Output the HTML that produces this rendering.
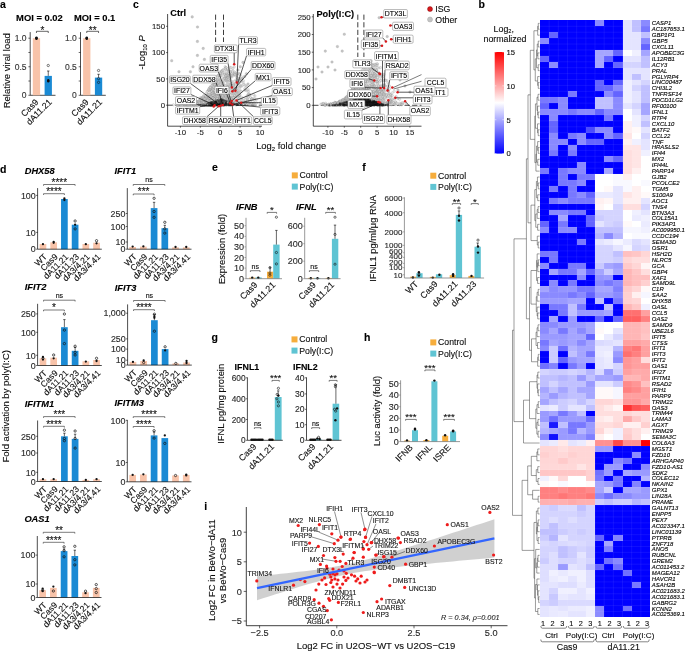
<!DOCTYPE html>
<html><head><meta charset="utf-8"><style>
html,body{margin:0;padding:0;background:#fff;width:685px;height:651px;overflow:hidden}
svg{display:block;font-family:"Liberation Sans", sans-serif;will-change:transform}
text{stroke:currentColor;stroke-width:0.12px}
</style></head><body>
<svg width="685" height="651" viewBox="0 0 685 651">
<rect width="685" height="651" fill="#fff"/>
<g shape-rendering="crispEdges">
<rect x="540.00" y="20.40" width="9.22" height="5.96" fill="#0000ff"/>
<rect x="549.17" y="20.40" width="9.22" height="5.96" fill="#0000ff"/>
<rect x="558.33" y="20.40" width="9.22" height="5.96" fill="#0000ff"/>
<rect x="567.50" y="20.40" width="9.22" height="5.96" fill="#0000ff"/>
<rect x="576.67" y="20.40" width="9.22" height="5.96" fill="#0000ff"/>
<rect x="585.83" y="20.40" width="9.22" height="5.96" fill="#0000ff"/>
<rect x="595.00" y="20.40" width="9.22" height="5.96" fill="#8a8aff"/>
<rect x="604.17" y="20.40" width="9.22" height="5.96" fill="#0000ff"/>
<rect x="613.33" y="20.40" width="9.22" height="5.96" fill="#0000ff"/>
<rect x="622.50" y="20.40" width="9.22" height="5.96" fill="#e4e4ff"/>
<rect x="631.67" y="20.40" width="9.22" height="5.96" fill="#c0c0ff"/>
<rect x="640.83" y="20.40" width="9.22" height="5.96" fill="#8a8aff"/>
<rect x="540.00" y="26.31" width="9.22" height="5.96" fill="#0000ff"/>
<rect x="549.17" y="26.31" width="9.22" height="5.96" fill="#0000ff"/>
<rect x="558.33" y="26.31" width="9.22" height="5.96" fill="#0000ff"/>
<rect x="567.50" y="26.31" width="9.22" height="5.96" fill="#0000ff"/>
<rect x="576.67" y="26.31" width="9.22" height="5.96" fill="#0000ff"/>
<rect x="585.83" y="26.31" width="9.22" height="5.96" fill="#0000ff"/>
<rect x="595.00" y="26.31" width="9.22" height="5.96" fill="#0000ff"/>
<rect x="604.17" y="26.31" width="9.22" height="5.96" fill="#0000ff"/>
<rect x="613.33" y="26.31" width="9.22" height="5.96" fill="#0000ff"/>
<rect x="622.50" y="26.31" width="9.22" height="5.96" fill="#e4e4ff"/>
<rect x="631.67" y="26.31" width="9.22" height="5.96" fill="#c0c0ff"/>
<rect x="640.83" y="26.31" width="9.22" height="5.96" fill="#7878ff"/>
<rect x="540.00" y="32.22" width="9.22" height="5.96" fill="#0000ff"/>
<rect x="549.17" y="32.22" width="9.22" height="5.96" fill="#6464ff"/>
<rect x="558.33" y="32.22" width="9.22" height="5.96" fill="#0000ff"/>
<rect x="567.50" y="32.22" width="9.22" height="5.96" fill="#0000ff"/>
<rect x="576.67" y="32.22" width="9.22" height="5.96" fill="#0000ff"/>
<rect x="585.83" y="32.22" width="9.22" height="5.96" fill="#0000ff"/>
<rect x="595.00" y="32.22" width="9.22" height="5.96" fill="#0000ff"/>
<rect x="604.17" y="32.22" width="9.22" height="5.96" fill="#0000ff"/>
<rect x="613.33" y="32.22" width="9.22" height="5.96" fill="#0000ff"/>
<rect x="622.50" y="32.22" width="9.22" height="5.96" fill="#e4e4ff"/>
<rect x="631.67" y="32.22" width="9.22" height="5.96" fill="#e4e4ff"/>
<rect x="640.83" y="32.22" width="9.22" height="5.96" fill="#c0c0ff"/>
<rect x="540.00" y="38.13" width="9.22" height="5.96" fill="#8a8aff"/>
<rect x="549.17" y="38.13" width="9.22" height="5.96" fill="#0000ff"/>
<rect x="558.33" y="38.13" width="9.22" height="5.96" fill="#0000ff"/>
<rect x="567.50" y="38.13" width="9.22" height="5.96" fill="#0000ff"/>
<rect x="576.67" y="38.13" width="9.22" height="5.96" fill="#0000ff"/>
<rect x="585.83" y="38.13" width="9.22" height="5.96" fill="#0000ff"/>
<rect x="595.00" y="38.13" width="9.22" height="5.96" fill="#0000ff"/>
<rect x="604.17" y="38.13" width="9.22" height="5.96" fill="#0000ff"/>
<rect x="613.33" y="38.13" width="9.22" height="5.96" fill="#0000ff"/>
<rect x="622.50" y="38.13" width="9.22" height="5.96" fill="#e4e4ff"/>
<rect x="631.67" y="38.13" width="9.22" height="5.96" fill="#e4e4ff"/>
<rect x="640.83" y="38.13" width="9.22" height="5.96" fill="#8a8aff"/>
<rect x="540.00" y="44.04" width="9.22" height="5.96" fill="#0000ff"/>
<rect x="549.17" y="44.04" width="9.22" height="5.96" fill="#0000ff"/>
<rect x="558.33" y="44.04" width="9.22" height="5.96" fill="#0000ff"/>
<rect x="567.50" y="44.04" width="9.22" height="5.96" fill="#0000ff"/>
<rect x="576.67" y="44.04" width="9.22" height="5.96" fill="#0000ff"/>
<rect x="585.83" y="44.04" width="9.22" height="5.96" fill="#0000ff"/>
<rect x="595.00" y="44.04" width="9.22" height="5.96" fill="#0000ff"/>
<rect x="604.17" y="44.04" width="9.22" height="5.96" fill="#0000ff"/>
<rect x="613.33" y="44.04" width="9.22" height="5.96" fill="#0000ff"/>
<rect x="622.50" y="44.04" width="9.22" height="5.96" fill="#e4e4ff"/>
<rect x="631.67" y="44.04" width="9.22" height="5.96" fill="#e4e4ff"/>
<rect x="640.83" y="44.04" width="9.22" height="5.96" fill="#6464ff"/>
<rect x="540.00" y="49.95" width="9.22" height="5.96" fill="#0000ff"/>
<rect x="549.17" y="49.95" width="9.22" height="5.96" fill="#0000ff"/>
<rect x="558.33" y="49.95" width="9.22" height="5.96" fill="#0000ff"/>
<rect x="567.50" y="49.95" width="9.22" height="5.96" fill="#0000ff"/>
<rect x="576.67" y="49.95" width="9.22" height="5.96" fill="#0000ff"/>
<rect x="585.83" y="49.95" width="9.22" height="5.96" fill="#0000ff"/>
<rect x="595.00" y="49.95" width="9.22" height="5.96" fill="#a5a5ff"/>
<rect x="604.17" y="49.95" width="9.22" height="5.96" fill="#a5a5ff"/>
<rect x="613.33" y="49.95" width="9.22" height="5.96" fill="#6464ff"/>
<rect x="622.50" y="49.95" width="9.22" height="5.96" fill="#ffffff"/>
<rect x="631.67" y="49.95" width="9.22" height="5.96" fill="#f0f0ff"/>
<rect x="640.83" y="49.95" width="9.22" height="5.96" fill="#a5a5ff"/>
<rect x="540.00" y="55.87" width="9.22" height="5.96" fill="#6464ff"/>
<rect x="549.17" y="55.87" width="9.22" height="5.96" fill="#0000ff"/>
<rect x="558.33" y="55.87" width="9.22" height="5.96" fill="#0000ff"/>
<rect x="567.50" y="55.87" width="9.22" height="5.96" fill="#0000ff"/>
<rect x="576.67" y="55.87" width="9.22" height="5.96" fill="#0000ff"/>
<rect x="585.83" y="55.87" width="9.22" height="5.96" fill="#0000ff"/>
<rect x="595.00" y="55.87" width="9.22" height="5.96" fill="#a5a5ff"/>
<rect x="604.17" y="55.87" width="9.22" height="5.96" fill="#6464ff"/>
<rect x="613.33" y="55.87" width="9.22" height="5.96" fill="#0000ff"/>
<rect x="622.50" y="55.87" width="9.22" height="5.96" fill="#e4e4ff"/>
<rect x="631.67" y="55.87" width="9.22" height="5.96" fill="#e4e4ff"/>
<rect x="640.83" y="55.87" width="9.22" height="5.96" fill="#c0c0ff"/>
<rect x="540.00" y="61.78" width="9.22" height="5.96" fill="#0000ff"/>
<rect x="549.17" y="61.78" width="9.22" height="5.96" fill="#8a8aff"/>
<rect x="558.33" y="61.78" width="9.22" height="5.96" fill="#0000ff"/>
<rect x="567.50" y="61.78" width="9.22" height="5.96" fill="#0000ff"/>
<rect x="576.67" y="61.78" width="9.22" height="5.96" fill="#0000ff"/>
<rect x="585.83" y="61.78" width="9.22" height="5.96" fill="#0000ff"/>
<rect x="595.00" y="61.78" width="9.22" height="5.96" fill="#a5a5ff"/>
<rect x="604.17" y="61.78" width="9.22" height="5.96" fill="#0000ff"/>
<rect x="613.33" y="61.78" width="9.22" height="5.96" fill="#6464ff"/>
<rect x="622.50" y="61.78" width="9.22" height="5.96" fill="#d4d4ff"/>
<rect x="631.67" y="61.78" width="9.22" height="5.96" fill="#d4d4ff"/>
<rect x="640.83" y="61.78" width="9.22" height="5.96" fill="#c0c0ff"/>
<rect x="540.00" y="67.69" width="9.22" height="5.96" fill="#0000ff"/>
<rect x="549.17" y="67.69" width="9.22" height="5.96" fill="#0000ff"/>
<rect x="558.33" y="67.69" width="9.22" height="5.96" fill="#0000ff"/>
<rect x="567.50" y="67.69" width="9.22" height="5.96" fill="#0000ff"/>
<rect x="576.67" y="67.69" width="9.22" height="5.96" fill="#0000ff"/>
<rect x="585.83" y="67.69" width="9.22" height="5.96" fill="#0000ff"/>
<rect x="595.00" y="67.69" width="9.22" height="5.96" fill="#0000ff"/>
<rect x="604.17" y="67.69" width="9.22" height="5.96" fill="#0000ff"/>
<rect x="613.33" y="67.69" width="9.22" height="5.96" fill="#0000ff"/>
<rect x="622.50" y="67.69" width="9.22" height="5.96" fill="#e4e4ff"/>
<rect x="631.67" y="67.69" width="9.22" height="5.96" fill="#e4e4ff"/>
<rect x="640.83" y="67.69" width="9.22" height="5.96" fill="#e4e4ff"/>
<rect x="540.00" y="73.60" width="9.22" height="5.96" fill="#0000ff"/>
<rect x="549.17" y="73.60" width="9.22" height="5.96" fill="#0000ff"/>
<rect x="558.33" y="73.60" width="9.22" height="5.96" fill="#0000ff"/>
<rect x="567.50" y="73.60" width="9.22" height="5.96" fill="#0000ff"/>
<rect x="576.67" y="73.60" width="9.22" height="5.96" fill="#0000ff"/>
<rect x="585.83" y="73.60" width="9.22" height="5.96" fill="#0000ff"/>
<rect x="595.00" y="73.60" width="9.22" height="5.96" fill="#0000ff"/>
<rect x="604.17" y="73.60" width="9.22" height="5.96" fill="#0000ff"/>
<rect x="613.33" y="73.60" width="9.22" height="5.96" fill="#0000ff"/>
<rect x="622.50" y="73.60" width="9.22" height="5.96" fill="#e4e4ff"/>
<rect x="631.67" y="73.60" width="9.22" height="5.96" fill="#c0c0ff"/>
<rect x="640.83" y="73.60" width="9.22" height="5.96" fill="#e4e4ff"/>
<rect x="540.00" y="79.51" width="9.22" height="5.96" fill="#0000ff"/>
<rect x="549.17" y="79.51" width="9.22" height="5.96" fill="#0000ff"/>
<rect x="558.33" y="79.51" width="9.22" height="5.96" fill="#0000ff"/>
<rect x="567.50" y="79.51" width="9.22" height="5.96" fill="#0000ff"/>
<rect x="576.67" y="79.51" width="9.22" height="5.96" fill="#0000ff"/>
<rect x="585.83" y="79.51" width="9.22" height="5.96" fill="#0000ff"/>
<rect x="595.00" y="79.51" width="9.22" height="5.96" fill="#6464ff"/>
<rect x="604.17" y="79.51" width="9.22" height="5.96" fill="#0000ff"/>
<rect x="613.33" y="79.51" width="9.22" height="5.96" fill="#6464ff"/>
<rect x="622.50" y="79.51" width="9.22" height="5.96" fill="#f0f0ff"/>
<rect x="631.67" y="79.51" width="9.22" height="5.96" fill="#e4e4ff"/>
<rect x="640.83" y="79.51" width="9.22" height="5.96" fill="#d4d4ff"/>
<rect x="540.00" y="85.42" width="9.22" height="5.96" fill="#0000ff"/>
<rect x="549.17" y="85.42" width="9.22" height="5.96" fill="#0000ff"/>
<rect x="558.33" y="85.42" width="9.22" height="5.96" fill="#0000ff"/>
<rect x="567.50" y="85.42" width="9.22" height="5.96" fill="#0000ff"/>
<rect x="576.67" y="85.42" width="9.22" height="5.96" fill="#0000ff"/>
<rect x="585.83" y="85.42" width="9.22" height="5.96" fill="#0000ff"/>
<rect x="595.00" y="85.42" width="9.22" height="5.96" fill="#6464ff"/>
<rect x="604.17" y="85.42" width="9.22" height="5.96" fill="#6464ff"/>
<rect x="613.33" y="85.42" width="9.22" height="5.96" fill="#8a8aff"/>
<rect x="622.50" y="85.42" width="9.22" height="5.96" fill="#f0f0ff"/>
<rect x="631.67" y="85.42" width="9.22" height="5.96" fill="#d4d4ff"/>
<rect x="640.83" y="85.42" width="9.22" height="5.96" fill="#c0c0ff"/>
<rect x="540.00" y="91.33" width="9.22" height="5.96" fill="#0000ff"/>
<rect x="549.17" y="91.33" width="9.22" height="5.96" fill="#0000ff"/>
<rect x="558.33" y="91.33" width="9.22" height="5.96" fill="#0000ff"/>
<rect x="567.50" y="91.33" width="9.22" height="5.96" fill="#7878ff"/>
<rect x="576.67" y="91.33" width="9.22" height="5.96" fill="#0000ff"/>
<rect x="585.83" y="91.33" width="9.22" height="5.96" fill="#0000ff"/>
<rect x="595.00" y="91.33" width="9.22" height="5.96" fill="#0000ff"/>
<rect x="604.17" y="91.33" width="9.22" height="5.96" fill="#8a8aff"/>
<rect x="613.33" y="91.33" width="9.22" height="5.96" fill="#6464ff"/>
<rect x="622.50" y="91.33" width="9.22" height="5.96" fill="#f0f0ff"/>
<rect x="631.67" y="91.33" width="9.22" height="5.96" fill="#e4e4ff"/>
<rect x="640.83" y="91.33" width="9.22" height="5.96" fill="#c0c0ff"/>
<rect x="540.00" y="97.24" width="9.22" height="5.96" fill="#7878ff"/>
<rect x="549.17" y="97.24" width="9.22" height="5.96" fill="#7878ff"/>
<rect x="558.33" y="97.24" width="9.22" height="5.96" fill="#8a8aff"/>
<rect x="567.50" y="97.24" width="9.22" height="5.96" fill="#0000ff"/>
<rect x="576.67" y="97.24" width="9.22" height="5.96" fill="#0000ff"/>
<rect x="585.83" y="97.24" width="9.22" height="5.96" fill="#0000ff"/>
<rect x="595.00" y="97.24" width="9.22" height="5.96" fill="#c0c0ff"/>
<rect x="604.17" y="97.24" width="9.22" height="5.96" fill="#c0c0ff"/>
<rect x="613.33" y="97.24" width="9.22" height="5.96" fill="#8a8aff"/>
<rect x="622.50" y="97.24" width="9.22" height="5.96" fill="#f0f0ff"/>
<rect x="631.67" y="97.24" width="9.22" height="5.96" fill="#e4e4ff"/>
<rect x="640.83" y="97.24" width="9.22" height="5.96" fill="#c0c0ff"/>
<rect x="540.00" y="103.15" width="9.22" height="5.96" fill="#6464ff"/>
<rect x="549.17" y="103.15" width="9.22" height="5.96" fill="#0000ff"/>
<rect x="558.33" y="103.15" width="9.22" height="5.96" fill="#8a8aff"/>
<rect x="567.50" y="103.15" width="9.22" height="5.96" fill="#0000ff"/>
<rect x="576.67" y="103.15" width="9.22" height="5.96" fill="#0000ff"/>
<rect x="585.83" y="103.15" width="9.22" height="5.96" fill="#0000ff"/>
<rect x="595.00" y="103.15" width="9.22" height="5.96" fill="#c0c0ff"/>
<rect x="604.17" y="103.15" width="9.22" height="5.96" fill="#c0c0ff"/>
<rect x="613.33" y="103.15" width="9.22" height="5.96" fill="#8a8aff"/>
<rect x="622.50" y="103.15" width="9.22" height="5.96" fill="#e4e4ff"/>
<rect x="631.67" y="103.15" width="9.22" height="5.96" fill="#d4d4ff"/>
<rect x="640.83" y="103.15" width="9.22" height="5.96" fill="#a5a5ff"/>
<rect x="540.00" y="109.06" width="9.22" height="5.96" fill="#8a8aff"/>
<rect x="549.17" y="109.06" width="9.22" height="5.96" fill="#8a8aff"/>
<rect x="558.33" y="109.06" width="9.22" height="5.96" fill="#8a8aff"/>
<rect x="567.50" y="109.06" width="9.22" height="5.96" fill="#7878ff"/>
<rect x="576.67" y="109.06" width="9.22" height="5.96" fill="#8a8aff"/>
<rect x="585.83" y="109.06" width="9.22" height="5.96" fill="#8a8aff"/>
<rect x="595.00" y="109.06" width="9.22" height="5.96" fill="#6464ff"/>
<rect x="604.17" y="109.06" width="9.22" height="5.96" fill="#8a8aff"/>
<rect x="613.33" y="109.06" width="9.22" height="5.96" fill="#8a8aff"/>
<rect x="622.50" y="109.06" width="9.22" height="5.96" fill="#ffffff"/>
<rect x="631.67" y="109.06" width="9.22" height="5.96" fill="#e4e4ff"/>
<rect x="640.83" y="109.06" width="9.22" height="5.96" fill="#a5a5ff"/>
<rect x="540.00" y="114.97" width="9.22" height="5.96" fill="#0000ff"/>
<rect x="549.17" y="114.97" width="9.22" height="5.96" fill="#8a8aff"/>
<rect x="558.33" y="114.97" width="9.22" height="5.96" fill="#0000ff"/>
<rect x="567.50" y="114.97" width="9.22" height="5.96" fill="#0000ff"/>
<rect x="576.67" y="114.97" width="9.22" height="5.96" fill="#0000ff"/>
<rect x="585.83" y="114.97" width="9.22" height="5.96" fill="#0000ff"/>
<rect x="595.00" y="114.97" width="9.22" height="5.96" fill="#0000ff"/>
<rect x="604.17" y="114.97" width="9.22" height="5.96" fill="#7878ff"/>
<rect x="613.33" y="114.97" width="9.22" height="5.96" fill="#0000ff"/>
<rect x="622.50" y="114.97" width="9.22" height="5.96" fill="#ffffff"/>
<rect x="631.67" y="114.97" width="9.22" height="5.96" fill="#f0f0ff"/>
<rect x="640.83" y="114.97" width="9.22" height="5.96" fill="#d4d4ff"/>
<rect x="540.00" y="120.89" width="9.22" height="5.96" fill="#0000ff"/>
<rect x="549.17" y="120.89" width="9.22" height="5.96" fill="#6464ff"/>
<rect x="558.33" y="120.89" width="9.22" height="5.96" fill="#0000ff"/>
<rect x="567.50" y="120.89" width="9.22" height="5.96" fill="#0000ff"/>
<rect x="576.67" y="120.89" width="9.22" height="5.96" fill="#0000ff"/>
<rect x="585.83" y="120.89" width="9.22" height="5.96" fill="#0000ff"/>
<rect x="595.00" y="120.89" width="9.22" height="5.96" fill="#0000ff"/>
<rect x="604.17" y="120.89" width="9.22" height="5.96" fill="#0000ff"/>
<rect x="613.33" y="120.89" width="9.22" height="5.96" fill="#0000ff"/>
<rect x="622.50" y="120.89" width="9.22" height="5.96" fill="#fff0f0"/>
<rect x="631.67" y="120.89" width="9.22" height="5.96" fill="#f0f0ff"/>
<rect x="640.83" y="120.89" width="9.22" height="5.96" fill="#c0c0ff"/>
<rect x="540.00" y="126.80" width="9.22" height="5.96" fill="#0000ff"/>
<rect x="549.17" y="126.80" width="9.22" height="5.96" fill="#6464ff"/>
<rect x="558.33" y="126.80" width="9.22" height="5.96" fill="#0000ff"/>
<rect x="567.50" y="126.80" width="9.22" height="5.96" fill="#0000ff"/>
<rect x="576.67" y="126.80" width="9.22" height="5.96" fill="#0000ff"/>
<rect x="585.83" y="126.80" width="9.22" height="5.96" fill="#4b4bff"/>
<rect x="595.00" y="126.80" width="9.22" height="5.96" fill="#8a8aff"/>
<rect x="604.17" y="126.80" width="9.22" height="5.96" fill="#8a8aff"/>
<rect x="613.33" y="126.80" width="9.22" height="5.96" fill="#0000ff"/>
<rect x="622.50" y="126.80" width="9.22" height="5.96" fill="#fff0f0"/>
<rect x="631.67" y="126.80" width="9.22" height="5.96" fill="#fff9f9"/>
<rect x="640.83" y="126.80" width="9.22" height="5.96" fill="#e4e4ff"/>
<rect x="540.00" y="132.71" width="9.22" height="5.96" fill="#0000ff"/>
<rect x="549.17" y="132.71" width="9.22" height="5.96" fill="#8a8aff"/>
<rect x="558.33" y="132.71" width="9.22" height="5.96" fill="#0000ff"/>
<rect x="567.50" y="132.71" width="9.22" height="5.96" fill="#7878ff"/>
<rect x="576.67" y="132.71" width="9.22" height="5.96" fill="#8a8aff"/>
<rect x="585.83" y="132.71" width="9.22" height="5.96" fill="#0000ff"/>
<rect x="595.00" y="132.71" width="9.22" height="5.96" fill="#0000ff"/>
<rect x="604.17" y="132.71" width="9.22" height="5.96" fill="#8a8aff"/>
<rect x="613.33" y="132.71" width="9.22" height="5.96" fill="#6464ff"/>
<rect x="622.50" y="132.71" width="9.22" height="5.96" fill="#ffe5e5"/>
<rect x="631.67" y="132.71" width="9.22" height="5.96" fill="#ffffff"/>
<rect x="640.83" y="132.71" width="9.22" height="5.96" fill="#d4d4ff"/>
<rect x="540.00" y="138.62" width="9.22" height="5.96" fill="#0000ff"/>
<rect x="549.17" y="138.62" width="9.22" height="5.96" fill="#8a8aff"/>
<rect x="558.33" y="138.62" width="9.22" height="5.96" fill="#8a8aff"/>
<rect x="567.50" y="138.62" width="9.22" height="5.96" fill="#0000ff"/>
<rect x="576.67" y="138.62" width="9.22" height="5.96" fill="#8a8aff"/>
<rect x="585.83" y="138.62" width="9.22" height="5.96" fill="#6464ff"/>
<rect x="595.00" y="138.62" width="9.22" height="5.96" fill="#6464ff"/>
<rect x="604.17" y="138.62" width="9.22" height="5.96" fill="#0000ff"/>
<rect x="613.33" y="138.62" width="9.22" height="5.96" fill="#0000ff"/>
<rect x="622.50" y="138.62" width="9.22" height="5.96" fill="#fff0f0"/>
<rect x="631.67" y="138.62" width="9.22" height="5.96" fill="#f0f0ff"/>
<rect x="640.83" y="138.62" width="9.22" height="5.96" fill="#e4e4ff"/>
<rect x="540.00" y="144.53" width="9.22" height="5.96" fill="#0000ff"/>
<rect x="549.17" y="144.53" width="9.22" height="5.96" fill="#8a8aff"/>
<rect x="558.33" y="144.53" width="9.22" height="5.96" fill="#0000ff"/>
<rect x="567.50" y="144.53" width="9.22" height="5.96" fill="#8a8aff"/>
<rect x="576.67" y="144.53" width="9.22" height="5.96" fill="#0000ff"/>
<rect x="585.83" y="144.53" width="9.22" height="5.96" fill="#0000ff"/>
<rect x="595.00" y="144.53" width="9.22" height="5.96" fill="#0000ff"/>
<rect x="604.17" y="144.53" width="9.22" height="5.96" fill="#0000ff"/>
<rect x="613.33" y="144.53" width="9.22" height="5.96" fill="#0000ff"/>
<rect x="622.50" y="144.53" width="9.22" height="5.96" fill="#ffe5e5"/>
<rect x="631.67" y="144.53" width="9.22" height="5.96" fill="#ffe5e5"/>
<rect x="640.83" y="144.53" width="9.22" height="5.96" fill="#e4e4ff"/>
<rect x="540.00" y="150.44" width="9.22" height="5.96" fill="#0000ff"/>
<rect x="549.17" y="150.44" width="9.22" height="5.96" fill="#7878ff"/>
<rect x="558.33" y="150.44" width="9.22" height="5.96" fill="#0000ff"/>
<rect x="567.50" y="150.44" width="9.22" height="5.96" fill="#7878ff"/>
<rect x="576.67" y="150.44" width="9.22" height="5.96" fill="#0000ff"/>
<rect x="585.83" y="150.44" width="9.22" height="5.96" fill="#0000ff"/>
<rect x="595.00" y="150.44" width="9.22" height="5.96" fill="#0000ff"/>
<rect x="604.17" y="150.44" width="9.22" height="5.96" fill="#0000ff"/>
<rect x="613.33" y="150.44" width="9.22" height="5.96" fill="#0000ff"/>
<rect x="622.50" y="150.44" width="9.22" height="5.96" fill="#ffdede"/>
<rect x="631.67" y="150.44" width="9.22" height="5.96" fill="#ffe5e5"/>
<rect x="640.83" y="150.44" width="9.22" height="5.96" fill="#f0f0ff"/>
<rect x="540.00" y="156.35" width="9.22" height="5.96" fill="#0000ff"/>
<rect x="549.17" y="156.35" width="9.22" height="5.96" fill="#0000ff"/>
<rect x="558.33" y="156.35" width="9.22" height="5.96" fill="#0000ff"/>
<rect x="567.50" y="156.35" width="9.22" height="5.96" fill="#0000ff"/>
<rect x="576.67" y="156.35" width="9.22" height="5.96" fill="#0000ff"/>
<rect x="585.83" y="156.35" width="9.22" height="5.96" fill="#0000ff"/>
<rect x="595.00" y="156.35" width="9.22" height="5.96" fill="#0000ff"/>
<rect x="604.17" y="156.35" width="9.22" height="5.96" fill="#8a8aff"/>
<rect x="613.33" y="156.35" width="9.22" height="5.96" fill="#6464ff"/>
<rect x="622.50" y="156.35" width="9.22" height="5.96" fill="#ffdede"/>
<rect x="631.67" y="156.35" width="9.22" height="5.96" fill="#ffe5e5"/>
<rect x="640.83" y="156.35" width="9.22" height="5.96" fill="#ffffff"/>
<rect x="540.00" y="162.26" width="9.22" height="5.96" fill="#0000ff"/>
<rect x="549.17" y="162.26" width="9.22" height="5.96" fill="#0000ff"/>
<rect x="558.33" y="162.26" width="9.22" height="5.96" fill="#0000ff"/>
<rect x="567.50" y="162.26" width="9.22" height="5.96" fill="#0000ff"/>
<rect x="576.67" y="162.26" width="9.22" height="5.96" fill="#8a8aff"/>
<rect x="585.83" y="162.26" width="9.22" height="5.96" fill="#0000ff"/>
<rect x="595.00" y="162.26" width="9.22" height="5.96" fill="#0000ff"/>
<rect x="604.17" y="162.26" width="9.22" height="5.96" fill="#0000ff"/>
<rect x="613.33" y="162.26" width="9.22" height="5.96" fill="#0000ff"/>
<rect x="622.50" y="162.26" width="9.22" height="5.96" fill="#ffdede"/>
<rect x="631.67" y="162.26" width="9.22" height="5.96" fill="#ffe5e5"/>
<rect x="640.83" y="162.26" width="9.22" height="5.96" fill="#ffffff"/>
<rect x="540.00" y="168.17" width="9.22" height="5.96" fill="#7878ff"/>
<rect x="549.17" y="168.17" width="9.22" height="5.96" fill="#0000ff"/>
<rect x="558.33" y="168.17" width="9.22" height="5.96" fill="#7878ff"/>
<rect x="567.50" y="168.17" width="9.22" height="5.96" fill="#8a8aff"/>
<rect x="576.67" y="168.17" width="9.22" height="5.96" fill="#8a8aff"/>
<rect x="585.83" y="168.17" width="9.22" height="5.96" fill="#0000ff"/>
<rect x="595.00" y="168.17" width="9.22" height="5.96" fill="#0000ff"/>
<rect x="604.17" y="168.17" width="9.22" height="5.96" fill="#a5a5ff"/>
<rect x="613.33" y="168.17" width="9.22" height="5.96" fill="#0000ff"/>
<rect x="622.50" y="168.17" width="9.22" height="5.96" fill="#ffdede"/>
<rect x="631.67" y="168.17" width="9.22" height="5.96" fill="#fff0f0"/>
<rect x="640.83" y="168.17" width="9.22" height="5.96" fill="#ffffff"/>
<rect x="540.00" y="174.08" width="9.22" height="5.96" fill="#0000ff"/>
<rect x="549.17" y="174.08" width="9.22" height="5.96" fill="#0000ff"/>
<rect x="558.33" y="174.08" width="9.22" height="5.96" fill="#7878ff"/>
<rect x="567.50" y="174.08" width="9.22" height="5.96" fill="#0000ff"/>
<rect x="576.67" y="174.08" width="9.22" height="5.96" fill="#7878ff"/>
<rect x="585.83" y="174.08" width="9.22" height="5.96" fill="#7878ff"/>
<rect x="595.00" y="174.08" width="9.22" height="5.96" fill="#ffffff"/>
<rect x="604.17" y="174.08" width="9.22" height="5.96" fill="#ffffff"/>
<rect x="613.33" y="174.08" width="9.22" height="5.96" fill="#f9f9ff"/>
<rect x="622.50" y="174.08" width="9.22" height="5.96" fill="#fff0f0"/>
<rect x="631.67" y="174.08" width="9.22" height="5.96" fill="#ffffff"/>
<rect x="640.83" y="174.08" width="9.22" height="5.96" fill="#ffffff"/>
<rect x="540.00" y="179.99" width="9.22" height="5.96" fill="#0000ff"/>
<rect x="549.17" y="179.99" width="9.22" height="5.96" fill="#0000ff"/>
<rect x="558.33" y="179.99" width="9.22" height="5.96" fill="#7878ff"/>
<rect x="567.50" y="179.99" width="9.22" height="5.96" fill="#7878ff"/>
<rect x="576.67" y="179.99" width="9.22" height="5.96" fill="#8a8aff"/>
<rect x="585.83" y="179.99" width="9.22" height="5.96" fill="#0000ff"/>
<rect x="595.00" y="179.99" width="9.22" height="5.96" fill="#ffffff"/>
<rect x="604.17" y="179.99" width="9.22" height="5.96" fill="#ffffff"/>
<rect x="613.33" y="179.99" width="9.22" height="5.96" fill="#f9f9ff"/>
<rect x="622.50" y="179.99" width="9.22" height="5.96" fill="#f9f9ff"/>
<rect x="631.67" y="179.99" width="9.22" height="5.96" fill="#ffffff"/>
<rect x="640.83" y="179.99" width="9.22" height="5.96" fill="#f9f9ff"/>
<rect x="540.00" y="185.90" width="9.22" height="5.96" fill="#0000ff"/>
<rect x="549.17" y="185.90" width="9.22" height="5.96" fill="#7878ff"/>
<rect x="558.33" y="185.90" width="9.22" height="5.96" fill="#0000ff"/>
<rect x="567.50" y="185.90" width="9.22" height="5.96" fill="#7878ff"/>
<rect x="576.67" y="185.90" width="9.22" height="5.96" fill="#0000ff"/>
<rect x="585.83" y="185.90" width="9.22" height="5.96" fill="#0000ff"/>
<rect x="595.00" y="185.90" width="9.22" height="5.96" fill="#ffffff"/>
<rect x="604.17" y="185.90" width="9.22" height="5.96" fill="#fff9f9"/>
<rect x="613.33" y="185.90" width="9.22" height="5.96" fill="#e4e4ff"/>
<rect x="622.50" y="185.90" width="9.22" height="5.96" fill="#f9f9ff"/>
<rect x="631.67" y="185.90" width="9.22" height="5.96" fill="#fff0f0"/>
<rect x="640.83" y="185.90" width="9.22" height="5.96" fill="#ffffff"/>
<rect x="540.00" y="191.82" width="9.22" height="5.96" fill="#0000ff"/>
<rect x="549.17" y="191.82" width="9.22" height="5.96" fill="#0000ff"/>
<rect x="558.33" y="191.82" width="9.22" height="5.96" fill="#0000ff"/>
<rect x="567.50" y="191.82" width="9.22" height="5.96" fill="#7878ff"/>
<rect x="576.67" y="191.82" width="9.22" height="5.96" fill="#8a8aff"/>
<rect x="585.83" y="191.82" width="9.22" height="5.96" fill="#6464ff"/>
<rect x="595.00" y="191.82" width="9.22" height="5.96" fill="#ebebff"/>
<rect x="604.17" y="191.82" width="9.22" height="5.96" fill="#ebebff"/>
<rect x="613.33" y="191.82" width="9.22" height="5.96" fill="#e4e4ff"/>
<rect x="622.50" y="191.82" width="9.22" height="5.96" fill="#ffe5e5"/>
<rect x="631.67" y="191.82" width="9.22" height="5.96" fill="#fff0f0"/>
<rect x="640.83" y="191.82" width="9.22" height="5.96" fill="#fff9f9"/>
<rect x="540.00" y="197.73" width="9.22" height="5.96" fill="#0000ff"/>
<rect x="549.17" y="197.73" width="9.22" height="5.96" fill="#7878ff"/>
<rect x="558.33" y="197.73" width="9.22" height="5.96" fill="#8a8aff"/>
<rect x="567.50" y="197.73" width="9.22" height="5.96" fill="#7878ff"/>
<rect x="576.67" y="197.73" width="9.22" height="5.96" fill="#7878ff"/>
<rect x="585.83" y="197.73" width="9.22" height="5.96" fill="#7878ff"/>
<rect x="595.00" y="197.73" width="9.22" height="5.96" fill="#fff0f0"/>
<rect x="604.17" y="197.73" width="9.22" height="5.96" fill="#fff6f6"/>
<rect x="613.33" y="197.73" width="9.22" height="5.96" fill="#e4e4ff"/>
<rect x="622.50" y="197.73" width="9.22" height="5.96" fill="#fff0f0"/>
<rect x="631.67" y="197.73" width="9.22" height="5.96" fill="#fff0f0"/>
<rect x="640.83" y="197.73" width="9.22" height="5.96" fill="#e4e4ff"/>
<rect x="540.00" y="203.64" width="9.22" height="5.96" fill="#0000ff"/>
<rect x="549.17" y="203.64" width="9.22" height="5.96" fill="#0000ff"/>
<rect x="558.33" y="203.64" width="9.22" height="5.96" fill="#0000ff"/>
<rect x="567.50" y="203.64" width="9.22" height="5.96" fill="#0000ff"/>
<rect x="576.67" y="203.64" width="9.22" height="5.96" fill="#0000ff"/>
<rect x="585.83" y="203.64" width="9.22" height="5.96" fill="#0000ff"/>
<rect x="595.00" y="203.64" width="9.22" height="5.96" fill="#fff6f6"/>
<rect x="604.17" y="203.64" width="9.22" height="5.96" fill="#ffffff"/>
<rect x="613.33" y="203.64" width="9.22" height="5.96" fill="#d4d4ff"/>
<rect x="622.50" y="203.64" width="9.22" height="5.96" fill="#ffdede"/>
<rect x="631.67" y="203.64" width="9.22" height="5.96" fill="#ffdede"/>
<rect x="640.83" y="203.64" width="9.22" height="5.96" fill="#d4d4ff"/>
<rect x="540.00" y="209.55" width="9.22" height="5.96" fill="#0000ff"/>
<rect x="549.17" y="209.55" width="9.22" height="5.96" fill="#8a8aff"/>
<rect x="558.33" y="209.55" width="9.22" height="5.96" fill="#8a8aff"/>
<rect x="567.50" y="209.55" width="9.22" height="5.96" fill="#7878ff"/>
<rect x="576.67" y="209.55" width="9.22" height="5.96" fill="#7878ff"/>
<rect x="585.83" y="209.55" width="9.22" height="5.96" fill="#0000ff"/>
<rect x="595.00" y="209.55" width="9.22" height="5.96" fill="#d4d4ff"/>
<rect x="604.17" y="209.55" width="9.22" height="5.96" fill="#d4d4ff"/>
<rect x="613.33" y="209.55" width="9.22" height="5.96" fill="#d4d4ff"/>
<rect x="622.50" y="209.55" width="9.22" height="5.96" fill="#ffffff"/>
<rect x="631.67" y="209.55" width="9.22" height="5.96" fill="#f0f0ff"/>
<rect x="640.83" y="209.55" width="9.22" height="5.96" fill="#e4e4ff"/>
<rect x="540.00" y="215.46" width="9.22" height="5.96" fill="#0000ff"/>
<rect x="549.17" y="215.46" width="9.22" height="5.96" fill="#0000ff"/>
<rect x="558.33" y="215.46" width="9.22" height="5.96" fill="#a5a5ff"/>
<rect x="567.50" y="215.46" width="9.22" height="5.96" fill="#0000ff"/>
<rect x="576.67" y="215.46" width="9.22" height="5.96" fill="#0000ff"/>
<rect x="585.83" y="215.46" width="9.22" height="5.96" fill="#6464ff"/>
<rect x="595.00" y="215.46" width="9.22" height="5.96" fill="#ccccff"/>
<rect x="604.17" y="215.46" width="9.22" height="5.96" fill="#d4d4ff"/>
<rect x="613.33" y="215.46" width="9.22" height="5.96" fill="#d4d4ff"/>
<rect x="622.50" y="215.46" width="9.22" height="5.96" fill="#ffffff"/>
<rect x="631.67" y="215.46" width="9.22" height="5.96" fill="#ebebff"/>
<rect x="640.83" y="215.46" width="9.22" height="5.96" fill="#f0f0ff"/>
<rect x="540.00" y="221.37" width="9.22" height="5.96" fill="#6464ff"/>
<rect x="549.17" y="221.37" width="9.22" height="5.96" fill="#0000ff"/>
<rect x="558.33" y="221.37" width="9.22" height="5.96" fill="#7878ff"/>
<rect x="567.50" y="221.37" width="9.22" height="5.96" fill="#0000ff"/>
<rect x="576.67" y="221.37" width="9.22" height="5.96" fill="#0000ff"/>
<rect x="585.83" y="221.37" width="9.22" height="5.96" fill="#6464ff"/>
<rect x="595.00" y="221.37" width="9.22" height="5.96" fill="#e4e4ff"/>
<rect x="604.17" y="221.37" width="9.22" height="5.96" fill="#d4d4ff"/>
<rect x="613.33" y="221.37" width="9.22" height="5.96" fill="#ccccff"/>
<rect x="622.50" y="221.37" width="9.22" height="5.96" fill="#fff9f9"/>
<rect x="631.67" y="221.37" width="9.22" height="5.96" fill="#ffffff"/>
<rect x="640.83" y="221.37" width="9.22" height="5.96" fill="#ebebff"/>
<rect x="540.00" y="227.28" width="9.22" height="5.96" fill="#8a8aff"/>
<rect x="549.17" y="227.28" width="9.22" height="5.96" fill="#0000ff"/>
<rect x="558.33" y="227.28" width="9.22" height="5.96" fill="#8a8aff"/>
<rect x="567.50" y="227.28" width="9.22" height="5.96" fill="#8a8aff"/>
<rect x="576.67" y="227.28" width="9.22" height="5.96" fill="#0000ff"/>
<rect x="585.83" y="227.28" width="9.22" height="5.96" fill="#0000ff"/>
<rect x="595.00" y="227.28" width="9.22" height="5.96" fill="#c0c0ff"/>
<rect x="604.17" y="227.28" width="9.22" height="5.96" fill="#c0c0ff"/>
<rect x="613.33" y="227.28" width="9.22" height="5.96" fill="#c0c0ff"/>
<rect x="622.50" y="227.28" width="9.22" height="5.96" fill="#f6f6ff"/>
<rect x="631.67" y="227.28" width="9.22" height="5.96" fill="#f6f6ff"/>
<rect x="640.83" y="227.28" width="9.22" height="5.96" fill="#f0f0ff"/>
<rect x="540.00" y="233.19" width="9.22" height="5.96" fill="#0000ff"/>
<rect x="549.17" y="233.19" width="9.22" height="5.96" fill="#0000ff"/>
<rect x="558.33" y="233.19" width="9.22" height="5.96" fill="#0000ff"/>
<rect x="567.50" y="233.19" width="9.22" height="5.96" fill="#0000ff"/>
<rect x="576.67" y="233.19" width="9.22" height="5.96" fill="#0000ff"/>
<rect x="585.83" y="233.19" width="9.22" height="5.96" fill="#0000ff"/>
<rect x="595.00" y="233.19" width="9.22" height="5.96" fill="#b5b5ff"/>
<rect x="604.17" y="233.19" width="9.22" height="5.96" fill="#8a8aff"/>
<rect x="613.33" y="233.19" width="9.22" height="5.96" fill="#b5b5ff"/>
<rect x="622.50" y="233.19" width="9.22" height="5.96" fill="#ffffff"/>
<rect x="631.67" y="233.19" width="9.22" height="5.96" fill="#f9f9ff"/>
<rect x="640.83" y="233.19" width="9.22" height="5.96" fill="#f9f9ff"/>
<rect x="540.00" y="239.10" width="9.22" height="5.96" fill="#0000ff"/>
<rect x="549.17" y="239.10" width="9.22" height="5.96" fill="#0000ff"/>
<rect x="558.33" y="239.10" width="9.22" height="5.96" fill="#0000ff"/>
<rect x="567.50" y="239.10" width="9.22" height="5.96" fill="#0000ff"/>
<rect x="576.67" y="239.10" width="9.22" height="5.96" fill="#7878ff"/>
<rect x="585.83" y="239.10" width="9.22" height="5.96" fill="#0000ff"/>
<rect x="595.00" y="239.10" width="9.22" height="5.96" fill="#e4e4ff"/>
<rect x="604.17" y="239.10" width="9.22" height="5.96" fill="#ebebff"/>
<rect x="613.33" y="239.10" width="9.22" height="5.96" fill="#f6f6ff"/>
<rect x="622.50" y="239.10" width="9.22" height="5.96" fill="#ebebff"/>
<rect x="631.67" y="239.10" width="9.22" height="5.96" fill="#dadaff"/>
<rect x="640.83" y="239.10" width="9.22" height="5.96" fill="#e4e4ff"/>
<rect x="540.00" y="245.01" width="9.22" height="5.96" fill="#0000ff"/>
<rect x="549.17" y="245.01" width="9.22" height="5.96" fill="#0000ff"/>
<rect x="558.33" y="245.01" width="9.22" height="5.96" fill="#0000ff"/>
<rect x="567.50" y="245.01" width="9.22" height="5.96" fill="#0000ff"/>
<rect x="576.67" y="245.01" width="9.22" height="5.96" fill="#0000ff"/>
<rect x="585.83" y="245.01" width="9.22" height="5.96" fill="#0000ff"/>
<rect x="595.00" y="245.01" width="9.22" height="5.96" fill="#d4d4ff"/>
<rect x="604.17" y="245.01" width="9.22" height="5.96" fill="#d4d4ff"/>
<rect x="613.33" y="245.01" width="9.22" height="5.96" fill="#e4e4ff"/>
<rect x="622.50" y="245.01" width="9.22" height="5.96" fill="#f6f6ff"/>
<rect x="631.67" y="245.01" width="9.22" height="5.96" fill="#d4d4ff"/>
<rect x="640.83" y="245.01" width="9.22" height="5.96" fill="#dadaff"/>
<rect x="540.00" y="250.92" width="9.22" height="5.96" fill="#7878ff"/>
<rect x="549.17" y="250.92" width="9.22" height="5.96" fill="#7878ff"/>
<rect x="558.33" y="250.92" width="9.22" height="5.96" fill="#0000ff"/>
<rect x="567.50" y="250.92" width="9.22" height="5.96" fill="#0000ff"/>
<rect x="576.67" y="250.92" width="9.22" height="5.96" fill="#0000ff"/>
<rect x="585.83" y="250.92" width="9.22" height="5.96" fill="#0000ff"/>
<rect x="595.00" y="250.92" width="9.22" height="5.96" fill="#d4d4ff"/>
<rect x="604.17" y="250.92" width="9.22" height="5.96" fill="#d4d4ff"/>
<rect x="613.33" y="250.92" width="9.22" height="5.96" fill="#c0c0ff"/>
<rect x="622.50" y="250.92" width="9.22" height="5.96" fill="#ffc0c0"/>
<rect x="631.67" y="250.92" width="9.22" height="5.96" fill="#ffc6c6"/>
<rect x="640.83" y="250.92" width="9.22" height="5.96" fill="#ffd6d6"/>
<rect x="540.00" y="256.84" width="9.22" height="5.96" fill="#0000ff"/>
<rect x="549.17" y="256.84" width="9.22" height="5.96" fill="#7878ff"/>
<rect x="558.33" y="256.84" width="9.22" height="5.96" fill="#0000ff"/>
<rect x="567.50" y="256.84" width="9.22" height="5.96" fill="#0000ff"/>
<rect x="576.67" y="256.84" width="9.22" height="5.96" fill="#0000ff"/>
<rect x="585.83" y="256.84" width="9.22" height="5.96" fill="#0000ff"/>
<rect x="595.00" y="256.84" width="9.22" height="5.96" fill="#d4d4ff"/>
<rect x="604.17" y="256.84" width="9.22" height="5.96" fill="#d4d4ff"/>
<rect x="613.33" y="256.84" width="9.22" height="5.96" fill="#ccccff"/>
<rect x="622.50" y="256.84" width="9.22" height="5.96" fill="#ffd6d6"/>
<rect x="631.67" y="256.84" width="9.22" height="5.96" fill="#ffdede"/>
<rect x="640.83" y="256.84" width="9.22" height="5.96" fill="#ffdede"/>
<rect x="540.00" y="262.75" width="9.22" height="5.96" fill="#8a8aff"/>
<rect x="549.17" y="262.75" width="9.22" height="5.96" fill="#0000ff"/>
<rect x="558.33" y="262.75" width="9.22" height="5.96" fill="#0000ff"/>
<rect x="567.50" y="262.75" width="9.22" height="5.96" fill="#7878ff"/>
<rect x="576.67" y="262.75" width="9.22" height="5.96" fill="#7878ff"/>
<rect x="585.83" y="262.75" width="9.22" height="5.96" fill="#0000ff"/>
<rect x="595.00" y="262.75" width="9.22" height="5.96" fill="#c8c8ff"/>
<rect x="604.17" y="262.75" width="9.22" height="5.96" fill="#a5a5ff"/>
<rect x="613.33" y="262.75" width="9.22" height="5.96" fill="#9a9aff"/>
<rect x="622.50" y="262.75" width="9.22" height="5.96" fill="#ffcaca"/>
<rect x="631.67" y="262.75" width="9.22" height="5.96" fill="#ffd6d6"/>
<rect x="640.83" y="262.75" width="9.22" height="5.96" fill="#fff6f6"/>
<rect x="540.00" y="268.66" width="9.22" height="5.96" fill="#0000ff"/>
<rect x="549.17" y="268.66" width="9.22" height="5.96" fill="#a5a5ff"/>
<rect x="558.33" y="268.66" width="9.22" height="5.96" fill="#7878ff"/>
<rect x="567.50" y="268.66" width="9.22" height="5.96" fill="#7878ff"/>
<rect x="576.67" y="268.66" width="9.22" height="5.96" fill="#a5a5ff"/>
<rect x="585.83" y="268.66" width="9.22" height="5.96" fill="#6464ff"/>
<rect x="595.00" y="268.66" width="9.22" height="5.96" fill="#a5a5ff"/>
<rect x="604.17" y="268.66" width="9.22" height="5.96" fill="#ccccff"/>
<rect x="613.33" y="268.66" width="9.22" height="5.96" fill="#a5a5ff"/>
<rect x="622.50" y="268.66" width="9.22" height="5.96" fill="#ffb6b6"/>
<rect x="631.67" y="268.66" width="9.22" height="5.96" fill="#ffc6c6"/>
<rect x="640.83" y="268.66" width="9.22" height="5.96" fill="#ffdede"/>
<rect x="540.00" y="274.57" width="9.22" height="5.96" fill="#0000ff"/>
<rect x="549.17" y="274.57" width="9.22" height="5.96" fill="#0000ff"/>
<rect x="558.33" y="274.57" width="9.22" height="5.96" fill="#0000ff"/>
<rect x="567.50" y="274.57" width="9.22" height="5.96" fill="#0000ff"/>
<rect x="576.67" y="274.57" width="9.22" height="5.96" fill="#8a8aff"/>
<rect x="585.83" y="274.57" width="9.22" height="5.96" fill="#0000ff"/>
<rect x="595.00" y="274.57" width="9.22" height="5.96" fill="#9595ff"/>
<rect x="604.17" y="274.57" width="9.22" height="5.96" fill="#9a9aff"/>
<rect x="613.33" y="274.57" width="9.22" height="5.96" fill="#0000ff"/>
<rect x="622.50" y="274.57" width="9.22" height="5.96" fill="#ffb6b6"/>
<rect x="631.67" y="274.57" width="9.22" height="5.96" fill="#ffc0c0"/>
<rect x="640.83" y="274.57" width="9.22" height="5.96" fill="#ffc0c0"/>
<rect x="540.00" y="280.48" width="9.22" height="5.96" fill="#0000ff"/>
<rect x="549.17" y="280.48" width="9.22" height="5.96" fill="#8a8aff"/>
<rect x="558.33" y="280.48" width="9.22" height="5.96" fill="#0000ff"/>
<rect x="567.50" y="280.48" width="9.22" height="5.96" fill="#7878ff"/>
<rect x="576.67" y="280.48" width="9.22" height="5.96" fill="#0000ff"/>
<rect x="585.83" y="280.48" width="9.22" height="5.96" fill="#0000ff"/>
<rect x="595.00" y="280.48" width="9.22" height="5.96" fill="#8a8aff"/>
<rect x="604.17" y="280.48" width="9.22" height="5.96" fill="#7878ff"/>
<rect x="613.33" y="280.48" width="9.22" height="5.96" fill="#8a8aff"/>
<rect x="622.50" y="280.48" width="9.22" height="5.96" fill="#ffb6b6"/>
<rect x="631.67" y="280.48" width="9.22" height="5.96" fill="#ffc0c0"/>
<rect x="640.83" y="280.48" width="9.22" height="5.96" fill="#ffd0d0"/>
<rect x="540.00" y="286.39" width="9.22" height="5.96" fill="#a5a5ff"/>
<rect x="549.17" y="286.39" width="9.22" height="5.96" fill="#8a8aff"/>
<rect x="558.33" y="286.39" width="9.22" height="5.96" fill="#9595ff"/>
<rect x="567.50" y="286.39" width="9.22" height="5.96" fill="#9595ff"/>
<rect x="576.67" y="286.39" width="9.22" height="5.96" fill="#7878ff"/>
<rect x="585.83" y="286.39" width="9.22" height="5.96" fill="#7878ff"/>
<rect x="595.00" y="286.39" width="9.22" height="5.96" fill="#a5a5ff"/>
<rect x="604.17" y="286.39" width="9.22" height="5.96" fill="#a5a5ff"/>
<rect x="613.33" y="286.39" width="9.22" height="5.96" fill="#7f7fff"/>
<rect x="622.50" y="286.39" width="9.22" height="5.96" fill="#ffcaca"/>
<rect x="631.67" y="286.39" width="9.22" height="5.96" fill="#ffd6d6"/>
<rect x="640.83" y="286.39" width="9.22" height="5.96" fill="#fff9f9"/>
<rect x="540.00" y="292.30" width="9.22" height="5.96" fill="#8a8aff"/>
<rect x="549.17" y="292.30" width="9.22" height="5.96" fill="#8a8aff"/>
<rect x="558.33" y="292.30" width="9.22" height="5.96" fill="#8a8aff"/>
<rect x="567.50" y="292.30" width="9.22" height="5.96" fill="#7878ff"/>
<rect x="576.67" y="292.30" width="9.22" height="5.96" fill="#8a8aff"/>
<rect x="585.83" y="292.30" width="9.22" height="5.96" fill="#6464ff"/>
<rect x="595.00" y="292.30" width="9.22" height="5.96" fill="#9a9aff"/>
<rect x="604.17" y="292.30" width="9.22" height="5.96" fill="#9a9aff"/>
<rect x="613.33" y="292.30" width="9.22" height="5.96" fill="#8a8aff"/>
<rect x="622.50" y="292.30" width="9.22" height="5.96" fill="#ffd0d0"/>
<rect x="631.67" y="292.30" width="9.22" height="5.96" fill="#fff0f0"/>
<rect x="640.83" y="292.30" width="9.22" height="5.96" fill="#f6f6ff"/>
<rect x="540.00" y="298.21" width="9.22" height="5.96" fill="#9a9aff"/>
<rect x="549.17" y="298.21" width="9.22" height="5.96" fill="#9a9aff"/>
<rect x="558.33" y="298.21" width="9.22" height="5.96" fill="#9a9aff"/>
<rect x="567.50" y="298.21" width="9.22" height="5.96" fill="#a5a5ff"/>
<rect x="576.67" y="298.21" width="9.22" height="5.96" fill="#a5a5ff"/>
<rect x="585.83" y="298.21" width="9.22" height="5.96" fill="#0000ff"/>
<rect x="595.00" y="298.21" width="9.22" height="5.96" fill="#c0c0ff"/>
<rect x="604.17" y="298.21" width="9.22" height="5.96" fill="#0000ff"/>
<rect x="613.33" y="298.21" width="9.22" height="5.96" fill="#7878ff"/>
<rect x="622.50" y="298.21" width="9.22" height="5.96" fill="#ffd0d0"/>
<rect x="631.67" y="298.21" width="9.22" height="5.96" fill="#ffd6d6"/>
<rect x="640.83" y="298.21" width="9.22" height="5.96" fill="#ffffff"/>
<rect x="540.00" y="304.12" width="9.22" height="5.96" fill="#0000ff"/>
<rect x="549.17" y="304.12" width="9.22" height="5.96" fill="#7878ff"/>
<rect x="558.33" y="304.12" width="9.22" height="5.96" fill="#7878ff"/>
<rect x="567.50" y="304.12" width="9.22" height="5.96" fill="#c0c0ff"/>
<rect x="576.67" y="304.12" width="9.22" height="5.96" fill="#7878ff"/>
<rect x="585.83" y="304.12" width="9.22" height="5.96" fill="#0000ff"/>
<rect x="595.00" y="304.12" width="9.22" height="5.96" fill="#0000ff"/>
<rect x="604.17" y="304.12" width="9.22" height="5.96" fill="#c0c0ff"/>
<rect x="613.33" y="304.12" width="9.22" height="5.96" fill="#0000ff"/>
<rect x="622.50" y="304.12" width="9.22" height="5.96" fill="#ffb6b6"/>
<rect x="631.67" y="304.12" width="9.22" height="5.96" fill="#ffc6c6"/>
<rect x="640.83" y="304.12" width="9.22" height="5.96" fill="#f0f0ff"/>
<rect x="540.00" y="310.03" width="9.22" height="5.96" fill="#0000ff"/>
<rect x="549.17" y="310.03" width="9.22" height="5.96" fill="#0000ff"/>
<rect x="558.33" y="310.03" width="9.22" height="5.96" fill="#7878ff"/>
<rect x="567.50" y="310.03" width="9.22" height="5.96" fill="#c0c0ff"/>
<rect x="576.67" y="310.03" width="9.22" height="5.96" fill="#9a9aff"/>
<rect x="585.83" y="310.03" width="9.22" height="5.96" fill="#9a9aff"/>
<rect x="595.00" y="310.03" width="9.22" height="5.96" fill="#9a9aff"/>
<rect x="604.17" y="310.03" width="9.22" height="5.96" fill="#a5a5ff"/>
<rect x="613.33" y="310.03" width="9.22" height="5.96" fill="#0000ff"/>
<rect x="622.50" y="310.03" width="9.22" height="5.96" fill="#ff7070"/>
<rect x="631.67" y="310.03" width="9.22" height="5.96" fill="#ff7070"/>
<rect x="640.83" y="310.03" width="9.22" height="5.96" fill="#ffa0a0"/>
<rect x="540.00" y="315.94" width="9.22" height="5.96" fill="#0000ff"/>
<rect x="549.17" y="315.94" width="9.22" height="5.96" fill="#a5a5ff"/>
<rect x="558.33" y="315.94" width="9.22" height="5.96" fill="#0000ff"/>
<rect x="567.50" y="315.94" width="9.22" height="5.96" fill="#9a9aff"/>
<rect x="576.67" y="315.94" width="9.22" height="5.96" fill="#0000ff"/>
<rect x="585.83" y="315.94" width="9.22" height="5.96" fill="#0000ff"/>
<rect x="595.00" y="315.94" width="9.22" height="5.96" fill="#6464ff"/>
<rect x="604.17" y="315.94" width="9.22" height="5.96" fill="#0000ff"/>
<rect x="613.33" y="315.94" width="9.22" height="5.96" fill="#6464ff"/>
<rect x="622.50" y="315.94" width="9.22" height="5.96" fill="#ff6060"/>
<rect x="631.67" y="315.94" width="9.22" height="5.96" fill="#ff6060"/>
<rect x="640.83" y="315.94" width="9.22" height="5.96" fill="#ff8080"/>
<rect x="540.00" y="321.86" width="9.22" height="5.96" fill="#8a8aff"/>
<rect x="549.17" y="321.86" width="9.22" height="5.96" fill="#8a8aff"/>
<rect x="558.33" y="321.86" width="9.22" height="5.96" fill="#9a9aff"/>
<rect x="567.50" y="321.86" width="9.22" height="5.96" fill="#9a9aff"/>
<rect x="576.67" y="321.86" width="9.22" height="5.96" fill="#9a9aff"/>
<rect x="585.83" y="321.86" width="9.22" height="5.96" fill="#a5a5ff"/>
<rect x="595.00" y="321.86" width="9.22" height="5.96" fill="#f9f9ff"/>
<rect x="604.17" y="321.86" width="9.22" height="5.96" fill="#ffffff"/>
<rect x="613.33" y="321.86" width="9.22" height="5.96" fill="#ffffff"/>
<rect x="622.50" y="321.86" width="9.22" height="5.96" fill="#ffb6b6"/>
<rect x="631.67" y="321.86" width="9.22" height="5.96" fill="#ffb6b6"/>
<rect x="640.83" y="321.86" width="9.22" height="5.96" fill="#ffc0c0"/>
<rect x="540.00" y="327.77" width="9.22" height="5.96" fill="#8a8aff"/>
<rect x="549.17" y="327.77" width="9.22" height="5.96" fill="#a5a5ff"/>
<rect x="558.33" y="327.77" width="9.22" height="5.96" fill="#7878ff"/>
<rect x="567.50" y="327.77" width="9.22" height="5.96" fill="#a5a5ff"/>
<rect x="576.67" y="327.77" width="9.22" height="5.96" fill="#8a8aff"/>
<rect x="585.83" y="327.77" width="9.22" height="5.96" fill="#a5a5ff"/>
<rect x="595.00" y="327.77" width="9.22" height="5.96" fill="#fff9f9"/>
<rect x="604.17" y="327.77" width="9.22" height="5.96" fill="#ffffff"/>
<rect x="613.33" y="327.77" width="9.22" height="5.96" fill="#e4e4ff"/>
<rect x="622.50" y="327.77" width="9.22" height="5.96" fill="#ffb6b6"/>
<rect x="631.67" y="327.77" width="9.22" height="5.96" fill="#ffb6b6"/>
<rect x="640.83" y="327.77" width="9.22" height="5.96" fill="#ffc0c0"/>
<rect x="540.00" y="333.68" width="9.22" height="5.96" fill="#9a9aff"/>
<rect x="549.17" y="333.68" width="9.22" height="5.96" fill="#9a9aff"/>
<rect x="558.33" y="333.68" width="9.22" height="5.96" fill="#9a9aff"/>
<rect x="567.50" y="333.68" width="9.22" height="5.96" fill="#a5a5ff"/>
<rect x="576.67" y="333.68" width="9.22" height="5.96" fill="#a5a5ff"/>
<rect x="585.83" y="333.68" width="9.22" height="5.96" fill="#6464ff"/>
<rect x="595.00" y="333.68" width="9.22" height="5.96" fill="#ffffff"/>
<rect x="604.17" y="333.68" width="9.22" height="5.96" fill="#ebebff"/>
<rect x="613.33" y="333.68" width="9.22" height="5.96" fill="#d4d4ff"/>
<rect x="622.50" y="333.68" width="9.22" height="5.96" fill="#ffb6b6"/>
<rect x="631.67" y="333.68" width="9.22" height="5.96" fill="#ffb6b6"/>
<rect x="640.83" y="333.68" width="9.22" height="5.96" fill="#ffc6c6"/>
<rect x="540.00" y="339.59" width="9.22" height="5.96" fill="#7878ff"/>
<rect x="549.17" y="339.59" width="9.22" height="5.96" fill="#a5a5ff"/>
<rect x="558.33" y="339.59" width="9.22" height="5.96" fill="#9a9aff"/>
<rect x="567.50" y="339.59" width="9.22" height="5.96" fill="#a5a5ff"/>
<rect x="576.67" y="339.59" width="9.22" height="5.96" fill="#8a8aff"/>
<rect x="585.83" y="339.59" width="9.22" height="5.96" fill="#a5a5ff"/>
<rect x="595.00" y="339.59" width="9.22" height="5.96" fill="#dadaff"/>
<rect x="604.17" y="339.59" width="9.22" height="5.96" fill="#dedeff"/>
<rect x="613.33" y="339.59" width="9.22" height="5.96" fill="#e4e4ff"/>
<rect x="622.50" y="339.59" width="9.22" height="5.96" fill="#ffa0a0"/>
<rect x="631.67" y="339.59" width="9.22" height="5.96" fill="#ffa0a0"/>
<rect x="640.83" y="339.59" width="9.22" height="5.96" fill="#ffaaaa"/>
<rect x="540.00" y="345.50" width="9.22" height="5.96" fill="#8a8aff"/>
<rect x="549.17" y="345.50" width="9.22" height="5.96" fill="#ccccff"/>
<rect x="558.33" y="345.50" width="9.22" height="5.96" fill="#7070ff"/>
<rect x="567.50" y="345.50" width="9.22" height="5.96" fill="#b5b5ff"/>
<rect x="576.67" y="345.50" width="9.22" height="5.96" fill="#a5a5ff"/>
<rect x="585.83" y="345.50" width="9.22" height="5.96" fill="#a5a5ff"/>
<rect x="595.00" y="345.50" width="9.22" height="5.96" fill="#e9e9ff"/>
<rect x="604.17" y="345.50" width="9.22" height="5.96" fill="#e9e9ff"/>
<rect x="613.33" y="345.50" width="9.22" height="5.96" fill="#b5b5ff"/>
<rect x="622.50" y="345.50" width="9.22" height="5.96" fill="#ff8080"/>
<rect x="631.67" y="345.50" width="9.22" height="5.96" fill="#ff7676"/>
<rect x="640.83" y="345.50" width="9.22" height="5.96" fill="#ffa0a0"/>
<rect x="540.00" y="351.41" width="9.22" height="5.96" fill="#0000ff"/>
<rect x="549.17" y="351.41" width="9.22" height="5.96" fill="#ccccff"/>
<rect x="558.33" y="351.41" width="9.22" height="5.96" fill="#0000ff"/>
<rect x="567.50" y="351.41" width="9.22" height="5.96" fill="#c0c0ff"/>
<rect x="576.67" y="351.41" width="9.22" height="5.96" fill="#a5a5ff"/>
<rect x="585.83" y="351.41" width="9.22" height="5.96" fill="#7878ff"/>
<rect x="595.00" y="351.41" width="9.22" height="5.96" fill="#ebebff"/>
<rect x="604.17" y="351.41" width="9.22" height="5.96" fill="#f0f0ff"/>
<rect x="613.33" y="351.41" width="9.22" height="5.96" fill="#9a9aff"/>
<rect x="622.50" y="351.41" width="9.22" height="5.96" fill="#ff7070"/>
<rect x="631.67" y="351.41" width="9.22" height="5.96" fill="#ff8080"/>
<rect x="640.83" y="351.41" width="9.22" height="5.96" fill="#ffa0a0"/>
<rect x="540.00" y="357.32" width="9.22" height="5.96" fill="#0000ff"/>
<rect x="549.17" y="357.32" width="9.22" height="5.96" fill="#ccccff"/>
<rect x="558.33" y="357.32" width="9.22" height="5.96" fill="#6464ff"/>
<rect x="567.50" y="357.32" width="9.22" height="5.96" fill="#9a9aff"/>
<rect x="576.67" y="357.32" width="9.22" height="5.96" fill="#a5a5ff"/>
<rect x="585.83" y="357.32" width="9.22" height="5.96" fill="#a5a5ff"/>
<rect x="595.00" y="357.32" width="9.22" height="5.96" fill="#e4e4ff"/>
<rect x="604.17" y="357.32" width="9.22" height="5.96" fill="#ebebff"/>
<rect x="613.33" y="357.32" width="9.22" height="5.96" fill="#8a8aff"/>
<rect x="622.50" y="357.32" width="9.22" height="5.96" fill="#ff9696"/>
<rect x="631.67" y="357.32" width="9.22" height="5.96" fill="#ffa0a0"/>
<rect x="640.83" y="357.32" width="9.22" height="5.96" fill="#ffdede"/>
<rect x="540.00" y="363.23" width="9.22" height="5.96" fill="#7070ff"/>
<rect x="549.17" y="363.23" width="9.22" height="5.96" fill="#8383ff"/>
<rect x="558.33" y="363.23" width="9.22" height="5.96" fill="#0000ff"/>
<rect x="567.50" y="363.23" width="9.22" height="5.96" fill="#7878ff"/>
<rect x="576.67" y="363.23" width="9.22" height="5.96" fill="#9a9aff"/>
<rect x="585.83" y="363.23" width="9.22" height="5.96" fill="#0000ff"/>
<rect x="595.00" y="363.23" width="9.22" height="5.96" fill="#e4e4ff"/>
<rect x="604.17" y="363.23" width="9.22" height="5.96" fill="#e9e9ff"/>
<rect x="613.33" y="363.23" width="9.22" height="5.96" fill="#d4d4ff"/>
<rect x="622.50" y="363.23" width="9.22" height="5.96" fill="#ff9696"/>
<rect x="631.67" y="363.23" width="9.22" height="5.96" fill="#ffa0a0"/>
<rect x="640.83" y="363.23" width="9.22" height="5.96" fill="#ffa0a0"/>
<rect x="540.00" y="369.14" width="9.22" height="5.96" fill="#d4d4ff"/>
<rect x="549.17" y="369.14" width="9.22" height="5.96" fill="#ccccff"/>
<rect x="558.33" y="369.14" width="9.22" height="5.96" fill="#ccccff"/>
<rect x="567.50" y="369.14" width="9.22" height="5.96" fill="#d4d4ff"/>
<rect x="576.67" y="369.14" width="9.22" height="5.96" fill="#ccccff"/>
<rect x="585.83" y="369.14" width="9.22" height="5.96" fill="#b5b5ff"/>
<rect x="595.00" y="369.14" width="9.22" height="5.96" fill="#dadaff"/>
<rect x="604.17" y="369.14" width="9.22" height="5.96" fill="#9a9aff"/>
<rect x="613.33" y="369.14" width="9.22" height="5.96" fill="#ccccff"/>
<rect x="622.50" y="369.14" width="9.22" height="5.96" fill="#ffa0a0"/>
<rect x="631.67" y="369.14" width="9.22" height="5.96" fill="#ffaaaa"/>
<rect x="640.83" y="369.14" width="9.22" height="5.96" fill="#ffaaaa"/>
<rect x="540.00" y="375.05" width="9.22" height="5.96" fill="#c0c0ff"/>
<rect x="549.17" y="375.05" width="9.22" height="5.96" fill="#c0c0ff"/>
<rect x="558.33" y="375.05" width="9.22" height="5.96" fill="#b5b5ff"/>
<rect x="567.50" y="375.05" width="9.22" height="5.96" fill="#c0c0ff"/>
<rect x="576.67" y="375.05" width="9.22" height="5.96" fill="#9a9aff"/>
<rect x="585.83" y="375.05" width="9.22" height="5.96" fill="#c0c0ff"/>
<rect x="595.00" y="375.05" width="9.22" height="5.96" fill="#a5a5ff"/>
<rect x="604.17" y="375.05" width="9.22" height="5.96" fill="#a5a5ff"/>
<rect x="613.33" y="375.05" width="9.22" height="5.96" fill="#9a9aff"/>
<rect x="622.50" y="375.05" width="9.22" height="5.96" fill="#ffb6b6"/>
<rect x="631.67" y="375.05" width="9.22" height="5.96" fill="#ffb6b6"/>
<rect x="640.83" y="375.05" width="9.22" height="5.96" fill="#ffaaaa"/>
<rect x="540.00" y="380.96" width="9.22" height="5.96" fill="#c0c0ff"/>
<rect x="549.17" y="380.96" width="9.22" height="5.96" fill="#d4d4ff"/>
<rect x="558.33" y="380.96" width="9.22" height="5.96" fill="#c0c0ff"/>
<rect x="567.50" y="380.96" width="9.22" height="5.96" fill="#c0c0ff"/>
<rect x="576.67" y="380.96" width="9.22" height="5.96" fill="#c0c0ff"/>
<rect x="585.83" y="380.96" width="9.22" height="5.96" fill="#9a9aff"/>
<rect x="595.00" y="380.96" width="9.22" height="5.96" fill="#e4e4ff"/>
<rect x="604.17" y="380.96" width="9.22" height="5.96" fill="#e4e4ff"/>
<rect x="613.33" y="380.96" width="9.22" height="5.96" fill="#ccccff"/>
<rect x="622.50" y="380.96" width="9.22" height="5.96" fill="#ff8a8a"/>
<rect x="631.67" y="380.96" width="9.22" height="5.96" fill="#ff9696"/>
<rect x="640.83" y="380.96" width="9.22" height="5.96" fill="#ffc0c0"/>
<rect x="540.00" y="386.88" width="9.22" height="5.96" fill="#a5a5ff"/>
<rect x="549.17" y="386.88" width="9.22" height="5.96" fill="#c0c0ff"/>
<rect x="558.33" y="386.88" width="9.22" height="5.96" fill="#a5a5ff"/>
<rect x="567.50" y="386.88" width="9.22" height="5.96" fill="#c0c0ff"/>
<rect x="576.67" y="386.88" width="9.22" height="5.96" fill="#a5a5ff"/>
<rect x="585.83" y="386.88" width="9.22" height="5.96" fill="#a5a5ff"/>
<rect x="595.00" y="386.88" width="9.22" height="5.96" fill="#fff9f9"/>
<rect x="604.17" y="386.88" width="9.22" height="5.96" fill="#fff9f9"/>
<rect x="613.33" y="386.88" width="9.22" height="5.96" fill="#f6f6ff"/>
<rect x="622.50" y="386.88" width="9.22" height="5.96" fill="#ff8080"/>
<rect x="631.67" y="386.88" width="9.22" height="5.96" fill="#ff8a8a"/>
<rect x="640.83" y="386.88" width="9.22" height="5.96" fill="#ffa0a0"/>
<rect x="540.00" y="392.79" width="9.22" height="5.96" fill="#b5b5ff"/>
<rect x="549.17" y="392.79" width="9.22" height="5.96" fill="#9a9aff"/>
<rect x="558.33" y="392.79" width="9.22" height="5.96" fill="#b5b5ff"/>
<rect x="567.50" y="392.79" width="9.22" height="5.96" fill="#c0c0ff"/>
<rect x="576.67" y="392.79" width="9.22" height="5.96" fill="#c0c0ff"/>
<rect x="585.83" y="392.79" width="9.22" height="5.96" fill="#a5a5ff"/>
<rect x="595.00" y="392.79" width="9.22" height="5.96" fill="#fff9f9"/>
<rect x="604.17" y="392.79" width="9.22" height="5.96" fill="#fff9f9"/>
<rect x="613.33" y="392.79" width="9.22" height="5.96" fill="#f6f6ff"/>
<rect x="622.50" y="392.79" width="9.22" height="5.96" fill="#ffa0a0"/>
<rect x="631.67" y="392.79" width="9.22" height="5.96" fill="#ffa0a0"/>
<rect x="640.83" y="392.79" width="9.22" height="5.96" fill="#ffa0a0"/>
<rect x="540.00" y="398.70" width="9.22" height="5.96" fill="#a5a5ff"/>
<rect x="549.17" y="398.70" width="9.22" height="5.96" fill="#c0c0ff"/>
<rect x="558.33" y="398.70" width="9.22" height="5.96" fill="#ccccff"/>
<rect x="567.50" y="398.70" width="9.22" height="5.96" fill="#d4d4ff"/>
<rect x="576.67" y="398.70" width="9.22" height="5.96" fill="#c0c0ff"/>
<rect x="585.83" y="398.70" width="9.22" height="5.96" fill="#d4d4ff"/>
<rect x="595.00" y="398.70" width="9.22" height="5.96" fill="#ffd6d6"/>
<rect x="604.17" y="398.70" width="9.22" height="5.96" fill="#ffd6d6"/>
<rect x="613.33" y="398.70" width="9.22" height="5.96" fill="#ffdede"/>
<rect x="622.50" y="398.70" width="9.22" height="5.96" fill="#ff9696"/>
<rect x="631.67" y="398.70" width="9.22" height="5.96" fill="#ff9696"/>
<rect x="640.83" y="398.70" width="9.22" height="5.96" fill="#ffaaaa"/>
<rect x="540.00" y="404.61" width="9.22" height="5.96" fill="#e4e4ff"/>
<rect x="549.17" y="404.61" width="9.22" height="5.96" fill="#ebebff"/>
<rect x="558.33" y="404.61" width="9.22" height="5.96" fill="#ccccff"/>
<rect x="567.50" y="404.61" width="9.22" height="5.96" fill="#e4e4ff"/>
<rect x="576.67" y="404.61" width="9.22" height="5.96" fill="#e4e4ff"/>
<rect x="585.83" y="404.61" width="9.22" height="5.96" fill="#c0c0ff"/>
<rect x="595.00" y="404.61" width="9.22" height="5.96" fill="#ffdede"/>
<rect x="604.17" y="404.61" width="9.22" height="5.96" fill="#ffe9e9"/>
<rect x="613.33" y="404.61" width="9.22" height="5.96" fill="#fff6f6"/>
<rect x="622.50" y="404.61" width="9.22" height="5.96" fill="#ff3333"/>
<rect x="631.67" y="404.61" width="9.22" height="5.96" fill="#ff5252"/>
<rect x="640.83" y="404.61" width="9.22" height="5.96" fill="#ff6060"/>
<rect x="540.00" y="410.52" width="9.22" height="5.96" fill="#9a9aff"/>
<rect x="549.17" y="410.52" width="9.22" height="5.96" fill="#a5a5ff"/>
<rect x="558.33" y="410.52" width="9.22" height="5.96" fill="#7878ff"/>
<rect x="567.50" y="410.52" width="9.22" height="5.96" fill="#9a9aff"/>
<rect x="576.67" y="410.52" width="9.22" height="5.96" fill="#c0c0ff"/>
<rect x="585.83" y="410.52" width="9.22" height="5.96" fill="#0000ff"/>
<rect x="595.00" y="410.52" width="9.22" height="5.96" fill="#ffdede"/>
<rect x="604.17" y="410.52" width="9.22" height="5.96" fill="#ffdede"/>
<rect x="613.33" y="410.52" width="9.22" height="5.96" fill="#ffdede"/>
<rect x="622.50" y="410.52" width="9.22" height="5.96" fill="#ffd6d6"/>
<rect x="631.67" y="410.52" width="9.22" height="5.96" fill="#ffdede"/>
<rect x="640.83" y="410.52" width="9.22" height="5.96" fill="#ffdede"/>
<rect x="540.00" y="416.43" width="9.22" height="5.96" fill="#9a9aff"/>
<rect x="549.17" y="416.43" width="9.22" height="5.96" fill="#7070ff"/>
<rect x="558.33" y="416.43" width="9.22" height="5.96" fill="#9a9aff"/>
<rect x="567.50" y="416.43" width="9.22" height="5.96" fill="#9a9aff"/>
<rect x="576.67" y="416.43" width="9.22" height="5.96" fill="#9a9aff"/>
<rect x="585.83" y="416.43" width="9.22" height="5.96" fill="#7070ff"/>
<rect x="595.00" y="416.43" width="9.22" height="5.96" fill="#ffe9e9"/>
<rect x="604.17" y="416.43" width="9.22" height="5.96" fill="#fff0f0"/>
<rect x="613.33" y="416.43" width="9.22" height="5.96" fill="#ffdede"/>
<rect x="622.50" y="416.43" width="9.22" height="5.96" fill="#ffaaaa"/>
<rect x="631.67" y="416.43" width="9.22" height="5.96" fill="#ffcaca"/>
<rect x="640.83" y="416.43" width="9.22" height="5.96" fill="#ffdede"/>
<rect x="540.00" y="422.34" width="9.22" height="5.96" fill="#c0c0ff"/>
<rect x="549.17" y="422.34" width="9.22" height="5.96" fill="#1919ff"/>
<rect x="558.33" y="422.34" width="9.22" height="5.96" fill="#c0c0ff"/>
<rect x="567.50" y="422.34" width="9.22" height="5.96" fill="#7878ff"/>
<rect x="576.67" y="422.34" width="9.22" height="5.96" fill="#7878ff"/>
<rect x="585.83" y="422.34" width="9.22" height="5.96" fill="#9a9aff"/>
<rect x="595.00" y="422.34" width="9.22" height="5.96" fill="#ffdede"/>
<rect x="604.17" y="422.34" width="9.22" height="5.96" fill="#ffdede"/>
<rect x="613.33" y="422.34" width="9.22" height="5.96" fill="#ffd6d6"/>
<rect x="622.50" y="422.34" width="9.22" height="5.96" fill="#fff0f0"/>
<rect x="631.67" y="422.34" width="9.22" height="5.96" fill="#fff0f0"/>
<rect x="640.83" y="422.34" width="9.22" height="5.96" fill="#ffd0d0"/>
<rect x="540.00" y="428.25" width="9.22" height="5.96" fill="#b5b5ff"/>
<rect x="549.17" y="428.25" width="9.22" height="5.96" fill="#a5a5ff"/>
<rect x="558.33" y="428.25" width="9.22" height="5.96" fill="#9a9aff"/>
<rect x="567.50" y="428.25" width="9.22" height="5.96" fill="#7878ff"/>
<rect x="576.67" y="428.25" width="9.22" height="5.96" fill="#b5b5ff"/>
<rect x="585.83" y="428.25" width="9.22" height="5.96" fill="#9a9aff"/>
<rect x="595.00" y="428.25" width="9.22" height="5.96" fill="#ffd6d6"/>
<rect x="604.17" y="428.25" width="9.22" height="5.96" fill="#fff0f0"/>
<rect x="613.33" y="428.25" width="9.22" height="5.96" fill="#f0f0ff"/>
<rect x="622.50" y="428.25" width="9.22" height="5.96" fill="#ffd0d0"/>
<rect x="631.67" y="428.25" width="9.22" height="5.96" fill="#ffdede"/>
<rect x="640.83" y="428.25" width="9.22" height="5.96" fill="#fff0f0"/>
<rect x="540.00" y="434.16" width="9.22" height="5.96" fill="#8a8aff"/>
<rect x="549.17" y="434.16" width="9.22" height="5.96" fill="#0f0fff"/>
<rect x="558.33" y="434.16" width="9.22" height="5.96" fill="#9a9aff"/>
<rect x="567.50" y="434.16" width="9.22" height="5.96" fill="#9a9aff"/>
<rect x="576.67" y="434.16" width="9.22" height="5.96" fill="#9a9aff"/>
<rect x="585.83" y="434.16" width="9.22" height="5.96" fill="#7f7fff"/>
<rect x="595.00" y="434.16" width="9.22" height="5.96" fill="#fff0f0"/>
<rect x="604.17" y="434.16" width="9.22" height="5.96" fill="#ffffff"/>
<rect x="613.33" y="434.16" width="9.22" height="5.96" fill="#f0f0ff"/>
<rect x="622.50" y="434.16" width="9.22" height="5.96" fill="#ffcaca"/>
<rect x="631.67" y="434.16" width="9.22" height="5.96" fill="#ffdede"/>
<rect x="640.83" y="434.16" width="9.22" height="5.96" fill="#ffffff"/>
<rect x="540.00" y="440.07" width="9.22" height="5.96" fill="#e4e4ff"/>
<rect x="549.17" y="440.07" width="9.22" height="5.96" fill="#ebebff"/>
<rect x="558.33" y="440.07" width="9.22" height="5.96" fill="#ffe9e9"/>
<rect x="567.50" y="440.07" width="9.22" height="5.96" fill="#e4e4ff"/>
<rect x="576.67" y="440.07" width="9.22" height="5.96" fill="#ebebff"/>
<rect x="585.83" y="440.07" width="9.22" height="5.96" fill="#fff0f0"/>
<rect x="595.00" y="440.07" width="9.22" height="5.96" fill="#ff9090"/>
<rect x="604.17" y="440.07" width="9.22" height="5.96" fill="#ff9090"/>
<rect x="613.33" y="440.07" width="9.22" height="5.96" fill="#ff4a4a"/>
<rect x="622.50" y="440.07" width="9.22" height="5.96" fill="#ff9090"/>
<rect x="631.67" y="440.07" width="9.22" height="5.96" fill="#ff9090"/>
<rect x="640.83" y="440.07" width="9.22" height="5.96" fill="#ff0000"/>
<rect x="540.00" y="445.98" width="9.22" height="5.96" fill="#ffd6d6"/>
<rect x="549.17" y="445.98" width="9.22" height="5.96" fill="#ffd6d6"/>
<rect x="558.33" y="445.98" width="9.22" height="5.96" fill="#ffdede"/>
<rect x="567.50" y="445.98" width="9.22" height="5.96" fill="#ffd6d6"/>
<rect x="576.67" y="445.98" width="9.22" height="5.96" fill="#ffd6d6"/>
<rect x="585.83" y="445.98" width="9.22" height="5.96" fill="#ffd6d6"/>
<rect x="595.00" y="445.98" width="9.22" height="5.96" fill="#9a9aff"/>
<rect x="604.17" y="445.98" width="9.22" height="5.96" fill="#9a9aff"/>
<rect x="613.33" y="445.98" width="9.22" height="5.96" fill="#0000ff"/>
<rect x="622.50" y="445.98" width="9.22" height="5.96" fill="#0000ff"/>
<rect x="631.67" y="445.98" width="9.22" height="5.96" fill="#0000ff"/>
<rect x="640.83" y="445.98" width="9.22" height="5.96" fill="#0000ff"/>
<rect x="540.00" y="451.90" width="9.22" height="5.96" fill="#ffd0d0"/>
<rect x="549.17" y="451.90" width="9.22" height="5.96" fill="#ffd6d6"/>
<rect x="558.33" y="451.90" width="9.22" height="5.96" fill="#ffd8d8"/>
<rect x="567.50" y="451.90" width="9.22" height="5.96" fill="#ffd0d0"/>
<rect x="576.67" y="451.90" width="9.22" height="5.96" fill="#ffd6d6"/>
<rect x="585.83" y="451.90" width="9.22" height="5.96" fill="#ffd6d6"/>
<rect x="595.00" y="451.90" width="9.22" height="5.96" fill="#0000ff"/>
<rect x="604.17" y="451.90" width="9.22" height="5.96" fill="#0000ff"/>
<rect x="613.33" y="451.90" width="9.22" height="5.96" fill="#0000ff"/>
<rect x="622.50" y="451.90" width="9.22" height="5.96" fill="#0000ff"/>
<rect x="631.67" y="451.90" width="9.22" height="5.96" fill="#8a8aff"/>
<rect x="640.83" y="451.90" width="9.22" height="5.96" fill="#0000ff"/>
<rect x="540.00" y="457.81" width="9.22" height="5.96" fill="#ffd6d6"/>
<rect x="549.17" y="457.81" width="9.22" height="5.96" fill="#ffd6d6"/>
<rect x="558.33" y="457.81" width="9.22" height="5.96" fill="#ffcaca"/>
<rect x="567.50" y="457.81" width="9.22" height="5.96" fill="#ffd6d6"/>
<rect x="576.67" y="457.81" width="9.22" height="5.96" fill="#ffd6d6"/>
<rect x="585.83" y="457.81" width="9.22" height="5.96" fill="#ffd6d6"/>
<rect x="595.00" y="457.81" width="9.22" height="5.96" fill="#0000ff"/>
<rect x="604.17" y="457.81" width="9.22" height="5.96" fill="#0000ff"/>
<rect x="613.33" y="457.81" width="9.22" height="5.96" fill="#8a8aff"/>
<rect x="622.50" y="457.81" width="9.22" height="5.96" fill="#7070ff"/>
<rect x="631.67" y="457.81" width="9.22" height="5.96" fill="#0000ff"/>
<rect x="640.83" y="457.81" width="9.22" height="5.96" fill="#0000ff"/>
<rect x="540.00" y="463.72" width="9.22" height="5.96" fill="#ffd8d8"/>
<rect x="549.17" y="463.72" width="9.22" height="5.96" fill="#ffd8d8"/>
<rect x="558.33" y="463.72" width="9.22" height="5.96" fill="#ffd8d8"/>
<rect x="567.50" y="463.72" width="9.22" height="5.96" fill="#ffd8d8"/>
<rect x="576.67" y="463.72" width="9.22" height="5.96" fill="#ffe5e5"/>
<rect x="585.83" y="463.72" width="9.22" height="5.96" fill="#ffd8d8"/>
<rect x="595.00" y="463.72" width="9.22" height="5.96" fill="#0000ff"/>
<rect x="604.17" y="463.72" width="9.22" height="5.96" fill="#9a9aff"/>
<rect x="613.33" y="463.72" width="9.22" height="5.96" fill="#9a9aff"/>
<rect x="622.50" y="463.72" width="9.22" height="5.96" fill="#0000ff"/>
<rect x="631.67" y="463.72" width="9.22" height="5.96" fill="#0000ff"/>
<rect x="640.83" y="463.72" width="9.22" height="5.96" fill="#8a8aff"/>
<rect x="540.00" y="469.63" width="9.22" height="5.96" fill="#ffc6c6"/>
<rect x="549.17" y="469.63" width="9.22" height="5.96" fill="#ffc6c6"/>
<rect x="558.33" y="469.63" width="9.22" height="5.96" fill="#ffc6c6"/>
<rect x="567.50" y="469.63" width="9.22" height="5.96" fill="#ffc6c6"/>
<rect x="576.67" y="469.63" width="9.22" height="5.96" fill="#ffc6c6"/>
<rect x="585.83" y="469.63" width="9.22" height="5.96" fill="#ffd0d0"/>
<rect x="595.00" y="469.63" width="9.22" height="5.96" fill="#7070ff"/>
<rect x="604.17" y="469.63" width="9.22" height="5.96" fill="#9a9aff"/>
<rect x="613.33" y="469.63" width="9.22" height="5.96" fill="#0000ff"/>
<rect x="622.50" y="469.63" width="9.22" height="5.96" fill="#a5a5ff"/>
<rect x="631.67" y="469.63" width="9.22" height="5.96" fill="#9a9aff"/>
<rect x="640.83" y="469.63" width="9.22" height="5.96" fill="#9a9aff"/>
<rect x="540.00" y="475.54" width="9.22" height="5.96" fill="#f0f0ff"/>
<rect x="549.17" y="475.54" width="9.22" height="5.96" fill="#fff9f9"/>
<rect x="558.33" y="475.54" width="9.22" height="5.96" fill="#ffd8d8"/>
<rect x="567.50" y="475.54" width="9.22" height="5.96" fill="#ffffff"/>
<rect x="576.67" y="475.54" width="9.22" height="5.96" fill="#ffffff"/>
<rect x="585.83" y="475.54" width="9.22" height="5.96" fill="#ffd0d0"/>
<rect x="595.00" y="475.54" width="9.22" height="5.96" fill="#7878ff"/>
<rect x="604.17" y="475.54" width="9.22" height="5.96" fill="#0000ff"/>
<rect x="613.33" y="475.54" width="9.22" height="5.96" fill="#7878ff"/>
<rect x="622.50" y="475.54" width="9.22" height="5.96" fill="#0000ff"/>
<rect x="631.67" y="475.54" width="9.22" height="5.96" fill="#0000ff"/>
<rect x="640.83" y="475.54" width="9.22" height="5.96" fill="#b5b5ff"/>
<rect x="540.00" y="481.45" width="9.22" height="5.96" fill="#fff9f9"/>
<rect x="549.17" y="481.45" width="9.22" height="5.96" fill="#ffffff"/>
<rect x="558.33" y="481.45" width="9.22" height="5.96" fill="#f9f9ff"/>
<rect x="567.50" y="481.45" width="9.22" height="5.96" fill="#ffffff"/>
<rect x="576.67" y="481.45" width="9.22" height="5.96" fill="#ffffff"/>
<rect x="585.83" y="481.45" width="9.22" height="5.96" fill="#fff9f9"/>
<rect x="595.00" y="481.45" width="9.22" height="5.96" fill="#a5a5ff"/>
<rect x="604.17" y="481.45" width="9.22" height="5.96" fill="#9a9aff"/>
<rect x="613.33" y="481.45" width="9.22" height="5.96" fill="#7878ff"/>
<rect x="622.50" y="481.45" width="9.22" height="5.96" fill="#0000ff"/>
<rect x="631.67" y="481.45" width="9.22" height="5.96" fill="#8383ff"/>
<rect x="640.83" y="481.45" width="9.22" height="5.96" fill="#0000ff"/>
<rect x="540.00" y="487.36" width="9.22" height="5.96" fill="#ff8080"/>
<rect x="549.17" y="487.36" width="9.22" height="5.96" fill="#ff8080"/>
<rect x="558.33" y="487.36" width="9.22" height="5.96" fill="#ff8a8a"/>
<rect x="567.50" y="487.36" width="9.22" height="5.96" fill="#ff8080"/>
<rect x="576.67" y="487.36" width="9.22" height="5.96" fill="#ff8080"/>
<rect x="585.83" y="487.36" width="9.22" height="5.96" fill="#ff8a8a"/>
<rect x="595.00" y="487.36" width="9.22" height="5.96" fill="#a5a5ff"/>
<rect x="604.17" y="487.36" width="9.22" height="5.96" fill="#ccccff"/>
<rect x="613.33" y="487.36" width="9.22" height="5.96" fill="#0000ff"/>
<rect x="622.50" y="487.36" width="9.22" height="5.96" fill="#a5a5ff"/>
<rect x="631.67" y="487.36" width="9.22" height="5.96" fill="#a5a5ff"/>
<rect x="640.83" y="487.36" width="9.22" height="5.96" fill="#9a9aff"/>
<rect x="540.00" y="493.27" width="9.22" height="5.96" fill="#ff8080"/>
<rect x="549.17" y="493.27" width="9.22" height="5.96" fill="#ff8080"/>
<rect x="558.33" y="493.27" width="9.22" height="5.96" fill="#ff7676"/>
<rect x="567.50" y="493.27" width="9.22" height="5.96" fill="#ff8080"/>
<rect x="576.67" y="493.27" width="9.22" height="5.96" fill="#ff8080"/>
<rect x="585.83" y="493.27" width="9.22" height="5.96" fill="#ff7676"/>
<rect x="595.00" y="493.27" width="9.22" height="5.96" fill="#8a8aff"/>
<rect x="604.17" y="493.27" width="9.22" height="5.96" fill="#7070ff"/>
<rect x="613.33" y="493.27" width="9.22" height="5.96" fill="#8a8aff"/>
<rect x="622.50" y="493.27" width="9.22" height="5.96" fill="#8a8aff"/>
<rect x="631.67" y="493.27" width="9.22" height="5.96" fill="#9a9aff"/>
<rect x="640.83" y="493.27" width="9.22" height="5.96" fill="#9a9aff"/>
<rect x="540.00" y="499.18" width="9.22" height="5.96" fill="#ffb0b0"/>
<rect x="549.17" y="499.18" width="9.22" height="5.96" fill="#ffb0b0"/>
<rect x="558.33" y="499.18" width="9.22" height="5.96" fill="#ffb0b0"/>
<rect x="567.50" y="499.18" width="9.22" height="5.96" fill="#ffaaaa"/>
<rect x="576.67" y="499.18" width="9.22" height="5.96" fill="#ffb0b0"/>
<rect x="585.83" y="499.18" width="9.22" height="5.96" fill="#ffb0b0"/>
<rect x="595.00" y="499.18" width="9.22" height="5.96" fill="#ccccff"/>
<rect x="604.17" y="499.18" width="9.22" height="5.96" fill="#c0c0ff"/>
<rect x="613.33" y="499.18" width="9.22" height="5.96" fill="#ccccff"/>
<rect x="622.50" y="499.18" width="9.22" height="5.96" fill="#ccccff"/>
<rect x="631.67" y="499.18" width="9.22" height="5.96" fill="#b5b5ff"/>
<rect x="640.83" y="499.18" width="9.22" height="5.96" fill="#c0c0ff"/>
<rect x="540.00" y="505.09" width="9.22" height="5.96" fill="#d4d4ff"/>
<rect x="549.17" y="505.09" width="9.22" height="5.96" fill="#ccccff"/>
<rect x="558.33" y="505.09" width="9.22" height="5.96" fill="#dadaff"/>
<rect x="567.50" y="505.09" width="9.22" height="5.96" fill="#dadaff"/>
<rect x="576.67" y="505.09" width="9.22" height="5.96" fill="#c0c0ff"/>
<rect x="585.83" y="505.09" width="9.22" height="5.96" fill="#d4d4ff"/>
<rect x="595.00" y="505.09" width="9.22" height="5.96" fill="#0000ff"/>
<rect x="604.17" y="505.09" width="9.22" height="5.96" fill="#0000ff"/>
<rect x="613.33" y="505.09" width="9.22" height="5.96" fill="#0000ff"/>
<rect x="622.50" y="505.09" width="9.22" height="5.96" fill="#0000ff"/>
<rect x="631.67" y="505.09" width="9.22" height="5.96" fill="#0000ff"/>
<rect x="640.83" y="505.09" width="9.22" height="5.96" fill="#0000ff"/>
<rect x="540.00" y="511.00" width="9.22" height="5.96" fill="#d4d4ff"/>
<rect x="549.17" y="511.00" width="9.22" height="5.96" fill="#d4d4ff"/>
<rect x="558.33" y="511.00" width="9.22" height="5.96" fill="#d4d4ff"/>
<rect x="567.50" y="511.00" width="9.22" height="5.96" fill="#d4d4ff"/>
<rect x="576.67" y="511.00" width="9.22" height="5.96" fill="#ccccff"/>
<rect x="585.83" y="511.00" width="9.22" height="5.96" fill="#d4d4ff"/>
<rect x="595.00" y="511.00" width="9.22" height="5.96" fill="#0000ff"/>
<rect x="604.17" y="511.00" width="9.22" height="5.96" fill="#0000ff"/>
<rect x="613.33" y="511.00" width="9.22" height="5.96" fill="#0000ff"/>
<rect x="622.50" y="511.00" width="9.22" height="5.96" fill="#0000ff"/>
<rect x="631.67" y="511.00" width="9.22" height="5.96" fill="#0000ff"/>
<rect x="640.83" y="511.00" width="9.22" height="5.96" fill="#0000ff"/>
<rect x="540.00" y="516.91" width="9.22" height="5.96" fill="#d4d4ff"/>
<rect x="549.17" y="516.91" width="9.22" height="5.96" fill="#dedeff"/>
<rect x="558.33" y="516.91" width="9.22" height="5.96" fill="#d4d4ff"/>
<rect x="567.50" y="516.91" width="9.22" height="5.96" fill="#dedeff"/>
<rect x="576.67" y="516.91" width="9.22" height="5.96" fill="#d4d4ff"/>
<rect x="585.83" y="516.91" width="9.22" height="5.96" fill="#d4d4ff"/>
<rect x="595.00" y="516.91" width="9.22" height="5.96" fill="#0000ff"/>
<rect x="604.17" y="516.91" width="9.22" height="5.96" fill="#0000ff"/>
<rect x="613.33" y="516.91" width="9.22" height="5.96" fill="#0000ff"/>
<rect x="622.50" y="516.91" width="9.22" height="5.96" fill="#0000ff"/>
<rect x="631.67" y="516.91" width="9.22" height="5.96" fill="#0000ff"/>
<rect x="640.83" y="516.91" width="9.22" height="5.96" fill="#0000ff"/>
<rect x="540.00" y="522.83" width="9.22" height="5.96" fill="#d4d4ff"/>
<rect x="549.17" y="522.83" width="9.22" height="5.96" fill="#c0c0ff"/>
<rect x="558.33" y="522.83" width="9.22" height="5.96" fill="#d4d4ff"/>
<rect x="567.50" y="522.83" width="9.22" height="5.96" fill="#d4d4ff"/>
<rect x="576.67" y="522.83" width="9.22" height="5.96" fill="#d4d4ff"/>
<rect x="585.83" y="522.83" width="9.22" height="5.96" fill="#d4d4ff"/>
<rect x="595.00" y="522.83" width="9.22" height="5.96" fill="#0000ff"/>
<rect x="604.17" y="522.83" width="9.22" height="5.96" fill="#0000ff"/>
<rect x="613.33" y="522.83" width="9.22" height="5.96" fill="#0000ff"/>
<rect x="622.50" y="522.83" width="9.22" height="5.96" fill="#0000ff"/>
<rect x="631.67" y="522.83" width="9.22" height="5.96" fill="#0000ff"/>
<rect x="640.83" y="522.83" width="9.22" height="5.96" fill="#0000ff"/>
<rect x="540.00" y="528.74" width="9.22" height="5.96" fill="#c0c0ff"/>
<rect x="549.17" y="528.74" width="9.22" height="5.96" fill="#c0c0ff"/>
<rect x="558.33" y="528.74" width="9.22" height="5.96" fill="#ccccff"/>
<rect x="567.50" y="528.74" width="9.22" height="5.96" fill="#d4d4ff"/>
<rect x="576.67" y="528.74" width="9.22" height="5.96" fill="#ccccff"/>
<rect x="585.83" y="528.74" width="9.22" height="5.96" fill="#d4d4ff"/>
<rect x="595.00" y="528.74" width="9.22" height="5.96" fill="#0000ff"/>
<rect x="604.17" y="528.74" width="9.22" height="5.96" fill="#0000ff"/>
<rect x="613.33" y="528.74" width="9.22" height="5.96" fill="#0000ff"/>
<rect x="622.50" y="528.74" width="9.22" height="5.96" fill="#0000ff"/>
<rect x="631.67" y="528.74" width="9.22" height="5.96" fill="#0000ff"/>
<rect x="640.83" y="528.74" width="9.22" height="5.96" fill="#0000ff"/>
<rect x="540.00" y="534.65" width="9.22" height="5.96" fill="#ccccff"/>
<rect x="549.17" y="534.65" width="9.22" height="5.96" fill="#b5b5ff"/>
<rect x="558.33" y="534.65" width="9.22" height="5.96" fill="#e4e4ff"/>
<rect x="567.50" y="534.65" width="9.22" height="5.96" fill="#d4d4ff"/>
<rect x="576.67" y="534.65" width="9.22" height="5.96" fill="#d4d4ff"/>
<rect x="585.83" y="534.65" width="9.22" height="5.96" fill="#d4d4ff"/>
<rect x="595.00" y="534.65" width="9.22" height="5.96" fill="#6464ff"/>
<rect x="604.17" y="534.65" width="9.22" height="5.96" fill="#0000ff"/>
<rect x="613.33" y="534.65" width="9.22" height="5.96" fill="#8383ff"/>
<rect x="622.50" y="534.65" width="9.22" height="5.96" fill="#0000ff"/>
<rect x="631.67" y="534.65" width="9.22" height="5.96" fill="#0000ff"/>
<rect x="640.83" y="534.65" width="9.22" height="5.96" fill="#0000ff"/>
<rect x="540.00" y="540.56" width="9.22" height="5.96" fill="#dadaff"/>
<rect x="549.17" y="540.56" width="9.22" height="5.96" fill="#d4d4ff"/>
<rect x="558.33" y="540.56" width="9.22" height="5.96" fill="#dadaff"/>
<rect x="567.50" y="540.56" width="9.22" height="5.96" fill="#dedeff"/>
<rect x="576.67" y="540.56" width="9.22" height="5.96" fill="#dadaff"/>
<rect x="585.83" y="540.56" width="9.22" height="5.96" fill="#d4d4ff"/>
<rect x="595.00" y="540.56" width="9.22" height="5.96" fill="#0000ff"/>
<rect x="604.17" y="540.56" width="9.22" height="5.96" fill="#a5a5ff"/>
<rect x="613.33" y="540.56" width="9.22" height="5.96" fill="#0000ff"/>
<rect x="622.50" y="540.56" width="9.22" height="5.96" fill="#0000ff"/>
<rect x="631.67" y="540.56" width="9.22" height="5.96" fill="#0000ff"/>
<rect x="640.83" y="540.56" width="9.22" height="5.96" fill="#0000ff"/>
<rect x="540.00" y="546.47" width="9.22" height="5.96" fill="#d4d4ff"/>
<rect x="549.17" y="546.47" width="9.22" height="5.96" fill="#d4d4ff"/>
<rect x="558.33" y="546.47" width="9.22" height="5.96" fill="#c0c0ff"/>
<rect x="567.50" y="546.47" width="9.22" height="5.96" fill="#ccccff"/>
<rect x="576.67" y="546.47" width="9.22" height="5.96" fill="#d4d4ff"/>
<rect x="585.83" y="546.47" width="9.22" height="5.96" fill="#ccccff"/>
<rect x="595.00" y="546.47" width="9.22" height="5.96" fill="#0000ff"/>
<rect x="604.17" y="546.47" width="9.22" height="5.96" fill="#7f7fff"/>
<rect x="613.33" y="546.47" width="9.22" height="5.96" fill="#0000ff"/>
<rect x="622.50" y="546.47" width="9.22" height="5.96" fill="#0000ff"/>
<rect x="631.67" y="546.47" width="9.22" height="5.96" fill="#0000ff"/>
<rect x="640.83" y="546.47" width="9.22" height="5.96" fill="#0000ff"/>
<rect x="540.00" y="552.38" width="9.22" height="5.96" fill="#d4d4ff"/>
<rect x="549.17" y="552.38" width="9.22" height="5.96" fill="#dedeff"/>
<rect x="558.33" y="552.38" width="9.22" height="5.96" fill="#c0c0ff"/>
<rect x="567.50" y="552.38" width="9.22" height="5.96" fill="#ccccff"/>
<rect x="576.67" y="552.38" width="9.22" height="5.96" fill="#e4e4ff"/>
<rect x="585.83" y="552.38" width="9.22" height="5.96" fill="#ccccff"/>
<rect x="595.00" y="552.38" width="9.22" height="5.96" fill="#0000ff"/>
<rect x="604.17" y="552.38" width="9.22" height="5.96" fill="#0000ff"/>
<rect x="613.33" y="552.38" width="9.22" height="5.96" fill="#0000ff"/>
<rect x="622.50" y="552.38" width="9.22" height="5.96" fill="#0000ff"/>
<rect x="631.67" y="552.38" width="9.22" height="5.96" fill="#0000ff"/>
<rect x="640.83" y="552.38" width="9.22" height="5.96" fill="#0000ff"/>
<rect x="540.00" y="558.29" width="9.22" height="5.96" fill="#ccccff"/>
<rect x="549.17" y="558.29" width="9.22" height="5.96" fill="#dedeff"/>
<rect x="558.33" y="558.29" width="9.22" height="5.96" fill="#d4d4ff"/>
<rect x="567.50" y="558.29" width="9.22" height="5.96" fill="#d4d4ff"/>
<rect x="576.67" y="558.29" width="9.22" height="5.96" fill="#dedeff"/>
<rect x="585.83" y="558.29" width="9.22" height="5.96" fill="#d4d4ff"/>
<rect x="595.00" y="558.29" width="9.22" height="5.96" fill="#0000ff"/>
<rect x="604.17" y="558.29" width="9.22" height="5.96" fill="#7070ff"/>
<rect x="613.33" y="558.29" width="9.22" height="5.96" fill="#8a8aff"/>
<rect x="622.50" y="558.29" width="9.22" height="5.96" fill="#0000ff"/>
<rect x="631.67" y="558.29" width="9.22" height="5.96" fill="#0000ff"/>
<rect x="640.83" y="558.29" width="9.22" height="5.96" fill="#0000ff"/>
<rect x="540.00" y="564.20" width="9.22" height="5.96" fill="#dedeff"/>
<rect x="549.17" y="564.20" width="9.22" height="5.96" fill="#dedeff"/>
<rect x="558.33" y="564.20" width="9.22" height="5.96" fill="#9a9aff"/>
<rect x="567.50" y="564.20" width="9.22" height="5.96" fill="#e4e4ff"/>
<rect x="576.67" y="564.20" width="9.22" height="5.96" fill="#dedeff"/>
<rect x="585.83" y="564.20" width="9.22" height="5.96" fill="#c0c0ff"/>
<rect x="595.00" y="564.20" width="9.22" height="5.96" fill="#6464ff"/>
<rect x="604.17" y="564.20" width="9.22" height="5.96" fill="#0000ff"/>
<rect x="613.33" y="564.20" width="9.22" height="5.96" fill="#7070ff"/>
<rect x="622.50" y="564.20" width="9.22" height="5.96" fill="#0000ff"/>
<rect x="631.67" y="564.20" width="9.22" height="5.96" fill="#0000ff"/>
<rect x="640.83" y="564.20" width="9.22" height="5.96" fill="#0000ff"/>
<rect x="540.00" y="570.11" width="9.22" height="5.96" fill="#dedeff"/>
<rect x="549.17" y="570.11" width="9.22" height="5.96" fill="#f0f0ff"/>
<rect x="558.33" y="570.11" width="9.22" height="5.96" fill="#e9e9ff"/>
<rect x="567.50" y="570.11" width="9.22" height="5.96" fill="#f0f0ff"/>
<rect x="576.67" y="570.11" width="9.22" height="5.96" fill="#f0f0ff"/>
<rect x="585.83" y="570.11" width="9.22" height="5.96" fill="#dedeff"/>
<rect x="595.00" y="570.11" width="9.22" height="5.96" fill="#0000ff"/>
<rect x="604.17" y="570.11" width="9.22" height="5.96" fill="#0000ff"/>
<rect x="613.33" y="570.11" width="9.22" height="5.96" fill="#0000ff"/>
<rect x="622.50" y="570.11" width="9.22" height="5.96" fill="#7070ff"/>
<rect x="631.67" y="570.11" width="9.22" height="5.96" fill="#0000ff"/>
<rect x="640.83" y="570.11" width="9.22" height="5.96" fill="#0000ff"/>
<rect x="540.00" y="576.02" width="9.22" height="5.96" fill="#dedeff"/>
<rect x="549.17" y="576.02" width="9.22" height="5.96" fill="#ebebff"/>
<rect x="558.33" y="576.02" width="9.22" height="5.96" fill="#f0f0ff"/>
<rect x="567.50" y="576.02" width="9.22" height="5.96" fill="#e4e4ff"/>
<rect x="576.67" y="576.02" width="9.22" height="5.96" fill="#f0f0ff"/>
<rect x="585.83" y="576.02" width="9.22" height="5.96" fill="#dedeff"/>
<rect x="595.00" y="576.02" width="9.22" height="5.96" fill="#0000ff"/>
<rect x="604.17" y="576.02" width="9.22" height="5.96" fill="#0000ff"/>
<rect x="613.33" y="576.02" width="9.22" height="5.96" fill="#0000ff"/>
<rect x="622.50" y="576.02" width="9.22" height="5.96" fill="#0000ff"/>
<rect x="631.67" y="576.02" width="9.22" height="5.96" fill="#0000ff"/>
<rect x="640.83" y="576.02" width="9.22" height="5.96" fill="#0000ff"/>
<rect x="540.00" y="581.93" width="9.22" height="5.96" fill="#e4e4ff"/>
<rect x="549.17" y="581.93" width="9.22" height="5.96" fill="#e4e4ff"/>
<rect x="558.33" y="581.93" width="9.22" height="5.96" fill="#dedeff"/>
<rect x="567.50" y="581.93" width="9.22" height="5.96" fill="#dedeff"/>
<rect x="576.67" y="581.93" width="9.22" height="5.96" fill="#ebebff"/>
<rect x="585.83" y="581.93" width="9.22" height="5.96" fill="#dedeff"/>
<rect x="595.00" y="581.93" width="9.22" height="5.96" fill="#0000ff"/>
<rect x="604.17" y="581.93" width="9.22" height="5.96" fill="#0000ff"/>
<rect x="613.33" y="581.93" width="9.22" height="5.96" fill="#0000ff"/>
<rect x="622.50" y="581.93" width="9.22" height="5.96" fill="#0000ff"/>
<rect x="631.67" y="581.93" width="9.22" height="5.96" fill="#7878ff"/>
<rect x="640.83" y="581.93" width="9.22" height="5.96" fill="#0000ff"/>
<rect x="540.00" y="587.85" width="9.22" height="5.96" fill="#e4e4ff"/>
<rect x="549.17" y="587.85" width="9.22" height="5.96" fill="#d4d4ff"/>
<rect x="558.33" y="587.85" width="9.22" height="5.96" fill="#f0f0ff"/>
<rect x="567.50" y="587.85" width="9.22" height="5.96" fill="#f0f0ff"/>
<rect x="576.67" y="587.85" width="9.22" height="5.96" fill="#e4e4ff"/>
<rect x="585.83" y="587.85" width="9.22" height="5.96" fill="#f0f0ff"/>
<rect x="595.00" y="587.85" width="9.22" height="5.96" fill="#0000ff"/>
<rect x="604.17" y="587.85" width="9.22" height="5.96" fill="#0000ff"/>
<rect x="613.33" y="587.85" width="9.22" height="5.96" fill="#0000ff"/>
<rect x="622.50" y="587.85" width="9.22" height="5.96" fill="#0000ff"/>
<rect x="631.67" y="587.85" width="9.22" height="5.96" fill="#0000ff"/>
<rect x="640.83" y="587.85" width="9.22" height="5.96" fill="#0000ff"/>
<rect x="540.00" y="593.76" width="9.22" height="5.96" fill="#e4e4ff"/>
<rect x="549.17" y="593.76" width="9.22" height="5.96" fill="#c8c8ff"/>
<rect x="558.33" y="593.76" width="9.22" height="5.96" fill="#e9e9ff"/>
<rect x="567.50" y="593.76" width="9.22" height="5.96" fill="#e4e4ff"/>
<rect x="576.67" y="593.76" width="9.22" height="5.96" fill="#e4e4ff"/>
<rect x="585.83" y="593.76" width="9.22" height="5.96" fill="#ebebff"/>
<rect x="595.00" y="593.76" width="9.22" height="5.96" fill="#0000ff"/>
<rect x="604.17" y="593.76" width="9.22" height="5.96" fill="#0000ff"/>
<rect x="613.33" y="593.76" width="9.22" height="5.96" fill="#0000ff"/>
<rect x="622.50" y="593.76" width="9.22" height="5.96" fill="#0000ff"/>
<rect x="631.67" y="593.76" width="9.22" height="5.96" fill="#0000ff"/>
<rect x="640.83" y="593.76" width="9.22" height="5.96" fill="#0000ff"/>
<rect x="540.00" y="599.67" width="9.22" height="5.96" fill="#d4d4ff"/>
<rect x="549.17" y="599.67" width="9.22" height="5.96" fill="#ccccff"/>
<rect x="558.33" y="599.67" width="9.22" height="5.96" fill="#dadaff"/>
<rect x="567.50" y="599.67" width="9.22" height="5.96" fill="#dadaff"/>
<rect x="576.67" y="599.67" width="9.22" height="5.96" fill="#dadaff"/>
<rect x="585.83" y="599.67" width="9.22" height="5.96" fill="#dadaff"/>
<rect x="595.00" y="599.67" width="9.22" height="5.96" fill="#0000ff"/>
<rect x="604.17" y="599.67" width="9.22" height="5.96" fill="#0000ff"/>
<rect x="613.33" y="599.67" width="9.22" height="5.96" fill="#0000ff"/>
<rect x="622.50" y="599.67" width="9.22" height="5.96" fill="#0000ff"/>
<rect x="631.67" y="599.67" width="9.22" height="5.96" fill="#0000ff"/>
<rect x="640.83" y="599.67" width="9.22" height="5.96" fill="#0000ff"/>
<rect x="540.00" y="605.58" width="9.22" height="5.96" fill="#e4e4ff"/>
<rect x="549.17" y="605.58" width="9.22" height="5.96" fill="#e9e9ff"/>
<rect x="558.33" y="605.58" width="9.22" height="5.96" fill="#e4e4ff"/>
<rect x="567.50" y="605.58" width="9.22" height="5.96" fill="#ebebff"/>
<rect x="576.67" y="605.58" width="9.22" height="5.96" fill="#ebebff"/>
<rect x="585.83" y="605.58" width="9.22" height="5.96" fill="#f0f0ff"/>
<rect x="595.00" y="605.58" width="9.22" height="5.96" fill="#8a8aff"/>
<rect x="604.17" y="605.58" width="9.22" height="5.96" fill="#0000ff"/>
<rect x="613.33" y="605.58" width="9.22" height="5.96" fill="#0000ff"/>
<rect x="622.50" y="605.58" width="9.22" height="5.96" fill="#7070ff"/>
<rect x="631.67" y="605.58" width="9.22" height="5.96" fill="#0000ff"/>
<rect x="640.83" y="605.58" width="9.22" height="5.96" fill="#0000ff"/>
<rect x="540.00" y="611.49" width="9.22" height="5.96" fill="#e4e4ff"/>
<rect x="549.17" y="611.49" width="9.22" height="5.96" fill="#e9e9ff"/>
<rect x="558.33" y="611.49" width="9.22" height="5.96" fill="#ebebff"/>
<rect x="567.50" y="611.49" width="9.22" height="5.96" fill="#e4e4ff"/>
<rect x="576.67" y="611.49" width="9.22" height="5.96" fill="#e4e4ff"/>
<rect x="585.83" y="611.49" width="9.22" height="5.96" fill="#f0f0ff"/>
<rect x="595.00" y="611.49" width="9.22" height="5.96" fill="#8a8aff"/>
<rect x="604.17" y="611.49" width="9.22" height="5.96" fill="#0000ff"/>
<rect x="613.33" y="611.49" width="9.22" height="5.96" fill="#0000ff"/>
<rect x="622.50" y="611.49" width="9.22" height="5.96" fill="#0000ff"/>
<rect x="631.67" y="611.49" width="9.22" height="5.96" fill="#0000ff"/>
<rect x="640.83" y="611.49" width="9.22" height="5.96" fill="#0000ff"/>
</g>
<path d="M549.17 20.40V617.40M558.33 20.40V617.40M567.50 20.40V617.40M576.67 20.40V617.40M585.83 20.40V617.40M595.00 20.40V617.40M604.17 20.40V617.40M613.33 20.40V617.40M622.50 20.40V617.40M631.67 20.40V617.40M640.83 20.40V617.40M540.00 26.31H650.00M540.00 32.22H650.00M540.00 38.13H650.00M540.00 44.04H650.00M540.00 49.95H650.00M540.00 55.87H650.00M540.00 61.78H650.00M540.00 67.69H650.00M540.00 73.60H650.00M540.00 79.51H650.00M540.00 85.42H650.00M540.00 91.33H650.00M540.00 97.24H650.00M540.00 103.15H650.00M540.00 109.06H650.00M540.00 114.97H650.00M540.00 120.89H650.00M540.00 126.80H650.00M540.00 132.71H650.00M540.00 138.62H650.00M540.00 144.53H650.00M540.00 150.44H650.00M540.00 156.35H650.00M540.00 162.26H650.00M540.00 168.17H650.00M540.00 174.08H650.00M540.00 179.99H650.00M540.00 185.90H650.00M540.00 191.82H650.00M540.00 197.73H650.00M540.00 203.64H650.00M540.00 209.55H650.00M540.00 215.46H650.00M540.00 221.37H650.00M540.00 227.28H650.00M540.00 233.19H650.00M540.00 239.10H650.00M540.00 245.01H650.00M540.00 250.92H650.00M540.00 256.84H650.00M540.00 262.75H650.00M540.00 268.66H650.00M540.00 274.57H650.00M540.00 280.48H650.00M540.00 286.39H650.00M540.00 292.30H650.00M540.00 298.21H650.00M540.00 304.12H650.00M540.00 310.03H650.00M540.00 315.94H650.00M540.00 321.86H650.00M540.00 327.77H650.00M540.00 333.68H650.00M540.00 339.59H650.00M540.00 345.50H650.00M540.00 351.41H650.00M540.00 357.32H650.00M540.00 363.23H650.00M540.00 369.14H650.00M540.00 375.05H650.00M540.00 380.96H650.00M540.00 386.88H650.00M540.00 392.79H650.00M540.00 398.70H650.00M540.00 404.61H650.00M540.00 410.52H650.00M540.00 416.43H650.00M540.00 422.34H650.00M540.00 428.25H650.00M540.00 434.16H650.00M540.00 440.07H650.00M540.00 445.98H650.00M540.00 451.90H650.00M540.00 457.81H650.00M540.00 463.72H650.00M540.00 469.63H650.00M540.00 475.54H650.00M540.00 481.45H650.00M540.00 487.36H650.00M540.00 493.27H650.00M540.00 499.18H650.00M540.00 505.09H650.00M540.00 511.00H650.00M540.00 516.91H650.00M540.00 522.83H650.00M540.00 528.74H650.00M540.00 534.65H650.00M540.00 540.56H650.00M540.00 546.47H650.00M540.00 552.38H650.00M540.00 558.29H650.00M540.00 564.20H650.00M540.00 570.11H650.00M540.00 576.02H650.00M540.00 581.93H650.00M540.00 587.85H650.00M540.00 593.76H650.00M540.00 599.67H650.00M540.00 605.58H650.00M540.00 611.49H650.00" stroke="#ffffff" stroke-width="0.25" fill="none" stroke-opacity="0.25"/>
<text x="651.80" y="25.36" font-size="5.95" font-style="italic">CASP1</text>
<text x="651.80" y="31.27" font-size="5.95" font-style="italic">AC187653.1</text>
<text x="651.80" y="37.18" font-size="5.95" font-style="italic">GBP1P1</text>
<text x="651.80" y="43.09" font-size="5.95" font-style="italic">GBP5</text>
<text x="651.80" y="49.00" font-size="5.95" font-style="italic">CXCL11</text>
<text x="651.80" y="54.91" font-size="5.95" font-style="italic">APOBEC3G</text>
<text x="651.80" y="60.82" font-size="5.95" font-style="italic">IL12RB1</text>
<text x="651.80" y="66.73" font-size="5.95" font-style="italic">ACY3</text>
<text x="651.80" y="72.64" font-size="5.95" font-style="italic">PRAL</text>
<text x="651.80" y="78.55" font-size="5.95" font-style="italic">PGLYRP4</text>
<text x="651.80" y="84.46" font-size="5.95" font-style="italic">LINC00487</text>
<text x="651.80" y="90.38" font-size="5.95" font-style="italic">CHI3L2</text>
<text x="651.80" y="96.29" font-size="5.95" font-style="italic">TNFRSF14</text>
<text x="651.80" y="102.20" font-size="5.95" font-style="italic">PDCD1LG2</text>
<text x="651.80" y="108.11" font-size="5.95" font-style="italic">RF00100</text>
<text x="651.80" y="114.02" font-size="5.95" font-style="italic">IFNL1</text>
<text x="651.80" y="119.93" font-size="5.95" font-style="italic">RTP4</text>
<text x="651.80" y="125.84" font-size="5.95" font-style="italic">CXCL10</text>
<text x="651.80" y="131.75" font-size="5.95" font-style="italic">BATF2</text>
<text x="651.80" y="137.66" font-size="5.95" font-style="italic">CCL22</text>
<text x="651.80" y="143.57" font-size="5.95" font-style="italic">TNF</text>
<text x="651.80" y="149.48" font-size="5.95" font-style="italic">HRASLS2</text>
<text x="651.80" y="155.40" font-size="5.95" font-style="italic">IFI44</text>
<text x="651.80" y="161.31" font-size="5.95" font-style="italic">MX2</text>
<text x="651.80" y="167.22" font-size="5.95" font-style="italic">IFI44L</text>
<text x="651.80" y="173.13" font-size="5.95" font-style="italic">PARP14</text>
<text x="651.80" y="179.04" font-size="5.95" font-style="italic">GJB2</text>
<text x="651.80" y="184.95" font-size="5.95" font-style="italic">PCOLCE2</text>
<text x="651.80" y="190.86" font-size="5.95" font-style="italic">TGM5</text>
<text x="651.80" y="196.77" font-size="5.95" font-style="italic">S100A9</text>
<text x="651.80" y="202.68" font-size="5.95" font-style="italic">AOC1</text>
<text x="651.80" y="208.59" font-size="5.95" font-style="italic">TNS4</text>
<text x="651.80" y="214.50" font-size="5.95" font-style="italic">BTN3A3</text>
<text x="651.80" y="220.41" font-size="5.95" font-style="italic">COL15A1</text>
<text x="651.80" y="226.33" font-size="5.95" font-style="italic">PIK3AP1</text>
<text x="651.80" y="232.24" font-size="5.95" font-style="italic">AC009950.1</text>
<text x="651.80" y="238.15" font-size="5.95" font-style="italic">CCDC194</text>
<text x="651.80" y="244.06" font-size="5.95" font-style="italic">SEMA3D</text>
<text x="651.80" y="249.97" font-size="5.95" font-style="italic">OSR1</text>
<text x="651.80" y="255.88" font-size="5.95" font-style="italic">HSH2D</text>
<text x="651.80" y="261.79" font-size="5.95" font-style="italic">NLRC5</text>
<text x="651.80" y="267.70" font-size="5.95" font-style="italic">GCA</text>
<text x="651.80" y="273.61" font-size="5.95" font-style="italic">GBP4</text>
<text x="651.80" y="279.52" font-size="5.95" font-style="italic">XAF1</text>
<text x="651.80" y="285.43" font-size="5.95" font-style="italic">SAMD9L</text>
<text x="651.80" y="291.35" font-size="5.95" font-style="italic">C1R</text>
<text x="651.80" y="297.26" font-size="5.95" font-style="italic">SAA2</text>
<text x="651.80" y="303.17" font-size="5.95" font-style="italic">DHX58</text>
<text x="651.80" y="309.08" font-size="5.95" font-style="italic">OASL</text>
<text x="651.80" y="314.99" font-size="5.95" font-style="italic">CCL5</text>
<text x="651.80" y="320.90" font-size="5.95" font-style="italic">OAS2</text>
<text x="651.80" y="326.81" font-size="5.95" font-style="italic">SAMD9</text>
<text x="651.80" y="332.72" font-size="5.95" font-style="italic">UBE2L6</text>
<text x="651.80" y="338.63" font-size="5.95" font-style="italic">IFIT5</text>
<text x="651.80" y="344.54" font-size="5.95" font-style="italic">CTSS</text>
<text x="651.80" y="350.45" font-size="5.95" font-style="italic">IFIT1</text>
<text x="651.80" y="356.37" font-size="5.95" font-style="italic">IFIT3</text>
<text x="651.80" y="362.28" font-size="5.95" font-style="italic">IFIT2</text>
<text x="651.80" y="368.19" font-size="5.95" font-style="italic">OAS1</text>
<text x="651.80" y="374.10" font-size="5.95" font-style="italic">IFI27</text>
<text x="651.80" y="380.01" font-size="5.95" font-style="italic">IFITM1</text>
<text x="651.80" y="385.92" font-size="5.95" font-style="italic">RSAD2</text>
<text x="651.80" y="391.83" font-size="5.95" font-style="italic">IFIH1</text>
<text x="651.80" y="397.74" font-size="5.95" font-style="italic">PARP9</text>
<text x="651.80" y="403.65" font-size="5.95" font-style="italic">TRIM22</text>
<text x="651.80" y="409.56" font-size="5.95" font-style="italic">OAS3</text>
<text x="651.80" y="415.47" font-size="5.95" font-style="italic">TRIM44</text>
<text x="651.80" y="421.39" font-size="5.95" font-style="italic">LAMA3</text>
<text x="651.80" y="427.30" font-size="5.95" font-style="italic">AGXT</text>
<text x="651.80" y="433.21" font-size="5.95" font-style="italic">TRIM29</text>
<text x="651.80" y="439.12" font-size="5.95" font-style="italic">SEMA3C</text>
<text x="651.80" y="445.03" font-size="5.95" font-style="italic">COL6A3</text>
<text x="651.80" y="450.94" font-size="5.95" font-style="italic">MGST1</text>
<text x="651.80" y="456.85" font-size="5.95" font-style="italic">FZD10</text>
<text x="651.80" y="462.76" font-size="5.95" font-style="italic">ARHGAP40</text>
<text x="651.80" y="468.67" font-size="5.95" font-style="italic">FZD10-AS1</text>
<text x="651.80" y="474.58" font-size="5.95" font-style="italic">SDK2</text>
<text x="651.80" y="480.49" font-size="5.95" font-style="italic">COLEC12</text>
<text x="651.80" y="486.40" font-size="5.95" font-style="italic">NKAIN2</text>
<text x="651.80" y="492.32" font-size="5.95" font-style="italic">GPX1</text>
<text x="651.80" y="498.23" font-size="5.95" font-style="italic">LIN28A</text>
<text x="651.80" y="504.14" font-size="5.95" font-style="italic">PRAME</text>
<text x="651.80" y="510.05" font-size="5.95" font-style="italic">GALNT13</text>
<text x="651.80" y="515.96" font-size="5.95" font-style="italic">ENPP5</text>
<text x="651.80" y="521.87" font-size="5.95" font-style="italic">PEX7</text>
<text x="651.80" y="527.78" font-size="5.95" font-style="italic">AC023347.1</text>
<text x="651.80" y="533.69" font-size="5.95" font-style="italic">LINC01139</text>
<text x="651.80" y="539.60" font-size="5.95" font-style="italic">PTPRB</text>
<text x="651.80" y="545.51" font-size="5.95" font-style="italic">ZNF718</text>
<text x="651.80" y="551.42" font-size="5.95" font-style="italic">ANO5</text>
<text x="651.80" y="557.34" font-size="5.95" font-style="italic">RUBCNL</text>
<text x="651.80" y="563.25" font-size="5.95" font-style="italic">GREM2</text>
<text x="651.80" y="569.16" font-size="5.95" font-style="italic">AC011453.2</text>
<text x="651.80" y="575.07" font-size="5.95" font-style="italic">MAGEA12</text>
<text x="651.80" y="580.98" font-size="5.95" font-style="italic">HAVCR1</text>
<text x="651.80" y="586.89" font-size="5.95" font-style="italic">ASAH2B</text>
<text x="651.80" y="592.80" font-size="5.95" font-style="italic">AC021683.2</text>
<text x="651.80" y="598.71" font-size="5.95" font-style="italic">AC021683.1</text>
<text x="651.80" y="604.62" font-size="5.95" font-style="italic">GABRG2</text>
<text x="651.80" y="610.53" font-size="5.95" font-style="italic">KCNN2</text>
<text x="651.80" y="616.44" font-size="5.95" font-style="italic">AC025369.1</text>
<text x="543.00" y="626.30" font-size="7.3" text-anchor="middle" fill="#111">1</text>
<text x="552.60" y="626.30" font-size="7.3" text-anchor="middle" fill="#111">2</text>
<text x="562.40" y="626.30" font-size="7.3" text-anchor="middle" fill="#111">3</text>
<text x="571.30" y="626.30" font-size="7.3" text-anchor="middle" fill="#111">1</text>
<text x="580.90" y="626.30" font-size="7.3" text-anchor="middle" fill="#111">2</text>
<text x="590.40" y="626.30" font-size="7.3" text-anchor="middle" fill="#111">3</text>
<text x="599.90" y="626.30" font-size="7.3" text-anchor="middle" fill="#111">1</text>
<text x="609.50" y="626.30" font-size="7.3" text-anchor="middle" fill="#111">2</text>
<text x="619.00" y="626.30" font-size="7.3" text-anchor="middle" fill="#111">3</text>
<text x="628.70" y="626.30" font-size="7.3" text-anchor="middle" fill="#111">1</text>
<text x="637.80" y="626.30" font-size="7.3" text-anchor="middle" fill="#111">2</text>
<text x="647.00" y="626.30" font-size="7.3" text-anchor="middle" fill="#111">3</text>
<path d="M540.80 626.00Q540.80 628.20 542.30 628.20H565.20Q566.70 628.20 566.70 626.00" stroke="#333" stroke-width="0.6" fill="none"/>
<path d="M568.30 626.00Q568.30 628.20 569.80 628.20H592.70Q594.20 628.20 594.20 626.00" stroke="#333" stroke-width="0.6" fill="none"/>
<path d="M595.80 626.00Q595.80 628.20 597.30 628.20H620.20Q621.70 628.20 621.70 626.00" stroke="#333" stroke-width="0.6" fill="none"/>
<path d="M623.30 626.00Q623.30 628.20 624.80 628.20H647.70Q649.20 628.20 649.20 626.00" stroke="#333" stroke-width="0.6" fill="none"/>
<text x="551.50" y="638.30" font-size="8.1" text-anchor="middle" fill="#111">Ctrl</text>
<text x="581.60" y="638.30" font-size="8.1" text-anchor="middle" fill="#111">Poly(I:C)</text>
<text x="608.00" y="638.30" font-size="8.1" text-anchor="middle" fill="#111">Ctrl</text>
<text x="638.60" y="638.30" font-size="8.1" text-anchor="middle" fill="#111">Poly(I:C)</text>
<path d="M540.80 639.50Q540.80 641.80 542.30 641.80H592.70Q594.20 641.80 594.20 639.50" stroke="#333" stroke-width="0.6" fill="none"/>
<path d="M595.80 639.50Q595.80 641.80 597.30 641.80H647.70Q649.20 641.80 649.20 639.50" stroke="#333" stroke-width="0.6" fill="none"/>
<text x="567.10" y="650.30" font-size="8.9" text-anchor="middle" fill="#111">Cas9</text>
<text x="623.70" y="650.30" font-size="8.9" text-anchor="middle" fill="#111">dA11.21</text>
<defs><linearGradient id="cb" x1="0" y1="1" x2="0" y2="0"><stop offset="0" stop-color="#0000ff"/><stop offset="0.5" stop-color="#ffffff"/><stop offset="1" stop-color="#ff0000"/></linearGradient></defs>
<rect x="494.70" y="52.00" width="9.30" height="101.60" fill="url(#cb)"/>
<line x1="502.30" y1="153.60" x2="504.00" y2="153.60" stroke="#fff" stroke-width="0.5"/>
<line x1="494.70" y1="153.60" x2="496.40" y2="153.60" stroke="#fff" stroke-width="0.5"/>
<text x="506.60" y="156.40" font-size="7.7" fill="#111">0</text>
<line x1="502.30" y1="119.73" x2="504.00" y2="119.73" stroke="#fff" stroke-width="0.5"/>
<line x1="494.70" y1="119.73" x2="496.40" y2="119.73" stroke="#fff" stroke-width="0.5"/>
<text x="506.60" y="122.53" font-size="7.7" fill="#111">5</text>
<line x1="502.30" y1="85.87" x2="504.00" y2="85.87" stroke="#fff" stroke-width="0.5"/>
<line x1="494.70" y1="85.87" x2="496.40" y2="85.87" stroke="#fff" stroke-width="0.5"/>
<text x="506.60" y="88.67" font-size="7.7" fill="#111">10</text>
<line x1="502.30" y1="52.00" x2="504.00" y2="52.00" stroke="#fff" stroke-width="0.5"/>
<line x1="494.70" y1="52.00" x2="496.40" y2="52.00" stroke="#fff" stroke-width="0.5"/>
<text x="506.60" y="54.80" font-size="7.7" fill="#111">15</text>
<text x="493.6" y="31.6" font-size="8.8" fill="#111">Log<tspan font-size="5.6" dy="1.2">2</tspan><tspan dy="-1.2">,</tspan></text>
<text x="505.00" y="41.60" font-size="8.8" text-anchor="middle" fill="#111">normalized</text>
<path d="M539.60 23.36H538.27V29.27H539.60M538.27 26.31H537.67V35.18H539.60M539.60 41.09H538.24V47.00H539.60M539.60 52.91H537.87V58.82H539.60M538.24 44.04H537.27V55.87H537.87M539.60 64.73H538.21V70.64H539.60M537.27 49.95H536.49V67.69H538.21M539.60 82.46H538.25V88.38H539.60M539.60 76.55H537.65V85.42H538.25M536.49 58.82H535.28V80.99H537.65M537.67 30.74H533.93V69.90H535.28M539.60 94.29H538.06V100.20H539.60M539.60 112.02H538.19V117.93H539.60M539.60 106.11H537.59V114.97H538.19M538.06 97.24H536.99V110.54H537.59M539.60 129.75H538.20V135.66H539.60M539.60 123.84H537.51V132.71H538.20M536.99 103.89H535.43V128.27H537.51M539.60 147.48H538.24V153.40H539.60M539.60 141.57H537.64V150.44H538.24M539.60 159.31H537.75V165.22H539.60M537.64 146.01H536.52V162.26H537.75M536.52 154.13H535.92V171.13H539.60M535.43 116.08H534.83V162.63H535.92M533.93 50.32H530.30V139.36H534.83M539.60 182.95H538.22V188.86H539.60M539.60 177.04H537.43V185.90H538.22M539.60 194.77H537.69V200.68H539.60M537.43 181.47H536.40V197.73H537.69M539.60 206.59H538.07V212.50H539.60M538.07 209.55H537.19V218.41H539.60M539.60 224.33H537.63V230.24H539.60M537.19 213.98H535.75V227.28H537.63M536.40 189.60H534.82V220.63H535.75M539.60 242.06H538.19V247.97H539.60M539.60 236.15H537.29V245.01H538.19M534.82 205.12H531.00V240.58H537.29M530.30 94.84H528.00V222.85H531.00M539.60 259.79H538.36V265.70H539.60M538.36 262.75H537.76V271.61H539.60M539.60 253.88H537.16V267.18H537.76M539.60 277.52H537.57V283.43H539.60M537.16 260.53H536.56V280.48H537.57M539.60 289.35H538.23V295.26H539.60M538.23 292.30H537.12V301.17H539.60M539.60 312.99H537.74V318.90H539.60M539.60 307.08H537.14V315.94H537.74M537.12 296.73H536.29V311.51H537.14M536.56 270.50H531.00V304.12H536.29M539.60 324.81H538.07V330.72H539.60M538.07 327.77H537.07V336.63H539.60M539.60 342.54H537.54V348.45H539.60M537.07 332.20H536.07V345.50H537.54M539.60 354.37H538.27V360.28H539.60M538.27 357.32H537.67V366.19H539.60M536.07 338.85H531.50V361.75H537.67M531.00 287.31H529.50V350.30H531.50M528.00 158.84H526.40V318.81H529.50M539.60 372.10H537.83V378.01H539.60M539.60 389.83H538.23V395.74H539.60M539.60 383.92H537.63V392.79H538.23M537.83 375.05H537.03V388.35H537.63M539.60 401.65H538.22V407.56H539.60M538.22 404.61H536.97V413.47H539.60M539.60 419.39H537.98V425.30H539.60M539.60 431.21H538.07V437.12H539.60M537.98 422.34H536.86V434.16H538.07M536.97 409.04H535.84V428.25H536.86M537.03 381.70H529.50V418.65H535.84M529.50 400.17H523.50V443.03H539.60M526.40 238.83H514.00V421.60H523.50M539.60 448.94H537.76V454.85H539.60M537.76 451.90H536.89V460.76H539.60M539.60 466.67H537.77V472.58H539.60M539.60 478.49H538.00V484.40H539.60M537.77 469.63H536.27V481.45H538.00M536.89 456.33H531.30V475.54H536.27M539.60 496.23H538.17V502.14H539.60M539.60 490.32H532.60V499.18H538.17M531.30 465.93H527.70V494.75H532.60M539.60 508.05H537.92V513.96H539.60M539.60 519.87H538.16V525.78H539.60M538.16 522.83H537.56V531.69H539.60M539.60 537.60H538.17V543.51H539.60M537.56 527.26H536.96V540.56H538.17M537.92 511.00H536.36V533.91H536.96M539.60 555.34H537.98V561.25H539.60M537.98 558.29H537.38V567.16H539.60M537.38 562.72H536.78V573.07H539.60M539.60 549.42H535.70V567.90H536.78M539.60 596.71H538.72V602.62H539.60M539.60 590.80H538.12V599.67H538.72M539.60 584.89H537.52V595.23H538.12M539.60 578.98H536.92V590.06H537.52M539.60 608.53H537.81V614.44H539.60M536.92 584.52H535.46V611.49H537.81M535.70 558.66H534.60V598.00H535.46M536.36 522.46H534.00V578.33H534.60M527.70 480.34H522.10V550.39H534.00M514.00 330.21H512.5V515.37H522.10" stroke="#3a3a3a" stroke-width="0.5" fill="none"/>
<line x1="30.20" y1="32.10" x2="30.20" y2="95.30" stroke="#000" stroke-width="0.7"/>
<line x1="30.20" y1="95.30" x2="55.50" y2="95.30" stroke="#000" stroke-width="0.7"/>
<line x1="28.40" y1="95.30" x2="30.20" y2="95.30" stroke="#000" stroke-width="0.6"/>
<line x1="28.40" y1="81.02" x2="30.20" y2="81.02" stroke="#000" stroke-width="0.6"/>
<line x1="28.40" y1="66.75" x2="30.20" y2="66.75" stroke="#000" stroke-width="0.6"/>
<line x1="28.40" y1="52.47" x2="30.20" y2="52.47" stroke="#000" stroke-width="0.6"/>
<line x1="28.40" y1="38.20" x2="30.20" y2="38.20" stroke="#000" stroke-width="0.6"/>
<text x="26.50" y="98.30" font-size="8.5" text-anchor="end" fill="#444">0</text>
<text x="26.50" y="69.75" font-size="8.5" text-anchor="end" fill="#444">0.5</text>
<text x="26.50" y="41.20" font-size="8.5" text-anchor="end" fill="#444">1.0</text>
<rect x="32.80" y="38.20" width="7.30" height="57.10" fill="#f8c3a9"/>
<rect x="44.60" y="75.89" width="7.30" height="19.41" fill="#1a8ad4"/>
<line x1="48.25" y1="71.00" x2="48.25" y2="75.89" stroke="#000" stroke-width="0.6"/>
<line x1="47.05" y1="71.00" x2="49.45" y2="71.00" stroke="#000" stroke-width="0.6"/>
<circle cx="36.45" cy="37.60" r="1.2" fill="#111"/>
<circle cx="36.45" cy="38.20" r="1.2" fill="#111"/>
<circle cx="36.45" cy="38.80" r="1.2" fill="#111"/>
<circle cx="48.25" cy="65.50" r="1.15" fill="none" stroke="#111" stroke-width="0.55"/>
<circle cx="48.25" cy="80.30" r="1.2" fill="#111"/>
<circle cx="48.25" cy="81.20" r="1.2" fill="#111"/>
<path d="M36.45 33.00V31.30H48.25V33.00" stroke="#000" stroke-width="0.6" fill="none"/>
<text x="42.35" y="33.90" font-size="10.0" text-anchor="middle" fill="#111">*</text>
<text x="39.40" y="20.70" font-size="9.4" font-weight="bold" text-anchor="middle">MOI = 0.02</text>
<text x="39.05" y="102.70" font-size="8.8" text-anchor="end" fill="#111" transform="rotate(-45 39.05 102.70)">Cas9</text>
<text x="52.45" y="102.70" font-size="8.8" text-anchor="end" fill="#111" transform="rotate(-45 52.45 102.70)">dA11.21</text>
<line x1="80.50" y1="32.10" x2="80.50" y2="95.30" stroke="#000" stroke-width="0.7"/>
<line x1="80.50" y1="95.30" x2="105.80" y2="95.30" stroke="#000" stroke-width="0.7"/>
<line x1="78.70" y1="95.30" x2="80.50" y2="95.30" stroke="#000" stroke-width="0.6"/>
<line x1="78.70" y1="81.02" x2="80.50" y2="81.02" stroke="#000" stroke-width="0.6"/>
<line x1="78.70" y1="66.75" x2="80.50" y2="66.75" stroke="#000" stroke-width="0.6"/>
<line x1="78.70" y1="52.47" x2="80.50" y2="52.47" stroke="#000" stroke-width="0.6"/>
<line x1="78.70" y1="38.20" x2="80.50" y2="38.20" stroke="#000" stroke-width="0.6"/>
<text x="76.80" y="98.30" font-size="8.5" text-anchor="end" fill="#444">0</text>
<text x="76.80" y="69.75" font-size="8.5" text-anchor="end" fill="#444">0.5</text>
<text x="76.80" y="41.20" font-size="8.5" text-anchor="end" fill="#444">1.0</text>
<rect x="83.10" y="38.20" width="7.30" height="57.10" fill="#f8c3a9"/>
<rect x="94.90" y="77.60" width="7.30" height="17.70" fill="#1a8ad4"/>
<line x1="98.55" y1="74.30" x2="98.55" y2="77.60" stroke="#000" stroke-width="0.6"/>
<line x1="97.35" y1="74.30" x2="99.75" y2="74.30" stroke="#000" stroke-width="0.6"/>
<circle cx="86.75" cy="37.60" r="1.2" fill="#111"/>
<circle cx="86.75" cy="38.20" r="1.2" fill="#111"/>
<circle cx="86.75" cy="38.80" r="1.2" fill="#111"/>
<circle cx="98.55" cy="70.50" r="1.15" fill="none" stroke="#111" stroke-width="0.55"/>
<circle cx="98.55" cy="78.60" r="1.15" fill="none" stroke="#111" stroke-width="0.55"/>
<circle cx="98.55" cy="82.40" r="1.15" fill="none" stroke="#111" stroke-width="0.55"/>
<path d="M86.75 33.00V31.30H98.55V33.00" stroke="#000" stroke-width="0.6" fill="none"/>
<text x="92.65" y="33.90" font-size="10.0" text-anchor="middle" fill="#111">**</text>
<text x="94.60" y="20.70" font-size="9.4" font-weight="bold" text-anchor="middle">MOI = 0.1</text>
<text x="89.35" y="102.70" font-size="8.8" text-anchor="end" fill="#111" transform="rotate(-45 89.35 102.70)">Cas9</text>
<text x="102.75" y="102.70" font-size="8.8" text-anchor="end" fill="#111" transform="rotate(-45 102.75 102.70)">dA11.21</text>
<text x="9.80" y="70.80" font-size="9.5" text-anchor="middle" fill="#111" transform="rotate(-90 9.80 70.80)">Relative viral load</text>
<line x1="215.60" y1="14.60" x2="215.60" y2="42.00" stroke="#1a1a1a" stroke-width="0.85" stroke-dasharray="5.2,2.4"/>
<line x1="223.50" y1="14.60" x2="223.50" y2="42.00" stroke="#1a1a1a" stroke-width="0.85" stroke-dasharray="5.2,2.4"/>
<line x1="167.60" y1="105.20" x2="262.00" y2="105.20" stroke="#1a1a1a" stroke-width="0.8" stroke-dasharray="5.2,2.4"/>
<g fill="#dedede" stroke="#7a7a7a" stroke-width="0.35" fill-opacity="0.5" stroke-opacity="0.6"><circle cx="240.3" cy="85.1" r="1.15"/><circle cx="220.4" cy="95.6" r="1.15"/><circle cx="205.7" cy="103.8" r="1.15"/><circle cx="249.1" cy="101.1" r="1.15"/><circle cx="221.1" cy="96.4" r="1.15"/><circle cx="219.1" cy="75.6" r="1.15"/><circle cx="224.0" cy="105.0" r="1.15"/><circle cx="186.7" cy="104.6" r="1.15"/><circle cx="224.3" cy="104.3" r="1.15"/><circle cx="223.8" cy="92.9" r="1.15"/><circle cx="222.2" cy="101.9" r="1.15"/><circle cx="209.0" cy="105.0" r="1.15"/><circle cx="231.0" cy="85.7" r="1.15"/><circle cx="239.4" cy="78.7" r="1.15"/><circle cx="230.8" cy="81.9" r="1.15"/><circle cx="212.5" cy="98.4" r="1.15"/><circle cx="231.8" cy="99.0" r="1.15"/><circle cx="194.5" cy="102.3" r="1.15"/><circle cx="201.0" cy="105.1" r="1.15"/><circle cx="222.2" cy="95.7" r="1.15"/><circle cx="229.8" cy="82.4" r="1.15"/><circle cx="214.4" cy="98.4" r="1.15"/><circle cx="195.0" cy="104.2" r="1.15"/><circle cx="207.4" cy="104.6" r="1.15"/><circle cx="243.5" cy="80.8" r="1.15"/><circle cx="208.5" cy="104.0" r="1.15"/><circle cx="178.5" cy="105.1" r="1.15"/><circle cx="192.2" cy="104.7" r="1.15"/><circle cx="184.1" cy="104.9" r="1.15"/><circle cx="209.5" cy="99.0" r="1.15"/><circle cx="222.5" cy="81.1" r="1.15"/><circle cx="234.4" cy="81.2" r="1.15"/><circle cx="227.6" cy="89.4" r="1.15"/><circle cx="216.4" cy="83.0" r="1.15"/><circle cx="211.9" cy="98.5" r="1.15"/><circle cx="207.0" cy="102.9" r="1.15"/><circle cx="200.6" cy="102.1" r="1.15"/><circle cx="217.5" cy="102.7" r="1.15"/><circle cx="229.8" cy="73.3" r="1.15"/><circle cx="229.0" cy="75.5" r="1.15"/><circle cx="220.0" cy="86.7" r="1.15"/><circle cx="223.4" cy="105.1" r="1.15"/><circle cx="221.4" cy="103.8" r="1.15"/><circle cx="211.2" cy="104.5" r="1.15"/><circle cx="230.9" cy="102.5" r="1.15"/><circle cx="217.6" cy="96.1" r="1.15"/><circle cx="213.6" cy="104.3" r="1.15"/><circle cx="209.1" cy="103.7" r="1.15"/><circle cx="246.0" cy="97.5" r="1.15"/><circle cx="226.2" cy="76.3" r="1.15"/><circle cx="223.8" cy="103.7" r="1.15"/><circle cx="219.3" cy="86.9" r="1.15"/><circle cx="212.8" cy="102.6" r="1.15"/><circle cx="247.5" cy="99.0" r="1.15"/><circle cx="224.6" cy="96.2" r="1.15"/><circle cx="209.3" cy="97.3" r="1.15"/><circle cx="232.8" cy="68.3" r="1.15"/><circle cx="230.1" cy="73.9" r="1.15"/><circle cx="207.9" cy="94.7" r="1.15"/><circle cx="211.1" cy="104.9" r="1.15"/><circle cx="224.0" cy="78.1" r="1.15"/><circle cx="239.9" cy="103.4" r="1.15"/><circle cx="248.3" cy="94.1" r="1.15"/><circle cx="206.4" cy="103.1" r="1.15"/><circle cx="227.2" cy="94.5" r="1.15"/><circle cx="223.4" cy="86.2" r="1.15"/><circle cx="216.0" cy="100.3" r="1.15"/><circle cx="243.3" cy="103.9" r="1.15"/><circle cx="225.1" cy="66.7" r="1.15"/><circle cx="223.8" cy="101.8" r="1.15"/><circle cx="207.9" cy="90.9" r="1.15"/><circle cx="203.7" cy="98.9" r="1.15"/><circle cx="177.6" cy="105.0" r="1.15"/><circle cx="220.0" cy="103.2" r="1.15"/><circle cx="229.8" cy="79.9" r="1.15"/><circle cx="197.7" cy="103.5" r="1.15"/><circle cx="214.3" cy="85.4" r="1.15"/><circle cx="191.4" cy="102.7" r="1.15"/><circle cx="233.5" cy="103.6" r="1.15"/><circle cx="226.7" cy="74.2" r="1.15"/><circle cx="227.7" cy="97.3" r="1.15"/><circle cx="201.4" cy="102.9" r="1.15"/><circle cx="211.4" cy="104.7" r="1.15"/><circle cx="217.7" cy="92.2" r="1.15"/><circle cx="235.8" cy="100.7" r="1.15"/><circle cx="227.5" cy="103.7" r="1.15"/><circle cx="217.8" cy="104.1" r="1.15"/><circle cx="224.2" cy="101.7" r="1.15"/><circle cx="236.6" cy="104.2" r="1.15"/><circle cx="226.5" cy="80.8" r="1.15"/><circle cx="247.3" cy="100.6" r="1.15"/><circle cx="253.3" cy="103.6" r="1.15"/><circle cx="220.6" cy="103.6" r="1.15"/><circle cx="218.5" cy="105.0" r="1.15"/><circle cx="233.5" cy="89.2" r="1.15"/><circle cx="208.6" cy="104.8" r="1.15"/><circle cx="255.0" cy="95.9" r="1.15"/><circle cx="229.0" cy="87.2" r="1.15"/><circle cx="239.6" cy="88.7" r="1.15"/><circle cx="214.9" cy="95.7" r="1.15"/><circle cx="217.0" cy="104.2" r="1.15"/><circle cx="212.7" cy="97.3" r="1.15"/><circle cx="208.6" cy="90.3" r="1.15"/><circle cx="211.1" cy="101.9" r="1.15"/><circle cx="209.2" cy="90.2" r="1.15"/><circle cx="216.6" cy="94.5" r="1.15"/><circle cx="203.2" cy="103.9" r="1.15"/><circle cx="232.1" cy="104.7" r="1.15"/><circle cx="215.5" cy="104.8" r="1.15"/><circle cx="212.8" cy="89.9" r="1.15"/><circle cx="191.1" cy="105.1" r="1.15"/><circle cx="194.3" cy="105.2" r="1.15"/><circle cx="229.8" cy="79.1" r="1.15"/><circle cx="248.7" cy="102.7" r="1.15"/><circle cx="235.1" cy="72.7" r="1.15"/><circle cx="212.4" cy="102.8" r="1.15"/><circle cx="224.2" cy="99.7" r="1.15"/><circle cx="243.2" cy="82.9" r="1.15"/><circle cx="234.4" cy="84.2" r="1.15"/><circle cx="228.0" cy="102.7" r="1.15"/><circle cx="216.1" cy="101.4" r="1.15"/><circle cx="256.5" cy="99.4" r="1.15"/><circle cx="203.2" cy="98.2" r="1.15"/><circle cx="206.6" cy="102.9" r="1.15"/><circle cx="220.8" cy="88.6" r="1.15"/><circle cx="204.1" cy="104.6" r="1.15"/><circle cx="216.0" cy="104.1" r="1.15"/><circle cx="219.4" cy="96.9" r="1.15"/><circle cx="204.2" cy="103.7" r="1.15"/><circle cx="239.4" cy="95.5" r="1.15"/><circle cx="211.4" cy="94.0" r="1.15"/><circle cx="219.7" cy="94.7" r="1.15"/><circle cx="210.4" cy="101.1" r="1.15"/><circle cx="190.6" cy="103.3" r="1.15"/><circle cx="217.6" cy="103.9" r="1.15"/><circle cx="237.2" cy="77.3" r="1.15"/><circle cx="234.8" cy="74.0" r="1.15"/><circle cx="212.3" cy="88.0" r="1.15"/><circle cx="204.9" cy="98.0" r="1.15"/><circle cx="196.5" cy="101.3" r="1.15"/><circle cx="239.9" cy="103.3" r="1.15"/><circle cx="221.0" cy="91.4" r="1.15"/><circle cx="221.2" cy="86.8" r="1.15"/><circle cx="218.2" cy="94.6" r="1.15"/><circle cx="233.4" cy="103.9" r="1.15"/><circle cx="248.1" cy="97.1" r="1.15"/><circle cx="217.4" cy="76.0" r="1.15"/><circle cx="237.6" cy="78.9" r="1.15"/><circle cx="208.5" cy="100.3" r="1.15"/><circle cx="256.5" cy="102.8" r="1.15"/><circle cx="226.2" cy="102.6" r="1.15"/><circle cx="217.4" cy="79.7" r="1.15"/><circle cx="228.3" cy="88.3" r="1.15"/><circle cx="214.7" cy="101.8" r="1.15"/><circle cx="221.3" cy="103.9" r="1.15"/><circle cx="227.0" cy="104.3" r="1.15"/><circle cx="206.8" cy="94.8" r="1.15"/><circle cx="224.3" cy="91.1" r="1.15"/><circle cx="218.1" cy="101.2" r="1.15"/><circle cx="210.2" cy="91.4" r="1.15"/><circle cx="239.6" cy="95.8" r="1.15"/><circle cx="236.8" cy="90.7" r="1.15"/><circle cx="211.9" cy="104.3" r="1.15"/><circle cx="223.7" cy="82.0" r="1.15"/><circle cx="183.7" cy="104.4" r="1.15"/><circle cx="229.0" cy="92.8" r="1.15"/><circle cx="209.4" cy="99.7" r="1.15"/><circle cx="209.6" cy="104.4" r="1.15"/><circle cx="205.7" cy="103.3" r="1.15"/><circle cx="199.8" cy="101.3" r="1.15"/><circle cx="199.4" cy="104.1" r="1.15"/><circle cx="221.4" cy="101.2" r="1.15"/><circle cx="195.7" cy="101.9" r="1.15"/><circle cx="176.9" cy="105.0" r="1.15"/><circle cx="228.8" cy="80.3" r="1.15"/><circle cx="233.8" cy="103.3" r="1.15"/><circle cx="207.5" cy="102.1" r="1.15"/><circle cx="235.9" cy="96.8" r="1.15"/><circle cx="196.3" cy="102.9" r="1.15"/><circle cx="217.8" cy="85.1" r="1.15"/><circle cx="196.2" cy="103.5" r="1.15"/><circle cx="208.4" cy="101.0" r="1.15"/><circle cx="206.4" cy="93.2" r="1.15"/><circle cx="226.9" cy="78.4" r="1.15"/><circle cx="229.2" cy="97.5" r="1.15"/><circle cx="218.8" cy="78.8" r="1.15"/><circle cx="212.7" cy="89.0" r="1.15"/><circle cx="204.2" cy="105.1" r="1.15"/><circle cx="196.3" cy="104.3" r="1.15"/><circle cx="207.5" cy="104.3" r="1.15"/><circle cx="184.8" cy="104.9" r="1.15"/><circle cx="202.3" cy="101.1" r="1.15"/><circle cx="223.6" cy="74.2" r="1.15"/><circle cx="220.3" cy="80.3" r="1.15"/><circle cx="206.8" cy="100.9" r="1.15"/><circle cx="220.2" cy="88.4" r="1.15"/><circle cx="214.7" cy="101.1" r="1.15"/><circle cx="212.6" cy="96.7" r="1.15"/><circle cx="233.4" cy="73.9" r="1.15"/><circle cx="215.9" cy="79.2" r="1.15"/><circle cx="213.2" cy="103.7" r="1.15"/><circle cx="237.9" cy="99.8" r="1.15"/><circle cx="197.9" cy="101.7" r="1.15"/><circle cx="228.8" cy="102.3" r="1.15"/><circle cx="237.0" cy="75.4" r="1.15"/><circle cx="218.2" cy="101.0" r="1.15"/><circle cx="212.9" cy="104.4" r="1.15"/><circle cx="218.0" cy="85.8" r="1.15"/><circle cx="222.4" cy="83.3" r="1.15"/><circle cx="218.6" cy="98.3" r="1.15"/><circle cx="214.1" cy="103.8" r="1.15"/><circle cx="240.0" cy="80.0" r="1.15"/><circle cx="221.8" cy="85.4" r="1.15"/><circle cx="236.3" cy="87.9" r="1.15"/><circle cx="205.3" cy="103.6" r="1.15"/><circle cx="218.6" cy="98.3" r="1.15"/><circle cx="206.4" cy="104.6" r="1.15"/><circle cx="224.2" cy="93.5" r="1.15"/><circle cx="211.9" cy="93.3" r="1.15"/><circle cx="211.3" cy="87.5" r="1.15"/><circle cx="225.6" cy="78.7" r="1.15"/><circle cx="229.2" cy="96.8" r="1.15"/><circle cx="191.6" cy="104.0" r="1.15"/><circle cx="239.4" cy="103.0" r="1.15"/><circle cx="223.2" cy="103.7" r="1.15"/><circle cx="218.4" cy="99.0" r="1.15"/><circle cx="232.5" cy="75.6" r="1.15"/><circle cx="224.3" cy="104.8" r="1.15"/><circle cx="223.4" cy="100.9" r="1.15"/><circle cx="225.8" cy="104.9" r="1.15"/><circle cx="204.9" cy="98.5" r="1.15"/><circle cx="233.5" cy="96.5" r="1.15"/><circle cx="194.1" cy="102.5" r="1.15"/><circle cx="221.2" cy="73.8" r="1.15"/><circle cx="209.3" cy="97.7" r="1.15"/><circle cx="204.1" cy="104.8" r="1.15"/><circle cx="211.7" cy="103.2" r="1.15"/><circle cx="232.5" cy="85.3" r="1.15"/><circle cx="215.4" cy="88.8" r="1.15"/><circle cx="221.2" cy="71.2" r="1.15"/><circle cx="240.6" cy="81.1" r="1.15"/><circle cx="224.0" cy="104.3" r="1.15"/><circle cx="227.5" cy="97.0" r="1.15"/><circle cx="225.3" cy="91.9" r="1.15"/><circle cx="213.6" cy="100.2" r="1.15"/><circle cx="212.8" cy="103.6" r="1.15"/><circle cx="214.5" cy="88.1" r="1.15"/><circle cx="224.4" cy="97.6" r="1.15"/><circle cx="219.6" cy="103.5" r="1.15"/><circle cx="228.5" cy="73.1" r="1.15"/><circle cx="215.8" cy="101.9" r="1.15"/><circle cx="208.4" cy="102.5" r="1.15"/><circle cx="228.9" cy="87.2" r="1.15"/><circle cx="238.3" cy="96.1" r="1.15"/><circle cx="244.8" cy="88.5" r="1.15"/><circle cx="215.4" cy="82.4" r="1.15"/><circle cx="227.1" cy="102.9" r="1.15"/><circle cx="208.5" cy="104.2" r="1.15"/><circle cx="209.9" cy="104.3" r="1.15"/><circle cx="229.6" cy="98.6" r="1.15"/><circle cx="216.8" cy="100.3" r="1.15"/><circle cx="220.8" cy="92.7" r="1.15"/><circle cx="240.8" cy="99.4" r="1.15"/><circle cx="218.3" cy="75.1" r="1.15"/><circle cx="188.1" cy="104.2" r="1.15"/><circle cx="248.1" cy="89.6" r="1.15"/><circle cx="244.8" cy="103.8" r="1.15"/><circle cx="201.6" cy="97.9" r="1.15"/><circle cx="225.9" cy="80.1" r="1.15"/><circle cx="197.9" cy="101.6" r="1.15"/><circle cx="207.3" cy="91.4" r="1.15"/><circle cx="212.1" cy="104.3" r="1.15"/><circle cx="213.6" cy="84.5" r="1.15"/><circle cx="227.2" cy="81.3" r="1.15"/><circle cx="227.5" cy="90.9" r="1.15"/><circle cx="220.3" cy="101.4" r="1.15"/><circle cx="208.6" cy="104.3" r="1.15"/><circle cx="247.2" cy="95.6" r="1.15"/><circle cx="234.8" cy="103.7" r="1.15"/><circle cx="201.3" cy="100.1" r="1.15"/><circle cx="214.3" cy="93.3" r="1.15"/><circle cx="242.0" cy="97.6" r="1.15"/><circle cx="212.5" cy="84.7" r="1.15"/><circle cx="228.2" cy="75.8" r="1.15"/><circle cx="232.5" cy="102.6" r="1.15"/><circle cx="220.5" cy="92.9" r="1.15"/><circle cx="205.8" cy="95.6" r="1.15"/><circle cx="226.7" cy="104.0" r="1.15"/><circle cx="230.9" cy="102.1" r="1.15"/><circle cx="214.0" cy="104.0" r="1.15"/><circle cx="230.3" cy="72.2" r="1.15"/><circle cx="220.2" cy="91.2" r="1.15"/><circle cx="203.9" cy="101.5" r="1.15"/><circle cx="194.2" cy="102.4" r="1.15"/><circle cx="203.3" cy="103.4" r="1.15"/><circle cx="215.3" cy="93.8" r="1.15"/><circle cx="181.9" cy="104.5" r="1.15"/><circle cx="189.4" cy="102.6" r="1.15"/><circle cx="207.8" cy="101.8" r="1.15"/><circle cx="250.4" cy="97.4" r="1.15"/><circle cx="248.5" cy="91.4" r="1.15"/><circle cx="208.5" cy="94.1" r="1.15"/><circle cx="203.6" cy="101.6" r="1.15"/><circle cx="212.4" cy="103.9" r="1.15"/><circle cx="211.5" cy="104.5" r="1.15"/><circle cx="226.5" cy="74.3" r="1.15"/><circle cx="210.6" cy="86.4" r="1.15"/><circle cx="220.1" cy="84.2" r="1.15"/><circle cx="215.2" cy="87.5" r="1.15"/><circle cx="197.3" cy="103.9" r="1.15"/><circle cx="244.4" cy="104.6" r="1.15"/><circle cx="247.9" cy="102.2" r="1.15"/><circle cx="232.3" cy="93.9" r="1.15"/><circle cx="235.5" cy="84.0" r="1.15"/><circle cx="224.3" cy="88.4" r="1.15"/><circle cx="239.9" cy="94.7" r="1.15"/><circle cx="200.3" cy="97.7" r="1.15"/><circle cx="236.2" cy="96.5" r="1.15"/><circle cx="217.4" cy="101.7" r="1.15"/><circle cx="217.9" cy="83.9" r="1.15"/><circle cx="237.5" cy="86.6" r="1.15"/><circle cx="233.7" cy="85.6" r="1.15"/><circle cx="216.1" cy="81.1" r="1.15"/><circle cx="242.9" cy="103.6" r="1.15"/><circle cx="196.4" cy="103.8" r="1.15"/><circle cx="205.6" cy="95.7" r="1.15"/><circle cx="233.4" cy="93.7" r="1.15"/><circle cx="235.9" cy="102.0" r="1.15"/><circle cx="221.8" cy="94.0" r="1.15"/><circle cx="223.4" cy="85.1" r="1.15"/><circle cx="203.3" cy="103.4" r="1.15"/><circle cx="216.9" cy="86.9" r="1.15"/><circle cx="212.0" cy="102.7" r="1.15"/><circle cx="206.1" cy="104.5" r="1.15"/><circle cx="239.1" cy="91.0" r="1.15"/><circle cx="216.4" cy="92.7" r="1.15"/><circle cx="233.5" cy="100.6" r="1.15"/><circle cx="209.9" cy="103.3" r="1.15"/><circle cx="233.5" cy="98.7" r="1.15"/><circle cx="215.2" cy="84.0" r="1.15"/><circle cx="203.6" cy="104.6" r="1.15"/><circle cx="241.4" cy="91.2" r="1.15"/><circle cx="191.8" cy="104.2" r="1.15"/><circle cx="221.5" cy="103.7" r="1.15"/><circle cx="229.9" cy="103.3" r="1.15"/><circle cx="215.4" cy="95.1" r="1.15"/><circle cx="211.1" cy="102.4" r="1.15"/><circle cx="208.2" cy="101.6" r="1.15"/><circle cx="221.1" cy="100.3" r="1.15"/><circle cx="216.8" cy="102.0" r="1.15"/><circle cx="181.6" cy="104.4" r="1.15"/><circle cx="210.2" cy="105.0" r="1.15"/><circle cx="228.2" cy="101.2" r="1.15"/><circle cx="198.5" cy="104.0" r="1.15"/><circle cx="232.3" cy="104.1" r="1.15"/><circle cx="231.8" cy="104.5" r="1.15"/><circle cx="222.6" cy="96.5" r="1.15"/><circle cx="212.3" cy="103.0" r="1.15"/><circle cx="210.2" cy="98.6" r="1.15"/><circle cx="253.9" cy="103.2" r="1.15"/><circle cx="200.7" cy="99.0" r="1.15"/><circle cx="202.2" cy="103.0" r="1.15"/><circle cx="202.2" cy="101.7" r="1.15"/><circle cx="213.7" cy="99.5" r="1.15"/><circle cx="208.3" cy="98.8" r="1.15"/><circle cx="226.9" cy="103.0" r="1.15"/><circle cx="236.6" cy="92.7" r="1.15"/><circle cx="232.9" cy="91.3" r="1.15"/><circle cx="223.6" cy="103.6" r="1.15"/><circle cx="236.6" cy="91.2" r="1.15"/><circle cx="213.0" cy="92.2" r="1.15"/><circle cx="217.6" cy="101.0" r="1.15"/><circle cx="213.0" cy="84.9" r="1.15"/><circle cx="245.0" cy="102.7" r="1.15"/><circle cx="196.6" cy="104.3" r="1.15"/><circle cx="215.3" cy="84.8" r="1.15"/><circle cx="231.9" cy="103.7" r="1.15"/><circle cx="213.9" cy="92.8" r="1.15"/><circle cx="201.6" cy="103.5" r="1.15"/><circle cx="211.1" cy="95.4" r="1.15"/><circle cx="234.2" cy="73.4" r="1.15"/><circle cx="227.6" cy="86.9" r="1.15"/><circle cx="237.4" cy="97.5" r="1.15"/><circle cx="217.9" cy="95.6" r="1.15"/><circle cx="226.5" cy="104.8" r="1.15"/><circle cx="222.9" cy="103.2" r="1.15"/><circle cx="220.3" cy="99.8" r="1.15"/><circle cx="217.6" cy="90.2" r="1.15"/><circle cx="194.7" cy="104.7" r="1.15"/><circle cx="210.6" cy="97.9" r="1.15"/><circle cx="227.9" cy="78.6" r="1.15"/><circle cx="214.5" cy="84.6" r="1.15"/><circle cx="239.1" cy="73.6" r="1.15"/><circle cx="216.0" cy="98.1" r="1.15"/><circle cx="229.8" cy="75.8" r="1.15"/><circle cx="229.4" cy="86.5" r="1.15"/><circle cx="220.4" cy="87.6" r="1.15"/><circle cx="215.2" cy="92.2" r="1.15"/><circle cx="222.1" cy="85.0" r="1.15"/><circle cx="220.5" cy="75.8" r="1.15"/><circle cx="240.0" cy="103.6" r="1.15"/><circle cx="214.3" cy="100.2" r="1.15"/><circle cx="216.9" cy="85.3" r="1.15"/><circle cx="225.1" cy="93.4" r="1.15"/><circle cx="197.2" cy="104.0" r="1.15"/><circle cx="227.8" cy="88.4" r="1.15"/><circle cx="208.3" cy="104.3" r="1.15"/><circle cx="226.1" cy="104.7" r="1.15"/><circle cx="225.3" cy="79.8" r="1.15"/><circle cx="197.7" cy="103.5" r="1.15"/><circle cx="254.3" cy="98.3" r="1.15"/><circle cx="220.0" cy="97.4" r="1.15"/><circle cx="202.8" cy="97.2" r="1.15"/><circle cx="217.5" cy="104.4" r="1.15"/><circle cx="180.8" cy="104.6" r="1.15"/><circle cx="209.3" cy="103.4" r="1.15"/><circle cx="186.3" cy="104.1" r="1.15"/><circle cx="238.8" cy="93.6" r="1.15"/><circle cx="232.7" cy="70.4" r="1.15"/><circle cx="198.0" cy="102.2" r="1.15"/><circle cx="205.7" cy="104.0" r="1.15"/><circle cx="213.6" cy="93.4" r="1.15"/><circle cx="233.5" cy="85.1" r="1.15"/><circle cx="226.5" cy="99.7" r="1.15"/><circle cx="223.9" cy="99.9" r="1.15"/><circle cx="236.3" cy="89.3" r="1.15"/><circle cx="219.0" cy="99.8" r="1.15"/><circle cx="217.5" cy="95.6" r="1.15"/><circle cx="225.5" cy="96.8" r="1.15"/><circle cx="227.4" cy="76.7" r="1.15"/><circle cx="227.6" cy="89.2" r="1.15"/><circle cx="199.4" cy="102.7" r="1.15"/><circle cx="207.5" cy="104.7" r="1.15"/><circle cx="234.9" cy="100.5" r="1.15"/><circle cx="222.7" cy="104.0" r="1.15"/><circle cx="230.9" cy="77.4" r="1.15"/><circle cx="218.7" cy="97.0" r="1.15"/><circle cx="206.8" cy="100.0" r="1.15"/><circle cx="227.2" cy="86.1" r="1.15"/><circle cx="233.3" cy="104.9" r="1.15"/><circle cx="206.3" cy="98.4" r="1.15"/><circle cx="216.7" cy="94.7" r="1.15"/><circle cx="226.0" cy="97.3" r="1.15"/><circle cx="242.5" cy="78.4" r="1.15"/><circle cx="243.4" cy="103.0" r="1.15"/><circle cx="207.6" cy="99.0" r="1.15"/><circle cx="235.9" cy="102.0" r="1.15"/><circle cx="223.8" cy="78.0" r="1.15"/><circle cx="209.6" cy="94.6" r="1.15"/><circle cx="226.2" cy="76.1" r="1.15"/><circle cx="246.1" cy="85.9" r="1.15"/><circle cx="215.9" cy="84.0" r="1.15"/><circle cx="212.6" cy="103.3" r="1.15"/><circle cx="220.6" cy="76.0" r="1.15"/><circle cx="194.2" cy="104.3" r="1.15"/><circle cx="217.3" cy="88.6" r="1.15"/><circle cx="222.3" cy="103.8" r="1.15"/><circle cx="245.3" cy="99.9" r="1.15"/><circle cx="223.3" cy="100.5" r="1.15"/><circle cx="203.9" cy="95.3" r="1.15"/><circle cx="220.5" cy="73.0" r="1.15"/><circle cx="205.4" cy="102.7" r="1.15"/><circle cx="237.3" cy="103.3" r="1.15"/><circle cx="215.0" cy="104.7" r="1.15"/><circle cx="248.2" cy="97.6" r="1.15"/><circle cx="206.0" cy="104.9" r="1.15"/><circle cx="217.0" cy="96.6" r="1.15"/><circle cx="234.5" cy="89.4" r="1.15"/><circle cx="237.7" cy="93.8" r="1.15"/><circle cx="234.4" cy="73.8" r="1.15"/><circle cx="218.0" cy="104.2" r="1.15"/><circle cx="211.7" cy="90.0" r="1.15"/><circle cx="228.6" cy="71.3" r="1.15"/><circle cx="225.3" cy="91.7" r="1.15"/><circle cx="219.3" cy="97.1" r="1.15"/><circle cx="219.8" cy="80.0" r="1.15"/><circle cx="209.1" cy="89.6" r="1.15"/><circle cx="227.4" cy="89.9" r="1.15"/><circle cx="211.8" cy="99.8" r="1.15"/><circle cx="214.1" cy="102.9" r="1.15"/><circle cx="205.4" cy="103.0" r="1.15"/><circle cx="201.2" cy="98.2" r="1.15"/><circle cx="248.9" cy="93.9" r="1.15"/><circle cx="217.6" cy="91.9" r="1.15"/><circle cx="223.9" cy="98.6" r="1.15"/><circle cx="235.0" cy="87.2" r="1.15"/><circle cx="212.4" cy="94.8" r="1.15"/><circle cx="207.6" cy="100.8" r="1.15"/><circle cx="219.8" cy="103.5" r="1.15"/><circle cx="230.3" cy="71.9" r="1.15"/><circle cx="226.8" cy="98.1" r="1.15"/><circle cx="219.5" cy="72.2" r="1.15"/><circle cx="204.5" cy="104.1" r="1.15"/><circle cx="229.2" cy="76.5" r="1.15"/><circle cx="260.4" cy="102.7" r="1.15"/><circle cx="211.7" cy="104.1" r="1.15"/><circle cx="251.9" cy="103.3" r="1.15"/><circle cx="227.1" cy="82.1" r="1.15"/><circle cx="231.3" cy="99.4" r="1.15"/><circle cx="224.0" cy="98.8" r="1.15"/><circle cx="191.8" cy="103.3" r="1.15"/><circle cx="226.9" cy="70.2" r="1.15"/><circle cx="214.8" cy="98.0" r="1.15"/><circle cx="239.8" cy="104.6" r="1.15"/><circle cx="243.9" cy="84.4" r="1.15"/><circle cx="226.0" cy="85.1" r="1.15"/><circle cx="209.7" cy="88.7" r="1.15"/><circle cx="228.0" cy="103.6" r="1.15"/><circle cx="217.0" cy="102.1" r="1.15"/><circle cx="225.8" cy="67.5" r="1.15"/><circle cx="254.3" cy="99.4" r="1.15"/><circle cx="255.2" cy="105.0" r="1.15"/><circle cx="220.6" cy="101.8" r="1.15"/><circle cx="220.3" cy="82.5" r="1.15"/><circle cx="235.0" cy="104.5" r="1.15"/><circle cx="219.2" cy="100.5" r="1.15"/><circle cx="221.9" cy="97.6" r="1.15"/><circle cx="212.9" cy="103.7" r="1.15"/><circle cx="209.5" cy="89.4" r="1.15"/><circle cx="228.6" cy="104.8" r="1.15"/><circle cx="221.9" cy="88.1" r="1.15"/><circle cx="189.2" cy="104.7" r="1.15"/><circle cx="207.7" cy="103.9" r="1.15"/><circle cx="232.2" cy="76.8" r="1.15"/><circle cx="212.6" cy="96.1" r="1.15"/><circle cx="215.5" cy="97.2" r="1.15"/><circle cx="203.2" cy="97.5" r="1.15"/><circle cx="226.2" cy="76.0" r="1.15"/><circle cx="204.7" cy="100.9" r="1.15"/><circle cx="201.7" cy="104.1" r="1.15"/><circle cx="240.0" cy="103.4" r="1.15"/><circle cx="229.3" cy="100.7" r="1.15"/><circle cx="229.0" cy="69.8" r="1.15"/><circle cx="201.2" cy="102.8" r="1.15"/><circle cx="229.2" cy="98.3" r="1.15"/><circle cx="219.1" cy="85.4" r="1.15"/><circle cx="208.2" cy="104.6" r="1.15"/><circle cx="238.0" cy="82.7" r="1.15"/><circle cx="213.5" cy="103.1" r="1.15"/><circle cx="251.8" cy="98.5" r="1.15"/><circle cx="237.6" cy="73.2" r="1.15"/><circle cx="214.2" cy="82.3" r="1.15"/><circle cx="211.9" cy="91.0" r="1.15"/><circle cx="220.5" cy="98.8" r="1.15"/><circle cx="236.1" cy="91.6" r="1.15"/><circle cx="228.2" cy="104.1" r="1.15"/><circle cx="254.5" cy="100.4" r="1.15"/><circle cx="206.8" cy="103.6" r="1.15"/><circle cx="227.3" cy="102.3" r="1.15"/><circle cx="219.4" cy="77.9" r="1.15"/><circle cx="221.2" cy="99.3" r="1.15"/><circle cx="221.3" cy="104.4" r="1.15"/><circle cx="234.8" cy="75.0" r="1.15"/><circle cx="219.9" cy="90.6" r="1.15"/><circle cx="214.7" cy="96.1" r="1.15"/><circle cx="223.2" cy="99.3" r="1.15"/><circle cx="230.0" cy="92.0" r="1.15"/><circle cx="202.9" cy="99.4" r="1.15"/><circle cx="220.2" cy="98.9" r="1.15"/><circle cx="227.9" cy="91.9" r="1.15"/><circle cx="220.4" cy="75.4" r="1.15"/><circle cx="220.2" cy="104.0" r="1.15"/><circle cx="230.2" cy="74.7" r="1.15"/><circle cx="221.8" cy="92.7" r="1.15"/><circle cx="223.5" cy="105.1" r="1.15"/><circle cx="230.7" cy="99.6" r="1.15"/><circle cx="217.4" cy="102.3" r="1.15"/><circle cx="251.4" cy="103.2" r="1.15"/><circle cx="215.4" cy="101.1" r="1.15"/><circle cx="222.5" cy="102.3" r="1.15"/><circle cx="201.4" cy="103.9" r="1.15"/><circle cx="250.2" cy="104.5" r="1.15"/><circle cx="191.4" cy="104.9" r="1.15"/><circle cx="213.6" cy="104.9" r="1.15"/><circle cx="234.4" cy="88.6" r="1.15"/><circle cx="230.4" cy="84.9" r="1.15"/><circle cx="227.9" cy="79.5" r="1.15"/><circle cx="245.7" cy="90.1" r="1.15"/><circle cx="233.1" cy="101.0" r="1.15"/><circle cx="226.3" cy="105.1" r="1.15"/><circle cx="230.9" cy="97.0" r="1.15"/><circle cx="229.7" cy="84.3" r="1.15"/><circle cx="201.1" cy="103.3" r="1.15"/><circle cx="226.0" cy="75.4" r="1.15"/><circle cx="198.0" cy="103.0" r="1.15"/><circle cx="224.8" cy="78.3" r="1.15"/><circle cx="208.8" cy="90.2" r="1.15"/><circle cx="210.4" cy="101.1" r="1.15"/><circle cx="224.8" cy="97.1" r="1.15"/><circle cx="221.5" cy="103.6" r="1.15"/><circle cx="237.9" cy="78.6" r="1.15"/><circle cx="212.7" cy="99.1" r="1.15"/><circle cx="215.2" cy="104.4" r="1.15"/><circle cx="213.9" cy="93.1" r="1.15"/><circle cx="247.0" cy="101.7" r="1.15"/><circle cx="229.2" cy="71.3" r="1.15"/><circle cx="206.5" cy="98.1" r="1.15"/><circle cx="225.1" cy="90.6" r="1.15"/><circle cx="218.7" cy="102.0" r="1.15"/><circle cx="251.2" cy="100.0" r="1.15"/><circle cx="199.4" cy="100.7" r="1.15"/><circle cx="205.1" cy="102.0" r="1.15"/><circle cx="246.1" cy="105.0" r="1.15"/><circle cx="241.5" cy="78.7" r="1.15"/><circle cx="231.9" cy="75.2" r="1.15"/><circle cx="234.5" cy="96.8" r="1.15"/><circle cx="231.9" cy="83.6" r="1.15"/><circle cx="221.3" cy="102.9" r="1.15"/><circle cx="244.1" cy="104.3" r="1.15"/><circle cx="233.8" cy="92.3" r="1.15"/><circle cx="210.1" cy="89.4" r="1.15"/><circle cx="216.8" cy="81.8" r="1.15"/><circle cx="212.7" cy="97.6" r="1.15"/><circle cx="233.6" cy="104.4" r="1.15"/><circle cx="245.5" cy="104.4" r="1.15"/><circle cx="229.7" cy="97.3" r="1.15"/><circle cx="225.3" cy="87.8" r="1.15"/><circle cx="193.9" cy="104.8" r="1.15"/><circle cx="213.2" cy="100.2" r="1.15"/><circle cx="208.0" cy="97.6" r="1.15"/><circle cx="220.7" cy="100.1" r="1.15"/><circle cx="221.5" cy="104.3" r="1.15"/><circle cx="235.3" cy="103.3" r="1.15"/><circle cx="226.5" cy="79.0" r="1.15"/><circle cx="200.2" cy="101.8" r="1.15"/><circle cx="208.6" cy="100.5" r="1.15"/><circle cx="223.9" cy="104.0" r="1.15"/><circle cx="196.1" cy="104.9" r="1.15"/><circle cx="233.1" cy="99.5" r="1.15"/><circle cx="211.1" cy="100.7" r="1.15"/><circle cx="223.9" cy="100.3" r="1.15"/><circle cx="217.5" cy="97.6" r="1.15"/><circle cx="216.4" cy="99.8" r="1.15"/><circle cx="205.0" cy="100.0" r="1.15"/><circle cx="206.8" cy="102.8" r="1.15"/><circle cx="233.1" cy="91.0" r="1.15"/><circle cx="208.5" cy="100.6" r="1.15"/><circle cx="229.9" cy="67.2" r="1.15"/><circle cx="245.3" cy="103.1" r="1.15"/><circle cx="216.8" cy="95.1" r="1.15"/><circle cx="211.1" cy="88.2" r="1.15"/><circle cx="202.5" cy="101.7" r="1.15"/><circle cx="222.6" cy="91.5" r="1.15"/><circle cx="212.0" cy="95.5" r="1.15"/><circle cx="228.7" cy="75.4" r="1.15"/><circle cx="229.7" cy="85.3" r="1.15"/><circle cx="227.1" cy="80.1" r="1.15"/><circle cx="228.0" cy="94.2" r="1.15"/><circle cx="188.7" cy="104.3" r="1.15"/><circle cx="219.3" cy="95.0" r="1.15"/><circle cx="221.6" cy="75.9" r="1.15"/><circle cx="229.0" cy="90.0" r="1.15"/><circle cx="217.3" cy="104.2" r="1.15"/><circle cx="216.4" cy="80.8" r="1.15"/><circle cx="211.5" cy="97.4" r="1.15"/><circle cx="206.1" cy="100.4" r="1.15"/><circle cx="231.0" cy="67.6" r="1.15"/><circle cx="198.9" cy="103.8" r="1.15"/><circle cx="222.0" cy="70.5" r="1.15"/><circle cx="231.8" cy="85.5" r="1.15"/><circle cx="219.0" cy="96.2" r="1.15"/><circle cx="227.4" cy="75.1" r="1.15"/><circle cx="243.6" cy="104.3" r="1.15"/><circle cx="208.6" cy="103.8" r="1.15"/><circle cx="193.1" cy="104.7" r="1.15"/><circle cx="235.1" cy="93.7" r="1.15"/><circle cx="195.5" cy="102.0" r="1.15"/><circle cx="230.4" cy="102.1" r="1.15"/><circle cx="224.1" cy="78.4" r="1.15"/><circle cx="252.6" cy="103.5" r="1.15"/><circle cx="230.5" cy="71.9" r="1.15"/><circle cx="225.0" cy="94.4" r="1.15"/><circle cx="236.2" cy="93.6" r="1.15"/><circle cx="230.6" cy="95.0" r="1.15"/><circle cx="239.8" cy="95.6" r="1.15"/><circle cx="226.0" cy="67.5" r="1.15"/><circle cx="212.8" cy="89.4" r="1.15"/><circle cx="224.5" cy="73.8" r="1.15"/><circle cx="226.6" cy="104.7" r="1.15"/><circle cx="229.4" cy="98.8" r="1.15"/><circle cx="220.5" cy="95.1" r="1.15"/><circle cx="197.8" cy="104.2" r="1.15"/><circle cx="209.7" cy="94.3" r="1.15"/><circle cx="229.0" cy="94.2" r="1.15"/><circle cx="203.0" cy="102.0" r="1.15"/><circle cx="209.7" cy="88.1" r="1.15"/><circle cx="201.1" cy="100.8" r="1.15"/><circle cx="212.5" cy="98.4" r="1.15"/><circle cx="206.1" cy="100.9" r="1.15"/><circle cx="223.2" cy="102.2" r="1.15"/><circle cx="211.7" cy="91.6" r="1.15"/><circle cx="242.0" cy="100.3" r="1.15"/><circle cx="233.9" cy="98.2" r="1.15"/><circle cx="202.8" cy="102.7" r="1.15"/><circle cx="227.7" cy="98.9" r="1.15"/><circle cx="223.4" cy="84.2" r="1.15"/><circle cx="216.5" cy="99.1" r="1.15"/><circle cx="252.0" cy="98.9" r="1.15"/><circle cx="226.4" cy="100.6" r="1.15"/><circle cx="239.9" cy="98.7" r="1.15"/><circle cx="217.9" cy="97.2" r="1.15"/><circle cx="223.4" cy="96.8" r="1.15"/><circle cx="231.6" cy="81.2" r="1.15"/><circle cx="246.0" cy="104.3" r="1.15"/><circle cx="203.7" cy="100.5" r="1.15"/><circle cx="208.7" cy="88.9" r="1.15"/><circle cx="223.3" cy="69.5" r="1.15"/><circle cx="242.0" cy="102.7" r="1.15"/><circle cx="214.2" cy="104.2" r="1.15"/><circle cx="207.6" cy="96.2" r="1.15"/><circle cx="217.7" cy="99.6" r="1.15"/><circle cx="226.0" cy="92.7" r="1.15"/><circle cx="187.2" cy="105.1" r="1.15"/><circle cx="202.1" cy="104.7" r="1.15"/><circle cx="215.8" cy="82.6" r="1.15"/><circle cx="217.8" cy="96.5" r="1.15"/><circle cx="190.2" cy="104.1" r="1.15"/><circle cx="229.9" cy="103.5" r="1.15"/><circle cx="219.6" cy="81.7" r="1.15"/><circle cx="231.0" cy="76.0" r="1.15"/><circle cx="222.0" cy="97.3" r="1.15"/><circle cx="239.9" cy="74.2" r="1.15"/><circle cx="199.4" cy="102.3" r="1.15"/><circle cx="230.0" cy="97.9" r="1.15"/><circle cx="221.1" cy="98.0" r="1.15"/><circle cx="211.3" cy="104.8" r="1.15"/><circle cx="221.2" cy="87.4" r="1.15"/><circle cx="201.0" cy="102.3" r="1.15"/><circle cx="247.0" cy="91.0" r="1.15"/><circle cx="236.9" cy="82.1" r="1.15"/><circle cx="195.4" cy="102.7" r="1.15"/><circle cx="203.6" cy="97.6" r="1.15"/><circle cx="217.0" cy="97.5" r="1.15"/><circle cx="214.1" cy="94.6" r="1.15"/><circle cx="204.2" cy="103.0" r="1.15"/><circle cx="210.7" cy="103.8" r="1.15"/><circle cx="228.9" cy="100.3" r="1.15"/><circle cx="217.6" cy="104.9" r="1.15"/><circle cx="233.1" cy="93.8" r="1.15"/><circle cx="201.0" cy="104.9" r="1.15"/><circle cx="199.2" cy="100.1" r="1.15"/><circle cx="209.3" cy="100.8" r="1.15"/><circle cx="236.5" cy="94.7" r="1.15"/><circle cx="219.4" cy="104.0" r="1.15"/><circle cx="195.8" cy="103.7" r="1.15"/><circle cx="226.8" cy="71.5" r="1.15"/><circle cx="237.7" cy="103.9" r="1.15"/><circle cx="188.1" cy="105.0" r="1.15"/><circle cx="213.7" cy="95.0" r="1.15"/><circle cx="207.1" cy="104.8" r="1.15"/><circle cx="211.0" cy="96.3" r="1.15"/><circle cx="210.0" cy="87.4" r="1.15"/><circle cx="203.6" cy="100.6" r="1.15"/><circle cx="209.4" cy="104.2" r="1.15"/><circle cx="216.5" cy="93.1" r="1.15"/><circle cx="228.4" cy="84.7" r="1.15"/><circle cx="222.4" cy="95.9" r="1.15"/><circle cx="213.0" cy="97.8" r="1.15"/><circle cx="212.2" cy="104.5" r="1.15"/><circle cx="245.1" cy="85.2" r="1.15"/><circle cx="226.4" cy="75.4" r="1.15"/><circle cx="225.6" cy="99.1" r="1.15"/><circle cx="253.6" cy="94.6" r="1.15"/><circle cx="207.9" cy="95.8" r="1.15"/><circle cx="211.0" cy="103.7" r="1.15"/><circle cx="218.2" cy="85.3" r="1.15"/><circle cx="217.2" cy="96.7" r="1.15"/><circle cx="221.9" cy="71.5" r="1.15"/><circle cx="202.9" cy="104.6" r="1.15"/><circle cx="202.2" cy="100.9" r="1.15"/><circle cx="189.2" cy="104.2" r="1.15"/><circle cx="209.2" cy="98.3" r="1.15"/><circle cx="212.3" cy="104.9" r="1.15"/><circle cx="224.0" cy="90.8" r="1.15"/><circle cx="245.7" cy="103.3" r="1.15"/><circle cx="245.3" cy="104.1" r="1.15"/><circle cx="239.3" cy="93.3" r="1.15"/><circle cx="229.0" cy="89.4" r="1.15"/><circle cx="250.5" cy="103.6" r="1.15"/><circle cx="219.7" cy="90.8" r="1.15"/><circle cx="237.7" cy="96.8" r="1.15"/><circle cx="212.1" cy="90.8" r="1.15"/><circle cx="225.5" cy="75.8" r="1.15"/><circle cx="233.5" cy="97.6" r="1.15"/><circle cx="247.1" cy="86.3" r="1.15"/><circle cx="210.5" cy="87.5" r="1.15"/><circle cx="243.6" cy="101.5" r="1.15"/><circle cx="232.3" cy="83.4" r="1.15"/><circle cx="218.7" cy="103.8" r="1.15"/><circle cx="191.6" cy="103.4" r="1.15"/><circle cx="221.1" cy="81.8" r="1.15"/><circle cx="173.4" cy="104.8" r="1.15"/><circle cx="199.1" cy="102.8" r="1.15"/><circle cx="226.6" cy="94.5" r="1.15"/><circle cx="215.0" cy="84.4" r="1.15"/><circle cx="196.2" cy="102.4" r="1.15"/><circle cx="228.1" cy="104.4" r="1.15"/><circle cx="240.6" cy="102.9" r="1.15"/><circle cx="237.7" cy="90.6" r="1.15"/><circle cx="211.1" cy="96.9" r="1.15"/><circle cx="232.9" cy="87.4" r="1.15"/><circle cx="218.2" cy="104.0" r="1.15"/><circle cx="241.0" cy="91.6" r="1.15"/><circle cx="232.4" cy="88.9" r="1.15"/><circle cx="249.1" cy="104.8" r="1.15"/><circle cx="212.5" cy="92.6" r="1.15"/><circle cx="185.8" cy="103.6" r="1.15"/><circle cx="224.4" cy="72.6" r="1.15"/><circle cx="204.6" cy="98.5" r="1.15"/><circle cx="247.4" cy="101.0" r="1.15"/><circle cx="220.4" cy="90.8" r="1.15"/><circle cx="239.6" cy="74.3" r="1.15"/><circle cx="222.5" cy="100.7" r="1.15"/><circle cx="225.8" cy="95.6" r="1.15"/><circle cx="232.3" cy="71.6" r="1.15"/><circle cx="231.4" cy="98.3" r="1.15"/><circle cx="222.5" cy="104.8" r="1.15"/><circle cx="233.1" cy="90.7" r="1.15"/><circle cx="200.9" cy="99.5" r="1.15"/><circle cx="239.5" cy="80.4" r="1.15"/><circle cx="241.4" cy="76.7" r="1.15"/><circle cx="203.6" cy="102.4" r="1.15"/><circle cx="219.7" cy="100.4" r="1.15"/><circle cx="222.4" cy="93.8" r="1.15"/><circle cx="202.2" cy="104.9" r="1.15"/><circle cx="229.9" cy="101.0" r="1.15"/><circle cx="229.6" cy="89.2" r="1.15"/><circle cx="205.9" cy="99.2" r="1.15"/><circle cx="251.0" cy="103.7" r="1.15"/><circle cx="223.5" cy="80.0" r="1.15"/><circle cx="208.7" cy="103.4" r="1.15"/><circle cx="207.4" cy="95.5" r="1.15"/><circle cx="223.1" cy="104.7" r="1.15"/><circle cx="239.1" cy="87.2" r="1.15"/><circle cx="220.3" cy="73.2" r="1.15"/><circle cx="225.9" cy="102.8" r="1.15"/><circle cx="231.4" cy="87.8" r="1.15"/><circle cx="214.6" cy="101.0" r="1.15"/><circle cx="224.5" cy="104.8" r="1.15"/><circle cx="180.5" cy="104.4" r="1.15"/><circle cx="228.6" cy="99.9" r="1.15"/><circle cx="251.3" cy="103.8" r="1.15"/><circle cx="251.7" cy="99.2" r="1.15"/><circle cx="200.5" cy="105.0" r="1.15"/><circle cx="220.5" cy="101.0" r="1.15"/><circle cx="225.4" cy="69.2" r="1.15"/><circle cx="221.5" cy="104.0" r="1.15"/><circle cx="246.2" cy="104.4" r="1.15"/><circle cx="218.6" cy="105.1" r="1.15"/><circle cx="232.4" cy="90.7" r="1.15"/><circle cx="207.9" cy="100.1" r="1.15"/><circle cx="230.3" cy="92.4" r="1.15"/><circle cx="241.0" cy="102.9" r="1.15"/><circle cx="221.8" cy="100.0" r="1.15"/><circle cx="235.8" cy="76.1" r="1.15"/><circle cx="201.1" cy="100.0" r="1.15"/><circle cx="217.2" cy="89.1" r="1.15"/><circle cx="232.3" cy="97.3" r="1.15"/><circle cx="225.5" cy="102.3" r="1.15"/><circle cx="184.7" cy="103.8" r="1.15"/><circle cx="223.8" cy="102.0" r="1.15"/><circle cx="218.6" cy="103.0" r="1.15"/><circle cx="230.0" cy="104.0" r="1.15"/><circle cx="194.6" cy="104.7" r="1.15"/><circle cx="193.8" cy="104.4" r="1.15"/><circle cx="212.1" cy="103.7" r="1.15"/><circle cx="203.4" cy="96.9" r="1.15"/><circle cx="205.3" cy="99.5" r="1.15"/><circle cx="217.1" cy="99.7" r="1.15"/><circle cx="223.8" cy="97.9" r="1.15"/><circle cx="202.9" cy="97.0" r="1.15"/><circle cx="233.5" cy="97.6" r="1.15"/><circle cx="220.2" cy="98.5" r="1.15"/><circle cx="216.1" cy="89.5" r="1.15"/><circle cx="205.1" cy="104.1" r="1.15"/><circle cx="230.7" cy="104.7" r="1.15"/><circle cx="188.9" cy="104.6" r="1.15"/><circle cx="185.1" cy="103.4" r="1.15"/><circle cx="218.7" cy="88.9" r="1.15"/><circle cx="240.7" cy="86.3" r="1.15"/><circle cx="214.4" cy="103.5" r="1.15"/><circle cx="199.0" cy="101.4" r="1.15"/><circle cx="222.0" cy="71.8" r="1.15"/><circle cx="233.3" cy="104.2" r="1.15"/><circle cx="231.6" cy="85.4" r="1.15"/><circle cx="245.2" cy="103.3" r="1.15"/><circle cx="236.4" cy="80.8" r="1.15"/><circle cx="229.0" cy="93.3" r="1.15"/><circle cx="196.7" cy="102.1" r="1.15"/><circle cx="207.7" cy="104.9" r="1.15"/><circle cx="221.5" cy="99.3" r="1.15"/><circle cx="216.1" cy="89.3" r="1.15"/><circle cx="224.3" cy="101.2" r="1.15"/><circle cx="218.2" cy="82.1" r="1.15"/><circle cx="217.9" cy="93.5" r="1.15"/><circle cx="250.4" cy="103.6" r="1.15"/><circle cx="226.7" cy="104.1" r="1.15"/><circle cx="216.0" cy="103.7" r="1.15"/><circle cx="211.9" cy="85.7" r="1.15"/><circle cx="185.6" cy="104.5" r="1.15"/><circle cx="203.6" cy="99.1" r="1.15"/><circle cx="230.6" cy="99.9" r="1.15"/><circle cx="250.2" cy="104.4" r="1.15"/><circle cx="199.3" cy="103.6" r="1.15"/><circle cx="233.0" cy="92.0" r="1.15"/><circle cx="220.1" cy="102.2" r="1.15"/><circle cx="219.5" cy="100.6" r="1.15"/><circle cx="240.3" cy="80.9" r="1.15"/><circle cx="217.1" cy="98.5" r="1.15"/><circle cx="212.3" cy="93.4" r="1.15"/><circle cx="224.0" cy="86.5" r="1.15"/><circle cx="251.6" cy="103.2" r="1.15"/><circle cx="220.4" cy="100.5" r="1.15"/><circle cx="223.7" cy="103.9" r="1.15"/><circle cx="233.1" cy="102.4" r="1.15"/><circle cx="231.6" cy="86.0" r="1.15"/><circle cx="215.9" cy="103.7" r="1.15"/><circle cx="225.3" cy="102.2" r="1.15"/><circle cx="216.9" cy="80.0" r="1.15"/><circle cx="195.9" cy="103.3" r="1.15"/><circle cx="234.7" cy="95.5" r="1.15"/><circle cx="233.8" cy="83.9" r="1.15"/><circle cx="205.1" cy="103.9" r="1.15"/><circle cx="225.0" cy="68.8" r="1.15"/><circle cx="219.9" cy="90.6" r="1.15"/><circle cx="217.7" cy="76.0" r="1.15"/><circle cx="239.9" cy="82.0" r="1.15"/><circle cx="227.7" cy="68.8" r="1.15"/><circle cx="241.7" cy="81.1" r="1.15"/><circle cx="195.9" cy="104.5" r="1.15"/><circle cx="214.4" cy="98.8" r="1.15"/><circle cx="222.6" cy="104.4" r="1.15"/><circle cx="227.5" cy="102.8" r="1.15"/><circle cx="212.3" cy="95.2" r="1.15"/><circle cx="234.3" cy="72.0" r="1.15"/><circle cx="217.4" cy="92.2" r="1.15"/><circle cx="188.0" cy="104.4" r="1.15"/><circle cx="222.8" cy="104.6" r="1.15"/><circle cx="222.8" cy="83.4" r="1.15"/><circle cx="231.8" cy="99.1" r="1.15"/><circle cx="215.4" cy="102.2" r="1.15"/><circle cx="225.7" cy="97.1" r="1.15"/><circle cx="245.1" cy="102.1" r="1.15"/><circle cx="217.8" cy="88.1" r="1.15"/><circle cx="211.6" cy="91.2" r="1.15"/><circle cx="196.4" cy="102.3" r="1.15"/><circle cx="228.4" cy="79.4" r="1.15"/><circle cx="249.5" cy="94.5" r="1.15"/><circle cx="197.2" cy="104.8" r="1.15"/><circle cx="205.9" cy="98.4" r="1.15"/><circle cx="208.2" cy="94.7" r="1.15"/><circle cx="183.3" cy="104.0" r="1.15"/><circle cx="207.8" cy="99.2" r="1.15"/><circle cx="207.2" cy="100.5" r="1.15"/><circle cx="229.7" cy="76.3" r="1.15"/><circle cx="218.9" cy="81.9" r="1.15"/><circle cx="237.9" cy="84.0" r="1.15"/><circle cx="200.6" cy="104.0" r="1.15"/><circle cx="197.5" cy="103.6" r="1.15"/><circle cx="215.3" cy="103.8" r="1.15"/><circle cx="234.2" cy="66.9" r="1.15"/><circle cx="204.6" cy="98.9" r="1.15"/><circle cx="220.5" cy="89.9" r="1.15"/><circle cx="216.8" cy="99.2" r="1.15"/><circle cx="194.2" cy="103.1" r="1.15"/><circle cx="238.9" cy="101.7" r="1.15"/><circle cx="232.4" cy="104.3" r="1.15"/><circle cx="236.3" cy="79.6" r="1.15"/><circle cx="243.6" cy="98.4" r="1.15"/><circle cx="216.7" cy="104.7" r="1.15"/><circle cx="214.8" cy="105.0" r="1.15"/><circle cx="217.2" cy="98.5" r="1.15"/><circle cx="214.2" cy="85.1" r="1.15"/><circle cx="199.2" cy="102.7" r="1.15"/><circle cx="213.0" cy="95.3" r="1.15"/><circle cx="199.8" cy="104.5" r="1.15"/><circle cx="207.7" cy="100.3" r="1.15"/><circle cx="199.7" cy="103.2" r="1.15"/><circle cx="193.7" cy="103.4" r="1.15"/><circle cx="221.8" cy="91.0" r="1.15"/><circle cx="224.7" cy="74.2" r="1.15"/><circle cx="224.6" cy="98.4" r="1.15"/><circle cx="206.1" cy="96.8" r="1.15"/><circle cx="222.9" cy="70.5" r="1.15"/><circle cx="242.2" cy="85.9" r="1.15"/><circle cx="219.1" cy="75.6" r="1.15"/><circle cx="238.6" cy="103.5" r="1.15"/><circle cx="230.4" cy="99.8" r="1.15"/><circle cx="239.1" cy="102.6" r="1.15"/><circle cx="217.1" cy="102.5" r="1.15"/><circle cx="213.9" cy="87.3" r="1.15"/><circle cx="227.1" cy="84.2" r="1.15"/><circle cx="230.2" cy="103.6" r="1.15"/><circle cx="225.1" cy="92.5" r="1.15"/><circle cx="230.7" cy="75.9" r="1.15"/><circle cx="234.8" cy="74.5" r="1.15"/><circle cx="220.7" cy="104.0" r="1.15"/></g>
<g fill="#1a1a1a" fill-opacity="0.35"><circle cx="224.5" cy="104.7" r="0.9"/><circle cx="217.0" cy="102.4" r="0.9"/><circle cx="223.0" cy="102.1" r="0.9"/><circle cx="224.4" cy="101.0" r="0.9"/><circle cx="215.6" cy="102.2" r="0.9"/><circle cx="224.3" cy="100.3" r="0.9"/><circle cx="225.6" cy="103.0" r="0.9"/><circle cx="202.3" cy="104.8" r="0.9"/><circle cx="223.0" cy="104.7" r="0.9"/><circle cx="231.9" cy="103.6" r="0.9"/><circle cx="215.6" cy="101.7" r="0.9"/><circle cx="202.9" cy="105.3" r="0.9"/><circle cx="216.6" cy="101.6" r="0.9"/><circle cx="210.6" cy="102.3" r="0.9"/><circle cx="227.5" cy="104.8" r="0.9"/><circle cx="208.1" cy="103.4" r="0.9"/><circle cx="214.4" cy="103.9" r="0.9"/><circle cx="220.6" cy="102.4" r="0.9"/><circle cx="222.9" cy="105.1" r="0.9"/><circle cx="222.4" cy="100.4" r="0.9"/><circle cx="211.2" cy="103.7" r="0.9"/><circle cx="214.9" cy="101.7" r="0.9"/><circle cx="212.3" cy="101.8" r="0.9"/><circle cx="209.2" cy="102.8" r="0.9"/><circle cx="228.5" cy="103.1" r="0.9"/><circle cx="217.3" cy="105.5" r="0.9"/><circle cx="211.5" cy="102.8" r="0.9"/><circle cx="216.9" cy="105.2" r="0.9"/><circle cx="215.5" cy="104.6" r="0.9"/><circle cx="214.3" cy="103.4" r="0.9"/><circle cx="204.4" cy="105.3" r="0.9"/><circle cx="218.8" cy="105.1" r="0.9"/><circle cx="214.1" cy="102.9" r="0.9"/><circle cx="225.7" cy="105.1" r="0.9"/><circle cx="229.1" cy="105.5" r="0.9"/><circle cx="227.9" cy="103.7" r="0.9"/><circle cx="219.8" cy="103.7" r="0.9"/><circle cx="211.8" cy="105.3" r="0.9"/><circle cx="212.6" cy="105.0" r="0.9"/><circle cx="209.4" cy="104.3" r="0.9"/><circle cx="216.0" cy="105.5" r="0.9"/><circle cx="213.9" cy="102.5" r="0.9"/><circle cx="233.7" cy="104.2" r="0.9"/><circle cx="219.3" cy="105.1" r="0.9"/><circle cx="214.6" cy="104.3" r="0.9"/><circle cx="225.7" cy="104.2" r="0.9"/><circle cx="210.2" cy="102.6" r="0.9"/><circle cx="226.3" cy="103.7" r="0.9"/><circle cx="211.8" cy="104.1" r="0.9"/><circle cx="218.7" cy="102.2" r="0.9"/><circle cx="228.8" cy="105.0" r="0.9"/><circle cx="230.2" cy="105.4" r="0.9"/><circle cx="221.8" cy="101.7" r="0.9"/><circle cx="219.9" cy="104.6" r="0.9"/><circle cx="214.6" cy="103.1" r="0.9"/><circle cx="223.3" cy="104.5" r="0.9"/><circle cx="214.6" cy="105.1" r="0.9"/><circle cx="220.4" cy="103.8" r="0.9"/><circle cx="218.7" cy="103.3" r="0.9"/><circle cx="218.3" cy="105.1" r="0.9"/><circle cx="223.4" cy="105.4" r="0.9"/><circle cx="225.8" cy="103.4" r="0.9"/><circle cx="231.4" cy="105.1" r="0.9"/><circle cx="220.3" cy="103.7" r="0.9"/><circle cx="221.1" cy="98.9" r="0.9"/><circle cx="237.9" cy="105.2" r="0.9"/><circle cx="215.1" cy="105.2" r="0.9"/><circle cx="211.4" cy="102.5" r="0.9"/><circle cx="224.0" cy="105.0" r="0.9"/><circle cx="223.6" cy="104.5" r="0.9"/><circle cx="215.6" cy="100.5" r="0.9"/><circle cx="215.9" cy="102.2" r="0.9"/><circle cx="226.6" cy="105.0" r="0.9"/><circle cx="222.6" cy="104.8" r="0.9"/><circle cx="220.6" cy="104.2" r="0.9"/><circle cx="214.3" cy="104.4" r="0.9"/><circle cx="212.3" cy="103.4" r="0.9"/><circle cx="219.2" cy="101.6" r="0.9"/><circle cx="236.9" cy="105.2" r="0.9"/><circle cx="234.1" cy="104.2" r="0.9"/><circle cx="212.2" cy="104.9" r="0.9"/><circle cx="225.6" cy="103.1" r="0.9"/><circle cx="220.5" cy="105.4" r="0.9"/><circle cx="220.1" cy="100.1" r="0.9"/><circle cx="215.6" cy="104.5" r="0.9"/><circle cx="216.8" cy="101.6" r="0.9"/><circle cx="231.2" cy="102.4" r="0.9"/><circle cx="213.7" cy="104.0" r="0.9"/><circle cx="212.9" cy="104.3" r="0.9"/><circle cx="218.5" cy="101.7" r="0.9"/><circle cx="223.1" cy="100.0" r="0.9"/><circle cx="222.1" cy="100.1" r="0.9"/><circle cx="217.1" cy="102.8" r="0.9"/><circle cx="219.4" cy="104.0" r="0.9"/><circle cx="233.1" cy="105.2" r="0.9"/><circle cx="215.6" cy="101.7" r="0.9"/><circle cx="228.8" cy="104.5" r="0.9"/><circle cx="225.7" cy="103.6" r="0.9"/><circle cx="223.0" cy="101.3" r="0.9"/><circle cx="210.9" cy="105.5" r="0.9"/><circle cx="219.2" cy="100.6" r="0.9"/><circle cx="216.4" cy="105.3" r="0.9"/><circle cx="232.2" cy="104.0" r="0.9"/><circle cx="219.8" cy="104.9" r="0.9"/><circle cx="223.9" cy="102.7" r="0.9"/><circle cx="208.9" cy="105.3" r="0.9"/><circle cx="211.3" cy="104.2" r="0.9"/><circle cx="218.5" cy="105.0" r="0.9"/><circle cx="226.5" cy="100.6" r="0.9"/><circle cx="245.2" cy="104.8" r="0.9"/><circle cx="226.2" cy="104.3" r="0.9"/><circle cx="216.1" cy="103.2" r="0.9"/><circle cx="220.1" cy="102.7" r="0.9"/><circle cx="238.0" cy="105.0" r="0.9"/><circle cx="214.2" cy="101.6" r="0.9"/><circle cx="226.8" cy="103.4" r="0.9"/><circle cx="214.6" cy="102.8" r="0.9"/><circle cx="237.9" cy="104.2" r="0.9"/><circle cx="226.8" cy="103.9" r="0.9"/><circle cx="228.6" cy="105.2" r="0.9"/><circle cx="219.4" cy="103.4" r="0.9"/><circle cx="218.1" cy="104.6" r="0.9"/><circle cx="231.6" cy="105.4" r="0.9"/><circle cx="216.1" cy="101.4" r="0.9"/><circle cx="218.5" cy="105.4" r="0.9"/><circle cx="218.8" cy="104.5" r="0.9"/><circle cx="214.5" cy="105.5" r="0.9"/><circle cx="223.7" cy="105.3" r="0.9"/><circle cx="226.3" cy="102.2" r="0.9"/><circle cx="222.4" cy="103.2" r="0.9"/><circle cx="220.4" cy="102.7" r="0.9"/><circle cx="211.4" cy="104.4" r="0.9"/><circle cx="225.7" cy="103.5" r="0.9"/><circle cx="206.5" cy="104.4" r="0.9"/><circle cx="206.2" cy="104.0" r="0.9"/><circle cx="218.5" cy="100.7" r="0.9"/><circle cx="217.5" cy="105.2" r="0.9"/><circle cx="208.7" cy="104.4" r="0.9"/><circle cx="220.7" cy="99.1" r="0.9"/><circle cx="222.5" cy="103.8" r="0.9"/><circle cx="222.6" cy="99.5" r="0.9"/><circle cx="213.8" cy="104.6" r="0.9"/><circle cx="241.8" cy="104.6" r="0.9"/><circle cx="224.7" cy="101.3" r="0.9"/><circle cx="210.6" cy="102.5" r="0.9"/><circle cx="211.2" cy="101.8" r="0.9"/><circle cx="230.6" cy="103.6" r="0.9"/><circle cx="216.1" cy="103.4" r="0.9"/><circle cx="220.1" cy="105.1" r="0.9"/><circle cx="224.3" cy="105.2" r="0.9"/><circle cx="233.2" cy="102.9" r="0.9"/><circle cx="215.8" cy="104.2" r="0.9"/><circle cx="221.7" cy="105.3" r="0.9"/><circle cx="215.5" cy="104.4" r="0.9"/><circle cx="221.3" cy="102.1" r="0.9"/><circle cx="217.1" cy="104.5" r="0.9"/><circle cx="208.1" cy="103.8" r="0.9"/><circle cx="222.4" cy="104.2" r="0.9"/><circle cx="228.0" cy="105.4" r="0.9"/><circle cx="217.3" cy="100.0" r="0.9"/><circle cx="212.9" cy="102.5" r="0.9"/><circle cx="236.9" cy="104.5" r="0.9"/><circle cx="207.9" cy="103.3" r="0.9"/><circle cx="212.8" cy="104.9" r="0.9"/><circle cx="221.6" cy="103.1" r="0.9"/><circle cx="218.2" cy="104.8" r="0.9"/><circle cx="228.8" cy="104.2" r="0.9"/><circle cx="216.4" cy="101.7" r="0.9"/><circle cx="221.2" cy="99.3" r="0.9"/><circle cx="206.0" cy="105.1" r="0.9"/><circle cx="228.4" cy="101.1" r="0.9"/><circle cx="236.2" cy="105.4" r="0.9"/><circle cx="215.3" cy="105.2" r="0.9"/><circle cx="226.1" cy="105.2" r="0.9"/><circle cx="222.3" cy="100.1" r="0.9"/><circle cx="214.7" cy="104.8" r="0.9"/><circle cx="219.7" cy="105.1" r="0.9"/><circle cx="229.1" cy="102.9" r="0.9"/><circle cx="224.4" cy="104.5" r="0.9"/><circle cx="214.2" cy="104.1" r="0.9"/><circle cx="217.6" cy="103.6" r="0.9"/><circle cx="226.8" cy="101.5" r="0.9"/><circle cx="220.7" cy="100.7" r="0.9"/><circle cx="220.4" cy="100.8" r="0.9"/><circle cx="221.0" cy="101.3" r="0.9"/><circle cx="222.9" cy="104.8" r="0.9"/><circle cx="240.8" cy="105.0" r="0.9"/><circle cx="220.3" cy="99.7" r="0.9"/><circle cx="217.6" cy="104.3" r="0.9"/><circle cx="217.7" cy="105.0" r="0.9"/><circle cx="230.6" cy="104.0" r="0.9"/><circle cx="223.3" cy="104.2" r="0.9"/><circle cx="229.2" cy="105.2" r="0.9"/><circle cx="213.3" cy="101.6" r="0.9"/><circle cx="230.5" cy="101.7" r="0.9"/><circle cx="210.1" cy="105.1" r="0.9"/><circle cx="216.4" cy="104.3" r="0.9"/><circle cx="210.2" cy="105.4" r="0.9"/><circle cx="222.1" cy="104.1" r="0.9"/><circle cx="223.3" cy="104.3" r="0.9"/><circle cx="217.7" cy="104.5" r="0.9"/><circle cx="223.3" cy="101.8" r="0.9"/><circle cx="225.7" cy="105.1" r="0.9"/><circle cx="232.0" cy="105.0" r="0.9"/><circle cx="225.1" cy="100.4" r="0.9"/><circle cx="230.7" cy="105.0" r="0.9"/><circle cx="217.3" cy="105.4" r="0.9"/><circle cx="211.7" cy="103.0" r="0.9"/><circle cx="222.9" cy="102.8" r="0.9"/><circle cx="211.5" cy="104.4" r="0.9"/><circle cx="220.4" cy="101.3" r="0.9"/><circle cx="226.0" cy="102.3" r="0.9"/><circle cx="220.0" cy="104.1" r="0.9"/><circle cx="209.6" cy="104.2" r="0.9"/><circle cx="219.1" cy="104.8" r="0.9"/><circle cx="200.4" cy="104.9" r="0.9"/><circle cx="222.3" cy="105.3" r="0.9"/><circle cx="215.4" cy="104.5" r="0.9"/><circle cx="222.6" cy="105.3" r="0.9"/><circle cx="230.2" cy="105.5" r="0.9"/><circle cx="215.4" cy="102.7" r="0.9"/><circle cx="216.5" cy="104.6" r="0.9"/><circle cx="226.2" cy="101.3" r="0.9"/><circle cx="216.0" cy="105.3" r="0.9"/><circle cx="225.4" cy="102.6" r="0.9"/><circle cx="225.9" cy="102.8" r="0.9"/><circle cx="218.5" cy="100.1" r="0.9"/><circle cx="226.5" cy="104.7" r="0.9"/><circle cx="222.1" cy="103.4" r="0.9"/><circle cx="222.2" cy="103.4" r="0.9"/><circle cx="215.6" cy="105.5" r="0.9"/><circle cx="222.9" cy="104.9" r="0.9"/><circle cx="210.0" cy="102.6" r="0.9"/><circle cx="232.3" cy="104.7" r="0.9"/><circle cx="235.2" cy="104.1" r="0.9"/><circle cx="219.8" cy="104.6" r="0.9"/><circle cx="220.4" cy="99.3" r="0.9"/><circle cx="211.1" cy="103.5" r="0.9"/><circle cx="212.9" cy="103.1" r="0.9"/><circle cx="204.3" cy="104.5" r="0.9"/><circle cx="230.0" cy="103.2" r="0.9"/><circle cx="217.9" cy="105.4" r="0.9"/><circle cx="224.2" cy="105.1" r="0.9"/><circle cx="223.2" cy="100.2" r="0.9"/><circle cx="211.8" cy="102.0" r="0.9"/><circle cx="212.7" cy="104.3" r="0.9"/><circle cx="230.4" cy="103.8" r="0.9"/><circle cx="217.3" cy="99.8" r="0.9"/><circle cx="216.8" cy="103.8" r="0.9"/><circle cx="230.2" cy="103.6" r="0.9"/><circle cx="200.2" cy="104.7" r="0.9"/><circle cx="212.8" cy="103.1" r="0.9"/><circle cx="224.1" cy="103.3" r="0.9"/><circle cx="226.0" cy="100.9" r="0.9"/><circle cx="212.9" cy="105.2" r="0.9"/><circle cx="224.7" cy="105.5" r="0.9"/><circle cx="213.6" cy="105.0" r="0.9"/><circle cx="215.5" cy="104.3" r="0.9"/><circle cx="230.4" cy="105.1" r="0.9"/><circle cx="221.8" cy="105.1" r="0.9"/></g>
<g fill="#c4c4c4" stroke="#b0b0b0" stroke-width="0.3"><circle cx="192.2" cy="16.9" r="1.3"/><circle cx="197.5" cy="27.0" r="1.3"/><circle cx="197.4" cy="41.4" r="1.3"/><circle cx="203.2" cy="48.4" r="1.3"/><circle cx="197.4" cy="55.4" r="1.3"/><circle cx="204.4" cy="59.4" r="1.3"/><circle cx="171.7" cy="60.7" r="1.3"/><circle cx="193.0" cy="66.8" r="1.3"/><circle cx="179.0" cy="71.7" r="1.3"/><circle cx="190.4" cy="71.7" r="1.3"/><circle cx="210.9" cy="67.7" r="1.3"/><circle cx="243.0" cy="62.4" r="1.3"/><circle cx="240.3" cy="66.8" r="1.3"/><circle cx="246.5" cy="73.8" r="1.3"/><circle cx="244.7" cy="76.4" r="1.3"/><circle cx="242.1" cy="79.0" r="1.3"/><circle cx="238.0" cy="70.0" r="1.3"/><circle cx="236.0" cy="75.0" r="1.3"/><circle cx="248.0" cy="84.0" r="1.3"/><circle cx="245.0" cy="90.0" r="1.3"/><circle cx="250.0" cy="95.0" r="1.3"/><circle cx="238.0" cy="95.0" r="1.3"/><circle cx="241.0" cy="86.0" r="1.3"/></g>
<line x1="238.60" y1="44.40" x2="236.80" y2="82.60" stroke="#000" stroke-width="0.65"/>
<line x1="234.20" y1="52.80" x2="234.20" y2="64.20" stroke="#000" stroke-width="0.65"/>
<line x1="246.50" y1="55.90" x2="235.40" y2="90.80" stroke="#000" stroke-width="0.65"/>
<line x1="228.10" y1="63.30" x2="231.90" y2="87.50" stroke="#000" stroke-width="0.65"/>
<line x1="251.20" y1="69.40" x2="232.40" y2="91.30" stroke="#000" stroke-width="0.65"/>
<line x1="218.40" y1="72.00" x2="230.20" y2="103.20" stroke="#000" stroke-width="0.65"/>
<line x1="255.20" y1="80.80" x2="231.60" y2="101.00" stroke="#000" stroke-width="0.65"/>
<line x1="272.20" y1="85.50" x2="236.50" y2="100.40" stroke="#000" stroke-width="0.65"/>
<line x1="272.20" y1="95.60" x2="232.40" y2="104.50" stroke="#000" stroke-width="0.65"/>
<line x1="190.40" y1="83.40" x2="220.70" y2="105.70" stroke="#000" stroke-width="0.65"/>
<line x1="216.20" y1="82.90" x2="222.80" y2="105.00" stroke="#000" stroke-width="0.65"/>
<line x1="228.90" y1="94.00" x2="231.00" y2="101.50" stroke="#000" stroke-width="0.65"/>
<line x1="190.90" y1="94.50" x2="214.60" y2="105.30" stroke="#000" stroke-width="0.65"/>
<line x1="261.40" y1="102.70" x2="241.20" y2="102.70" stroke="#000" stroke-width="0.65"/>
<line x1="196.50" y1="104.50" x2="213.70" y2="106.40" stroke="#000" stroke-width="0.65"/>
<line x1="199.70" y1="106.70" x2="214.60" y2="105.30" stroke="#000" stroke-width="0.65"/>
<line x1="260.50" y1="107.10" x2="232.40" y2="104.50" stroke="#000" stroke-width="0.65"/>
<line x1="207.00" y1="116.70" x2="218.80" y2="106.20" stroke="#000" stroke-width="0.65"/>
<line x1="220.70" y1="116.70" x2="220.70" y2="105.70" stroke="#000" stroke-width="0.65"/>
<line x1="233.70" y1="116.70" x2="231.60" y2="101.00" stroke="#000" stroke-width="0.65"/>
<line x1="253.50" y1="116.70" x2="236.50" y2="100.40" stroke="#000" stroke-width="0.65"/>
<circle cx="234.20" cy="64.20" r="1.25" fill="#d7191c"/>
<circle cx="236.80" cy="82.60" r="1.25" fill="#d7191c"/>
<circle cx="231.90" cy="87.50" r="1.25" fill="#d7191c"/>
<circle cx="232.40" cy="91.30" r="1.25" fill="#d7191c"/>
<circle cx="235.40" cy="90.80" r="1.25" fill="#d7191c"/>
<circle cx="236.50" cy="100.40" r="1.25" fill="#d7191c"/>
<circle cx="241.20" cy="102.70" r="1.25" fill="#d7191c"/>
<circle cx="231.60" cy="101.00" r="1.25" fill="#d7191c"/>
<circle cx="230.20" cy="103.20" r="1.25" fill="#d7191c"/>
<circle cx="232.40" cy="104.50" r="1.25" fill="#d7191c"/>
<circle cx="222.80" cy="105.00" r="1.25" fill="#d7191c"/>
<circle cx="220.70" cy="105.70" r="1.25" fill="#d7191c"/>
<circle cx="218.80" cy="106.20" r="1.25" fill="#d7191c"/>
<circle cx="214.60" cy="105.30" r="1.25" fill="#d7191c"/>
<circle cx="213.70" cy="106.40" r="1.25" fill="#d7191c"/>
<rect x="238.60" y="36.70" width="18.90" height="7.70" rx="1.2" fill="#fff" stroke="#858585" stroke-width="0.55"/>
<text x="248.05" y="43.05" font-size="6.9" text-anchor="middle">TLR3</text>
<rect x="214.40" y="44.90" width="22.80" height="7.90" rx="1.2" fill="#fff" stroke="#858585" stroke-width="0.55"/>
<text x="225.80" y="51.35" font-size="6.9" text-anchor="middle">DTX3L</text>
<rect x="246.50" y="48.40" width="19.20" height="7.50" rx="1.2" fill="#fff" stroke="#858585" stroke-width="0.55"/>
<text x="256.10" y="54.65" font-size="6.9" text-anchor="middle">IFIH1</text>
<rect x="210.20" y="55.40" width="17.90" height="7.90" rx="1.2" fill="#fff" stroke="#858585" stroke-width="0.55"/>
<text x="219.15" y="61.85" font-size="6.9" text-anchor="middle">IFI35</text>
<rect x="251.20" y="61.50" width="23.80" height="7.90" rx="1.2" fill="#fff" stroke="#858585" stroke-width="0.55"/>
<text x="263.10" y="67.95" font-size="6.9" text-anchor="middle">DDX60</text>
<rect x="199.20" y="64.20" width="19.20" height="7.80" rx="1.2" fill="#fff" stroke="#858585" stroke-width="0.55"/>
<text x="208.80" y="70.60" font-size="6.9" text-anchor="middle">OAS3</text>
<rect x="255.20" y="73.40" width="15.80" height="7.40" rx="1.2" fill="#fff" stroke="#858585" stroke-width="0.55"/>
<text x="263.10" y="79.60" font-size="6.9" text-anchor="middle">MX1</text>
<rect x="272.20" y="77.60" width="18.80" height="7.90" rx="1.2" fill="#fff" stroke="#858585" stroke-width="0.55"/>
<text x="281.60" y="84.05" font-size="6.9" text-anchor="middle">IFIT5</text>
<rect x="272.20" y="87.90" width="20.10" height="7.70" rx="1.2" fill="#fff" stroke="#858585" stroke-width="0.55"/>
<text x="282.25" y="94.25" font-size="6.9" text-anchor="middle">OAS1</text>
<rect x="169.40" y="75.90" width="21.00" height="7.50" rx="1.2" fill="#fff" stroke="#858585" stroke-width="0.55"/>
<text x="179.90" y="82.15" font-size="6.9" text-anchor="middle">ISG20</text>
<rect x="192.70" y="75.20" width="23.50" height="7.70" rx="1.2" fill="#fff" stroke="#858585" stroke-width="0.55"/>
<text x="204.45" y="81.55" font-size="6.9" text-anchor="middle">DDX58</text>
<rect x="214.90" y="86.40" width="14.00" height="7.60" rx="1.2" fill="#fff" stroke="#858585" stroke-width="0.55"/>
<text x="221.90" y="92.70" font-size="6.9" text-anchor="middle">IFI6</text>
<rect x="172.90" y="86.90" width="18.00" height="7.60" rx="1.2" fill="#fff" stroke="#858585" stroke-width="0.55"/>
<text x="181.90" y="93.20" font-size="6.9" text-anchor="middle">IFI27</text>
<rect x="261.40" y="96.90" width="15.70" height="8.10" rx="1.2" fill="#fff" stroke="#858585" stroke-width="0.55"/>
<text x="269.25" y="103.45" font-size="6.9" text-anchor="middle">IL15</text>
<rect x="175.50" y="96.60" width="21.00" height="7.90" rx="1.2" fill="#fff" stroke="#858585" stroke-width="0.55"/>
<text x="186.00" y="103.05" font-size="6.9" text-anchor="middle">OAS2</text>
<rect x="175.50" y="106.70" width="24.20" height="7.40" rx="1.2" fill="#fff" stroke="#858585" stroke-width="0.55"/>
<text x="187.60" y="112.90" font-size="6.9" text-anchor="middle">IFITM1</text>
<rect x="260.50" y="107.10" width="19.30" height="7.90" rx="1.2" fill="#fff" stroke="#858585" stroke-width="0.55"/>
<text x="270.15" y="113.55" font-size="6.9" text-anchor="middle">IFIT3</text>
<rect x="182.50" y="116.70" width="24.50" height="7.90" rx="1.2" fill="#fff" stroke="#858585" stroke-width="0.55"/>
<text x="194.75" y="123.15" font-size="6.9" text-anchor="middle">DHX58</text>
<rect x="207.90" y="116.70" width="24.50" height="7.90" rx="1.2" fill="#fff" stroke="#858585" stroke-width="0.55"/>
<text x="220.15" y="123.15" font-size="6.9" text-anchor="middle">RSAD2</text>
<rect x="233.70" y="116.70" width="18.00" height="7.90" rx="1.2" fill="#fff" stroke="#858585" stroke-width="0.55"/>
<text x="242.70" y="123.15" font-size="6.9" text-anchor="middle">IFIT1</text>
<rect x="253.50" y="116.70" width="18.70" height="7.90" rx="1.2" fill="#fff" stroke="#858585" stroke-width="0.55"/>
<text x="262.85" y="123.15" font-size="6.9" text-anchor="middle">CCL5</text>
<line x1="167.60" y1="14.00" x2="167.60" y2="126.20" stroke="#000" stroke-width="0.7"/>
<line x1="167.60" y1="126.20" x2="262.00" y2="126.20" stroke="#000" stroke-width="0.7"/>
<line x1="166.10" y1="105.20" x2="167.60" y2="105.20" stroke="#000" stroke-width="0.6"/>
<text x="165.00" y="107.90" font-size="7.8" text-anchor="end" fill="#333">0</text>
<line x1="166.10" y1="78.90" x2="167.60" y2="78.90" stroke="#000" stroke-width="0.6"/>
<text x="165.00" y="81.60" font-size="7.8" text-anchor="end" fill="#333">50</text>
<line x1="166.10" y1="52.60" x2="167.60" y2="52.60" stroke="#000" stroke-width="0.6"/>
<text x="165.00" y="55.30" font-size="7.8" text-anchor="end" fill="#333">100</text>
<line x1="166.10" y1="26.30" x2="167.60" y2="26.30" stroke="#000" stroke-width="0.6"/>
<text x="165.00" y="29.00" font-size="7.8" text-anchor="end" fill="#333">150</text>
<line x1="180.40" y1="126.20" x2="180.40" y2="127.70" stroke="#000" stroke-width="0.6"/>
<text x="180.40" y="134.70" font-size="7.8" text-anchor="middle" fill="#333">-10</text>
<line x1="200.30" y1="126.20" x2="200.30" y2="127.70" stroke="#000" stroke-width="0.6"/>
<text x="200.30" y="134.70" font-size="7.8" text-anchor="middle" fill="#333">-5</text>
<line x1="220.20" y1="126.20" x2="220.20" y2="127.70" stroke="#000" stroke-width="0.6"/>
<text x="220.20" y="134.70" font-size="7.8" text-anchor="middle" fill="#333">0</text>
<line x1="240.10" y1="126.20" x2="240.10" y2="127.70" stroke="#000" stroke-width="0.6"/>
<text x="240.10" y="134.70" font-size="7.8" text-anchor="middle" fill="#333">5</text>
<line x1="260.00" y1="126.20" x2="260.00" y2="127.70" stroke="#000" stroke-width="0.6"/>
<text x="260.00" y="134.70" font-size="7.8" text-anchor="middle" fill="#333">10</text>
<text x="170.30" y="16.00" font-size="9.2" font-weight="bold">Ctrl</text>
<line x1="357.80" y1="14.60" x2="357.80" y2="57.00" stroke="#1a1a1a" stroke-width="0.85" stroke-dasharray="5.2,2.4"/>
<line x1="363.90" y1="14.60" x2="363.90" y2="57.00" stroke="#1a1a1a" stroke-width="0.85" stroke-dasharray="5.2,2.4"/>
<line x1="313.30" y1="105.30" x2="421.50" y2="105.30" stroke="#1a1a1a" stroke-width="0.8" stroke-dasharray="5.2,2.4"/>
<g fill="#dedede" stroke="#7a7a7a" stroke-width="0.35" fill-opacity="0.5" stroke-opacity="0.6"><circle cx="399.4" cy="104.7" r="1.15"/><circle cx="388.2" cy="90.5" r="1.15"/><circle cx="355.4" cy="94.8" r="1.15"/><circle cx="345.5" cy="104.2" r="1.15"/><circle cx="347.5" cy="99.1" r="1.15"/><circle cx="401.1" cy="103.2" r="1.15"/><circle cx="350.1" cy="105.0" r="1.15"/><circle cx="379.6" cy="99.0" r="1.15"/><circle cx="337.4" cy="103.4" r="1.15"/><circle cx="351.1" cy="105.0" r="1.15"/><circle cx="358.1" cy="95.7" r="1.15"/><circle cx="386.0" cy="103.5" r="1.15"/><circle cx="384.4" cy="86.1" r="1.15"/><circle cx="384.6" cy="84.3" r="1.15"/><circle cx="334.7" cy="102.2" r="1.15"/><circle cx="376.2" cy="79.5" r="1.15"/><circle cx="342.9" cy="103.4" r="1.15"/><circle cx="378.8" cy="75.7" r="1.15"/><circle cx="341.9" cy="100.1" r="1.15"/><circle cx="341.9" cy="101.1" r="1.15"/><circle cx="359.0" cy="101.8" r="1.15"/><circle cx="350.8" cy="103.4" r="1.15"/><circle cx="372.6" cy="67.1" r="1.15"/><circle cx="347.3" cy="97.9" r="1.15"/><circle cx="342.7" cy="102.7" r="1.15"/><circle cx="350.2" cy="103.8" r="1.15"/><circle cx="324.8" cy="105.1" r="1.15"/><circle cx="388.4" cy="91.2" r="1.15"/><circle cx="370.7" cy="77.7" r="1.15"/><circle cx="383.7" cy="101.0" r="1.15"/><circle cx="366.8" cy="102.5" r="1.15"/><circle cx="330.9" cy="105.0" r="1.15"/><circle cx="370.1" cy="92.7" r="1.15"/><circle cx="361.2" cy="98.6" r="1.15"/><circle cx="373.3" cy="103.4" r="1.15"/><circle cx="365.5" cy="81.4" r="1.15"/><circle cx="374.2" cy="74.0" r="1.15"/><circle cx="367.6" cy="81.6" r="1.15"/><circle cx="358.4" cy="77.8" r="1.15"/><circle cx="364.5" cy="98.2" r="1.15"/><circle cx="342.3" cy="104.3" r="1.15"/><circle cx="359.9" cy="96.7" r="1.15"/><circle cx="364.6" cy="71.4" r="1.15"/><circle cx="363.1" cy="83.0" r="1.15"/><circle cx="350.7" cy="97.9" r="1.15"/><circle cx="359.0" cy="97.0" r="1.15"/><circle cx="367.9" cy="87.1" r="1.15"/><circle cx="346.9" cy="104.3" r="1.15"/><circle cx="374.0" cy="85.6" r="1.15"/><circle cx="359.3" cy="93.6" r="1.15"/><circle cx="365.5" cy="104.9" r="1.15"/><circle cx="365.8" cy="85.7" r="1.15"/><circle cx="359.6" cy="77.8" r="1.15"/><circle cx="361.6" cy="96.1" r="1.15"/><circle cx="383.4" cy="90.0" r="1.15"/><circle cx="338.1" cy="104.2" r="1.15"/><circle cx="371.1" cy="104.5" r="1.15"/><circle cx="365.6" cy="104.0" r="1.15"/><circle cx="350.3" cy="104.7" r="1.15"/><circle cx="372.6" cy="100.6" r="1.15"/><circle cx="359.7" cy="100.3" r="1.15"/><circle cx="353.4" cy="88.2" r="1.15"/><circle cx="356.1" cy="98.1" r="1.15"/><circle cx="360.5" cy="104.2" r="1.15"/><circle cx="371.6" cy="101.2" r="1.15"/><circle cx="378.0" cy="95.5" r="1.15"/><circle cx="357.7" cy="92.8" r="1.15"/><circle cx="406.4" cy="103.6" r="1.15"/><circle cx="364.9" cy="103.8" r="1.15"/><circle cx="390.8" cy="94.8" r="1.15"/><circle cx="363.7" cy="95.8" r="1.15"/><circle cx="363.0" cy="89.3" r="1.15"/><circle cx="367.9" cy="96.3" r="1.15"/><circle cx="359.5" cy="86.0" r="1.15"/><circle cx="381.5" cy="96.1" r="1.15"/><circle cx="368.1" cy="95.4" r="1.15"/><circle cx="367.6" cy="103.9" r="1.15"/><circle cx="343.5" cy="99.8" r="1.15"/><circle cx="358.7" cy="90.6" r="1.15"/><circle cx="336.7" cy="104.1" r="1.15"/><circle cx="375.8" cy="75.6" r="1.15"/><circle cx="381.4" cy="93.1" r="1.15"/><circle cx="353.9" cy="87.6" r="1.15"/><circle cx="350.5" cy="103.3" r="1.15"/><circle cx="362.9" cy="95.4" r="1.15"/><circle cx="329.7" cy="104.9" r="1.15"/><circle cx="355.5" cy="100.6" r="1.15"/><circle cx="361.9" cy="96.6" r="1.15"/><circle cx="364.8" cy="71.8" r="1.15"/><circle cx="360.4" cy="104.0" r="1.15"/><circle cx="373.1" cy="81.8" r="1.15"/><circle cx="346.4" cy="101.5" r="1.15"/><circle cx="374.9" cy="65.6" r="1.15"/><circle cx="354.8" cy="97.9" r="1.15"/><circle cx="350.0" cy="93.2" r="1.15"/><circle cx="368.1" cy="94.0" r="1.15"/><circle cx="361.1" cy="91.3" r="1.15"/><circle cx="375.6" cy="103.8" r="1.15"/><circle cx="343.4" cy="104.0" r="1.15"/><circle cx="360.8" cy="97.3" r="1.15"/><circle cx="325.6" cy="103.2" r="1.15"/><circle cx="369.0" cy="97.9" r="1.15"/><circle cx="338.6" cy="103.2" r="1.15"/><circle cx="352.8" cy="96.1" r="1.15"/><circle cx="375.6" cy="64.2" r="1.15"/><circle cx="360.2" cy="95.8" r="1.15"/><circle cx="329.8" cy="105.0" r="1.15"/><circle cx="359.3" cy="78.4" r="1.15"/><circle cx="340.3" cy="102.0" r="1.15"/><circle cx="357.1" cy="87.0" r="1.15"/><circle cx="351.4" cy="95.4" r="1.15"/><circle cx="356.6" cy="87.4" r="1.15"/><circle cx="378.8" cy="94.9" r="1.15"/><circle cx="382.7" cy="94.9" r="1.15"/><circle cx="402.1" cy="104.3" r="1.15"/><circle cx="362.4" cy="78.3" r="1.15"/><circle cx="339.5" cy="104.0" r="1.15"/><circle cx="349.1" cy="103.7" r="1.15"/><circle cx="361.9" cy="104.7" r="1.15"/><circle cx="352.1" cy="94.8" r="1.15"/><circle cx="346.1" cy="100.5" r="1.15"/><circle cx="330.9" cy="104.9" r="1.15"/><circle cx="375.4" cy="92.7" r="1.15"/><circle cx="364.2" cy="89.7" r="1.15"/><circle cx="358.8" cy="94.1" r="1.15"/><circle cx="373.7" cy="69.9" r="1.15"/><circle cx="383.6" cy="93.7" r="1.15"/><circle cx="353.5" cy="104.7" r="1.15"/><circle cx="349.8" cy="98.6" r="1.15"/><circle cx="339.7" cy="104.4" r="1.15"/><circle cx="356.0" cy="93.3" r="1.15"/><circle cx="374.4" cy="71.5" r="1.15"/><circle cx="340.5" cy="104.6" r="1.15"/><circle cx="379.6" cy="101.3" r="1.15"/><circle cx="401.7" cy="104.8" r="1.15"/><circle cx="347.8" cy="103.1" r="1.15"/><circle cx="367.8" cy="92.8" r="1.15"/><circle cx="377.0" cy="98.1" r="1.15"/><circle cx="339.8" cy="103.2" r="1.15"/><circle cx="333.7" cy="104.6" r="1.15"/><circle cx="368.9" cy="102.0" r="1.15"/><circle cx="348.1" cy="103.1" r="1.15"/><circle cx="350.8" cy="94.6" r="1.15"/><circle cx="350.0" cy="94.8" r="1.15"/><circle cx="389.5" cy="86.0" r="1.15"/><circle cx="361.6" cy="74.4" r="1.15"/><circle cx="335.3" cy="102.8" r="1.15"/><circle cx="351.5" cy="90.2" r="1.15"/><circle cx="383.6" cy="88.1" r="1.15"/><circle cx="373.9" cy="101.9" r="1.15"/><circle cx="358.1" cy="96.6" r="1.15"/><circle cx="355.6" cy="84.1" r="1.15"/><circle cx="364.7" cy="97.0" r="1.15"/><circle cx="389.7" cy="88.7" r="1.15"/><circle cx="344.9" cy="102.5" r="1.15"/><circle cx="392.2" cy="101.5" r="1.15"/><circle cx="384.3" cy="103.1" r="1.15"/><circle cx="395.4" cy="104.7" r="1.15"/><circle cx="370.4" cy="100.0" r="1.15"/><circle cx="367.8" cy="97.7" r="1.15"/><circle cx="373.9" cy="85.1" r="1.15"/><circle cx="375.2" cy="76.8" r="1.15"/><circle cx="365.4" cy="73.6" r="1.15"/><circle cx="373.9" cy="102.0" r="1.15"/><circle cx="357.5" cy="100.6" r="1.15"/><circle cx="340.2" cy="103.7" r="1.15"/><circle cx="361.7" cy="94.6" r="1.15"/><circle cx="352.5" cy="91.7" r="1.15"/><circle cx="349.7" cy="98.2" r="1.15"/><circle cx="357.5" cy="84.9" r="1.15"/><circle cx="366.6" cy="90.3" r="1.15"/><circle cx="364.2" cy="66.5" r="1.15"/><circle cx="389.2" cy="93.7" r="1.15"/><circle cx="358.7" cy="101.0" r="1.15"/><circle cx="360.0" cy="104.2" r="1.15"/><circle cx="370.0" cy="103.1" r="1.15"/><circle cx="355.8" cy="83.3" r="1.15"/><circle cx="357.9" cy="82.7" r="1.15"/><circle cx="380.3" cy="90.1" r="1.15"/><circle cx="376.5" cy="104.3" r="1.15"/><circle cx="396.1" cy="96.5" r="1.15"/><circle cx="358.5" cy="82.1" r="1.15"/><circle cx="376.3" cy="103.4" r="1.15"/><circle cx="367.1" cy="101.3" r="1.15"/><circle cx="365.7" cy="95.7" r="1.15"/><circle cx="339.9" cy="102.2" r="1.15"/><circle cx="343.4" cy="100.2" r="1.15"/><circle cx="368.5" cy="74.0" r="1.15"/><circle cx="354.1" cy="100.9" r="1.15"/><circle cx="378.2" cy="93.9" r="1.15"/><circle cx="379.1" cy="76.7" r="1.15"/><circle cx="355.1" cy="102.2" r="1.15"/><circle cx="365.3" cy="81.9" r="1.15"/><circle cx="359.8" cy="93.4" r="1.15"/><circle cx="365.1" cy="88.5" r="1.15"/><circle cx="348.3" cy="97.7" r="1.15"/><circle cx="356.7" cy="104.2" r="1.15"/><circle cx="366.1" cy="73.5" r="1.15"/><circle cx="358.4" cy="103.1" r="1.15"/><circle cx="379.7" cy="90.2" r="1.15"/><circle cx="377.5" cy="64.1" r="1.15"/><circle cx="376.4" cy="98.9" r="1.15"/><circle cx="369.6" cy="79.3" r="1.15"/><circle cx="356.1" cy="94.1" r="1.15"/><circle cx="347.9" cy="98.8" r="1.15"/><circle cx="339.4" cy="104.9" r="1.15"/><circle cx="358.2" cy="81.1" r="1.15"/><circle cx="365.2" cy="90.1" r="1.15"/><circle cx="346.8" cy="96.8" r="1.15"/><circle cx="370.3" cy="79.7" r="1.15"/><circle cx="365.9" cy="93.1" r="1.15"/><circle cx="351.7" cy="102.8" r="1.15"/><circle cx="368.6" cy="101.4" r="1.15"/><circle cx="341.5" cy="104.4" r="1.15"/><circle cx="372.5" cy="69.8" r="1.15"/><circle cx="365.8" cy="83.7" r="1.15"/><circle cx="380.2" cy="98.8" r="1.15"/><circle cx="370.1" cy="97.5" r="1.15"/><circle cx="394.2" cy="104.2" r="1.15"/><circle cx="356.6" cy="101.9" r="1.15"/><circle cx="359.6" cy="96.5" r="1.15"/><circle cx="335.5" cy="104.6" r="1.15"/><circle cx="354.5" cy="104.1" r="1.15"/><circle cx="349.8" cy="104.7" r="1.15"/><circle cx="331.8" cy="104.0" r="1.15"/><circle cx="333.3" cy="104.4" r="1.15"/><circle cx="369.8" cy="63.7" r="1.15"/><circle cx="371.6" cy="80.0" r="1.15"/><circle cx="377.1" cy="81.1" r="1.15"/><circle cx="350.4" cy="104.1" r="1.15"/><circle cx="383.9" cy="103.5" r="1.15"/><circle cx="350.5" cy="101.1" r="1.15"/><circle cx="377.7" cy="92.8" r="1.15"/><circle cx="353.9" cy="103.1" r="1.15"/><circle cx="333.1" cy="105.0" r="1.15"/><circle cx="384.6" cy="104.6" r="1.15"/><circle cx="357.7" cy="95.4" r="1.15"/><circle cx="377.4" cy="90.4" r="1.15"/><circle cx="366.3" cy="81.1" r="1.15"/><circle cx="360.9" cy="104.7" r="1.15"/><circle cx="353.7" cy="104.4" r="1.15"/><circle cx="353.3" cy="95.9" r="1.15"/><circle cx="338.8" cy="103.7" r="1.15"/><circle cx="355.6" cy="93.3" r="1.15"/><circle cx="353.9" cy="102.2" r="1.15"/><circle cx="352.3" cy="89.3" r="1.15"/><circle cx="353.0" cy="89.0" r="1.15"/><circle cx="356.0" cy="89.3" r="1.15"/><circle cx="336.6" cy="102.9" r="1.15"/><circle cx="373.5" cy="88.8" r="1.15"/><circle cx="365.6" cy="98.2" r="1.15"/><circle cx="363.1" cy="86.1" r="1.15"/><circle cx="387.4" cy="86.1" r="1.15"/><circle cx="379.7" cy="87.6" r="1.15"/><circle cx="346.7" cy="98.9" r="1.15"/><circle cx="364.5" cy="88.5" r="1.15"/><circle cx="391.3" cy="95.8" r="1.15"/><circle cx="352.4" cy="103.5" r="1.15"/><circle cx="362.6" cy="74.4" r="1.15"/><circle cx="333.3" cy="104.3" r="1.15"/><circle cx="357.1" cy="102.7" r="1.15"/><circle cx="362.7" cy="96.9" r="1.15"/><circle cx="349.0" cy="99.4" r="1.15"/><circle cx="380.3" cy="91.7" r="1.15"/><circle cx="332.9" cy="104.2" r="1.15"/><circle cx="346.1" cy="103.2" r="1.15"/><circle cx="382.6" cy="93.6" r="1.15"/><circle cx="346.0" cy="97.5" r="1.15"/><circle cx="369.0" cy="101.9" r="1.15"/><circle cx="355.1" cy="101.0" r="1.15"/><circle cx="386.7" cy="80.5" r="1.15"/><circle cx="348.5" cy="103.3" r="1.15"/><circle cx="345.3" cy="103.1" r="1.15"/><circle cx="360.6" cy="84.6" r="1.15"/><circle cx="390.4" cy="96.0" r="1.15"/><circle cx="375.4" cy="72.8" r="1.15"/><circle cx="381.9" cy="91.1" r="1.15"/><circle cx="357.3" cy="89.8" r="1.15"/><circle cx="341.5" cy="102.9" r="1.15"/><circle cx="351.4" cy="98.8" r="1.15"/><circle cx="323.7" cy="104.7" r="1.15"/><circle cx="345.4" cy="98.5" r="1.15"/><circle cx="361.6" cy="72.8" r="1.15"/><circle cx="378.0" cy="85.7" r="1.15"/><circle cx="322.5" cy="104.6" r="1.15"/><circle cx="344.9" cy="100.0" r="1.15"/><circle cx="357.0" cy="87.2" r="1.15"/><circle cx="356.8" cy="92.1" r="1.15"/><circle cx="352.3" cy="99.2" r="1.15"/><circle cx="391.0" cy="100.9" r="1.15"/><circle cx="379.7" cy="95.8" r="1.15"/><circle cx="345.1" cy="98.1" r="1.15"/><circle cx="350.6" cy="101.0" r="1.15"/><circle cx="379.1" cy="103.9" r="1.15"/><circle cx="376.2" cy="86.2" r="1.15"/><circle cx="360.9" cy="80.6" r="1.15"/><circle cx="359.0" cy="92.3" r="1.15"/><circle cx="332.7" cy="104.0" r="1.15"/><circle cx="364.6" cy="105.1" r="1.15"/><circle cx="336.7" cy="105.2" r="1.15"/><circle cx="353.2" cy="89.2" r="1.15"/><circle cx="394.1" cy="98.6" r="1.15"/><circle cx="351.9" cy="97.7" r="1.15"/><circle cx="368.9" cy="72.8" r="1.15"/><circle cx="338.6" cy="104.0" r="1.15"/><circle cx="358.5" cy="92.9" r="1.15"/><circle cx="363.6" cy="68.0" r="1.15"/><circle cx="367.0" cy="75.2" r="1.15"/><circle cx="360.0" cy="91.7" r="1.15"/><circle cx="364.4" cy="87.5" r="1.15"/><circle cx="352.5" cy="101.2" r="1.15"/><circle cx="347.1" cy="104.6" r="1.15"/><circle cx="369.9" cy="65.7" r="1.15"/><circle cx="374.3" cy="74.5" r="1.15"/><circle cx="369.3" cy="80.3" r="1.15"/><circle cx="368.7" cy="76.6" r="1.15"/><circle cx="365.3" cy="95.9" r="1.15"/><circle cx="363.2" cy="75.8" r="1.15"/><circle cx="355.0" cy="97.9" r="1.15"/><circle cx="391.1" cy="102.8" r="1.15"/><circle cx="373.1" cy="91.4" r="1.15"/><circle cx="367.6" cy="103.3" r="1.15"/><circle cx="355.7" cy="89.1" r="1.15"/><circle cx="333.7" cy="104.9" r="1.15"/><circle cx="395.1" cy="104.1" r="1.15"/><circle cx="354.8" cy="96.1" r="1.15"/><circle cx="351.6" cy="105.1" r="1.15"/><circle cx="347.3" cy="103.6" r="1.15"/><circle cx="365.0" cy="85.4" r="1.15"/><circle cx="369.7" cy="70.7" r="1.15"/><circle cx="382.2" cy="103.7" r="1.15"/><circle cx="367.5" cy="77.2" r="1.15"/><circle cx="325.9" cy="105.0" r="1.15"/><circle cx="383.1" cy="98.9" r="1.15"/><circle cx="387.0" cy="103.1" r="1.15"/><circle cx="358.9" cy="105.2" r="1.15"/><circle cx="345.6" cy="98.3" r="1.15"/><circle cx="362.2" cy="83.6" r="1.15"/><circle cx="385.9" cy="96.7" r="1.15"/><circle cx="360.4" cy="90.2" r="1.15"/><circle cx="369.7" cy="73.6" r="1.15"/><circle cx="373.9" cy="71.5" r="1.15"/><circle cx="369.6" cy="87.3" r="1.15"/><circle cx="376.4" cy="103.7" r="1.15"/><circle cx="380.8" cy="80.6" r="1.15"/><circle cx="363.8" cy="103.8" r="1.15"/><circle cx="368.6" cy="94.2" r="1.15"/><circle cx="345.2" cy="102.8" r="1.15"/><circle cx="382.8" cy="98.8" r="1.15"/><circle cx="377.9" cy="82.9" r="1.15"/><circle cx="385.4" cy="99.1" r="1.15"/><circle cx="338.0" cy="104.4" r="1.15"/><circle cx="359.7" cy="78.6" r="1.15"/><circle cx="388.0" cy="90.8" r="1.15"/><circle cx="372.4" cy="83.7" r="1.15"/><circle cx="357.0" cy="100.4" r="1.15"/><circle cx="350.2" cy="101.5" r="1.15"/><circle cx="355.7" cy="102.9" r="1.15"/><circle cx="353.1" cy="97.5" r="1.15"/><circle cx="361.7" cy="91.5" r="1.15"/><circle cx="356.0" cy="103.8" r="1.15"/><circle cx="398.0" cy="98.8" r="1.15"/><circle cx="366.3" cy="103.8" r="1.15"/><circle cx="356.7" cy="104.5" r="1.15"/><circle cx="340.4" cy="102.0" r="1.15"/><circle cx="362.4" cy="81.1" r="1.15"/><circle cx="351.9" cy="104.0" r="1.15"/><circle cx="360.5" cy="101.1" r="1.15"/><circle cx="364.1" cy="77.3" r="1.15"/><circle cx="356.0" cy="97.3" r="1.15"/><circle cx="377.0" cy="63.7" r="1.15"/><circle cx="375.4" cy="98.0" r="1.15"/><circle cx="344.6" cy="102.1" r="1.15"/><circle cx="359.3" cy="105.0" r="1.15"/><circle cx="392.0" cy="99.9" r="1.15"/><circle cx="387.8" cy="96.7" r="1.15"/><circle cx="339.6" cy="104.9" r="1.15"/><circle cx="367.8" cy="78.2" r="1.15"/><circle cx="379.0" cy="68.0" r="1.15"/><circle cx="376.6" cy="69.9" r="1.15"/><circle cx="365.2" cy="76.8" r="1.15"/><circle cx="374.1" cy="77.9" r="1.15"/><circle cx="357.2" cy="87.5" r="1.15"/><circle cx="381.8" cy="75.9" r="1.15"/><circle cx="349.0" cy="93.4" r="1.15"/><circle cx="357.9" cy="81.4" r="1.15"/><circle cx="381.2" cy="78.7" r="1.15"/><circle cx="349.7" cy="103.6" r="1.15"/><circle cx="361.7" cy="89.4" r="1.15"/><circle cx="333.5" cy="104.3" r="1.15"/><circle cx="364.2" cy="98.6" r="1.15"/><circle cx="351.4" cy="95.8" r="1.15"/><circle cx="352.0" cy="105.1" r="1.15"/><circle cx="332.9" cy="103.4" r="1.15"/><circle cx="347.1" cy="103.8" r="1.15"/><circle cx="354.8" cy="102.6" r="1.15"/><circle cx="344.0" cy="104.2" r="1.15"/><circle cx="357.4" cy="91.5" r="1.15"/><circle cx="375.0" cy="93.3" r="1.15"/><circle cx="382.7" cy="89.6" r="1.15"/><circle cx="377.1" cy="65.6" r="1.15"/><circle cx="346.4" cy="101.6" r="1.15"/><circle cx="394.5" cy="99.0" r="1.15"/><circle cx="355.7" cy="105.1" r="1.15"/><circle cx="369.1" cy="71.0" r="1.15"/><circle cx="366.1" cy="103.5" r="1.15"/><circle cx="374.1" cy="105.1" r="1.15"/><circle cx="330.4" cy="103.9" r="1.15"/><circle cx="380.6" cy="85.2" r="1.15"/><circle cx="352.9" cy="102.8" r="1.15"/><circle cx="388.1" cy="90.7" r="1.15"/><circle cx="358.0" cy="101.8" r="1.15"/><circle cx="362.8" cy="101.6" r="1.15"/><circle cx="350.1" cy="103.4" r="1.15"/><circle cx="362.4" cy="72.7" r="1.15"/><circle cx="342.0" cy="104.1" r="1.15"/><circle cx="350.2" cy="102.7" r="1.15"/><circle cx="381.1" cy="100.4" r="1.15"/><circle cx="376.7" cy="101.9" r="1.15"/><circle cx="365.0" cy="103.9" r="1.15"/><circle cx="370.7" cy="82.2" r="1.15"/><circle cx="354.8" cy="84.3" r="1.15"/><circle cx="366.7" cy="99.0" r="1.15"/><circle cx="377.4" cy="83.9" r="1.15"/><circle cx="350.4" cy="92.0" r="1.15"/><circle cx="323.5" cy="103.4" r="1.15"/><circle cx="357.5" cy="95.4" r="1.15"/><circle cx="354.9" cy="94.8" r="1.15"/><circle cx="374.0" cy="85.0" r="1.15"/><circle cx="352.9" cy="104.0" r="1.15"/><circle cx="345.6" cy="102.5" r="1.15"/><circle cx="366.4" cy="98.4" r="1.15"/><circle cx="375.8" cy="91.8" r="1.15"/><circle cx="361.6" cy="76.2" r="1.15"/><circle cx="369.6" cy="99.1" r="1.15"/><circle cx="371.2" cy="75.2" r="1.15"/><circle cx="370.3" cy="103.6" r="1.15"/><circle cx="367.9" cy="88.2" r="1.15"/><circle cx="343.3" cy="99.5" r="1.15"/><circle cx="362.4" cy="101.9" r="1.15"/><circle cx="392.3" cy="92.8" r="1.15"/><circle cx="384.1" cy="94.0" r="1.15"/><circle cx="349.7" cy="96.7" r="1.15"/><circle cx="371.6" cy="97.5" r="1.15"/><circle cx="361.4" cy="87.0" r="1.15"/><circle cx="363.7" cy="104.3" r="1.15"/><circle cx="335.7" cy="102.9" r="1.15"/><circle cx="348.9" cy="95.7" r="1.15"/><circle cx="391.0" cy="102.0" r="1.15"/><circle cx="392.4" cy="102.6" r="1.15"/><circle cx="363.7" cy="101.6" r="1.15"/><circle cx="367.8" cy="72.4" r="1.15"/><circle cx="392.1" cy="101.3" r="1.15"/><circle cx="338.7" cy="103.6" r="1.15"/><circle cx="352.3" cy="92.0" r="1.15"/><circle cx="344.7" cy="101.5" r="1.15"/><circle cx="349.7" cy="100.3" r="1.15"/><circle cx="338.7" cy="103.3" r="1.15"/><circle cx="353.8" cy="90.0" r="1.15"/><circle cx="342.8" cy="100.6" r="1.15"/><circle cx="384.1" cy="93.9" r="1.15"/><circle cx="355.4" cy="102.1" r="1.15"/><circle cx="362.0" cy="70.1" r="1.15"/><circle cx="362.9" cy="77.3" r="1.15"/><circle cx="374.5" cy="69.6" r="1.15"/><circle cx="362.2" cy="85.1" r="1.15"/><circle cx="348.9" cy="97.8" r="1.15"/><circle cx="358.1" cy="91.6" r="1.15"/><circle cx="372.1" cy="72.8" r="1.15"/><circle cx="372.5" cy="76.4" r="1.15"/><circle cx="369.7" cy="96.4" r="1.15"/><circle cx="376.7" cy="88.8" r="1.15"/><circle cx="366.4" cy="99.5" r="1.15"/><circle cx="372.9" cy="100.0" r="1.15"/><circle cx="378.1" cy="100.2" r="1.15"/><circle cx="342.6" cy="103.6" r="1.15"/><circle cx="399.9" cy="104.8" r="1.15"/><circle cx="345.6" cy="100.9" r="1.15"/><circle cx="332.9" cy="105.0" r="1.15"/><circle cx="332.8" cy="104.9" r="1.15"/><circle cx="372.2" cy="102.3" r="1.15"/><circle cx="354.1" cy="103.8" r="1.15"/><circle cx="347.9" cy="99.4" r="1.15"/><circle cx="344.5" cy="103.1" r="1.15"/><circle cx="383.3" cy="89.9" r="1.15"/><circle cx="373.1" cy="86.4" r="1.15"/><circle cx="386.0" cy="104.7" r="1.15"/><circle cx="365.9" cy="87.3" r="1.15"/><circle cx="364.1" cy="80.2" r="1.15"/><circle cx="340.3" cy="103.2" r="1.15"/><circle cx="348.2" cy="103.1" r="1.15"/><circle cx="350.2" cy="103.6" r="1.15"/><circle cx="367.5" cy="79.9" r="1.15"/><circle cx="354.3" cy="90.8" r="1.15"/><circle cx="361.3" cy="79.8" r="1.15"/><circle cx="361.9" cy="74.1" r="1.15"/><circle cx="347.9" cy="100.2" r="1.15"/><circle cx="371.0" cy="76.6" r="1.15"/><circle cx="373.8" cy="105.1" r="1.15"/><circle cx="374.1" cy="100.6" r="1.15"/><circle cx="368.7" cy="69.4" r="1.15"/><circle cx="340.1" cy="103.3" r="1.15"/><circle cx="380.4" cy="99.2" r="1.15"/><circle cx="389.7" cy="102.5" r="1.15"/><circle cx="341.8" cy="102.3" r="1.15"/><circle cx="360.2" cy="93.4" r="1.15"/><circle cx="344.7" cy="103.0" r="1.15"/><circle cx="349.8" cy="92.0" r="1.15"/><circle cx="354.5" cy="100.7" r="1.15"/><circle cx="364.4" cy="103.4" r="1.15"/><circle cx="347.0" cy="97.8" r="1.15"/><circle cx="358.1" cy="84.0" r="1.15"/><circle cx="380.6" cy="91.8" r="1.15"/><circle cx="339.3" cy="103.8" r="1.15"/><circle cx="363.0" cy="78.4" r="1.15"/><circle cx="361.7" cy="80.9" r="1.15"/><circle cx="385.0" cy="85.8" r="1.15"/><circle cx="352.4" cy="96.2" r="1.15"/><circle cx="366.6" cy="96.2" r="1.15"/><circle cx="360.4" cy="79.7" r="1.15"/><circle cx="365.4" cy="102.7" r="1.15"/><circle cx="366.5" cy="78.1" r="1.15"/><circle cx="350.8" cy="97.6" r="1.15"/><circle cx="369.4" cy="94.8" r="1.15"/><circle cx="372.1" cy="99.3" r="1.15"/><circle cx="403.1" cy="103.0" r="1.15"/><circle cx="347.5" cy="104.8" r="1.15"/><circle cx="353.5" cy="98.4" r="1.15"/><circle cx="368.6" cy="80.1" r="1.15"/><circle cx="376.0" cy="92.8" r="1.15"/><circle cx="364.7" cy="90.9" r="1.15"/><circle cx="358.5" cy="82.0" r="1.15"/><circle cx="377.5" cy="100.3" r="1.15"/><circle cx="362.0" cy="101.6" r="1.15"/><circle cx="381.9" cy="104.5" r="1.15"/><circle cx="370.5" cy="63.5" r="1.15"/><circle cx="346.1" cy="103.3" r="1.15"/><circle cx="374.8" cy="102.8" r="1.15"/><circle cx="342.4" cy="104.4" r="1.15"/><circle cx="363.2" cy="100.3" r="1.15"/><circle cx="356.1" cy="97.2" r="1.15"/><circle cx="343.4" cy="103.3" r="1.15"/><circle cx="378.4" cy="104.8" r="1.15"/><circle cx="344.7" cy="104.4" r="1.15"/><circle cx="377.7" cy="90.3" r="1.15"/><circle cx="360.2" cy="100.9" r="1.15"/><circle cx="346.7" cy="99.5" r="1.15"/><circle cx="389.2" cy="93.3" r="1.15"/><circle cx="353.9" cy="89.3" r="1.15"/><circle cx="382.6" cy="96.4" r="1.15"/><circle cx="334.2" cy="104.3" r="1.15"/><circle cx="364.2" cy="87.8" r="1.15"/><circle cx="363.8" cy="104.2" r="1.15"/><circle cx="336.8" cy="103.3" r="1.15"/><circle cx="329.7" cy="105.1" r="1.15"/><circle cx="382.3" cy="99.1" r="1.15"/><circle cx="344.9" cy="100.2" r="1.15"/><circle cx="371.2" cy="86.3" r="1.15"/><circle cx="345.3" cy="101.3" r="1.15"/><circle cx="333.6" cy="105.0" r="1.15"/><circle cx="364.2" cy="102.4" r="1.15"/><circle cx="353.7" cy="101.1" r="1.15"/><circle cx="366.6" cy="100.2" r="1.15"/><circle cx="382.3" cy="102.0" r="1.15"/><circle cx="349.8" cy="97.4" r="1.15"/><circle cx="371.2" cy="100.4" r="1.15"/><circle cx="375.3" cy="95.9" r="1.15"/><circle cx="360.2" cy="87.5" r="1.15"/><circle cx="353.8" cy="103.5" r="1.15"/><circle cx="362.5" cy="91.1" r="1.15"/><circle cx="363.8" cy="91.0" r="1.15"/><circle cx="356.3" cy="87.2" r="1.15"/><circle cx="362.7" cy="95.1" r="1.15"/><circle cx="370.9" cy="104.8" r="1.15"/><circle cx="339.5" cy="102.2" r="1.15"/><circle cx="375.9" cy="65.2" r="1.15"/><circle cx="369.2" cy="89.4" r="1.15"/><circle cx="353.2" cy="104.2" r="1.15"/><circle cx="346.4" cy="102.9" r="1.15"/><circle cx="363.9" cy="103.2" r="1.15"/><circle cx="337.9" cy="103.4" r="1.15"/><circle cx="339.1" cy="101.6" r="1.15"/><circle cx="338.2" cy="103.2" r="1.15"/><circle cx="344.4" cy="100.5" r="1.15"/><circle cx="357.5" cy="86.8" r="1.15"/><circle cx="338.9" cy="102.2" r="1.15"/><circle cx="353.1" cy="89.8" r="1.15"/><circle cx="364.6" cy="104.5" r="1.15"/><circle cx="347.8" cy="97.5" r="1.15"/><circle cx="369.3" cy="76.2" r="1.15"/><circle cx="378.3" cy="103.3" r="1.15"/><circle cx="363.7" cy="103.0" r="1.15"/><circle cx="370.3" cy="80.1" r="1.15"/><circle cx="365.4" cy="101.1" r="1.15"/><circle cx="387.0" cy="88.9" r="1.15"/><circle cx="347.9" cy="105.1" r="1.15"/><circle cx="359.4" cy="93.4" r="1.15"/><circle cx="373.8" cy="81.3" r="1.15"/><circle cx="343.7" cy="103.5" r="1.15"/><circle cx="356.2" cy="104.3" r="1.15"/><circle cx="367.0" cy="97.0" r="1.15"/><circle cx="340.7" cy="102.7" r="1.15"/><circle cx="373.6" cy="84.4" r="1.15"/><circle cx="350.3" cy="95.8" r="1.15"/><circle cx="384.4" cy="94.1" r="1.15"/><circle cx="372.3" cy="74.7" r="1.15"/><circle cx="355.1" cy="98.6" r="1.15"/><circle cx="353.9" cy="101.5" r="1.15"/><circle cx="388.9" cy="101.3" r="1.15"/><circle cx="365.2" cy="77.1" r="1.15"/><circle cx="354.8" cy="105.0" r="1.15"/><circle cx="364.1" cy="71.8" r="1.15"/><circle cx="348.0" cy="102.5" r="1.15"/><circle cx="357.1" cy="101.9" r="1.15"/><circle cx="366.2" cy="89.0" r="1.15"/><circle cx="363.8" cy="75.0" r="1.15"/><circle cx="359.8" cy="104.7" r="1.15"/><circle cx="358.0" cy="96.3" r="1.15"/><circle cx="352.6" cy="91.0" r="1.15"/><circle cx="338.6" cy="104.3" r="1.15"/><circle cx="357.6" cy="86.6" r="1.15"/><circle cx="377.4" cy="91.8" r="1.15"/><circle cx="393.6" cy="102.4" r="1.15"/><circle cx="370.7" cy="104.3" r="1.15"/><circle cx="341.9" cy="102.8" r="1.15"/><circle cx="352.4" cy="93.9" r="1.15"/><circle cx="353.1" cy="97.6" r="1.15"/><circle cx="350.0" cy="103.8" r="1.15"/><circle cx="361.8" cy="87.1" r="1.15"/><circle cx="378.4" cy="96.0" r="1.15"/><circle cx="367.7" cy="90.5" r="1.15"/><circle cx="368.1" cy="65.1" r="1.15"/><circle cx="361.5" cy="99.4" r="1.15"/><circle cx="360.8" cy="83.5" r="1.15"/><circle cx="344.7" cy="101.9" r="1.15"/><circle cx="371.7" cy="64.8" r="1.15"/><circle cx="350.3" cy="100.3" r="1.15"/><circle cx="379.9" cy="86.3" r="1.15"/><circle cx="361.8" cy="103.7" r="1.15"/><circle cx="379.5" cy="93.0" r="1.15"/><circle cx="391.4" cy="98.6" r="1.15"/><circle cx="357.2" cy="86.7" r="1.15"/><circle cx="361.6" cy="92.2" r="1.15"/><circle cx="365.1" cy="98.3" r="1.15"/><circle cx="365.1" cy="90.6" r="1.15"/><circle cx="371.9" cy="68.5" r="1.15"/><circle cx="336.3" cy="105.1" r="1.15"/><circle cx="373.5" cy="86.0" r="1.15"/><circle cx="378.1" cy="90.5" r="1.15"/><circle cx="348.3" cy="98.4" r="1.15"/><circle cx="371.9" cy="81.4" r="1.15"/><circle cx="355.0" cy="104.6" r="1.15"/><circle cx="343.9" cy="102.6" r="1.15"/><circle cx="336.0" cy="104.4" r="1.15"/><circle cx="354.6" cy="85.3" r="1.15"/><circle cx="353.4" cy="92.4" r="1.15"/><circle cx="353.9" cy="100.7" r="1.15"/><circle cx="373.4" cy="87.1" r="1.15"/><circle cx="357.6" cy="78.5" r="1.15"/><circle cx="336.8" cy="104.8" r="1.15"/><circle cx="349.5" cy="104.4" r="1.15"/><circle cx="374.1" cy="97.8" r="1.15"/><circle cx="345.0" cy="104.6" r="1.15"/><circle cx="322.9" cy="103.5" r="1.15"/><circle cx="354.1" cy="97.9" r="1.15"/><circle cx="340.4" cy="101.7" r="1.15"/><circle cx="361.1" cy="73.8" r="1.15"/><circle cx="329.3" cy="104.7" r="1.15"/><circle cx="379.7" cy="81.9" r="1.15"/><circle cx="335.7" cy="102.8" r="1.15"/><circle cx="378.4" cy="102.0" r="1.15"/><circle cx="367.3" cy="88.1" r="1.15"/><circle cx="355.3" cy="83.7" r="1.15"/><circle cx="360.3" cy="94.0" r="1.15"/><circle cx="355.5" cy="91.0" r="1.15"/><circle cx="373.4" cy="91.6" r="1.15"/><circle cx="383.1" cy="85.7" r="1.15"/><circle cx="371.1" cy="60.5" r="1.15"/><circle cx="374.4" cy="102.1" r="1.15"/><circle cx="385.4" cy="80.0" r="1.15"/><circle cx="363.8" cy="86.7" r="1.15"/><circle cx="369.1" cy="88.4" r="1.15"/><circle cx="361.2" cy="104.6" r="1.15"/><circle cx="375.7" cy="96.4" r="1.15"/><circle cx="382.4" cy="77.1" r="1.15"/><circle cx="362.9" cy="80.9" r="1.15"/><circle cx="366.8" cy="86.7" r="1.15"/><circle cx="350.5" cy="100.8" r="1.15"/><circle cx="377.9" cy="101.2" r="1.15"/><circle cx="374.7" cy="104.0" r="1.15"/><circle cx="370.2" cy="92.2" r="1.15"/><circle cx="350.5" cy="104.0" r="1.15"/><circle cx="345.2" cy="101.4" r="1.15"/><circle cx="356.3" cy="89.3" r="1.15"/><circle cx="346.4" cy="104.5" r="1.15"/><circle cx="343.4" cy="100.7" r="1.15"/><circle cx="368.4" cy="88.4" r="1.15"/><circle cx="350.1" cy="104.8" r="1.15"/><circle cx="357.5" cy="95.7" r="1.15"/><circle cx="366.6" cy="87.9" r="1.15"/><circle cx="343.8" cy="103.4" r="1.15"/><circle cx="359.9" cy="100.6" r="1.15"/><circle cx="347.8" cy="102.3" r="1.15"/><circle cx="380.0" cy="90.1" r="1.15"/><circle cx="375.6" cy="77.1" r="1.15"/><circle cx="350.3" cy="97.5" r="1.15"/><circle cx="339.6" cy="101.0" r="1.15"/><circle cx="369.8" cy="82.0" r="1.15"/><circle cx="368.8" cy="76.1" r="1.15"/><circle cx="377.0" cy="97.9" r="1.15"/><circle cx="348.3" cy="103.9" r="1.15"/><circle cx="372.9" cy="64.2" r="1.15"/><circle cx="374.3" cy="76.6" r="1.15"/><circle cx="360.1" cy="93.5" r="1.15"/><circle cx="371.9" cy="64.7" r="1.15"/><circle cx="375.5" cy="96.3" r="1.15"/><circle cx="321.7" cy="104.0" r="1.15"/><circle cx="373.5" cy="75.2" r="1.15"/><circle cx="368.4" cy="84.7" r="1.15"/><circle cx="371.6" cy="93.2" r="1.15"/><circle cx="340.8" cy="103.0" r="1.15"/><circle cx="372.0" cy="82.8" r="1.15"/><circle cx="358.4" cy="85.3" r="1.15"/><circle cx="361.1" cy="89.7" r="1.15"/><circle cx="351.5" cy="104.0" r="1.15"/><circle cx="387.5" cy="96.9" r="1.15"/><circle cx="382.5" cy="104.6" r="1.15"/><circle cx="337.2" cy="104.9" r="1.15"/><circle cx="340.8" cy="104.1" r="1.15"/><circle cx="358.1" cy="89.7" r="1.15"/><circle cx="363.5" cy="68.1" r="1.15"/><circle cx="363.8" cy="78.9" r="1.15"/><circle cx="347.0" cy="103.5" r="1.15"/><circle cx="383.6" cy="96.3" r="1.15"/><circle cx="369.8" cy="102.7" r="1.15"/><circle cx="355.2" cy="105.0" r="1.15"/><circle cx="380.4" cy="86.6" r="1.15"/><circle cx="371.2" cy="104.2" r="1.15"/><circle cx="363.1" cy="72.5" r="1.15"/><circle cx="372.3" cy="99.2" r="1.15"/><circle cx="363.6" cy="93.9" r="1.15"/><circle cx="329.3" cy="104.9" r="1.15"/><circle cx="369.7" cy="102.2" r="1.15"/><circle cx="377.5" cy="74.7" r="1.15"/><circle cx="399.6" cy="99.3" r="1.15"/><circle cx="383.5" cy="100.5" r="1.15"/><circle cx="363.2" cy="92.0" r="1.15"/><circle cx="371.8" cy="75.8" r="1.15"/><circle cx="375.7" cy="101.8" r="1.15"/><circle cx="351.3" cy="91.2" r="1.15"/><circle cx="371.5" cy="75.8" r="1.15"/><circle cx="362.3" cy="102.3" r="1.15"/><circle cx="390.1" cy="101.1" r="1.15"/><circle cx="395.3" cy="103.4" r="1.15"/><circle cx="384.6" cy="90.4" r="1.15"/><circle cx="361.8" cy="100.6" r="1.15"/><circle cx="384.0" cy="88.7" r="1.15"/><circle cx="357.9" cy="83.0" r="1.15"/><circle cx="325.9" cy="104.9" r="1.15"/><circle cx="348.4" cy="93.2" r="1.15"/><circle cx="353.4" cy="98.9" r="1.15"/><circle cx="357.0" cy="99.6" r="1.15"/><circle cx="373.2" cy="100.2" r="1.15"/><circle cx="383.4" cy="76.2" r="1.15"/><circle cx="353.8" cy="92.6" r="1.15"/><circle cx="371.5" cy="91.4" r="1.15"/><circle cx="348.1" cy="99.2" r="1.15"/><circle cx="374.8" cy="64.4" r="1.15"/><circle cx="348.6" cy="96.2" r="1.15"/><circle cx="363.4" cy="72.8" r="1.15"/><circle cx="378.0" cy="89.4" r="1.15"/><circle cx="344.9" cy="103.5" r="1.15"/><circle cx="390.0" cy="98.8" r="1.15"/><circle cx="330.4" cy="104.2" r="1.15"/><circle cx="357.1" cy="103.5" r="1.15"/><circle cx="357.7" cy="101.9" r="1.15"/><circle cx="374.5" cy="96.4" r="1.15"/><circle cx="345.2" cy="100.9" r="1.15"/><circle cx="373.1" cy="65.6" r="1.15"/><circle cx="364.3" cy="100.7" r="1.15"/><circle cx="355.5" cy="87.7" r="1.15"/><circle cx="351.9" cy="98.6" r="1.15"/><circle cx="386.6" cy="94.7" r="1.15"/><circle cx="350.7" cy="101.6" r="1.15"/><circle cx="340.8" cy="102.6" r="1.15"/><circle cx="376.7" cy="71.3" r="1.15"/><circle cx="375.3" cy="98.5" r="1.15"/><circle cx="368.3" cy="71.3" r="1.15"/><circle cx="375.5" cy="81.5" r="1.15"/><circle cx="362.7" cy="98.0" r="1.15"/><circle cx="366.3" cy="88.6" r="1.15"/><circle cx="371.6" cy="92.5" r="1.15"/><circle cx="356.0" cy="88.7" r="1.15"/><circle cx="365.1" cy="95.7" r="1.15"/><circle cx="376.2" cy="104.4" r="1.15"/><circle cx="365.7" cy="93.0" r="1.15"/><circle cx="384.4" cy="85.8" r="1.15"/><circle cx="374.0" cy="103.9" r="1.15"/><circle cx="373.0" cy="102.9" r="1.15"/><circle cx="355.6" cy="90.8" r="1.15"/><circle cx="329.1" cy="104.8" r="1.15"/><circle cx="391.6" cy="104.9" r="1.15"/><circle cx="383.1" cy="89.9" r="1.15"/><circle cx="364.4" cy="96.2" r="1.15"/><circle cx="357.0" cy="91.8" r="1.15"/><circle cx="374.1" cy="73.4" r="1.15"/><circle cx="343.5" cy="100.5" r="1.15"/><circle cx="368.4" cy="74.5" r="1.15"/><circle cx="359.7" cy="85.3" r="1.15"/><circle cx="351.2" cy="102.9" r="1.15"/><circle cx="366.5" cy="99.9" r="1.15"/><circle cx="350.0" cy="96.7" r="1.15"/><circle cx="369.3" cy="67.1" r="1.15"/><circle cx="363.9" cy="102.3" r="1.15"/><circle cx="371.2" cy="68.9" r="1.15"/><circle cx="388.9" cy="103.1" r="1.15"/><circle cx="365.7" cy="82.0" r="1.15"/><circle cx="364.5" cy="100.4" r="1.15"/><circle cx="350.0" cy="92.8" r="1.15"/><circle cx="341.8" cy="104.3" r="1.15"/><circle cx="330.5" cy="104.1" r="1.15"/><circle cx="380.6" cy="67.6" r="1.15"/><circle cx="375.2" cy="104.3" r="1.15"/><circle cx="366.7" cy="76.7" r="1.15"/><circle cx="365.8" cy="98.2" r="1.15"/><circle cx="371.5" cy="101.9" r="1.15"/><circle cx="364.5" cy="88.7" r="1.15"/><circle cx="337.2" cy="104.4" r="1.15"/><circle cx="363.2" cy="77.4" r="1.15"/><circle cx="363.8" cy="89.2" r="1.15"/><circle cx="376.4" cy="98.2" r="1.15"/><circle cx="352.3" cy="90.1" r="1.15"/><circle cx="344.2" cy="103.8" r="1.15"/><circle cx="352.6" cy="92.4" r="1.15"/><circle cx="386.0" cy="102.1" r="1.15"/><circle cx="374.4" cy="97.8" r="1.15"/><circle cx="354.7" cy="98.0" r="1.15"/><circle cx="369.6" cy="64.0" r="1.15"/><circle cx="351.8" cy="99.0" r="1.15"/><circle cx="373.9" cy="76.6" r="1.15"/><circle cx="354.1" cy="101.4" r="1.15"/><circle cx="362.4" cy="89.5" r="1.15"/><circle cx="350.9" cy="104.8" r="1.15"/><circle cx="347.3" cy="97.9" r="1.15"/><circle cx="367.2" cy="97.9" r="1.15"/><circle cx="337.0" cy="103.9" r="1.15"/><circle cx="361.8" cy="87.3" r="1.15"/><circle cx="382.9" cy="89.0" r="1.15"/><circle cx="376.1" cy="92.6" r="1.15"/><circle cx="357.2" cy="85.4" r="1.15"/><circle cx="341.7" cy="104.6" r="1.15"/><circle cx="360.2" cy="99.7" r="1.15"/><circle cx="334.6" cy="103.7" r="1.15"/><circle cx="346.6" cy="102.9" r="1.15"/><circle cx="383.8" cy="95.0" r="1.15"/><circle cx="369.5" cy="103.9" r="1.15"/><circle cx="376.9" cy="73.5" r="1.15"/><circle cx="353.5" cy="99.5" r="1.15"/><circle cx="366.2" cy="104.3" r="1.15"/><circle cx="351.1" cy="98.1" r="1.15"/><circle cx="347.9" cy="102.0" r="1.15"/><circle cx="395.9" cy="102.2" r="1.15"/><circle cx="366.0" cy="69.0" r="1.15"/><circle cx="361.7" cy="88.6" r="1.15"/><circle cx="345.2" cy="104.3" r="1.15"/><circle cx="340.8" cy="102.1" r="1.15"/><circle cx="338.1" cy="105.2" r="1.15"/><circle cx="372.6" cy="96.3" r="1.15"/><circle cx="342.2" cy="105.0" r="1.15"/><circle cx="355.1" cy="90.3" r="1.15"/><circle cx="358.5" cy="90.7" r="1.15"/><circle cx="371.1" cy="100.1" r="1.15"/><circle cx="376.8" cy="98.8" r="1.15"/><circle cx="375.5" cy="75.7" r="1.15"/><circle cx="352.7" cy="104.1" r="1.15"/><circle cx="366.2" cy="74.8" r="1.15"/><circle cx="372.5" cy="86.5" r="1.15"/><circle cx="343.0" cy="104.0" r="1.15"/><circle cx="347.0" cy="102.6" r="1.15"/><circle cx="379.9" cy="105.3" r="1.15"/><circle cx="330.0" cy="105.1" r="1.15"/><circle cx="342.9" cy="100.6" r="1.15"/><circle cx="387.4" cy="104.7" r="1.15"/><circle cx="352.0" cy="95.6" r="1.15"/><circle cx="374.7" cy="92.2" r="1.15"/><circle cx="375.6" cy="100.2" r="1.15"/><circle cx="361.5" cy="71.6" r="1.15"/><circle cx="341.9" cy="100.6" r="1.15"/><circle cx="363.5" cy="78.3" r="1.15"/><circle cx="339.0" cy="102.0" r="1.15"/><circle cx="371.2" cy="71.0" r="1.15"/><circle cx="335.5" cy="103.5" r="1.15"/><circle cx="374.1" cy="104.6" r="1.15"/><circle cx="364.3" cy="71.6" r="1.15"/><circle cx="365.8" cy="94.2" r="1.15"/><circle cx="385.0" cy="97.9" r="1.15"/><circle cx="372.7" cy="103.4" r="1.15"/><circle cx="375.4" cy="102.6" r="1.15"/><circle cx="371.1" cy="86.0" r="1.15"/><circle cx="340.8" cy="103.0" r="1.15"/><circle cx="369.8" cy="85.7" r="1.15"/><circle cx="378.4" cy="101.7" r="1.15"/><circle cx="365.8" cy="75.8" r="1.15"/><circle cx="353.2" cy="87.7" r="1.15"/><circle cx="356.8" cy="83.4" r="1.15"/><circle cx="360.9" cy="95.5" r="1.15"/><circle cx="344.5" cy="105.2" r="1.15"/><circle cx="357.7" cy="96.7" r="1.15"/><circle cx="378.5" cy="89.9" r="1.15"/><circle cx="388.0" cy="93.9" r="1.15"/><circle cx="366.4" cy="75.3" r="1.15"/><circle cx="340.1" cy="101.5" r="1.15"/><circle cx="345.5" cy="103.8" r="1.15"/><circle cx="378.9" cy="91.8" r="1.15"/><circle cx="363.5" cy="90.2" r="1.15"/><circle cx="360.7" cy="99.5" r="1.15"/><circle cx="388.8" cy="102.7" r="1.15"/><circle cx="357.0" cy="79.0" r="1.15"/><circle cx="359.4" cy="90.3" r="1.15"/><circle cx="386.4" cy="95.6" r="1.15"/><circle cx="382.5" cy="97.0" r="1.15"/><circle cx="356.2" cy="95.1" r="1.15"/><circle cx="355.2" cy="99.1" r="1.15"/><circle cx="367.6" cy="104.4" r="1.15"/><circle cx="341.9" cy="105.3" r="1.15"/><circle cx="354.1" cy="103.7" r="1.15"/><circle cx="362.5" cy="102.3" r="1.15"/><circle cx="332.4" cy="104.6" r="1.15"/><circle cx="343.0" cy="101.4" r="1.15"/><circle cx="334.9" cy="104.6" r="1.15"/><circle cx="387.6" cy="102.0" r="1.15"/><circle cx="340.4" cy="103.6" r="1.15"/><circle cx="358.3" cy="97.7" r="1.15"/><circle cx="379.5" cy="94.4" r="1.15"/><circle cx="375.6" cy="93.3" r="1.15"/><circle cx="356.5" cy="99.9" r="1.15"/><circle cx="365.8" cy="104.7" r="1.15"/><circle cx="358.5" cy="97.4" r="1.15"/><circle cx="373.0" cy="80.0" r="1.15"/><circle cx="352.3" cy="100.8" r="1.15"/><circle cx="379.1" cy="104.2" r="1.15"/><circle cx="375.1" cy="95.9" r="1.15"/><circle cx="365.6" cy="99.6" r="1.15"/><circle cx="402.2" cy="104.1" r="1.15"/><circle cx="380.2" cy="74.4" r="1.15"/><circle cx="364.6" cy="93.3" r="1.15"/><circle cx="361.2" cy="100.6" r="1.15"/><circle cx="349.1" cy="102.6" r="1.15"/><circle cx="358.7" cy="103.9" r="1.15"/><circle cx="388.8" cy="103.1" r="1.15"/><circle cx="342.9" cy="99.5" r="1.15"/><circle cx="335.6" cy="104.4" r="1.15"/><circle cx="367.6" cy="100.8" r="1.15"/><circle cx="340.4" cy="104.8" r="1.15"/><circle cx="347.1" cy="102.8" r="1.15"/><circle cx="346.8" cy="103.5" r="1.15"/><circle cx="376.0" cy="92.4" r="1.15"/><circle cx="375.3" cy="74.7" r="1.15"/><circle cx="337.7" cy="103.2" r="1.15"/><circle cx="347.9" cy="95.3" r="1.15"/><circle cx="368.1" cy="104.1" r="1.15"/><circle cx="339.6" cy="102.1" r="1.15"/><circle cx="377.7" cy="77.6" r="1.15"/><circle cx="363.3" cy="103.9" r="1.15"/><circle cx="380.8" cy="103.3" r="1.15"/><circle cx="363.8" cy="76.3" r="1.15"/><circle cx="366.6" cy="88.3" r="1.15"/><circle cx="352.9" cy="104.5" r="1.15"/><circle cx="337.0" cy="104.6" r="1.15"/><circle cx="372.8" cy="104.3" r="1.15"/><circle cx="368.5" cy="91.4" r="1.15"/><circle cx="353.5" cy="88.1" r="1.15"/><circle cx="369.6" cy="77.8" r="1.15"/><circle cx="348.7" cy="95.2" r="1.15"/><circle cx="339.3" cy="104.6" r="1.15"/><circle cx="361.6" cy="87.3" r="1.15"/><circle cx="337.7" cy="104.0" r="1.15"/><circle cx="363.1" cy="99.9" r="1.15"/><circle cx="357.0" cy="99.3" r="1.15"/><circle cx="368.4" cy="102.2" r="1.15"/><circle cx="367.2" cy="101.1" r="1.15"/><circle cx="383.1" cy="93.9" r="1.15"/><circle cx="370.0" cy="62.4" r="1.15"/><circle cx="351.5" cy="91.4" r="1.15"/><circle cx="348.7" cy="101.2" r="1.15"/><circle cx="346.5" cy="104.8" r="1.15"/><circle cx="347.0" cy="97.2" r="1.15"/><circle cx="356.9" cy="94.6" r="1.15"/><circle cx="349.0" cy="103.0" r="1.15"/><circle cx="380.2" cy="100.8" r="1.15"/><circle cx="376.4" cy="103.4" r="1.15"/><circle cx="363.4" cy="95.0" r="1.15"/><circle cx="331.2" cy="104.9" r="1.15"/><circle cx="395.5" cy="101.8" r="1.15"/><circle cx="390.4" cy="94.8" r="1.15"/><circle cx="337.2" cy="104.1" r="1.15"/><circle cx="364.9" cy="94.9" r="1.15"/><circle cx="361.9" cy="85.7" r="1.15"/><circle cx="352.7" cy="92.4" r="1.15"/><circle cx="358.2" cy="92.4" r="1.15"/><circle cx="354.1" cy="101.9" r="1.15"/><circle cx="333.3" cy="104.6" r="1.15"/><circle cx="381.4" cy="93.9" r="1.15"/><circle cx="352.0" cy="100.1" r="1.15"/><circle cx="387.9" cy="102.1" r="1.15"/><circle cx="369.7" cy="97.1" r="1.15"/><circle cx="351.1" cy="101.7" r="1.15"/><circle cx="365.7" cy="90.9" r="1.15"/><circle cx="346.4" cy="102.0" r="1.15"/><circle cx="377.0" cy="81.7" r="1.15"/><circle cx="339.0" cy="104.1" r="1.15"/><circle cx="377.5" cy="79.4" r="1.15"/><circle cx="361.8" cy="86.5" r="1.15"/><circle cx="358.7" cy="86.2" r="1.15"/><circle cx="377.5" cy="93.8" r="1.15"/><circle cx="366.5" cy="104.8" r="1.15"/><circle cx="361.2" cy="98.2" r="1.15"/><circle cx="360.8" cy="83.8" r="1.15"/><circle cx="372.4" cy="73.3" r="1.15"/><circle cx="342.3" cy="101.6" r="1.15"/><circle cx="380.9" cy="90.0" r="1.15"/><circle cx="352.1" cy="100.0" r="1.15"/><circle cx="371.8" cy="91.1" r="1.15"/><circle cx="354.7" cy="93.3" r="1.15"/><circle cx="345.9" cy="104.1" r="1.15"/><circle cx="340.9" cy="102.4" r="1.15"/><circle cx="372.9" cy="79.7" r="1.15"/><circle cx="351.9" cy="93.1" r="1.15"/><circle cx="366.3" cy="92.9" r="1.15"/><circle cx="387.8" cy="82.8" r="1.15"/><circle cx="341.3" cy="103.7" r="1.15"/><circle cx="351.3" cy="94.0" r="1.15"/><circle cx="355.6" cy="100.6" r="1.15"/><circle cx="363.9" cy="101.5" r="1.15"/><circle cx="349.5" cy="97.4" r="1.15"/><circle cx="353.9" cy="103.5" r="1.15"/><circle cx="358.1" cy="103.8" r="1.15"/><circle cx="368.1" cy="72.5" r="1.15"/><circle cx="373.9" cy="87.2" r="1.15"/><circle cx="375.6" cy="95.9" r="1.15"/><circle cx="386.7" cy="95.0" r="1.15"/><circle cx="366.7" cy="78.1" r="1.15"/><circle cx="365.4" cy="81.5" r="1.15"/><circle cx="355.7" cy="93.7" r="1.15"/><circle cx="367.2" cy="98.7" r="1.15"/><circle cx="358.8" cy="77.3" r="1.15"/><circle cx="369.0" cy="93.3" r="1.15"/><circle cx="338.8" cy="105.0" r="1.15"/><circle cx="402.3" cy="102.7" r="1.15"/><circle cx="370.8" cy="75.7" r="1.15"/><circle cx="357.7" cy="89.1" r="1.15"/><circle cx="376.5" cy="89.1" r="1.15"/><circle cx="363.3" cy="95.6" r="1.15"/><circle cx="359.8" cy="87.9" r="1.15"/><circle cx="341.3" cy="101.8" r="1.15"/><circle cx="362.2" cy="97.6" r="1.15"/><circle cx="354.2" cy="93.9" r="1.15"/><circle cx="336.2" cy="105.0" r="1.15"/><circle cx="368.0" cy="93.9" r="1.15"/><circle cx="390.6" cy="97.4" r="1.15"/><circle cx="352.5" cy="104.6" r="1.15"/><circle cx="343.3" cy="104.7" r="1.15"/><circle cx="363.7" cy="76.3" r="1.15"/><circle cx="368.3" cy="65.9" r="1.15"/><circle cx="375.9" cy="93.9" r="1.15"/><circle cx="364.3" cy="77.7" r="1.15"/><circle cx="384.4" cy="105.0" r="1.15"/><circle cx="338.0" cy="104.0" r="1.15"/><circle cx="353.9" cy="104.4" r="1.15"/><circle cx="359.6" cy="101.8" r="1.15"/><circle cx="369.9" cy="94.6" r="1.15"/><circle cx="382.7" cy="99.9" r="1.15"/><circle cx="365.4" cy="81.0" r="1.15"/><circle cx="360.6" cy="87.4" r="1.15"/><circle cx="392.3" cy="95.6" r="1.15"/><circle cx="375.1" cy="102.6" r="1.15"/><circle cx="360.9" cy="78.6" r="1.15"/><circle cx="346.6" cy="103.8" r="1.15"/><circle cx="355.0" cy="103.5" r="1.15"/><circle cx="359.8" cy="92.4" r="1.15"/><circle cx="367.3" cy="71.0" r="1.15"/><circle cx="360.7" cy="104.3" r="1.15"/><circle cx="370.3" cy="99.2" r="1.15"/><circle cx="348.4" cy="95.3" r="1.15"/><circle cx="378.5" cy="86.1" r="1.15"/><circle cx="366.6" cy="84.9" r="1.15"/><circle cx="369.5" cy="70.9" r="1.15"/><circle cx="381.8" cy="75.0" r="1.15"/><circle cx="371.2" cy="61.4" r="1.15"/><circle cx="353.7" cy="91.5" r="1.15"/><circle cx="352.6" cy="104.3" r="1.15"/><circle cx="350.4" cy="104.5" r="1.15"/><circle cx="385.2" cy="80.6" r="1.15"/><circle cx="338.8" cy="104.3" r="1.15"/><circle cx="376.7" cy="104.3" r="1.15"/><circle cx="371.2" cy="66.8" r="1.15"/><circle cx="355.1" cy="84.7" r="1.15"/><circle cx="380.5" cy="102.1" r="1.15"/><circle cx="341.0" cy="102.4" r="1.15"/><circle cx="340.5" cy="100.9" r="1.15"/><circle cx="363.1" cy="83.6" r="1.15"/><circle cx="350.5" cy="95.5" r="1.15"/><circle cx="360.3" cy="96.2" r="1.15"/><circle cx="334.8" cy="103.9" r="1.15"/><circle cx="378.5" cy="80.1" r="1.15"/><circle cx="360.6" cy="105.1" r="1.15"/><circle cx="358.6" cy="104.7" r="1.15"/><circle cx="363.7" cy="72.6" r="1.15"/><circle cx="363.1" cy="92.4" r="1.15"/><circle cx="378.5" cy="72.1" r="1.15"/><circle cx="366.9" cy="104.3" r="1.15"/><circle cx="370.7" cy="101.4" r="1.15"/><circle cx="375.7" cy="97.4" r="1.15"/><circle cx="390.1" cy="100.7" r="1.15"/><circle cx="369.0" cy="95.8" r="1.15"/><circle cx="370.8" cy="96.1" r="1.15"/><circle cx="346.4" cy="103.9" r="1.15"/><circle cx="360.7" cy="91.0" r="1.15"/><circle cx="379.7" cy="91.4" r="1.15"/><circle cx="356.6" cy="91.3" r="1.15"/><circle cx="353.0" cy="95.7" r="1.15"/><circle cx="383.2" cy="87.8" r="1.15"/><circle cx="396.6" cy="103.2" r="1.15"/><circle cx="369.1" cy="68.2" r="1.15"/><circle cx="350.1" cy="100.8" r="1.15"/><circle cx="338.2" cy="104.0" r="1.15"/><circle cx="363.0" cy="85.6" r="1.15"/><circle cx="352.8" cy="91.3" r="1.15"/><circle cx="362.2" cy="84.1" r="1.15"/><circle cx="354.6" cy="85.2" r="1.15"/><circle cx="365.2" cy="103.7" r="1.15"/><circle cx="346.3" cy="97.0" r="1.15"/><circle cx="368.0" cy="104.7" r="1.15"/><circle cx="389.4" cy="100.6" r="1.15"/><circle cx="360.4" cy="101.1" r="1.15"/><circle cx="361.3" cy="91.7" r="1.15"/><circle cx="357.0" cy="96.9" r="1.15"/><circle cx="351.6" cy="104.2" r="1.15"/><circle cx="361.1" cy="101.9" r="1.15"/><circle cx="362.8" cy="104.1" r="1.15"/><circle cx="341.1" cy="102.4" r="1.15"/><circle cx="353.6" cy="92.9" r="1.15"/><circle cx="381.3" cy="98.5" r="1.15"/><circle cx="370.5" cy="104.9" r="1.15"/><circle cx="335.5" cy="103.0" r="1.15"/><circle cx="374.5" cy="86.1" r="1.15"/><circle cx="379.3" cy="103.6" r="1.15"/><circle cx="339.4" cy="104.9" r="1.15"/><circle cx="337.9" cy="102.8" r="1.15"/><circle cx="357.2" cy="97.2" r="1.15"/><circle cx="363.0" cy="81.8" r="1.15"/><circle cx="351.0" cy="103.9" r="1.15"/><circle cx="378.3" cy="97.8" r="1.15"/><circle cx="348.4" cy="104.2" r="1.15"/><circle cx="357.7" cy="85.1" r="1.15"/><circle cx="366.9" cy="93.8" r="1.15"/><circle cx="372.1" cy="93.3" r="1.15"/><circle cx="348.8" cy="105.0" r="1.15"/><circle cx="354.6" cy="103.8" r="1.15"/><circle cx="377.2" cy="100.7" r="1.15"/><circle cx="354.8" cy="87.1" r="1.15"/><circle cx="364.6" cy="76.1" r="1.15"/><circle cx="364.5" cy="87.4" r="1.15"/><circle cx="346.2" cy="100.1" r="1.15"/><circle cx="361.4" cy="89.1" r="1.15"/><circle cx="361.0" cy="80.0" r="1.15"/><circle cx="375.4" cy="89.6" r="1.15"/><circle cx="342.6" cy="101.1" r="1.15"/><circle cx="381.6" cy="92.2" r="1.15"/><circle cx="336.9" cy="103.8" r="1.15"/><circle cx="342.8" cy="103.6" r="1.15"/><circle cx="375.8" cy="69.0" r="1.15"/><circle cx="374.1" cy="81.0" r="1.15"/><circle cx="355.2" cy="104.0" r="1.15"/><circle cx="362.1" cy="102.0" r="1.15"/><circle cx="345.9" cy="103.0" r="1.15"/><circle cx="356.9" cy="83.4" r="1.15"/><circle cx="373.7" cy="67.3" r="1.15"/><circle cx="338.6" cy="103.4" r="1.15"/><circle cx="320.8" cy="104.3" r="1.15"/><circle cx="369.8" cy="89.6" r="1.15"/><circle cx="352.7" cy="88.1" r="1.15"/><circle cx="332.6" cy="104.4" r="1.15"/><circle cx="367.7" cy="100.9" r="1.15"/><circle cx="360.2" cy="81.1" r="1.15"/><circle cx="361.1" cy="104.9" r="1.15"/><circle cx="365.0" cy="68.8" r="1.15"/><circle cx="360.6" cy="85.8" r="1.15"/><circle cx="360.0" cy="101.1" r="1.15"/><circle cx="355.0" cy="86.8" r="1.15"/><circle cx="328.4" cy="105.1" r="1.15"/><circle cx="346.0" cy="104.4" r="1.15"/><circle cx="343.4" cy="103.9" r="1.15"/><circle cx="359.7" cy="92.6" r="1.15"/><circle cx="334.8" cy="104.8" r="1.15"/><circle cx="370.9" cy="64.2" r="1.15"/><circle cx="360.6" cy="98.5" r="1.15"/><circle cx="361.1" cy="88.9" r="1.15"/><circle cx="352.9" cy="102.0" r="1.15"/><circle cx="327.9" cy="105.0" r="1.15"/><circle cx="330.3" cy="104.3" r="1.15"/><circle cx="361.3" cy="102.1" r="1.15"/><circle cx="358.4" cy="89.1" r="1.15"/><circle cx="357.8" cy="104.9" r="1.15"/><circle cx="364.8" cy="74.0" r="1.15"/><circle cx="369.0" cy="102.8" r="1.15"/><circle cx="344.1" cy="100.8" r="1.15"/><circle cx="334.7" cy="103.2" r="1.15"/><circle cx="375.6" cy="93.6" r="1.15"/><circle cx="344.1" cy="104.1" r="1.15"/><circle cx="359.4" cy="90.6" r="1.15"/><circle cx="332.0" cy="104.8" r="1.15"/><circle cx="352.9" cy="95.3" r="1.15"/><circle cx="367.3" cy="91.9" r="1.15"/><circle cx="374.9" cy="78.2" r="1.15"/><circle cx="355.1" cy="98.4" r="1.15"/><circle cx="346.8" cy="98.4" r="1.15"/><circle cx="344.4" cy="104.0" r="1.15"/><circle cx="364.5" cy="103.9" r="1.15"/><circle cx="372.0" cy="95.1" r="1.15"/><circle cx="367.6" cy="81.5" r="1.15"/><circle cx="350.5" cy="104.0" r="1.15"/><circle cx="385.3" cy="103.8" r="1.15"/><circle cx="324.7" cy="105.1" r="1.15"/><circle cx="383.1" cy="80.6" r="1.15"/><circle cx="367.3" cy="94.4" r="1.15"/><circle cx="366.8" cy="75.3" r="1.15"/><circle cx="371.2" cy="99.4" r="1.15"/><circle cx="372.1" cy="94.6" r="1.15"/><circle cx="380.0" cy="94.0" r="1.15"/><circle cx="371.8" cy="85.1" r="1.15"/><circle cx="336.8" cy="104.8" r="1.15"/><circle cx="348.8" cy="98.4" r="1.15"/><circle cx="372.8" cy="94.4" r="1.15"/><circle cx="328.8" cy="104.2" r="1.15"/><circle cx="328.3" cy="104.4" r="1.15"/><circle cx="335.3" cy="104.9" r="1.15"/><circle cx="350.3" cy="100.7" r="1.15"/><circle cx="376.4" cy="70.2" r="1.15"/><circle cx="378.2" cy="103.3" r="1.15"/><circle cx="369.9" cy="96.1" r="1.15"/><circle cx="372.0" cy="84.6" r="1.15"/><circle cx="360.0" cy="94.0" r="1.15"/><circle cx="360.6" cy="89.2" r="1.15"/><circle cx="348.8" cy="105.1" r="1.15"/><circle cx="399.3" cy="103.1" r="1.15"/><circle cx="363.7" cy="104.9" r="1.15"/><circle cx="360.0" cy="83.2" r="1.15"/><circle cx="358.5" cy="102.4" r="1.15"/><circle cx="365.0" cy="99.3" r="1.15"/><circle cx="372.8" cy="104.1" r="1.15"/><circle cx="356.1" cy="81.6" r="1.15"/><circle cx="383.9" cy="80.0" r="1.15"/><circle cx="378.1" cy="100.4" r="1.15"/><circle cx="352.5" cy="91.6" r="1.15"/><circle cx="356.1" cy="102.5" r="1.15"/><circle cx="348.1" cy="99.2" r="1.15"/><circle cx="383.7" cy="90.0" r="1.15"/><circle cx="347.9" cy="100.5" r="1.15"/><circle cx="332.6" cy="103.7" r="1.15"/><circle cx="371.1" cy="78.4" r="1.15"/><circle cx="369.7" cy="85.3" r="1.15"/><circle cx="387.9" cy="105.2" r="1.15"/><circle cx="357.6" cy="104.9" r="1.15"/><circle cx="374.9" cy="102.4" r="1.15"/><circle cx="343.5" cy="102.1" r="1.15"/><circle cx="394.2" cy="91.3" r="1.15"/><circle cx="385.0" cy="92.1" r="1.15"/><circle cx="362.1" cy="102.9" r="1.15"/><circle cx="360.4" cy="78.9" r="1.15"/><circle cx="325.2" cy="105.2" r="1.15"/><circle cx="390.0" cy="104.8" r="1.15"/><circle cx="374.4" cy="75.8" r="1.15"/><circle cx="366.2" cy="103.5" r="1.15"/><circle cx="376.9" cy="88.3" r="1.15"/><circle cx="362.3" cy="89.8" r="1.15"/><circle cx="383.9" cy="74.3" r="1.15"/><circle cx="366.9" cy="99.1" r="1.15"/><circle cx="345.2" cy="101.6" r="1.15"/><circle cx="377.1" cy="67.4" r="1.15"/><circle cx="352.8" cy="97.0" r="1.15"/><circle cx="346.7" cy="103.1" r="1.15"/><circle cx="356.6" cy="89.6" r="1.15"/><circle cx="381.9" cy="74.2" r="1.15"/><circle cx="367.8" cy="100.1" r="1.15"/><circle cx="381.9" cy="92.8" r="1.15"/><circle cx="377.9" cy="101.3" r="1.15"/><circle cx="376.9" cy="81.7" r="1.15"/><circle cx="366.0" cy="104.8" r="1.15"/><circle cx="382.3" cy="88.9" r="1.15"/><circle cx="375.7" cy="81.9" r="1.15"/><circle cx="375.0" cy="90.1" r="1.15"/><circle cx="382.1" cy="103.2" r="1.15"/><circle cx="364.5" cy="101.2" r="1.15"/><circle cx="379.2" cy="74.7" r="1.15"/></g>
<g fill="#1a1a1a" fill-opacity="0.35"><circle cx="365.3" cy="102.8" r="0.9"/><circle cx="360.8" cy="105.2" r="0.9"/><circle cx="372.9" cy="103.7" r="0.9"/><circle cx="383.3" cy="104.7" r="0.9"/><circle cx="368.0" cy="104.3" r="0.9"/><circle cx="369.5" cy="105.0" r="0.9"/><circle cx="334.5" cy="105.3" r="0.9"/><circle cx="365.1" cy="105.3" r="0.9"/><circle cx="376.0" cy="101.8" r="0.9"/><circle cx="370.1" cy="105.2" r="0.9"/><circle cx="358.2" cy="99.9" r="0.9"/><circle cx="353.6" cy="103.4" r="0.9"/><circle cx="357.0" cy="103.4" r="0.9"/><circle cx="372.9" cy="102.3" r="0.9"/><circle cx="365.9" cy="103.2" r="0.9"/><circle cx="364.3" cy="101.9" r="0.9"/><circle cx="343.1" cy="103.4" r="0.9"/><circle cx="373.1" cy="103.4" r="0.9"/><circle cx="371.9" cy="104.8" r="0.9"/><circle cx="339.4" cy="104.2" r="0.9"/><circle cx="349.3" cy="104.0" r="0.9"/><circle cx="349.1" cy="102.5" r="0.9"/><circle cx="372.1" cy="105.3" r="0.9"/><circle cx="366.3" cy="100.5" r="0.9"/><circle cx="355.9" cy="104.6" r="0.9"/><circle cx="352.2" cy="103.4" r="0.9"/><circle cx="366.9" cy="99.2" r="0.9"/><circle cx="364.1" cy="101.9" r="0.9"/><circle cx="383.3" cy="105.5" r="0.9"/><circle cx="355.4" cy="100.1" r="0.9"/><circle cx="351.2" cy="104.6" r="0.9"/><circle cx="363.6" cy="102.4" r="0.9"/><circle cx="374.6" cy="105.1" r="0.9"/><circle cx="376.9" cy="105.1" r="0.9"/><circle cx="348.6" cy="103.9" r="0.9"/><circle cx="361.9" cy="100.6" r="0.9"/><circle cx="355.5" cy="101.3" r="0.9"/><circle cx="370.2" cy="101.5" r="0.9"/><circle cx="359.4" cy="104.6" r="0.9"/><circle cx="355.8" cy="102.2" r="0.9"/><circle cx="340.0" cy="104.7" r="0.9"/><circle cx="351.5" cy="105.0" r="0.9"/><circle cx="346.8" cy="103.2" r="0.9"/><circle cx="365.7" cy="98.9" r="0.9"/><circle cx="364.8" cy="104.8" r="0.9"/><circle cx="361.8" cy="103.2" r="0.9"/><circle cx="360.7" cy="102.2" r="0.9"/><circle cx="343.8" cy="104.7" r="0.9"/><circle cx="357.7" cy="102.3" r="0.9"/><circle cx="354.1" cy="105.1" r="0.9"/><circle cx="367.3" cy="103.8" r="0.9"/><circle cx="355.2" cy="99.9" r="0.9"/><circle cx="357.6" cy="105.2" r="0.9"/><circle cx="364.4" cy="100.6" r="0.9"/><circle cx="385.3" cy="105.1" r="0.9"/><circle cx="372.9" cy="101.9" r="0.9"/><circle cx="355.9" cy="101.7" r="0.9"/><circle cx="363.5" cy="105.5" r="0.9"/><circle cx="374.2" cy="105.5" r="0.9"/><circle cx="372.4" cy="104.2" r="0.9"/><circle cx="371.3" cy="105.0" r="0.9"/><circle cx="383.2" cy="105.5" r="0.9"/><circle cx="367.2" cy="103.5" r="0.9"/><circle cx="368.9" cy="99.1" r="0.9"/><circle cx="344.0" cy="104.1" r="0.9"/><circle cx="363.3" cy="103.9" r="0.9"/><circle cx="359.5" cy="100.8" r="0.9"/><circle cx="346.1" cy="105.3" r="0.9"/><circle cx="374.6" cy="101.7" r="0.9"/><circle cx="365.1" cy="104.6" r="0.9"/><circle cx="353.2" cy="99.8" r="0.9"/><circle cx="367.1" cy="101.6" r="0.9"/><circle cx="355.6" cy="104.7" r="0.9"/><circle cx="363.5" cy="104.4" r="0.9"/><circle cx="352.6" cy="102.8" r="0.9"/><circle cx="371.1" cy="105.1" r="0.9"/><circle cx="358.5" cy="98.4" r="0.9"/><circle cx="355.7" cy="105.3" r="0.9"/><circle cx="370.0" cy="102.7" r="0.9"/><circle cx="347.5" cy="104.5" r="0.9"/><circle cx="340.1" cy="103.2" r="0.9"/><circle cx="370.5" cy="101.2" r="0.9"/><circle cx="352.8" cy="105.1" r="0.9"/><circle cx="364.0" cy="97.7" r="0.9"/><circle cx="353.8" cy="101.6" r="0.9"/><circle cx="329.0" cy="104.9" r="0.9"/><circle cx="381.9" cy="104.0" r="0.9"/><circle cx="360.7" cy="99.4" r="0.9"/><circle cx="367.5" cy="99.9" r="0.9"/><circle cx="373.4" cy="101.5" r="0.9"/><circle cx="368.3" cy="100.0" r="0.9"/><circle cx="351.2" cy="102.8" r="0.9"/><circle cx="355.9" cy="99.2" r="0.9"/><circle cx="379.7" cy="104.9" r="0.9"/><circle cx="354.9" cy="104.5" r="0.9"/><circle cx="363.9" cy="101.0" r="0.9"/><circle cx="375.8" cy="104.3" r="0.9"/><circle cx="354.1" cy="100.4" r="0.9"/><circle cx="364.5" cy="104.3" r="0.9"/><circle cx="357.8" cy="103.5" r="0.9"/><circle cx="356.1" cy="103.3" r="0.9"/><circle cx="361.8" cy="101.5" r="0.9"/><circle cx="367.7" cy="104.5" r="0.9"/><circle cx="385.2" cy="105.3" r="0.9"/><circle cx="368.8" cy="101.3" r="0.9"/><circle cx="341.6" cy="104.1" r="0.9"/><circle cx="348.1" cy="105.4" r="0.9"/><circle cx="344.1" cy="102.2" r="0.9"/><circle cx="351.8" cy="104.9" r="0.9"/><circle cx="383.1" cy="104.6" r="0.9"/><circle cx="354.3" cy="99.8" r="0.9"/><circle cx="335.6" cy="104.9" r="0.9"/><circle cx="356.0" cy="104.9" r="0.9"/><circle cx="359.3" cy="100.0" r="0.9"/><circle cx="364.1" cy="98.5" r="0.9"/><circle cx="348.5" cy="105.5" r="0.9"/><circle cx="361.0" cy="101.7" r="0.9"/><circle cx="350.1" cy="104.9" r="0.9"/><circle cx="376.3" cy="103.1" r="0.9"/><circle cx="362.5" cy="105.5" r="0.9"/><circle cx="366.3" cy="103.4" r="0.9"/><circle cx="375.9" cy="104.5" r="0.9"/><circle cx="378.5" cy="102.8" r="0.9"/><circle cx="359.7" cy="102.6" r="0.9"/><circle cx="372.6" cy="103.9" r="0.9"/><circle cx="355.3" cy="99.9" r="0.9"/><circle cx="381.4" cy="105.1" r="0.9"/><circle cx="364.0" cy="98.6" r="0.9"/><circle cx="340.8" cy="104.3" r="0.9"/><circle cx="347.1" cy="104.9" r="0.9"/><circle cx="359.3" cy="105.2" r="0.9"/><circle cx="369.9" cy="104.2" r="0.9"/><circle cx="339.7" cy="105.4" r="0.9"/><circle cx="370.2" cy="100.1" r="0.9"/><circle cx="364.8" cy="104.8" r="0.9"/><circle cx="365.9" cy="104.8" r="0.9"/><circle cx="367.9" cy="103.3" r="0.9"/><circle cx="363.5" cy="99.8" r="0.9"/><circle cx="370.0" cy="104.5" r="0.9"/><circle cx="360.9" cy="105.4" r="0.9"/><circle cx="353.0" cy="102.0" r="0.9"/><circle cx="361.4" cy="104.0" r="0.9"/><circle cx="364.1" cy="98.5" r="0.9"/><circle cx="360.3" cy="101.2" r="0.9"/><circle cx="326.6" cy="104.7" r="0.9"/><circle cx="345.6" cy="104.9" r="0.9"/><circle cx="369.2" cy="105.5" r="0.9"/><circle cx="342.6" cy="103.9" r="0.9"/><circle cx="385.9" cy="104.8" r="0.9"/><circle cx="350.4" cy="105.4" r="0.9"/><circle cx="373.7" cy="103.8" r="0.9"/><circle cx="358.6" cy="100.4" r="0.9"/><circle cx="344.5" cy="104.7" r="0.9"/><circle cx="347.6" cy="105.5" r="0.9"/><circle cx="380.7" cy="103.7" r="0.9"/><circle cx="369.7" cy="105.5" r="0.9"/><circle cx="366.4" cy="101.5" r="0.9"/><circle cx="377.0" cy="104.7" r="0.9"/><circle cx="374.4" cy="101.0" r="0.9"/><circle cx="362.5" cy="105.5" r="0.9"/><circle cx="357.9" cy="105.1" r="0.9"/><circle cx="370.1" cy="105.3" r="0.9"/><circle cx="360.4" cy="99.7" r="0.9"/><circle cx="370.2" cy="100.7" r="0.9"/><circle cx="352.9" cy="99.9" r="0.9"/><circle cx="347.3" cy="103.5" r="0.9"/><circle cx="347.4" cy="105.0" r="0.9"/><circle cx="351.2" cy="102.7" r="0.9"/><circle cx="349.9" cy="104.6" r="0.9"/><circle cx="366.6" cy="102.4" r="0.9"/><circle cx="367.3" cy="105.5" r="0.9"/><circle cx="353.1" cy="101.5" r="0.9"/><circle cx="368.1" cy="102.5" r="0.9"/><circle cx="359.4" cy="103.1" r="0.9"/><circle cx="354.7" cy="105.5" r="0.9"/><circle cx="372.8" cy="104.9" r="0.9"/><circle cx="360.5" cy="104.6" r="0.9"/><circle cx="375.6" cy="101.9" r="0.9"/><circle cx="374.5" cy="103.6" r="0.9"/><circle cx="347.4" cy="104.4" r="0.9"/><circle cx="376.8" cy="105.1" r="0.9"/><circle cx="350.8" cy="105.3" r="0.9"/><circle cx="362.0" cy="97.8" r="0.9"/><circle cx="366.1" cy="105.3" r="0.9"/><circle cx="367.5" cy="105.5" r="0.9"/><circle cx="365.5" cy="104.7" r="0.9"/><circle cx="376.6" cy="103.1" r="0.9"/><circle cx="365.5" cy="99.7" r="0.9"/><circle cx="348.4" cy="105.4" r="0.9"/><circle cx="354.6" cy="103.6" r="0.9"/><circle cx="370.2" cy="101.1" r="0.9"/><circle cx="365.3" cy="102.2" r="0.9"/><circle cx="360.2" cy="101.7" r="0.9"/><circle cx="366.5" cy="105.5" r="0.9"/><circle cx="377.1" cy="105.5" r="0.9"/><circle cx="367.0" cy="103.7" r="0.9"/><circle cx="371.2" cy="104.5" r="0.9"/><circle cx="368.1" cy="102.9" r="0.9"/><circle cx="363.9" cy="105.1" r="0.9"/><circle cx="340.9" cy="105.5" r="0.9"/><circle cx="364.7" cy="102.3" r="0.9"/><circle cx="354.5" cy="102.7" r="0.9"/><circle cx="369.6" cy="105.2" r="0.9"/><circle cx="343.2" cy="105.2" r="0.9"/><circle cx="366.1" cy="103.7" r="0.9"/><circle cx="351.8" cy="105.2" r="0.9"/><circle cx="364.7" cy="100.0" r="0.9"/><circle cx="360.3" cy="101.1" r="0.9"/><circle cx="376.1" cy="103.2" r="0.9"/><circle cx="374.8" cy="102.4" r="0.9"/><circle cx="382.5" cy="105.5" r="0.9"/><circle cx="350.7" cy="105.0" r="0.9"/><circle cx="371.7" cy="105.4" r="0.9"/><circle cx="364.7" cy="101.8" r="0.9"/><circle cx="335.5" cy="105.4" r="0.9"/><circle cx="351.6" cy="103.5" r="0.9"/><circle cx="359.9" cy="104.0" r="0.9"/><circle cx="368.9" cy="105.4" r="0.9"/><circle cx="342.9" cy="104.9" r="0.9"/><circle cx="347.3" cy="103.3" r="0.9"/><circle cx="360.9" cy="103.9" r="0.9"/><circle cx="371.7" cy="103.0" r="0.9"/><circle cx="342.6" cy="102.6" r="0.9"/><circle cx="361.4" cy="101.6" r="0.9"/><circle cx="372.9" cy="103.6" r="0.9"/><circle cx="369.4" cy="104.4" r="0.9"/><circle cx="366.7" cy="102.8" r="0.9"/><circle cx="361.3" cy="99.9" r="0.9"/><circle cx="352.6" cy="105.5" r="0.9"/><circle cx="375.5" cy="103.5" r="0.9"/><circle cx="344.6" cy="105.4" r="0.9"/><circle cx="376.4" cy="104.7" r="0.9"/><circle cx="365.6" cy="105.3" r="0.9"/><circle cx="366.4" cy="105.5" r="0.9"/><circle cx="362.2" cy="102.2" r="0.9"/><circle cx="358.2" cy="102.3" r="0.9"/><circle cx="367.1" cy="104.9" r="0.9"/><circle cx="358.0" cy="105.0" r="0.9"/><circle cx="368.5" cy="102.8" r="0.9"/><circle cx="365.6" cy="98.1" r="0.9"/><circle cx="359.8" cy="99.9" r="0.9"/><circle cx="379.7" cy="103.6" r="0.9"/><circle cx="360.8" cy="101.7" r="0.9"/><circle cx="365.1" cy="102.3" r="0.9"/><circle cx="361.5" cy="98.4" r="0.9"/><circle cx="357.2" cy="102.8" r="0.9"/><circle cx="351.8" cy="105.0" r="0.9"/><circle cx="371.4" cy="102.9" r="0.9"/><circle cx="359.4" cy="104.8" r="0.9"/><circle cx="381.0" cy="103.4" r="0.9"/><circle cx="381.5" cy="105.5" r="0.9"/><circle cx="380.8" cy="103.6" r="0.9"/><circle cx="351.5" cy="103.0" r="0.9"/><circle cx="366.3" cy="104.9" r="0.9"/><circle cx="362.0" cy="103.4" r="0.9"/><circle cx="369.5" cy="103.3" r="0.9"/><circle cx="350.4" cy="105.1" r="0.9"/><circle cx="367.6" cy="105.1" r="0.9"/><circle cx="374.9" cy="102.5" r="0.9"/><circle cx="358.6" cy="104.0" r="0.9"/><circle cx="365.0" cy="103.2" r="0.9"/><circle cx="379.5" cy="104.4" r="0.9"/><circle cx="348.8" cy="104.1" r="0.9"/><circle cx="374.4" cy="101.2" r="0.9"/><circle cx="347.9" cy="101.8" r="0.9"/><circle cx="373.0" cy="104.3" r="0.9"/><circle cx="348.5" cy="101.8" r="0.9"/><circle cx="345.8" cy="104.5" r="0.9"/><circle cx="364.1" cy="102.3" r="0.9"/><circle cx="359.1" cy="102.4" r="0.9"/><circle cx="334.9" cy="105.5" r="0.9"/><circle cx="361.8" cy="105.5" r="0.9"/><circle cx="374.4" cy="101.0" r="0.9"/><circle cx="343.8" cy="105.3" r="0.9"/><circle cx="365.7" cy="101.2" r="0.9"/><circle cx="337.7" cy="105.0" r="0.9"/><circle cx="364.1" cy="97.9" r="0.9"/><circle cx="381.5" cy="104.4" r="0.9"/><circle cx="376.4" cy="104.6" r="0.9"/><circle cx="370.7" cy="104.5" r="0.9"/><circle cx="369.8" cy="102.0" r="0.9"/><circle cx="350.6" cy="103.9" r="0.9"/><circle cx="369.0" cy="101.4" r="0.9"/><circle cx="348.1" cy="104.2" r="0.9"/><circle cx="353.0" cy="104.9" r="0.9"/><circle cx="349.1" cy="105.3" r="0.9"/><circle cx="362.1" cy="103.4" r="0.9"/><circle cx="377.5" cy="104.2" r="0.9"/><circle cx="374.7" cy="104.5" r="0.9"/><circle cx="340.2" cy="103.5" r="0.9"/><circle cx="379.4" cy="105.2" r="0.9"/><circle cx="354.1" cy="102.8" r="0.9"/><circle cx="364.6" cy="101.8" r="0.9"/><circle cx="364.4" cy="101.6" r="0.9"/><circle cx="342.7" cy="105.0" r="0.9"/><circle cx="354.3" cy="105.4" r="0.9"/><circle cx="372.2" cy="105.0" r="0.9"/><circle cx="362.3" cy="104.7" r="0.9"/><circle cx="344.3" cy="102.7" r="0.9"/><circle cx="369.1" cy="105.4" r="0.9"/><circle cx="382.4" cy="105.4" r="0.9"/><circle cx="361.6" cy="103.1" r="0.9"/><circle cx="375.3" cy="101.3" r="0.9"/><circle cx="368.3" cy="98.9" r="0.9"/><circle cx="380.6" cy="104.3" r="0.9"/><circle cx="382.6" cy="104.3" r="0.9"/><circle cx="373.5" cy="103.9" r="0.9"/><circle cx="358.4" cy="105.2" r="0.9"/><circle cx="353.6" cy="101.8" r="0.9"/><circle cx="346.6" cy="104.2" r="0.9"/><circle cx="354.3" cy="105.3" r="0.9"/><circle cx="361.6" cy="98.5" r="0.9"/><circle cx="359.2" cy="98.7" r="0.9"/><circle cx="350.5" cy="104.2" r="0.9"/><circle cx="356.8" cy="103.4" r="0.9"/><circle cx="352.3" cy="105.1" r="0.9"/><circle cx="367.6" cy="105.5" r="0.9"/><circle cx="355.8" cy="105.4" r="0.9"/><circle cx="373.4" cy="102.4" r="0.9"/><circle cx="353.3" cy="105.5" r="0.9"/><circle cx="367.4" cy="102.9" r="0.9"/><circle cx="368.5" cy="101.8" r="0.9"/><circle cx="368.1" cy="105.0" r="0.9"/><circle cx="375.4" cy="104.2" r="0.9"/><circle cx="359.1" cy="99.2" r="0.9"/><circle cx="343.9" cy="102.4" r="0.9"/><circle cx="353.2" cy="105.2" r="0.9"/><circle cx="368.6" cy="98.9" r="0.9"/><circle cx="378.7" cy="104.1" r="0.9"/><circle cx="359.6" cy="101.7" r="0.9"/><circle cx="351.8" cy="103.8" r="0.9"/><circle cx="365.1" cy="100.3" r="0.9"/><circle cx="350.6" cy="105.4" r="0.9"/><circle cx="368.7" cy="103.6" r="0.9"/><circle cx="382.4" cy="105.3" r="0.9"/><circle cx="369.8" cy="101.0" r="0.9"/><circle cx="351.2" cy="103.7" r="0.9"/><circle cx="351.6" cy="101.7" r="0.9"/><circle cx="387.7" cy="105.5" r="0.9"/><circle cx="357.9" cy="99.0" r="0.9"/><circle cx="368.9" cy="102.9" r="0.9"/><circle cx="361.4" cy="100.1" r="0.9"/><circle cx="376.3" cy="103.6" r="0.9"/><circle cx="367.6" cy="104.3" r="0.9"/><circle cx="363.6" cy="98.5" r="0.9"/><circle cx="367.9" cy="100.2" r="0.9"/><circle cx="355.0" cy="100.4" r="0.9"/><circle cx="361.8" cy="99.6" r="0.9"/><circle cx="373.2" cy="101.3" r="0.9"/><circle cx="351.1" cy="100.6" r="0.9"/><circle cx="365.1" cy="102.6" r="0.9"/><circle cx="344.6" cy="104.6" r="0.9"/><circle cx="376.8" cy="101.7" r="0.9"/><circle cx="368.7" cy="103.3" r="0.9"/><circle cx="353.6" cy="102.9" r="0.9"/><circle cx="354.7" cy="105.4" r="0.9"/><circle cx="368.1" cy="100.2" r="0.9"/><circle cx="373.8" cy="103.6" r="0.9"/><circle cx="360.8" cy="98.9" r="0.9"/><circle cx="361.0" cy="98.7" r="0.9"/><circle cx="362.1" cy="104.8" r="0.9"/><circle cx="370.7" cy="105.4" r="0.9"/><circle cx="356.7" cy="105.3" r="0.9"/><circle cx="366.1" cy="99.4" r="0.9"/><circle cx="351.8" cy="102.4" r="0.9"/><circle cx="358.4" cy="100.0" r="0.9"/><circle cx="358.6" cy="101.3" r="0.9"/><circle cx="368.9" cy="103.2" r="0.9"/><circle cx="367.6" cy="105.4" r="0.9"/><circle cx="363.0" cy="104.8" r="0.9"/><circle cx="359.9" cy="100.6" r="0.9"/><circle cx="361.5" cy="104.9" r="0.9"/><circle cx="358.9" cy="102.0" r="0.9"/><circle cx="364.7" cy="102.7" r="0.9"/><circle cx="378.0" cy="105.2" r="0.9"/><circle cx="363.7" cy="104.0" r="0.9"/><circle cx="382.5" cy="105.3" r="0.9"/><circle cx="346.3" cy="102.4" r="0.9"/><circle cx="329.7" cy="105.1" r="0.9"/><circle cx="366.4" cy="105.5" r="0.9"/><circle cx="340.4" cy="104.6" r="0.9"/><circle cx="350.5" cy="104.0" r="0.9"/><circle cx="349.4" cy="104.3" r="0.9"/><circle cx="369.3" cy="101.8" r="0.9"/><circle cx="364.0" cy="101.3" r="0.9"/><circle cx="364.2" cy="103.0" r="0.9"/><circle cx="338.6" cy="105.2" r="0.9"/><circle cx="377.1" cy="105.1" r="0.9"/><circle cx="354.6" cy="104.0" r="0.9"/><circle cx="368.5" cy="103.3" r="0.9"/><circle cx="339.5" cy="103.5" r="0.9"/><circle cx="364.4" cy="97.2" r="0.9"/><circle cx="373.2" cy="100.9" r="0.9"/><circle cx="357.6" cy="104.8" r="0.9"/><circle cx="358.7" cy="104.3" r="0.9"/><circle cx="337.7" cy="105.4" r="0.9"/><circle cx="362.9" cy="105.3" r="0.9"/><circle cx="362.4" cy="102.6" r="0.9"/><circle cx="353.8" cy="100.5" r="0.9"/><circle cx="370.0" cy="103.6" r="0.9"/><circle cx="360.2" cy="105.5" r="0.9"/><circle cx="347.2" cy="102.1" r="0.9"/><circle cx="352.3" cy="104.4" r="0.9"/><circle cx="344.6" cy="105.0" r="0.9"/><circle cx="364.3" cy="97.7" r="0.9"/><circle cx="348.9" cy="104.3" r="0.9"/><circle cx="352.3" cy="104.4" r="0.9"/><circle cx="354.7" cy="102.2" r="0.9"/><circle cx="368.9" cy="103.2" r="0.9"/><circle cx="368.7" cy="102.7" r="0.9"/><circle cx="364.1" cy="105.0" r="0.9"/><circle cx="369.1" cy="102.0" r="0.9"/><circle cx="386.2" cy="104.6" r="0.9"/><circle cx="369.0" cy="105.4" r="0.9"/><circle cx="360.1" cy="104.3" r="0.9"/><circle cx="343.2" cy="105.3" r="0.9"/><circle cx="377.7" cy="105.4" r="0.9"/><circle cx="353.0" cy="102.4" r="0.9"/><circle cx="360.6" cy="104.5" r="0.9"/><circle cx="367.8" cy="103.3" r="0.9"/><circle cx="373.5" cy="103.2" r="0.9"/><circle cx="355.6" cy="99.7" r="0.9"/><circle cx="364.3" cy="105.2" r="0.9"/><circle cx="366.5" cy="102.0" r="0.9"/><circle cx="353.2" cy="100.9" r="0.9"/><circle cx="353.7" cy="103.3" r="0.9"/><circle cx="371.8" cy="102.0" r="0.9"/><circle cx="353.8" cy="105.3" r="0.9"/><circle cx="334.0" cy="105.1" r="0.9"/><circle cx="387.4" cy="105.1" r="0.9"/><circle cx="348.5" cy="104.8" r="0.9"/><circle cx="359.7" cy="101.6" r="0.9"/><circle cx="352.8" cy="103.6" r="0.9"/><circle cx="359.7" cy="105.5" r="0.9"/><circle cx="361.3" cy="103.3" r="0.9"/><circle cx="368.9" cy="102.1" r="0.9"/><circle cx="374.4" cy="101.4" r="0.9"/><circle cx="363.6" cy="99.4" r="0.9"/><circle cx="357.5" cy="102.0" r="0.9"/><circle cx="373.4" cy="101.3" r="0.9"/><circle cx="376.1" cy="103.0" r="0.9"/><circle cx="363.0" cy="104.8" r="0.9"/><circle cx="350.6" cy="103.3" r="0.9"/><circle cx="362.7" cy="105.3" r="0.9"/><circle cx="368.6" cy="99.4" r="0.9"/><circle cx="358.6" cy="101.7" r="0.9"/><circle cx="374.0" cy="105.4" r="0.9"/><circle cx="357.6" cy="101.8" r="0.9"/><circle cx="360.9" cy="104.9" r="0.9"/><circle cx="352.6" cy="105.3" r="0.9"/><circle cx="369.6" cy="101.5" r="0.9"/><circle cx="356.6" cy="100.2" r="0.9"/><circle cx="377.7" cy="104.4" r="0.9"/><circle cx="358.5" cy="104.4" r="0.9"/><circle cx="367.2" cy="102.0" r="0.9"/><circle cx="368.5" cy="102.9" r="0.9"/><circle cx="356.6" cy="105.5" r="0.9"/><circle cx="371.0" cy="105.3" r="0.9"/><circle cx="339.9" cy="104.6" r="0.9"/><circle cx="362.9" cy="100.1" r="0.9"/><circle cx="367.6" cy="100.6" r="0.9"/><circle cx="354.8" cy="104.9" r="0.9"/><circle cx="354.3" cy="104.4" r="0.9"/><circle cx="351.3" cy="103.8" r="0.9"/><circle cx="370.9" cy="105.5" r="0.9"/><circle cx="383.9" cy="104.9" r="0.9"/><circle cx="377.8" cy="105.3" r="0.9"/><circle cx="372.1" cy="102.5" r="0.9"/><circle cx="363.2" cy="105.3" r="0.9"/><circle cx="354.3" cy="104.5" r="0.9"/><circle cx="332.0" cy="105.2" r="0.9"/><circle cx="377.0" cy="104.7" r="0.9"/><circle cx="380.3" cy="103.0" r="0.9"/><circle cx="351.1" cy="101.8" r="0.9"/><circle cx="370.6" cy="105.5" r="0.9"/><circle cx="372.1" cy="105.3" r="0.9"/><circle cx="375.8" cy="105.2" r="0.9"/><circle cx="349.0" cy="104.6" r="0.9"/><circle cx="366.0" cy="103.6" r="0.9"/><circle cx="368.4" cy="105.3" r="0.9"/><circle cx="370.0" cy="102.1" r="0.9"/><circle cx="363.8" cy="102.2" r="0.9"/><circle cx="341.4" cy="102.9" r="0.9"/><circle cx="371.7" cy="102.4" r="0.9"/><circle cx="368.3" cy="99.6" r="0.9"/><circle cx="342.4" cy="104.2" r="0.9"/><circle cx="353.6" cy="103.9" r="0.9"/><circle cx="372.5" cy="100.4" r="0.9"/><circle cx="374.0" cy="101.7" r="0.9"/><circle cx="360.7" cy="98.3" r="0.9"/><circle cx="377.1" cy="102.7" r="0.9"/><circle cx="362.0" cy="100.8" r="0.9"/><circle cx="373.7" cy="103.8" r="0.9"/><circle cx="345.3" cy="101.9" r="0.9"/><circle cx="360.2" cy="101.1" r="0.9"/><circle cx="360.7" cy="105.0" r="0.9"/><circle cx="359.5" cy="99.7" r="0.9"/><circle cx="374.9" cy="104.4" r="0.9"/><circle cx="370.6" cy="100.7" r="0.9"/><circle cx="344.2" cy="104.3" r="0.9"/><circle cx="373.5" cy="103.5" r="0.9"/><circle cx="360.4" cy="103.5" r="0.9"/><circle cx="351.5" cy="102.6" r="0.9"/><circle cx="359.6" cy="104.8" r="0.9"/><circle cx="373.4" cy="103.3" r="0.9"/><circle cx="343.4" cy="105.4" r="0.9"/><circle cx="372.8" cy="103.7" r="0.9"/><circle cx="343.4" cy="104.7" r="0.9"/><circle cx="371.4" cy="102.4" r="0.9"/><circle cx="359.4" cy="102.0" r="0.9"/><circle cx="361.0" cy="102.9" r="0.9"/><circle cx="361.4" cy="100.4" r="0.9"/><circle cx="352.7" cy="102.2" r="0.9"/><circle cx="356.4" cy="102.7" r="0.9"/><circle cx="361.8" cy="105.2" r="0.9"/><circle cx="387.7" cy="105.0" r="0.9"/><circle cx="364.7" cy="98.8" r="0.9"/><circle cx="370.5" cy="100.0" r="0.9"/><circle cx="378.2" cy="103.8" r="0.9"/><circle cx="343.6" cy="103.9" r="0.9"/><circle cx="369.9" cy="104.0" r="0.9"/><circle cx="364.0" cy="104.5" r="0.9"/><circle cx="365.2" cy="102.2" r="0.9"/><circle cx="356.5" cy="102.5" r="0.9"/><circle cx="378.2" cy="102.2" r="0.9"/><circle cx="383.5" cy="104.2" r="0.9"/><circle cx="363.8" cy="103.0" r="0.9"/><circle cx="374.4" cy="102.7" r="0.9"/><circle cx="380.9" cy="104.8" r="0.9"/><circle cx="344.8" cy="104.5" r="0.9"/><circle cx="363.1" cy="105.2" r="0.9"/><circle cx="366.1" cy="101.4" r="0.9"/><circle cx="370.2" cy="104.7" r="0.9"/><circle cx="361.0" cy="103.9" r="0.9"/><circle cx="354.0" cy="105.5" r="0.9"/><circle cx="370.8" cy="102.6" r="0.9"/><circle cx="352.0" cy="105.5" r="0.9"/><circle cx="356.6" cy="99.2" r="0.9"/><circle cx="336.9" cy="104.3" r="0.9"/><circle cx="344.9" cy="105.5" r="0.9"/><circle cx="352.4" cy="104.4" r="0.9"/><circle cx="332.7" cy="105.4" r="0.9"/><circle cx="367.6" cy="98.5" r="0.9"/><circle cx="358.5" cy="105.1" r="0.9"/><circle cx="368.8" cy="99.4" r="0.9"/><circle cx="364.9" cy="100.4" r="0.9"/><circle cx="345.3" cy="102.6" r="0.9"/><circle cx="352.8" cy="105.4" r="0.9"/><circle cx="364.1" cy="99.3" r="0.9"/><circle cx="378.1" cy="105.5" r="0.9"/><circle cx="359.2" cy="99.5" r="0.9"/><circle cx="351.2" cy="105.5" r="0.9"/><circle cx="369.1" cy="101.3" r="0.9"/><circle cx="356.7" cy="100.1" r="0.9"/><circle cx="365.6" cy="99.5" r="0.9"/><circle cx="370.6" cy="103.3" r="0.9"/><circle cx="351.6" cy="104.2" r="0.9"/><circle cx="372.3" cy="105.0" r="0.9"/><circle cx="374.5" cy="102.6" r="0.9"/><circle cx="366.3" cy="100.2" r="0.9"/><circle cx="364.9" cy="102.3" r="0.9"/><circle cx="352.4" cy="104.4" r="0.9"/><circle cx="370.6" cy="105.5" r="0.9"/><circle cx="367.8" cy="101.6" r="0.9"/><circle cx="385.4" cy="104.8" r="0.9"/><circle cx="360.9" cy="99.2" r="0.9"/><circle cx="372.4" cy="102.8" r="0.9"/><circle cx="365.7" cy="103.7" r="0.9"/><circle cx="358.1" cy="101.8" r="0.9"/><circle cx="370.6" cy="105.2" r="0.9"/><circle cx="373.9" cy="103.5" r="0.9"/><circle cx="374.3" cy="105.1" r="0.9"/><circle cx="363.8" cy="104.6" r="0.9"/><circle cx="358.7" cy="103.8" r="0.9"/><circle cx="356.1" cy="104.4" r="0.9"/><circle cx="346.5" cy="102.1" r="0.9"/><circle cx="369.0" cy="102.3" r="0.9"/><circle cx="361.7" cy="105.5" r="0.9"/><circle cx="346.7" cy="105.4" r="0.9"/><circle cx="364.6" cy="105.2" r="0.9"/><circle cx="377.5" cy="105.4" r="0.9"/><circle cx="379.0" cy="105.4" r="0.9"/><circle cx="347.2" cy="102.5" r="0.9"/><circle cx="380.2" cy="103.2" r="0.9"/><circle cx="368.4" cy="99.1" r="0.9"/><circle cx="361.6" cy="99.8" r="0.9"/><circle cx="361.2" cy="105.4" r="0.9"/><circle cx="372.4" cy="104.5" r="0.9"/><circle cx="340.3" cy="103.7" r="0.9"/><circle cx="352.8" cy="103.4" r="0.9"/><circle cx="374.0" cy="105.3" r="0.9"/><circle cx="369.9" cy="105.2" r="0.9"/><circle cx="357.2" cy="102.2" r="0.9"/><circle cx="360.5" cy="98.7" r="0.9"/><circle cx="346.6" cy="102.0" r="0.9"/><circle cx="338.8" cy="104.9" r="0.9"/><circle cx="353.6" cy="104.4" r="0.9"/><circle cx="367.4" cy="100.5" r="0.9"/><circle cx="352.2" cy="101.8" r="0.9"/><circle cx="353.6" cy="102.3" r="0.9"/><circle cx="366.6" cy="104.3" r="0.9"/><circle cx="371.5" cy="105.2" r="0.9"/><circle cx="372.5" cy="103.0" r="0.9"/><circle cx="376.4" cy="101.8" r="0.9"/><circle cx="339.1" cy="104.0" r="0.9"/><circle cx="373.5" cy="104.3" r="0.9"/><circle cx="350.4" cy="100.6" r="0.9"/><circle cx="364.4" cy="98.3" r="0.9"/><circle cx="387.5" cy="104.3" r="0.9"/><circle cx="362.0" cy="104.1" r="0.9"/><circle cx="343.9" cy="105.5" r="0.9"/><circle cx="343.5" cy="105.4" r="0.9"/><circle cx="367.2" cy="101.9" r="0.9"/><circle cx="362.5" cy="98.3" r="0.9"/><circle cx="374.5" cy="102.2" r="0.9"/><circle cx="382.7" cy="105.0" r="0.9"/><circle cx="355.8" cy="105.4" r="0.9"/><circle cx="378.3" cy="105.1" r="0.9"/><circle cx="381.0" cy="105.5" r="0.9"/><circle cx="355.1" cy="105.5" r="0.9"/><circle cx="379.7" cy="104.3" r="0.9"/><circle cx="349.7" cy="100.7" r="0.9"/><circle cx="335.6" cy="105.2" r="0.9"/><circle cx="349.9" cy="101.2" r="0.9"/><circle cx="355.3" cy="104.2" r="0.9"/><circle cx="370.0" cy="101.7" r="0.9"/><circle cx="372.7" cy="103.8" r="0.9"/><circle cx="369.6" cy="100.8" r="0.9"/><circle cx="376.5" cy="105.1" r="0.9"/><circle cx="365.3" cy="104.8" r="0.9"/><circle cx="360.1" cy="101.3" r="0.9"/><circle cx="348.6" cy="103.7" r="0.9"/><circle cx="364.6" cy="100.3" r="0.9"/><circle cx="377.9" cy="102.8" r="0.9"/><circle cx="356.8" cy="101.5" r="0.9"/><circle cx="374.8" cy="104.7" r="0.9"/><circle cx="364.4" cy="102.4" r="0.9"/><circle cx="371.1" cy="103.2" r="0.9"/><circle cx="377.7" cy="103.7" r="0.9"/><circle cx="368.0" cy="102.2" r="0.9"/><circle cx="360.7" cy="105.3" r="0.9"/><circle cx="347.4" cy="101.5" r="0.9"/><circle cx="374.8" cy="102.4" r="0.9"/><circle cx="345.3" cy="104.4" r="0.9"/><circle cx="362.2" cy="104.8" r="0.9"/><circle cx="367.3" cy="103.5" r="0.9"/><circle cx="332.7" cy="105.3" r="0.9"/><circle cx="368.2" cy="100.9" r="0.9"/><circle cx="351.7" cy="105.4" r="0.9"/><circle cx="349.2" cy="102.5" r="0.9"/><circle cx="367.6" cy="105.5" r="0.9"/><circle cx="361.2" cy="100.3" r="0.9"/><circle cx="360.1" cy="100.6" r="0.9"/><circle cx="343.9" cy="103.7" r="0.9"/><circle cx="354.6" cy="100.1" r="0.9"/><circle cx="355.9" cy="104.1" r="0.9"/><circle cx="345.6" cy="102.8" r="0.9"/><circle cx="374.1" cy="104.7" r="0.9"/><circle cx="375.5" cy="105.4" r="0.9"/><circle cx="333.0" cy="104.8" r="0.9"/><circle cx="352.7" cy="101.2" r="0.9"/><circle cx="368.2" cy="99.5" r="0.9"/><circle cx="371.9" cy="105.3" r="0.9"/><circle cx="357.5" cy="105.0" r="0.9"/><circle cx="366.4" cy="105.2" r="0.9"/><circle cx="360.8" cy="100.6" r="0.9"/><circle cx="362.6" cy="104.7" r="0.9"/><circle cx="369.2" cy="101.9" r="0.9"/><circle cx="348.5" cy="103.2" r="0.9"/><circle cx="362.4" cy="104.4" r="0.9"/><circle cx="349.4" cy="105.3" r="0.9"/><circle cx="365.5" cy="98.5" r="0.9"/><circle cx="376.0" cy="104.0" r="0.9"/><circle cx="363.0" cy="105.2" r="0.9"/><circle cx="368.6" cy="103.0" r="0.9"/><circle cx="379.1" cy="103.9" r="0.9"/><circle cx="360.4" cy="102.3" r="0.9"/><circle cx="364.7" cy="99.9" r="0.9"/><circle cx="365.2" cy="104.0" r="0.9"/><circle cx="363.8" cy="103.0" r="0.9"/><circle cx="366.4" cy="101.1" r="0.9"/><circle cx="372.9" cy="103.9" r="0.9"/><circle cx="372.1" cy="104.2" r="0.9"/><circle cx="363.6" cy="104.3" r="0.9"/><circle cx="354.8" cy="104.8" r="0.9"/><circle cx="372.9" cy="104.9" r="0.9"/><circle cx="368.5" cy="100.4" r="0.9"/><circle cx="371.3" cy="104.0" r="0.9"/><circle cx="370.3" cy="101.8" r="0.9"/><circle cx="371.2" cy="105.4" r="0.9"/><circle cx="374.3" cy="102.4" r="0.9"/><circle cx="375.9" cy="105.0" r="0.9"/><circle cx="370.8" cy="103.8" r="0.9"/><circle cx="370.6" cy="100.1" r="0.9"/><circle cx="375.2" cy="104.9" r="0.9"/><circle cx="351.3" cy="103.9" r="0.9"/><circle cx="361.2" cy="98.2" r="0.9"/><circle cx="358.6" cy="100.2" r="0.9"/><circle cx="341.8" cy="103.5" r="0.9"/><circle cx="366.6" cy="104.5" r="0.9"/><circle cx="357.5" cy="101.6" r="0.9"/><circle cx="374.8" cy="102.8" r="0.9"/><circle cx="358.0" cy="104.8" r="0.9"/><circle cx="362.0" cy="103.7" r="0.9"/><circle cx="371.5" cy="103.6" r="0.9"/><circle cx="366.8" cy="101.1" r="0.9"/><circle cx="348.3" cy="104.8" r="0.9"/><circle cx="350.8" cy="103.3" r="0.9"/><circle cx="372.0" cy="105.2" r="0.9"/><circle cx="360.3" cy="104.5" r="0.9"/><circle cx="362.3" cy="105.3" r="0.9"/><circle cx="361.7" cy="100.8" r="0.9"/><circle cx="371.0" cy="105.2" r="0.9"/><circle cx="372.9" cy="104.3" r="0.9"/><circle cx="350.9" cy="104.0" r="0.9"/><circle cx="368.2" cy="105.4" r="0.9"/><circle cx="365.5" cy="100.3" r="0.9"/><circle cx="355.4" cy="102.2" r="0.9"/><circle cx="363.3" cy="98.1" r="0.9"/><circle cx="335.0" cy="105.0" r="0.9"/><circle cx="363.6" cy="102.6" r="0.9"/><circle cx="368.0" cy="98.5" r="0.9"/><circle cx="329.1" cy="105.4" r="0.9"/><circle cx="368.8" cy="103.1" r="0.9"/><circle cx="366.5" cy="105.1" r="0.9"/><circle cx="357.4" cy="104.0" r="0.9"/><circle cx="365.1" cy="105.3" r="0.9"/><circle cx="382.4" cy="104.5" r="0.9"/><circle cx="357.3" cy="105.4" r="0.9"/><circle cx="352.0" cy="100.3" r="0.9"/><circle cx="351.1" cy="103.7" r="0.9"/><circle cx="370.1" cy="105.5" r="0.9"/><circle cx="363.6" cy="99.9" r="0.9"/><circle cx="359.3" cy="105.2" r="0.9"/><circle cx="375.3" cy="105.1" r="0.9"/><circle cx="370.0" cy="103.5" r="0.9"/><circle cx="366.2" cy="104.4" r="0.9"/><circle cx="346.2" cy="101.6" r="0.9"/><circle cx="344.3" cy="105.5" r="0.9"/><circle cx="363.1" cy="102.3" r="0.9"/><circle cx="364.1" cy="97.3" r="0.9"/><circle cx="379.3" cy="102.6" r="0.9"/><circle cx="381.9" cy="103.6" r="0.9"/><circle cx="371.1" cy="102.3" r="0.9"/><circle cx="357.7" cy="105.5" r="0.9"/><circle cx="368.3" cy="102.1" r="0.9"/><circle cx="361.2" cy="98.6" r="0.9"/><circle cx="366.9" cy="105.1" r="0.9"/><circle cx="352.1" cy="102.8" r="0.9"/><circle cx="382.0" cy="105.2" r="0.9"/><circle cx="382.5" cy="105.4" r="0.9"/><circle cx="367.1" cy="98.4" r="0.9"/><circle cx="334.7" cy="105.4" r="0.9"/><circle cx="358.6" cy="104.8" r="0.9"/><circle cx="351.5" cy="101.0" r="0.9"/><circle cx="366.7" cy="103.3" r="0.9"/><circle cx="350.6" cy="105.0" r="0.9"/><circle cx="372.0" cy="102.0" r="0.9"/><circle cx="355.7" cy="105.2" r="0.9"/><circle cx="372.7" cy="103.9" r="0.9"/><circle cx="371.6" cy="102.6" r="0.9"/><circle cx="377.4" cy="103.0" r="0.9"/><circle cx="337.5" cy="105.1" r="0.9"/><circle cx="377.6" cy="103.7" r="0.9"/><circle cx="378.8" cy="105.2" r="0.9"/><circle cx="345.8" cy="105.5" r="0.9"/><circle cx="373.0" cy="101.6" r="0.9"/><circle cx="360.0" cy="104.4" r="0.9"/><circle cx="336.3" cy="104.1" r="0.9"/><circle cx="361.2" cy="104.8" r="0.9"/><circle cx="354.7" cy="99.8" r="0.9"/><circle cx="368.8" cy="101.7" r="0.9"/><circle cx="346.9" cy="105.2" r="0.9"/><circle cx="371.5" cy="105.1" r="0.9"/><circle cx="376.3" cy="105.3" r="0.9"/><circle cx="340.4" cy="104.6" r="0.9"/><circle cx="366.1" cy="103.9" r="0.9"/><circle cx="369.3" cy="103.8" r="0.9"/><circle cx="370.7" cy="105.5" r="0.9"/><circle cx="381.1" cy="105.5" r="0.9"/><circle cx="361.9" cy="104.7" r="0.9"/><circle cx="366.6" cy="103.6" r="0.9"/><circle cx="379.7" cy="105.3" r="0.9"/><circle cx="362.7" cy="99.9" r="0.9"/><circle cx="340.5" cy="105.2" r="0.9"/><circle cx="349.1" cy="105.2" r="0.9"/><circle cx="384.6" cy="105.3" r="0.9"/><circle cx="352.3" cy="102.4" r="0.9"/><circle cx="375.2" cy="103.2" r="0.9"/><circle cx="352.0" cy="103.2" r="0.9"/><circle cx="371.0" cy="104.5" r="0.9"/><circle cx="360.9" cy="104.8" r="0.9"/><circle cx="355.8" cy="99.2" r="0.9"/><circle cx="370.7" cy="104.7" r="0.9"/><circle cx="364.2" cy="104.1" r="0.9"/><circle cx="351.9" cy="105.3" r="0.9"/></g>
<g fill="#c4c4c4" stroke="#b0b0b0" stroke-width="0.3"><circle cx="325.3" cy="51.1" r="1.3"/><circle cx="337.4" cy="46.6" r="1.3"/><circle cx="344.3" cy="34.2" r="1.3"/><circle cx="342.2" cy="51.1" r="1.3"/><circle cx="379.1" cy="17.7" r="1.3"/><circle cx="387.2" cy="36.6" r="1.3"/><circle cx="318.0" cy="67.0" r="1.3"/><circle cx="322.0" cy="72.0" r="1.3"/><circle cx="316.0" cy="79.0" r="1.3"/><circle cx="328.0" cy="67.0" r="1.3"/><circle cx="332.0" cy="62.0" r="1.3"/><circle cx="335.0" cy="70.0" r="1.3"/><circle cx="395.0" cy="65.0" r="1.3"/><circle cx="400.0" cy="80.0" r="1.3"/><circle cx="405.0" cy="86.0" r="1.3"/><circle cx="410.0" cy="92.0" r="1.3"/><circle cx="398.0" cy="90.0" r="1.3"/><circle cx="392.0" cy="75.0" r="1.3"/><circle cx="388.0" cy="60.0" r="1.3"/></g>
<line x1="383.70" y1="17.30" x2="381.50" y2="17.30" stroke="#000" stroke-width="0.65"/>
<line x1="392.60" y1="25.40" x2="390.40" y2="25.40" stroke="#000" stroke-width="0.65"/>
<line x1="393.20" y1="39.30" x2="391.20" y2="39.30" stroke="#000" stroke-width="0.65"/>
<line x1="382.80" y1="38.00" x2="385.90" y2="41.40" stroke="#000" stroke-width="0.65"/>
<line x1="379.70" y1="45.80" x2="382.00" y2="45.80" stroke="#000" stroke-width="0.65"/>
<line x1="382.50" y1="60.40" x2="382.50" y2="88.00" stroke="#000" stroke-width="0.65"/>
<line x1="385.00" y1="69.80" x2="384.10" y2="88.00" stroke="#000" stroke-width="0.65"/>
<line x1="371.40" y1="67.90" x2="380.00" y2="73.90" stroke="#000" stroke-width="0.65"/>
<line x1="368.90" y1="78.80" x2="374.30" y2="80.60" stroke="#000" stroke-width="0.65"/>
<line x1="389.80" y1="79.70" x2="387.60" y2="90.40" stroke="#000" stroke-width="0.65"/>
<line x1="364.50" y1="87.70" x2="380.60" y2="88.00" stroke="#000" stroke-width="0.65"/>
<line x1="414.00" y1="92.20" x2="397.60" y2="92.20" stroke="#000" stroke-width="0.65"/>
<line x1="371.90" y1="96.20" x2="377.10" y2="96.20" stroke="#000" stroke-width="0.65"/>
<line x1="413.30" y1="97.80" x2="395.30" y2="97.80" stroke="#000" stroke-width="0.65"/>
<line x1="364.90" y1="102.00" x2="378.30" y2="102.00" stroke="#000" stroke-width="0.65"/>
<line x1="409.80" y1="106.30" x2="405.10" y2="101.30" stroke="#000" stroke-width="0.65"/>
<line x1="361.90" y1="110.20" x2="379.90" y2="102.50" stroke="#000" stroke-width="0.65"/>
<line x1="379.90" y1="114.20" x2="379.90" y2="102.50" stroke="#000" stroke-width="0.65"/>
<line x1="388.30" y1="114.90" x2="388.30" y2="100.20" stroke="#000" stroke-width="0.65"/>
<line x1="392.30" y1="88.00" x2="421.50" y2="74.60" stroke="#111" stroke-width="0.55"/>
<line x1="393.50" y1="89.00" x2="421.50" y2="81.30" stroke="#111" stroke-width="0.55"/>
<circle cx="381.50" cy="17.30" r="1.25" fill="#d7191c"/>
<circle cx="390.40" cy="25.40" r="1.25" fill="#d7191c"/>
<circle cx="391.20" cy="39.30" r="1.25" fill="#d7191c"/>
<circle cx="385.90" cy="41.40" r="1.25" fill="#d7191c"/>
<circle cx="382.00" cy="45.80" r="1.25" fill="#d7191c"/>
<circle cx="380.00" cy="73.90" r="1.25" fill="#d7191c"/>
<circle cx="379.40" cy="73.50" r="1.25" fill="#d7191c"/>
<circle cx="374.30" cy="80.60" r="1.25" fill="#d7191c"/>
<circle cx="380.60" cy="88.00" r="1.25" fill="#d7191c"/>
<circle cx="384.10" cy="88.00" r="1.25" fill="#d7191c"/>
<circle cx="387.60" cy="90.40" r="1.25" fill="#d7191c"/>
<circle cx="392.30" cy="87.60" r="1.25" fill="#d7191c"/>
<circle cx="397.60" cy="92.20" r="1.25" fill="#d7191c"/>
<circle cx="377.10" cy="96.20" r="1.25" fill="#d7191c"/>
<circle cx="395.30" cy="97.80" r="1.25" fill="#d7191c"/>
<circle cx="388.30" cy="100.20" r="1.25" fill="#d7191c"/>
<circle cx="378.30" cy="102.00" r="1.25" fill="#d7191c"/>
<circle cx="379.90" cy="102.50" r="1.25" fill="#d7191c"/>
<circle cx="405.10" cy="101.30" r="1.25" fill="#d7191c"/>
<rect x="383.70" y="9.50" width="23.70" height="8.50" rx="1.2" fill="#fff" stroke="#858585" stroke-width="0.55"/>
<text x="395.55" y="16.25" font-size="6.9" text-anchor="middle">DTX3L</text>
<rect x="392.60" y="22.20" width="20.90" height="8.20" rx="1.2" fill="#fff" stroke="#858585" stroke-width="0.55"/>
<text x="403.05" y="28.80" font-size="6.9" text-anchor="middle">OAS3</text>
<rect x="393.20" y="35.10" width="19.90" height="8.20" rx="1.2" fill="#fff" stroke="#858585" stroke-width="0.55"/>
<text x="403.15" y="41.70" font-size="6.9" text-anchor="middle">IFIH1</text>
<rect x="364.70" y="30.00" width="18.10" height="8.00" rx="1.2" fill="#fff" stroke="#858585" stroke-width="0.55"/>
<text x="373.75" y="36.50" font-size="6.9" text-anchor="middle">IFI27</text>
<rect x="361.30" y="39.90" width="18.40" height="8.50" rx="1.2" fill="#fff" stroke="#858585" stroke-width="0.55"/>
<text x="370.50" y="46.65" font-size="6.9" text-anchor="middle">IFI35</text>
<rect x="374.60" y="51.60" width="23.70" height="8.80" rx="1.2" fill="#fff" stroke="#858585" stroke-width="0.55"/>
<text x="386.45" y="58.50" font-size="6.9" text-anchor="middle">IFITM1</text>
<rect x="385.00" y="61.10" width="24.30" height="8.70" rx="1.2" fill="#fff" stroke="#858585" stroke-width="0.55"/>
<text x="397.15" y="67.95" font-size="6.9" text-anchor="middle">RSAD2</text>
<rect x="352.80" y="59.80" width="18.60" height="8.10" rx="1.2" fill="#fff" stroke="#858585" stroke-width="0.55"/>
<text x="362.10" y="66.35" font-size="6.9" text-anchor="middle">TLR3</text>
<rect x="344.80" y="70.60" width="24.10" height="8.20" rx="1.2" fill="#fff" stroke="#858585" stroke-width="0.55"/>
<text x="356.85" y="77.20" font-size="6.9" text-anchor="middle">DDX58</text>
<rect x="389.80" y="71.70" width="18.40" height="8.00" rx="1.2" fill="#fff" stroke="#858585" stroke-width="0.55"/>
<text x="399.00" y="78.20" font-size="6.9" text-anchor="middle">IFIT5</text>
<rect x="349.90" y="79.30" width="14.60" height="8.40" rx="1.2" fill="#fff" stroke="#858585" stroke-width="0.55"/>
<text x="357.20" y="86.00" font-size="6.9" text-anchor="middle">IFI6</text>
<rect x="427.00" y="88.00" width="21.00" height="8.40" rx="1.2" fill="#fff" stroke="#858585" stroke-width="0.55"/>
<text x="437.50" y="94.70" font-size="6.9" text-anchor="middle">IFIT1</text>
<rect x="425.00" y="78.20" width="21.00" height="9.40" rx="1.2" fill="#fff" stroke="#858585" stroke-width="0.55"/>
<text x="435.50" y="85.40" font-size="6.9" text-anchor="middle">CCL5</text>
<rect x="414.00" y="86.20" width="21.00" height="8.80" rx="1.2" fill="#fff" stroke="#858585" stroke-width="0.55"/>
<text x="424.50" y="93.10" font-size="6.9" text-anchor="middle">OAS1</text>
<rect x="347.90" y="89.90" width="24.00" height="8.60" rx="1.2" fill="#fff" stroke="#858585" stroke-width="0.55"/>
<text x="359.90" y="96.70" font-size="6.9" text-anchor="middle">DDX60</text>
<rect x="413.30" y="95.00" width="18.70" height="8.90" rx="1.2" fill="#fff" stroke="#858585" stroke-width="0.55"/>
<text x="422.65" y="101.95" font-size="6.9" text-anchor="middle">IFIT3</text>
<rect x="347.90" y="100.20" width="17.00" height="8.40" rx="1.2" fill="#fff" stroke="#858585" stroke-width="0.55"/>
<text x="356.40" y="106.90" font-size="6.9" text-anchor="middle">MX1</text>
<rect x="409.80" y="106.30" width="20.50" height="9.30" rx="1.2" fill="#fff" stroke="#858585" stroke-width="0.55"/>
<text x="420.05" y="113.45" font-size="6.9" text-anchor="middle">OAS2</text>
<rect x="344.40" y="110.20" width="17.50" height="8.70" rx="1.2" fill="#fff" stroke="#858585" stroke-width="0.55"/>
<text x="353.15" y="117.05" font-size="6.9" text-anchor="middle">IL15</text>
<rect x="362.60" y="114.20" width="22.00" height="9.30" rx="1.2" fill="#fff" stroke="#858585" stroke-width="0.55"/>
<text x="373.60" y="121.35" font-size="6.9" text-anchor="middle">ISG20</text>
<rect x="386.90" y="114.90" width="24.10" height="9.30" rx="1.2" fill="#fff" stroke="#858585" stroke-width="0.55"/>
<text x="398.95" y="122.05" font-size="6.9" text-anchor="middle">DHX58</text>
<line x1="313.30" y1="14.00" x2="313.30" y2="126.20" stroke="#000" stroke-width="0.7"/>
<line x1="313.30" y1="126.20" x2="421.50" y2="126.20" stroke="#000" stroke-width="0.7"/>
<line x1="311.80" y1="105.30" x2="313.30" y2="105.30" stroke="#000" stroke-width="0.6"/>
<text x="310.70" y="108.00" font-size="7.8" text-anchor="end" fill="#333">0</text>
<line x1="311.80" y1="87.60" x2="313.30" y2="87.60" stroke="#000" stroke-width="0.6"/>
<text x="310.70" y="90.30" font-size="7.8" text-anchor="end" fill="#333">50</text>
<line x1="311.80" y1="69.90" x2="313.30" y2="69.90" stroke="#000" stroke-width="0.6"/>
<text x="310.70" y="72.60" font-size="7.8" text-anchor="end" fill="#333">100</text>
<line x1="311.80" y1="52.20" x2="313.30" y2="52.20" stroke="#000" stroke-width="0.6"/>
<text x="310.70" y="54.90" font-size="7.8" text-anchor="end" fill="#333">150</text>
<line x1="311.80" y1="34.50" x2="313.30" y2="34.50" stroke="#000" stroke-width="0.6"/>
<text x="310.70" y="37.20" font-size="7.8" text-anchor="end" fill="#333">200</text>
<line x1="311.80" y1="16.80" x2="313.30" y2="16.80" stroke="#000" stroke-width="0.6"/>
<text x="310.70" y="19.50" font-size="7.8" text-anchor="end" fill="#333">250</text>
<line x1="327.90" y1="126.20" x2="327.90" y2="127.70" stroke="#000" stroke-width="0.6"/>
<text x="327.90" y="134.70" font-size="7.8" text-anchor="middle" fill="#333">-10</text>
<line x1="344.30" y1="126.20" x2="344.30" y2="127.70" stroke="#000" stroke-width="0.6"/>
<text x="344.30" y="134.70" font-size="7.8" text-anchor="middle" fill="#333">-5</text>
<line x1="360.70" y1="126.20" x2="360.70" y2="127.70" stroke="#000" stroke-width="0.6"/>
<text x="360.70" y="134.70" font-size="7.8" text-anchor="middle" fill="#333">0</text>
<line x1="377.10" y1="126.20" x2="377.10" y2="127.70" stroke="#000" stroke-width="0.6"/>
<text x="377.10" y="134.70" font-size="7.8" text-anchor="middle" fill="#333">5</text>
<line x1="393.50" y1="126.20" x2="393.50" y2="127.70" stroke="#000" stroke-width="0.6"/>
<text x="393.50" y="134.70" font-size="7.8" text-anchor="middle" fill="#333">10</text>
<line x1="409.90" y1="126.20" x2="409.90" y2="127.70" stroke="#000" stroke-width="0.6"/>
<text x="409.90" y="134.70" font-size="7.8" text-anchor="middle" fill="#333">15</text>
<text x="316.40" y="16.60" font-size="9.2" font-weight="bold">Poly(I:C)</text>
<circle cx="430.00" cy="9.10" r="2.5" fill="#d7191c" stroke="#7a0000" stroke-width="0.4"/>
<circle cx="430.00" cy="19.50" r="2.5" fill="#c4c4c4" stroke="#999" stroke-width="0.4"/>
<text x="435.30" y="12.40" font-size="8.8" fill="#111">ISG</text>
<text x="435.30" y="22.90" font-size="8.8" fill="#111">Other</text>
<text x="291.2" y="148.8" font-size="9.4" text-anchor="middle" fill="#111">Log<tspan font-size="6.0" dy="2">2</tspan><tspan dy="-2"> fold change</tspan></text>
<text transform="translate(145.3 52.4) rotate(-90)" font-size="9.4" text-anchor="middle" fill="#111">-Log<tspan font-size="6.0" dy="2">10</tspan><tspan dy="-2" font-style="italic"> P</tspan></text>
<rect x="39.60" y="244.00" width="6.70" height="5.20" fill="#f8c3a9"/>
<rect x="50.32" y="242.30" width="6.70" height="6.90" fill="#f8c3a9"/>
<rect x="61.04" y="199.00" width="6.70" height="50.20" fill="#1a8ad4"/>
<rect x="71.76" y="224.70" width="6.70" height="24.50" fill="#1a8ad4"/>
<rect x="82.48" y="244.00" width="6.70" height="5.20" fill="#f8c3a9"/>
<rect x="93.20" y="242.70" width="6.70" height="6.50" fill="#f8c3a9"/>
<circle cx="42.95" cy="244.20" r="1.15" fill="#111"/>
<circle cx="53.67" cy="241.80" r="1.15" fill="#111"/>
<circle cx="53.67" cy="242.80" r="1.15" fill="#111"/>
<circle cx="64.39" cy="198.40" r="1.15" fill="#111"/>
<circle cx="64.39" cy="200.00" r="1.15" fill="#111"/>
<circle cx="75.11" cy="221.00" r="1.15" fill="none" stroke="#111" stroke-width="0.7"/>
<circle cx="75.11" cy="224.70" r="1.15" fill="#111"/>
<circle cx="75.11" cy="228.90" r="1.15" fill="none" stroke="#111" stroke-width="0.7"/>
<circle cx="85.83" cy="244.20" r="1.15" fill="#111"/>
<circle cx="96.55" cy="240.70" r="1.15" fill="none" stroke="#111" stroke-width="0.7"/>
<circle cx="96.55" cy="243.30" r="1.15" fill="#111"/>
<line x1="37.60" y1="188.10" x2="37.60" y2="249.20" stroke="#000" stroke-width="0.7"/>
<line x1="37.60" y1="249.20" x2="101.80" y2="249.20" stroke="#000" stroke-width="0.7"/>
<line x1="36.10" y1="195.40" x2="37.60" y2="195.40" stroke="#000" stroke-width="0.6"/>
<text x="35.70" y="198.60" font-size="8.9" text-anchor="end" fill="#333">100</text>
<line x1="36.10" y1="232.40" x2="37.60" y2="232.40" stroke="#000" stroke-width="0.6"/>
<text x="35.70" y="235.60" font-size="8.9" text-anchor="end" fill="#333">10</text>
<line x1="36.10" y1="249.20" x2="37.60" y2="249.20" stroke="#000" stroke-width="0.6"/>
<text x="35.70" y="252.40" font-size="8.9" text-anchor="end" fill="#333">0</text>
<path d="M43.55 185.80V184.50H75.11V185.80" stroke="#222" stroke-width="0.6" fill="none"/>
<text x="59.33" y="185.70" font-size="10.0" text-anchor="middle" fill="#111">****</text>
<path d="M43.55 195.00V193.70H64.39V195.00" stroke="#222" stroke-width="0.6" fill="none"/>
<text x="53.97" y="194.90" font-size="10.0" text-anchor="middle" fill="#111">****</text>
<text x="24.70" y="174.30" font-size="9.3" font-weight="bold" font-style="italic">DHX58</text>
<text x="47.55" y="257.40" font-size="8.6" text-anchor="end" fill="#111" transform="rotate(-45 47.55 257.40)">WT</text>
<text x="58.27" y="257.40" font-size="8.6" text-anchor="end" fill="#111" transform="rotate(-45 58.27 257.40)">Cas9</text>
<text x="68.99" y="257.40" font-size="8.6" text-anchor="end" fill="#111" transform="rotate(-45 68.99 257.40)">dA11.21</text>
<text x="79.71" y="257.40" font-size="8.6" text-anchor="end" fill="#111" transform="rotate(-45 79.71 257.40)">dA11.23</text>
<text x="90.43" y="257.40" font-size="8.6" text-anchor="end" fill="#111" transform="rotate(-45 90.43 257.40)">dA3/4.21</text>
<text x="101.15" y="257.40" font-size="8.6" text-anchor="end" fill="#111" transform="rotate(-45 101.15 257.40)">dA3/4.41</text>
<rect x="129.30" y="247.00" width="6.70" height="2.20" fill="#f8c3a9"/>
<rect x="140.02" y="246.60" width="6.70" height="2.60" fill="#f8c3a9"/>
<rect x="150.74" y="208.10" width="6.70" height="41.10" fill="#1a8ad4"/>
<rect x="161.46" y="228.20" width="6.70" height="21.00" fill="#1a8ad4"/>
<rect x="172.18" y="247.30" width="6.70" height="1.90" fill="#f8c3a9"/>
<rect x="182.90" y="247.30" width="6.70" height="1.90" fill="#f8c3a9"/>
<line x1="154.09" y1="202.30" x2="154.09" y2="208.10" stroke="#000" stroke-width="0.6"/>
<line x1="152.89" y1="202.30" x2="155.29" y2="202.30" stroke="#000" stroke-width="0.6"/>
<line x1="164.81" y1="225.30" x2="164.81" y2="228.20" stroke="#000" stroke-width="0.6"/>
<line x1="163.61" y1="225.30" x2="166.01" y2="225.30" stroke="#000" stroke-width="0.6"/>
<circle cx="132.65" cy="246.60" r="1.15" fill="#111"/>
<circle cx="143.37" cy="246.40" r="1.15" fill="#111"/>
<circle cx="154.09" cy="198.30" r="1.15" fill="none" stroke="#111" stroke-width="0.7"/>
<circle cx="154.09" cy="211.50" r="1.15" fill="none" stroke="#111" stroke-width="0.7"/>
<circle cx="154.09" cy="217.30" r="1.15" fill="none" stroke="#111" stroke-width="0.7"/>
<circle cx="164.81" cy="222.30" r="1.15" fill="none" stroke="#111" stroke-width="0.7"/>
<circle cx="164.81" cy="228.90" r="1.15" fill="none" stroke="#111" stroke-width="0.7"/>
<circle cx="164.81" cy="233.10" r="1.15" fill="none" stroke="#111" stroke-width="0.7"/>
<circle cx="175.53" cy="247.00" r="1.15" fill="#111"/>
<circle cx="186.25" cy="247.00" r="1.15" fill="#111"/>
<line x1="127.30" y1="188.10" x2="127.30" y2="249.20" stroke="#000" stroke-width="0.7"/>
<line x1="127.30" y1="249.20" x2="191.50" y2="249.20" stroke="#000" stroke-width="0.7"/>
<line x1="125.80" y1="213.50" x2="127.30" y2="213.50" stroke="#000" stroke-width="0.6"/>
<text x="125.40" y="216.70" font-size="8.9" text-anchor="end" fill="#333">250</text>
<line x1="125.80" y1="226.50" x2="127.30" y2="226.50" stroke="#000" stroke-width="0.6"/>
<text x="125.40" y="229.70" font-size="8.9" text-anchor="end" fill="#333">100</text>
<line x1="125.80" y1="242.00" x2="127.30" y2="242.00" stroke="#000" stroke-width="0.6"/>
<text x="125.40" y="245.20" font-size="8.9" text-anchor="end" fill="#333">10</text>
<line x1="125.80" y1="249.20" x2="127.30" y2="249.20" stroke="#000" stroke-width="0.6"/>
<text x="125.40" y="252.40" font-size="8.9" text-anchor="end" fill="#333">0</text>
<path d="M133.25 185.80V184.50H164.81V185.80" stroke="#222" stroke-width="0.6" fill="none"/>
<text x="149.03" y="182.10" font-size="7.0" text-anchor="middle" fill="#111">ns</text>
<path d="M133.25 195.30V194.00H154.09V195.30" stroke="#222" stroke-width="0.6" fill="none"/>
<text x="143.67" y="195.20" font-size="10.0" text-anchor="middle" fill="#111">***</text>
<text x="114.40" y="174.30" font-size="9.3" font-weight="bold" font-style="italic">IFIT1</text>
<text x="137.25" y="257.40" font-size="8.6" text-anchor="end" fill="#111" transform="rotate(-45 137.25 257.40)">WT</text>
<text x="147.97" y="257.40" font-size="8.6" text-anchor="end" fill="#111" transform="rotate(-45 147.97 257.40)">Cas9</text>
<text x="158.69" y="257.40" font-size="8.6" text-anchor="end" fill="#111" transform="rotate(-45 158.69 257.40)">dA11.21</text>
<text x="169.41" y="257.40" font-size="8.6" text-anchor="end" fill="#111" transform="rotate(-45 169.41 257.40)">dA11.23</text>
<text x="180.13" y="257.40" font-size="8.6" text-anchor="end" fill="#111" transform="rotate(-45 180.13 257.40)">dA3/4.21</text>
<text x="190.85" y="257.40" font-size="8.6" text-anchor="end" fill="#111" transform="rotate(-45 190.85 257.40)">dA3/4.41</text>
<rect x="39.60" y="358.30" width="6.70" height="7.20" fill="#f8c3a9"/>
<rect x="50.32" y="357.70" width="6.70" height="7.80" fill="#f8c3a9"/>
<rect x="61.04" y="327.20" width="6.70" height="38.30" fill="#1a8ad4"/>
<rect x="71.76" y="350.80" width="6.70" height="14.70" fill="#1a8ad4"/>
<rect x="82.48" y="361.30" width="6.70" height="4.20" fill="#f8c3a9"/>
<rect x="93.20" y="360.00" width="6.70" height="5.50" fill="#f8c3a9"/>
<line x1="64.39" y1="319.60" x2="64.39" y2="327.20" stroke="#000" stroke-width="0.6"/>
<line x1="63.19" y1="319.60" x2="65.59" y2="319.60" stroke="#000" stroke-width="0.6"/>
<line x1="75.11" y1="347.50" x2="75.11" y2="350.80" stroke="#000" stroke-width="0.6"/>
<line x1="73.91" y1="347.50" x2="76.31" y2="347.50" stroke="#000" stroke-width="0.6"/>
<circle cx="42.95" cy="357.00" r="1.15" fill="#111"/>
<circle cx="42.95" cy="358.30" r="1.15" fill="none" stroke="#111" stroke-width="0.7"/>
<circle cx="42.95" cy="359.60" r="1.15" fill="#111"/>
<circle cx="53.67" cy="355.00" r="1.15" fill="none" stroke="#111" stroke-width="0.7"/>
<circle cx="53.67" cy="358.30" r="1.15" fill="#111"/>
<circle cx="64.39" cy="314.00" r="1.15" fill="none" stroke="#111" stroke-width="0.7"/>
<circle cx="64.39" cy="330.10" r="1.15" fill="none" stroke="#111" stroke-width="0.7"/>
<circle cx="64.39" cy="343.60" r="1.15" fill="none" stroke="#111" stroke-width="0.7"/>
<circle cx="75.11" cy="346.20" r="1.15" fill="none" stroke="#111" stroke-width="0.7"/>
<circle cx="75.11" cy="352.40" r="1.15" fill="none" stroke="#111" stroke-width="0.7"/>
<circle cx="75.11" cy="355.00" r="1.15" fill="none" stroke="#111" stroke-width="0.7"/>
<circle cx="85.83" cy="361.60" r="1.15" fill="#111"/>
<circle cx="96.55" cy="358.30" r="1.15" fill="none" stroke="#111" stroke-width="0.7"/>
<circle cx="96.55" cy="361.00" r="1.15" fill="#111"/>
<line x1="37.60" y1="303.80" x2="37.60" y2="365.50" stroke="#000" stroke-width="0.7"/>
<line x1="37.60" y1="365.50" x2="101.80" y2="365.50" stroke="#000" stroke-width="0.7"/>
<line x1="36.10" y1="313.90" x2="37.60" y2="313.90" stroke="#000" stroke-width="0.6"/>
<text x="35.70" y="317.10" font-size="8.9" text-anchor="end" fill="#333">250</text>
<line x1="36.10" y1="332.30" x2="37.60" y2="332.30" stroke="#000" stroke-width="0.6"/>
<text x="35.70" y="335.50" font-size="8.9" text-anchor="end" fill="#333">100</text>
<line x1="36.10" y1="355.30" x2="37.60" y2="355.30" stroke="#000" stroke-width="0.6"/>
<text x="35.70" y="358.50" font-size="8.9" text-anchor="end" fill="#333">10</text>
<line x1="36.10" y1="365.50" x2="37.60" y2="365.50" stroke="#000" stroke-width="0.6"/>
<text x="35.70" y="368.70" font-size="8.9" text-anchor="end" fill="#333">0</text>
<path d="M43.55 301.50V300.20H75.11V301.50" stroke="#222" stroke-width="0.6" fill="none"/>
<text x="59.33" y="297.80" font-size="7.0" text-anchor="middle" fill="#111">ns</text>
<path d="M43.55 311.30V310.00H64.39V311.30" stroke="#222" stroke-width="0.6" fill="none"/>
<text x="53.97" y="311.20" font-size="10.0" text-anchor="middle" fill="#111">*</text>
<text x="24.70" y="290.00" font-size="9.3" font-weight="bold" font-style="italic">IFIT2</text>
<text x="47.55" y="373.70" font-size="8.6" text-anchor="end" fill="#111" transform="rotate(-45 47.55 373.70)">WT</text>
<text x="58.27" y="373.70" font-size="8.6" text-anchor="end" fill="#111" transform="rotate(-45 58.27 373.70)">Cas9</text>
<text x="68.99" y="373.70" font-size="8.6" text-anchor="end" fill="#111" transform="rotate(-45 68.99 373.70)">dA11.21</text>
<text x="79.71" y="373.70" font-size="8.6" text-anchor="end" fill="#111" transform="rotate(-45 79.71 373.70)">dA11.23</text>
<text x="90.43" y="373.70" font-size="8.6" text-anchor="end" fill="#111" transform="rotate(-45 90.43 373.70)">dA3/4.21</text>
<text x="101.15" y="373.70" font-size="8.6" text-anchor="end" fill="#111" transform="rotate(-45 101.15 373.70)">dA3/4.41</text>
<rect x="129.60" y="361.90" width="6.70" height="3.20" fill="#f8c3a9"/>
<rect x="140.32" y="361.00" width="6.70" height="4.10" fill="#f8c3a9"/>
<rect x="151.04" y="320.20" width="6.70" height="44.90" fill="#1a8ad4"/>
<rect x="161.76" y="349.10" width="6.70" height="16.00" fill="#1a8ad4"/>
<rect x="172.48" y="363.40" width="6.70" height="1.70" fill="#f8c3a9"/>
<rect x="183.20" y="362.50" width="6.70" height="2.60" fill="#f8c3a9"/>
<line x1="154.39" y1="314.50" x2="154.39" y2="320.20" stroke="#000" stroke-width="0.6"/>
<line x1="153.19" y1="314.50" x2="155.59" y2="314.50" stroke="#000" stroke-width="0.6"/>
<circle cx="132.95" cy="361.90" r="1.15" fill="#111"/>
<circle cx="143.67" cy="360.50" r="1.15" fill="#111"/>
<circle cx="143.67" cy="362.50" r="1.15" fill="none" stroke="#111" stroke-width="0.7"/>
<circle cx="154.39" cy="314.20" r="1.15" fill="none" stroke="#111" stroke-width="0.7"/>
<circle cx="154.39" cy="316.30" r="1.15" fill="#111"/>
<circle cx="154.39" cy="317.80" r="1.15" fill="#111"/>
<circle cx="154.39" cy="331.20" r="1.15" fill="none" stroke="#111" stroke-width="0.7"/>
<circle cx="165.11" cy="346.80" r="1.15" fill="none" stroke="#111" stroke-width="0.7"/>
<circle cx="165.11" cy="350.40" r="1.15" fill="#111"/>
<circle cx="175.83" cy="363.40" r="1.15" fill="none" stroke="#111" stroke-width="0.7"/>
<circle cx="186.55" cy="361.00" r="1.15" fill="#111"/>
<circle cx="186.55" cy="363.00" r="1.15" fill="#111"/>
<line x1="127.60" y1="304.40" x2="127.60" y2="365.10" stroke="#000" stroke-width="0.7"/>
<line x1="127.60" y1="365.10" x2="191.80" y2="365.10" stroke="#000" stroke-width="0.7"/>
<line x1="126.10" y1="313.20" x2="127.60" y2="313.20" stroke="#000" stroke-width="0.6"/>
<text x="125.70" y="316.40" font-size="8.9" text-anchor="end" fill="#333">1,000</text>
<line x1="126.10" y1="338.90" x2="127.60" y2="338.90" stroke="#000" stroke-width="0.6"/>
<text x="125.70" y="342.10" font-size="8.9" text-anchor="end" fill="#333">250</text>
<line x1="126.10" y1="349.10" x2="127.60" y2="349.10" stroke="#000" stroke-width="0.6"/>
<text x="125.70" y="352.30" font-size="8.9" text-anchor="end" fill="#333">100</text>
<line x1="126.10" y1="360.20" x2="127.60" y2="360.20" stroke="#000" stroke-width="0.6"/>
<text x="125.70" y="363.40" font-size="8.9" text-anchor="end" fill="#333">10</text>
<line x1="126.10" y1="365.10" x2="127.60" y2="365.10" stroke="#000" stroke-width="0.6"/>
<text x="125.70" y="368.30" font-size="8.9" text-anchor="end" fill="#333">0</text>
<path d="M133.55 301.80V300.50H165.11V301.80" stroke="#222" stroke-width="0.6" fill="none"/>
<text x="149.33" y="298.10" font-size="7.0" text-anchor="middle" fill="#111">ns</text>
<path d="M133.55 311.00V309.70H154.39V311.00" stroke="#222" stroke-width="0.6" fill="none"/>
<text x="143.97" y="310.90" font-size="10.0" text-anchor="middle" fill="#111">****</text>
<text x="114.70" y="290.60" font-size="9.3" font-weight="bold" font-style="italic">IFIT3</text>
<text x="137.55" y="373.30" font-size="8.6" text-anchor="end" fill="#111" transform="rotate(-45 137.55 373.30)">WT</text>
<text x="148.27" y="373.30" font-size="8.6" text-anchor="end" fill="#111" transform="rotate(-45 148.27 373.30)">Cas9</text>
<text x="158.99" y="373.30" font-size="8.6" text-anchor="end" fill="#111" transform="rotate(-45 158.99 373.30)">dA11.21</text>
<text x="169.71" y="373.30" font-size="8.6" text-anchor="end" fill="#111" transform="rotate(-45 169.71 373.30)">dA11.23</text>
<text x="180.43" y="373.30" font-size="8.6" text-anchor="end" fill="#111" transform="rotate(-45 180.43 373.30)">dA3/4.21</text>
<text x="191.15" y="373.30" font-size="8.6" text-anchor="end" fill="#111" transform="rotate(-45 191.15 373.30)">dA3/4.41</text>
<rect x="39.60" y="479.20" width="6.70" height="2.30" fill="#f8c3a9"/>
<rect x="50.32" y="479.20" width="6.70" height="2.30" fill="#f8c3a9"/>
<rect x="61.04" y="436.30" width="6.70" height="45.20" fill="#1a8ad4"/>
<rect x="71.76" y="438.90" width="6.70" height="42.60" fill="#1a8ad4"/>
<rect x="82.48" y="479.90" width="6.70" height="1.60" fill="#f8c3a9"/>
<rect x="93.20" y="479.20" width="6.70" height="2.30" fill="#f8c3a9"/>
<line x1="64.39" y1="433.20" x2="64.39" y2="436.30" stroke="#000" stroke-width="0.6"/>
<line x1="63.19" y1="433.20" x2="65.59" y2="433.20" stroke="#000" stroke-width="0.6"/>
<line x1="75.11" y1="434.20" x2="75.11" y2="438.90" stroke="#000" stroke-width="0.6"/>
<line x1="73.91" y1="434.20" x2="76.31" y2="434.20" stroke="#000" stroke-width="0.6"/>
<circle cx="42.95" cy="479.20" r="1.15" fill="#111"/>
<circle cx="53.67" cy="479.20" r="1.15" fill="#111"/>
<circle cx="64.39" cy="430.20" r="1.15" fill="none" stroke="#111" stroke-width="0.7"/>
<circle cx="64.39" cy="438.50" r="1.15" fill="none" stroke="#111" stroke-width="0.7"/>
<circle cx="64.39" cy="440.70" r="1.15" fill="none" stroke="#111" stroke-width="0.7"/>
<circle cx="75.11" cy="431.00" r="1.15" fill="none" stroke="#111" stroke-width="0.7"/>
<circle cx="75.11" cy="438.50" r="1.15" fill="none" stroke="#111" stroke-width="0.7"/>
<circle cx="75.11" cy="448.10" r="1.15" fill="none" stroke="#111" stroke-width="0.7"/>
<circle cx="85.83" cy="479.90" r="1.15" fill="#111"/>
<circle cx="96.55" cy="479.20" r="1.15" fill="#111"/>
<line x1="37.60" y1="420.50" x2="37.60" y2="481.50" stroke="#000" stroke-width="0.7"/>
<line x1="37.60" y1="481.50" x2="101.80" y2="481.50" stroke="#000" stroke-width="0.7"/>
<line x1="36.10" y1="436.30" x2="37.60" y2="436.30" stroke="#000" stroke-width="0.6"/>
<text x="35.70" y="439.50" font-size="8.9" text-anchor="end" fill="#333">250</text>
<line x1="36.10" y1="453.00" x2="37.60" y2="453.00" stroke="#000" stroke-width="0.6"/>
<text x="35.70" y="456.20" font-size="8.9" text-anchor="end" fill="#333">100</text>
<line x1="36.10" y1="472.30" x2="37.60" y2="472.30" stroke="#000" stroke-width="0.6"/>
<text x="35.70" y="475.50" font-size="8.9" text-anchor="end" fill="#333">10</text>
<line x1="36.10" y1="481.50" x2="37.60" y2="481.50" stroke="#000" stroke-width="0.6"/>
<text x="35.70" y="484.70" font-size="8.9" text-anchor="end" fill="#333">0</text>
<path d="M43.55 417.90V416.60H75.11V417.90" stroke="#222" stroke-width="0.6" fill="none"/>
<text x="59.33" y="417.80" font-size="10.0" text-anchor="middle" fill="#111">***</text>
<path d="M43.55 427.60V426.30H64.39V427.60" stroke="#222" stroke-width="0.6" fill="none"/>
<text x="53.97" y="427.50" font-size="10.0" text-anchor="middle" fill="#111">****</text>
<text x="24.70" y="406.70" font-size="9.3" font-weight="bold" font-style="italic">IFITM1</text>
<text x="47.55" y="489.70" font-size="8.6" text-anchor="end" fill="#111" transform="rotate(-45 47.55 489.70)">WT</text>
<text x="58.27" y="489.70" font-size="8.6" text-anchor="end" fill="#111" transform="rotate(-45 58.27 489.70)">Cas9</text>
<text x="68.99" y="489.70" font-size="8.6" text-anchor="end" fill="#111" transform="rotate(-45 68.99 489.70)">dA11.21</text>
<text x="79.71" y="489.70" font-size="8.6" text-anchor="end" fill="#111" transform="rotate(-45 79.71 489.70)">dA11.23</text>
<text x="90.43" y="489.70" font-size="8.6" text-anchor="end" fill="#111" transform="rotate(-45 90.43 489.70)">dA3/4.21</text>
<text x="101.15" y="489.70" font-size="8.6" text-anchor="end" fill="#111" transform="rotate(-45 101.15 489.70)">dA3/4.41</text>
<rect x="129.30" y="474.90" width="6.70" height="6.90" fill="#f8c3a9"/>
<rect x="140.02" y="474.50" width="6.70" height="7.30" fill="#f8c3a9"/>
<rect x="150.74" y="435.40" width="6.70" height="46.40" fill="#1a8ad4"/>
<rect x="161.46" y="438.10" width="6.70" height="43.70" fill="#1a8ad4"/>
<rect x="172.18" y="475.50" width="6.70" height="6.30" fill="#f8c3a9"/>
<rect x="182.90" y="474.90" width="6.70" height="6.90" fill="#f8c3a9"/>
<line x1="154.09" y1="432.00" x2="154.09" y2="435.40" stroke="#000" stroke-width="0.6"/>
<line x1="152.89" y1="432.00" x2="155.29" y2="432.00" stroke="#000" stroke-width="0.6"/>
<circle cx="132.65" cy="474.90" r="1.15" fill="#111"/>
<circle cx="143.37" cy="474.30" r="1.15" fill="#111"/>
<circle cx="154.09" cy="430.70" r="1.15" fill="none" stroke="#111" stroke-width="0.7"/>
<circle cx="154.09" cy="438.10" r="1.15" fill="none" stroke="#111" stroke-width="0.7"/>
<circle cx="164.81" cy="435.40" r="1.15" fill="#111"/>
<circle cx="164.81" cy="443.40" r="1.15" fill="none" stroke="#111" stroke-width="0.7"/>
<circle cx="175.53" cy="475.50" r="1.15" fill="none" stroke="#111" stroke-width="0.7"/>
<circle cx="186.25" cy="474.60" r="1.15" fill="#111"/>
<circle cx="186.25" cy="475.40" r="1.15" fill="#111"/>
<line x1="127.30" y1="419.90" x2="127.30" y2="481.80" stroke="#000" stroke-width="0.7"/>
<line x1="127.30" y1="481.80" x2="191.50" y2="481.80" stroke="#000" stroke-width="0.7"/>
<line x1="125.80" y1="420.30" x2="127.30" y2="420.30" stroke="#000" stroke-width="0.6"/>
<text x="125.40" y="423.50" font-size="8.9" text-anchor="end" fill="#333">100</text>
<line x1="125.80" y1="462.50" x2="127.30" y2="462.50" stroke="#000" stroke-width="0.6"/>
<text x="125.40" y="465.70" font-size="8.9" text-anchor="end" fill="#333">10</text>
<line x1="125.80" y1="481.80" x2="127.30" y2="481.80" stroke="#000" stroke-width="0.6"/>
<text x="125.40" y="485.00" font-size="8.9" text-anchor="end" fill="#333">0</text>
<path d="M133.25 418.00V416.70H164.81V418.00" stroke="#222" stroke-width="0.6" fill="none"/>
<text x="149.03" y="417.90" font-size="10.0" text-anchor="middle" fill="#111">****</text>
<path d="M133.25 427.80V426.50H154.09V427.80" stroke="#222" stroke-width="0.6" fill="none"/>
<text x="143.67" y="427.70" font-size="10.0" text-anchor="middle" fill="#111">****</text>
<text x="114.40" y="406.10" font-size="9.3" font-weight="bold" font-style="italic">IFITM3</text>
<text x="137.25" y="490.00" font-size="8.6" text-anchor="end" fill="#111" transform="rotate(-45 137.25 490.00)">WT</text>
<text x="147.97" y="490.00" font-size="8.6" text-anchor="end" fill="#111" transform="rotate(-45 147.97 490.00)">Cas9</text>
<text x="158.69" y="490.00" font-size="8.6" text-anchor="end" fill="#111" transform="rotate(-45 158.69 490.00)">dA11.21</text>
<text x="169.41" y="490.00" font-size="8.6" text-anchor="end" fill="#111" transform="rotate(-45 169.41 490.00)">dA11.23</text>
<text x="180.13" y="490.00" font-size="8.6" text-anchor="end" fill="#111" transform="rotate(-45 180.13 490.00)">dA3/4.21</text>
<text x="190.85" y="490.00" font-size="8.6" text-anchor="end" fill="#111" transform="rotate(-45 190.85 490.00)">dA3/4.41</text>
<rect x="39.30" y="590.20" width="6.70" height="7.30" fill="#f8c3a9"/>
<rect x="50.02" y="587.90" width="6.70" height="9.60" fill="#f8c3a9"/>
<rect x="60.74" y="551.10" width="6.70" height="46.40" fill="#1a8ad4"/>
<rect x="71.46" y="556.00" width="6.70" height="41.50" fill="#1a8ad4"/>
<rect x="82.18" y="592.30" width="6.70" height="5.20" fill="#f8c3a9"/>
<rect x="92.90" y="587.90" width="6.70" height="9.60" fill="#f8c3a9"/>
<line x1="64.09" y1="549.00" x2="64.09" y2="551.10" stroke="#000" stroke-width="0.6"/>
<line x1="62.89" y1="549.00" x2="65.29" y2="549.00" stroke="#000" stroke-width="0.6"/>
<line x1="74.81" y1="550.20" x2="74.81" y2="556.00" stroke="#000" stroke-width="0.6"/>
<line x1="73.61" y1="550.20" x2="76.01" y2="550.20" stroke="#000" stroke-width="0.6"/>
<circle cx="42.65" cy="588.60" r="1.15" fill="#111"/>
<circle cx="42.65" cy="590.20" r="1.15" fill="none" stroke="#111" stroke-width="0.7"/>
<circle cx="42.65" cy="591.20" r="1.15" fill="#111"/>
<circle cx="53.37" cy="586.60" r="1.15" fill="#111"/>
<circle cx="53.37" cy="591.00" r="1.15" fill="none" stroke="#111" stroke-width="0.7"/>
<circle cx="64.09" cy="546.80" r="1.15" fill="none" stroke="#111" stroke-width="0.7"/>
<circle cx="64.09" cy="550.70" r="1.15" fill="none" stroke="#111" stroke-width="0.7"/>
<circle cx="64.09" cy="556.80" r="1.15" fill="none" stroke="#111" stroke-width="0.7"/>
<circle cx="74.81" cy="546.30" r="1.15" fill="none" stroke="#111" stroke-width="0.7"/>
<circle cx="74.81" cy="559.70" r="1.15" fill="none" stroke="#111" stroke-width="0.7"/>
<circle cx="74.81" cy="564.90" r="1.15" fill="none" stroke="#111" stroke-width="0.7"/>
<circle cx="85.53" cy="591.20" r="1.15" fill="none" stroke="#111" stroke-width="0.7"/>
<circle cx="85.53" cy="593.20" r="1.15" fill="#111"/>
<circle cx="96.25" cy="584.60" r="1.15" fill="none" stroke="#111" stroke-width="0.7"/>
<circle cx="96.25" cy="588.60" r="1.15" fill="none" stroke="#111" stroke-width="0.7"/>
<circle cx="96.25" cy="592.50" r="1.15" fill="none" stroke="#111" stroke-width="0.7"/>
<line x1="37.30" y1="536.00" x2="37.30" y2="597.50" stroke="#000" stroke-width="0.7"/>
<line x1="37.30" y1="597.50" x2="101.50" y2="597.50" stroke="#000" stroke-width="0.7"/>
<line x1="35.80" y1="555.10" x2="37.30" y2="555.10" stroke="#000" stroke-width="0.6"/>
<text x="35.40" y="558.30" font-size="8.9" text-anchor="end" fill="#333">100</text>
<line x1="35.80" y1="584.00" x2="37.30" y2="584.00" stroke="#000" stroke-width="0.6"/>
<text x="35.40" y="587.20" font-size="8.9" text-anchor="end" fill="#333">10</text>
<line x1="35.80" y1="597.50" x2="37.30" y2="597.50" stroke="#000" stroke-width="0.6"/>
<text x="35.40" y="600.70" font-size="8.9" text-anchor="end" fill="#333">0</text>
<path d="M43.25 533.60V532.30H74.81V533.60" stroke="#222" stroke-width="0.6" fill="none"/>
<text x="59.03" y="533.50" font-size="10.0" text-anchor="middle" fill="#111">**</text>
<path d="M43.25 543.60V542.30H64.09V543.60" stroke="#222" stroke-width="0.6" fill="none"/>
<text x="53.67" y="543.50" font-size="10.0" text-anchor="middle" fill="#111">****</text>
<text x="24.40" y="522.20" font-size="9.3" font-weight="bold" font-style="italic">OAS1</text>
<text x="47.25" y="605.70" font-size="8.6" text-anchor="end" fill="#111" transform="rotate(-45 47.25 605.70)">WT</text>
<text x="57.97" y="605.70" font-size="8.6" text-anchor="end" fill="#111" transform="rotate(-45 57.97 605.70)">Cas9</text>
<text x="68.69" y="605.70" font-size="8.6" text-anchor="end" fill="#111" transform="rotate(-45 68.69 605.70)">dA11.21</text>
<text x="79.41" y="605.70" font-size="8.6" text-anchor="end" fill="#111" transform="rotate(-45 79.41 605.70)">dA11.23</text>
<text x="90.13" y="605.70" font-size="8.6" text-anchor="end" fill="#111" transform="rotate(-45 90.13 605.70)">dA3/4.21</text>
<text x="100.85" y="605.70" font-size="8.6" text-anchor="end" fill="#111" transform="rotate(-45 100.85 605.70)">dA3/4.41</text>
<text x="9.40" y="406.30" font-size="9.5" text-anchor="middle" fill="#111" transform="rotate(-90 9.40 406.30)">Fold activation by poly(I:C)</text>
<rect x="291.80" y="172.40" width="6.00" height="6.00" fill="#f6ad3c"/>
<rect x="291.80" y="183.60" width="6.00" height="6.00" fill="#5fc4d3"/>
<text x="299.60" y="178.30" font-size="8.7" fill="#111">Control</text>
<text x="299.60" y="189.50" font-size="8.7" fill="#111">Poly(I:C)</text>
<rect x="249.30" y="277.60" width="6.20" height="1.10" fill="#f6ad3c"/>
<rect x="255.50" y="277.40" width="6.20" height="1.30" fill="#5fc4d3"/>
<rect x="267.00" y="271.70" width="6.20" height="7.00" fill="#f6ad3c"/>
<rect x="273.20" y="244.60" width="6.40" height="34.10" fill="#5fc4d3"/>
<line x1="270.10" y1="267.20" x2="270.10" y2="271.70" stroke="#000" stroke-width="0.6"/>
<line x1="269.00" y1="267.20" x2="271.20" y2="267.20" stroke="#000" stroke-width="0.6"/>
<line x1="276.40" y1="230.40" x2="276.40" y2="244.60" stroke="#000" stroke-width="0.6"/>
<line x1="275.20" y1="230.40" x2="277.60" y2="230.40" stroke="#000" stroke-width="0.6"/>
<circle cx="252.20" cy="277.70" r="1.2" fill="#111"/>
<circle cx="258.30" cy="277.70" r="1.2" fill="#111"/>
<circle cx="269.90" cy="267.70" r="1.1" fill="none" stroke="#111" stroke-width="0.6"/>
<circle cx="269.90" cy="273.00" r="1.1" fill="none" stroke="#111" stroke-width="0.6"/>
<circle cx="269.90" cy="275.20" r="1.1" fill="none" stroke="#111" stroke-width="0.6"/>
<circle cx="276.40" cy="217.20" r="1.1" fill="none" stroke="#111" stroke-width="0.6"/>
<circle cx="276.40" cy="252.50" r="1.1" fill="none" stroke="#111" stroke-width="0.6"/>
<circle cx="276.40" cy="263.90" r="1.1" fill="none" stroke="#111" stroke-width="0.6"/>
<line x1="246.00" y1="217.80" x2="246.00" y2="278.70" stroke="#777" stroke-width="0.75"/>
<line x1="246.00" y1="278.70" x2="282.00" y2="278.70" stroke="#777" stroke-width="0.75"/>
<line x1="244.50" y1="278.70" x2="246.00" y2="278.70" stroke="#777" stroke-width="0.6"/>
<text x="244.10" y="281.80" font-size="9.0" text-anchor="end" fill="#333">0</text>
<line x1="244.50" y1="268.10" x2="246.00" y2="268.10" stroke="#777" stroke-width="0.6"/>
<text x="244.10" y="271.20" font-size="9.0" text-anchor="end" fill="#333">10</text>
<line x1="244.50" y1="257.50" x2="246.00" y2="257.50" stroke="#777" stroke-width="0.6"/>
<text x="244.10" y="260.60" font-size="9.0" text-anchor="end" fill="#333">20</text>
<line x1="244.50" y1="246.90" x2="246.00" y2="246.90" stroke="#777" stroke-width="0.6"/>
<text x="244.10" y="250.00" font-size="9.0" text-anchor="end" fill="#333">30</text>
<line x1="244.50" y1="236.30" x2="246.00" y2="236.30" stroke="#777" stroke-width="0.6"/>
<text x="244.10" y="239.40" font-size="9.0" text-anchor="end" fill="#333">40</text>
<line x1="244.50" y1="225.70" x2="246.00" y2="225.70" stroke="#777" stroke-width="0.6"/>
<text x="244.10" y="228.80" font-size="9.0" text-anchor="end" fill="#333">50</text>
<path d="M250.40 272.00V270.70H260.00V272.00" stroke="#222" stroke-width="0.6" fill="none"/>
<text x="255.20" y="269.10" font-size="7.0" text-anchor="middle" fill="#111">ns</text>
<path d="M267.20 213.70V212.40H276.60V213.70" stroke="#222" stroke-width="0.6" fill="none"/>
<text x="271.90" y="213.30" font-size="9.6" text-anchor="middle" fill="#111">*</text>
<text x="235.90" y="209.90" font-size="9.3" font-weight="bold" font-style="italic">IFNB</text>
<text x="258.00" y="285.60" font-size="8.8" text-anchor="end" fill="#111" transform="rotate(-45 258.00 285.60)">Cas9</text>
<text x="276.00" y="285.60" font-size="8.8" text-anchor="end" fill="#111" transform="rotate(-45 276.00 285.60)">dA11.21</text>
<text x="224.60" y="249.00" font-size="9.4" text-anchor="middle" fill="#111" transform="rotate(-90 224.60 249.00)">Expression (fold)</text>
<rect x="307.90" y="277.90" width="6.20" height="0.80" fill="#f6ad3c"/>
<rect x="314.10" y="277.90" width="6.20" height="0.80" fill="#5fc4d3"/>
<rect x="325.70" y="277.90" width="6.20" height="0.80" fill="#f6ad3c"/>
<rect x="331.90" y="238.80" width="6.40" height="39.90" fill="#5fc4d3"/>
<line x1="335.00" y1="225.10" x2="335.00" y2="238.80" stroke="#000" stroke-width="0.6"/>
<line x1="333.80" y1="225.10" x2="336.20" y2="225.10" stroke="#000" stroke-width="0.6"/>
<circle cx="310.80" cy="278.20" r="1.2" fill="#111"/>
<circle cx="317.50" cy="278.20" r="1.2" fill="#111"/>
<circle cx="328.40" cy="278.20" r="1.2" fill="#111"/>
<circle cx="335.00" cy="217.20" r="1.1" fill="none" stroke="#111" stroke-width="0.6"/>
<circle cx="335.00" cy="234.40" r="1.1" fill="none" stroke="#111" stroke-width="0.6"/>
<circle cx="335.00" cy="264.20" r="1.1" fill="none" stroke="#111" stroke-width="0.6"/>
<line x1="304.70" y1="217.80" x2="304.70" y2="278.70" stroke="#777" stroke-width="0.75"/>
<line x1="304.70" y1="278.70" x2="340.60" y2="278.70" stroke="#777" stroke-width="0.75"/>
<line x1="303.20" y1="278.70" x2="304.70" y2="278.70" stroke="#777" stroke-width="0.6"/>
<text x="302.80" y="281.80" font-size="9.0" text-anchor="end" fill="#333">0</text>
<line x1="303.20" y1="261.20" x2="304.70" y2="261.20" stroke="#777" stroke-width="0.6"/>
<text x="302.80" y="264.30" font-size="9.0" text-anchor="end" fill="#333">200</text>
<line x1="303.20" y1="243.70" x2="304.70" y2="243.70" stroke="#777" stroke-width="0.6"/>
<text x="302.80" y="246.80" font-size="9.0" text-anchor="end" fill="#333">400</text>
<line x1="303.20" y1="226.20" x2="304.70" y2="226.20" stroke="#777" stroke-width="0.6"/>
<text x="302.80" y="229.30" font-size="9.0" text-anchor="end" fill="#333">600</text>
<path d="M309.40 272.00V270.70H318.70V272.00" stroke="#222" stroke-width="0.6" fill="none"/>
<text x="314.05" y="269.10" font-size="7.0" text-anchor="middle" fill="#111">ns</text>
<path d="M325.70 213.70V212.40H335.40V213.70" stroke="#222" stroke-width="0.6" fill="none"/>
<text x="330.55" y="213.30" font-size="9.6" text-anchor="middle" fill="#111">**</text>
<text x="296.00" y="209.90" font-size="9.3" font-weight="bold" font-style="italic">IFNL</text>
<text x="316.60" y="285.60" font-size="8.8" text-anchor="end" fill="#111" transform="rotate(-45 316.60 285.60)">Cas9</text>
<text x="334.60" y="285.60" font-size="8.8" text-anchor="end" fill="#111" transform="rotate(-45 334.60 285.60)">dA11.21</text>
<rect x="430.30" y="172.70" width="6.00" height="6.00" fill="#f6ad3c"/>
<rect x="430.30" y="183.90" width="6.00" height="6.00" fill="#5fc4d3"/>
<text x="438.10" y="178.60" font-size="8.7" fill="#111">Control</text>
<text x="438.10" y="189.80" font-size="8.7" fill="#111">Poly(I:C)</text>
<rect x="410.20" y="276.70" width="6.10" height="1.30" fill="#f6ad3c"/>
<rect x="416.30" y="273.20" width="6.30" height="4.80" fill="#5fc4d3"/>
<rect x="429.80" y="276.90" width="6.10" height="1.10" fill="#f6ad3c"/>
<rect x="435.90" y="274.30" width="6.30" height="3.70" fill="#5fc4d3"/>
<rect x="449.70" y="275.10" width="6.10" height="2.90" fill="#f6ad3c"/>
<rect x="455.80" y="214.90" width="6.30" height="63.10" fill="#5fc4d3"/>
<rect x="468.40" y="275.90" width="6.10" height="2.10" fill="#f6ad3c"/>
<rect x="474.50" y="246.70" width="6.30" height="31.30" fill="#5fc4d3"/>
<line x1="459.00" y1="210.90" x2="459.00" y2="214.90" stroke="#000" stroke-width="0.6"/>
<line x1="457.80" y1="210.90" x2="460.20" y2="210.90" stroke="#000" stroke-width="0.6"/>
<line x1="477.70" y1="243.00" x2="477.70" y2="246.70" stroke="#000" stroke-width="0.6"/>
<line x1="476.50" y1="243.00" x2="478.90" y2="243.00" stroke="#000" stroke-width="0.6"/>
<circle cx="412.90" cy="277.50" r="1.2" fill="#111"/>
<circle cx="418.90" cy="272.20" r="1.2" fill="#111"/>
<circle cx="418.90" cy="274.30" r="1.1" fill="none" stroke="#111" stroke-width="0.6"/>
<circle cx="418.90" cy="275.60" r="1.2" fill="#111"/>
<circle cx="432.80" cy="277.60" r="1.2" fill="#111"/>
<circle cx="439.40" cy="274.80" r="1.2" fill="#111"/>
<circle cx="453.10" cy="274.30" r="1.2" fill="#111"/>
<circle cx="453.10" cy="275.90" r="1.2" fill="#111"/>
<circle cx="459.00" cy="208.00" r="1.1" fill="none" stroke="#111" stroke-width="0.6"/>
<circle cx="459.00" cy="215.70" r="1.2" fill="#111"/>
<circle cx="459.00" cy="220.50" r="1.2" fill="#111"/>
<circle cx="471.50" cy="275.90" r="1.2" fill="#111"/>
<circle cx="478.00" cy="240.10" r="1.1" fill="none" stroke="#111" stroke-width="0.6"/>
<circle cx="478.00" cy="246.50" r="1.2" fill="#111"/>
<circle cx="478.00" cy="252.60" r="1.2" fill="#111"/>
<line x1="404.40" y1="197.20" x2="404.40" y2="278.00" stroke="#777" stroke-width="0.75"/>
<line x1="404.40" y1="278.00" x2="484.10" y2="278.00" stroke="#777" stroke-width="0.75"/>
<line x1="402.90" y1="198.06" x2="404.40" y2="198.06" stroke="#777" stroke-width="0.6"/>
<text x="402.40" y="200.96" font-size="8.0" text-anchor="end" fill="#333">6000</text>
<line x1="402.90" y1="212.73" x2="404.40" y2="212.73" stroke="#777" stroke-width="0.6"/>
<text x="402.40" y="215.63" font-size="8.0" text-anchor="end" fill="#333">4000</text>
<line x1="402.90" y1="231.85" x2="404.40" y2="231.85" stroke="#777" stroke-width="0.6"/>
<text x="402.40" y="234.75" font-size="8.0" text-anchor="end" fill="#333">2000</text>
<line x1="402.90" y1="245.37" x2="404.40" y2="245.37" stroke="#777" stroke-width="0.6"/>
<text x="402.40" y="248.27" font-size="8.0" text-anchor="end" fill="#333">1000</text>
<line x1="402.90" y1="252.72" x2="404.40" y2="252.72" stroke="#777" stroke-width="0.6"/>
<text x="402.40" y="254.10" font-size="8.0" text-anchor="end" fill="#333">600</text>
<line x1="402.90" y1="257.36" x2="404.40" y2="257.36" stroke="#777" stroke-width="0.6"/>
<text x="402.40" y="258.90" font-size="8.0" text-anchor="end" fill="#333">400</text>
<line x1="402.90" y1="263.41" x2="404.40" y2="263.41" stroke="#777" stroke-width="0.6"/>
<text x="402.40" y="264.70" font-size="8.0" text-anchor="end" fill="#333">200</text>
<line x1="402.90" y1="267.68" x2="404.40" y2="267.68" stroke="#777" stroke-width="0.6"/>
<text x="402.40" y="270.30" font-size="8.0" text-anchor="end" fill="#333">100</text>
<line x1="402.90" y1="274.74" x2="404.40" y2="274.74" stroke="#777" stroke-width="0.6"/>
<text x="402.40" y="278.10" font-size="8.0" text-anchor="end" fill="#333">10</text>
<path d="M452.30 204.90V203.60H460.60V204.90" stroke="#222" stroke-width="0.6" fill="none"/>
<text x="456.45" y="204.50" font-size="9.6" text-anchor="middle" fill="#111">**</text>
<path d="M471.20 204.90V203.60H478.30V204.90" stroke="#222" stroke-width="0.6" fill="none"/>
<text x="474.75" y="204.50" font-size="9.6" text-anchor="middle" fill="#111">*</text>
<text x="418.70" y="284.60" font-size="8.8" text-anchor="end" fill="#111" transform="rotate(-45 418.70 284.60)">WT</text>
<text x="438.30" y="284.60" font-size="8.8" text-anchor="end" fill="#111" transform="rotate(-45 438.30 284.60)">Cas9</text>
<text x="458.20" y="284.60" font-size="8.8" text-anchor="end" fill="#111" transform="rotate(-45 458.20 284.60)">dA11.21</text>
<text x="476.90" y="284.60" font-size="8.8" text-anchor="end" fill="#111" transform="rotate(-45 476.90 284.60)">dA11.23</text>
<text transform="translate(375.6 238.5) rotate(-90)" font-size="9.4" text-anchor="middle" fill="#111">IFNL1 pg/ml/μg RNA</text>
<rect x="291.50" y="336.40" width="6.00" height="6.00" fill="#f6ad3c"/>
<rect x="291.50" y="347.60" width="6.00" height="6.00" fill="#5fc4d3"/>
<text x="299.30" y="342.30" font-size="8.7" fill="#111">Control</text>
<text x="299.30" y="353.50" font-size="8.7" fill="#111">Poly(I:C)</text>
<rect x="250.90" y="439.50" width="6.00" height="0.80" fill="#f6ad3c"/>
<rect x="256.90" y="439.40" width="6.00" height="0.90" fill="#5fc4d3"/>
<rect x="268.80" y="439.50" width="6.00" height="0.80" fill="#f6ad3c"/>
<rect x="274.80" y="397.00" width="6.80" height="43.30" fill="#5fc4d3"/>
<line x1="278.20" y1="390.90" x2="278.20" y2="397.00" stroke="#000" stroke-width="0.6"/>
<line x1="277.00" y1="390.90" x2="279.40" y2="390.90" stroke="#000" stroke-width="0.6"/>
<circle cx="251.50" cy="439.80" r="1.2" fill="#111"/>
<circle cx="253.00" cy="439.80" r="1.2" fill="#111"/>
<circle cx="254.50" cy="439.80" r="1.2" fill="#111"/>
<circle cx="256.00" cy="439.80" r="1.2" fill="#111"/>
<circle cx="258.00" cy="439.80" r="1.2" fill="#111"/>
<circle cx="259.50" cy="439.80" r="1.2" fill="#111"/>
<circle cx="261.00" cy="439.80" r="1.2" fill="#111"/>
<circle cx="262.50" cy="439.80" r="1.2" fill="#111"/>
<circle cx="269.50" cy="439.80" r="1.2" fill="#111"/>
<circle cx="271.00" cy="439.80" r="1.2" fill="#111"/>
<circle cx="272.50" cy="439.80" r="1.2" fill="#111"/>
<circle cx="278.40" cy="388.30" r="1.1" fill="none" stroke="#111" stroke-width="0.6"/>
<circle cx="277.20" cy="394.40" r="1.1" fill="none" stroke="#111" stroke-width="0.6"/>
<circle cx="278.40" cy="395.60" r="1.2" fill="#111"/>
<circle cx="276.90" cy="398.80" r="1.1" fill="none" stroke="#111" stroke-width="0.6"/>
<circle cx="278.40" cy="402.00" r="1.1" fill="none" stroke="#111" stroke-width="0.6"/>
<circle cx="278.40" cy="405.80" r="1.1" fill="none" stroke="#111" stroke-width="0.6"/>
<line x1="247.40" y1="377.40" x2="247.40" y2="440.30" stroke="#111" stroke-width="0.75"/>
<line x1="247.40" y1="440.30" x2="282.80" y2="440.30" stroke="#111" stroke-width="0.75"/>
<line x1="245.90" y1="377.80" x2="247.40" y2="377.80" stroke="#111" stroke-width="0.6"/>
<text x="245.50" y="380.90" font-size="8.3" text-anchor="end" fill="#333">600</text>
<line x1="245.90" y1="398.80" x2="247.40" y2="398.80" stroke="#111" stroke-width="0.6"/>
<text x="245.50" y="401.90" font-size="8.3" text-anchor="end" fill="#333">400</text>
<line x1="245.90" y1="419.50" x2="247.40" y2="419.50" stroke="#111" stroke-width="0.6"/>
<text x="245.50" y="422.60" font-size="8.3" text-anchor="end" fill="#333">200</text>
<line x1="245.90" y1="440.30" x2="247.40" y2="440.30" stroke="#111" stroke-width="0.6"/>
<text x="245.50" y="443.40" font-size="8.3" text-anchor="end" fill="#333">0</text>
<path d="M254.40 429.00V427.70H260.90V429.00" stroke="#222" stroke-width="0.6" fill="none"/>
<text x="257.65" y="426.10" font-size="7.0" text-anchor="middle" fill="#111">ns</text>
<path d="M272.00 381.70V380.40H279.30V381.70" stroke="#222" stroke-width="0.6" fill="none"/>
<text x="275.65" y="381.30" font-size="9.6" text-anchor="middle" fill="#111">***</text>
<text x="234.60" y="369.90" font-size="8.9" font-weight="bold">IFNL1</text>
<text x="256.90" y="447.30" font-size="8.8" text-anchor="end" fill="#111" transform="rotate(-45 256.90 447.30)">Cas9</text>
<text x="274.60" y="447.30" font-size="8.8" text-anchor="end" fill="#111" transform="rotate(-45 274.60 447.30)">dA11.21</text>
<text x="224.00" y="403.80" font-size="9.4" text-anchor="middle" fill="#111" transform="rotate(-90 224.00 403.80)">IFNL pg/mg protein</text>
<rect x="309.40" y="439.50" width="6.00" height="0.80" fill="#f6ad3c"/>
<rect x="315.40" y="439.00" width="6.00" height="1.30" fill="#5fc4d3"/>
<rect x="326.60" y="439.50" width="6.00" height="0.80" fill="#f6ad3c"/>
<rect x="332.60" y="403.70" width="6.60" height="36.60" fill="#5fc4d3"/>
<line x1="335.90" y1="384.80" x2="335.90" y2="403.70" stroke="#000" stroke-width="0.6"/>
<line x1="334.70" y1="384.80" x2="337.10" y2="384.80" stroke="#000" stroke-width="0.6"/>
<circle cx="310.50" cy="439.80" r="1.2" fill="#111"/>
<circle cx="312.00" cy="439.80" r="1.2" fill="#111"/>
<circle cx="313.50" cy="439.80" r="1.2" fill="#111"/>
<circle cx="315.00" cy="439.80" r="1.2" fill="#111"/>
<circle cx="317.20" cy="438.60" r="1.2" fill="#111"/>
<circle cx="318.60" cy="437.30" r="1.1" fill="none" stroke="#111" stroke-width="0.6"/>
<circle cx="319.60" cy="439.00" r="1.2" fill="#111"/>
<circle cx="327.50" cy="439.80" r="1.2" fill="#111"/>
<circle cx="329.00" cy="439.80" r="1.2" fill="#111"/>
<circle cx="330.50" cy="439.80" r="1.2" fill="#111"/>
<circle cx="335.40" cy="384.80" r="1.1" fill="none" stroke="#111" stroke-width="0.6"/>
<circle cx="335.40" cy="386.70" r="1.1" fill="none" stroke="#111" stroke-width="0.6"/>
<circle cx="334.50" cy="409.30" r="1.1" fill="none" stroke="#111" stroke-width="0.6"/>
<circle cx="337.10" cy="408.40" r="1.2" fill="#111"/>
<circle cx="335.70" cy="411.10" r="1.1" fill="none" stroke="#111" stroke-width="0.6"/>
<circle cx="335.40" cy="420.20" r="1.2" fill="#111"/>
<line x1="306.50" y1="377.40" x2="306.50" y2="440.30" stroke="#111" stroke-width="0.75"/>
<line x1="306.50" y1="440.30" x2="341.50" y2="440.30" stroke="#111" stroke-width="0.75"/>
<line x1="305.00" y1="377.80" x2="306.50" y2="377.80" stroke="#111" stroke-width="0.6"/>
<text x="304.60" y="380.90" font-size="8.6" text-anchor="end" fill="#333">40</text>
<line x1="305.00" y1="393.90" x2="306.50" y2="393.90" stroke="#111" stroke-width="0.6"/>
<text x="304.60" y="397.00" font-size="8.6" text-anchor="end" fill="#333">30</text>
<line x1="305.00" y1="409.30" x2="306.50" y2="409.30" stroke="#111" stroke-width="0.6"/>
<text x="304.60" y="412.40" font-size="8.6" text-anchor="end" fill="#333">20</text>
<line x1="305.00" y1="424.70" x2="306.50" y2="424.70" stroke="#111" stroke-width="0.6"/>
<text x="304.60" y="427.80" font-size="8.6" text-anchor="end" fill="#333">10</text>
<line x1="305.00" y1="440.30" x2="306.50" y2="440.30" stroke="#111" stroke-width="0.6"/>
<text x="304.60" y="443.40" font-size="8.6" text-anchor="end" fill="#333">0</text>
<path d="M311.70 429.00V427.70H319.60V429.00" stroke="#222" stroke-width="0.6" fill="none"/>
<text x="315.65" y="426.10" font-size="7.0" text-anchor="middle" fill="#111">ns</text>
<path d="M329.20 381.70V380.40H337.10V381.70" stroke="#222" stroke-width="0.6" fill="none"/>
<text x="333.15" y="381.30" font-size="9.6" text-anchor="middle" fill="#111">**</text>
<text x="293.00" y="369.90" font-size="8.9" font-weight="bold">IFNL2</text>
<text x="316.00" y="447.30" font-size="8.8" text-anchor="end" fill="#111" transform="rotate(-45 316.00 447.30)">Cas9</text>
<text x="333.80" y="447.30" font-size="8.8" text-anchor="end" fill="#111" transform="rotate(-45 333.80 447.30)">dA11.21</text>
<rect x="430.30" y="339.40" width="6.00" height="6.00" fill="#f6ad3c"/>
<rect x="430.30" y="350.60" width="6.00" height="6.00" fill="#5fc4d3"/>
<text x="438.10" y="345.30" font-size="8.7" fill="#111">Control</text>
<text x="438.10" y="356.50" font-size="8.7" fill="#111">Poly(I:C)</text>
<rect x="404.00" y="440.60" width="6.00" height="1.00" fill="#f6ad3c"/>
<rect x="412.00" y="430.20" width="6.00" height="11.40" fill="#5fc4d3"/>
<rect x="423.40" y="440.00" width="6.00" height="1.60" fill="#f6ad3c"/>
<rect x="431.40" y="381.30" width="6.00" height="60.30" fill="#5fc4d3"/>
<rect x="442.20" y="435.80" width="6.00" height="5.80" fill="#f6ad3c"/>
<rect x="450.10" y="431.50" width="6.00" height="10.10" fill="#5fc4d3"/>
<circle cx="407.00" cy="440.40" r="1.2" fill="#111"/>
<circle cx="415.00" cy="428.80" r="1.2" fill="#111"/>
<circle cx="426.40" cy="440.20" r="1.2" fill="#111"/>
<circle cx="434.40" cy="380.60" r="1.2" fill="#111"/>
<circle cx="445.10" cy="435.20" r="1.2" fill="#111"/>
<circle cx="453.10" cy="431.20" r="1.2" fill="#111"/>
<circle cx="453.10" cy="430.60" r="1.2" fill="#111"/>
<circle cx="415.00" cy="429.60" r="1.2" fill="#111"/>
<line x1="400.60" y1="380.30" x2="400.60" y2="441.60" stroke="#777" stroke-width="0.75"/>
<line x1="400.60" y1="441.60" x2="460.00" y2="441.60" stroke="#777" stroke-width="0.75"/>
<line x1="399.10" y1="441.60" x2="400.60" y2="441.60" stroke="#777" stroke-width="0.6"/>
<text x="398.70" y="444.70" font-size="9.0" text-anchor="end" fill="#333">0</text>
<line x1="399.10" y1="429.97" x2="400.60" y2="429.97" stroke="#777" stroke-width="0.6"/>
<text x="398.70" y="433.07" font-size="9.0" text-anchor="end" fill="#333">10</text>
<line x1="399.10" y1="418.34" x2="400.60" y2="418.34" stroke="#777" stroke-width="0.6"/>
<text x="398.70" y="421.44" font-size="9.0" text-anchor="end" fill="#333">20</text>
<line x1="399.10" y1="406.71" x2="400.60" y2="406.71" stroke="#777" stroke-width="0.6"/>
<text x="398.70" y="409.81" font-size="9.0" text-anchor="end" fill="#333">30</text>
<line x1="399.10" y1="395.08" x2="400.60" y2="395.08" stroke="#777" stroke-width="0.6"/>
<text x="398.70" y="398.18" font-size="9.0" text-anchor="end" fill="#333">40</text>
<line x1="399.10" y1="383.45" x2="400.60" y2="383.45" stroke="#777" stroke-width="0.6"/>
<text x="398.70" y="386.55" font-size="9.0" text-anchor="end" fill="#333">50</text>
<path d="M405.60 420.70V419.40H416.30V420.70" stroke="#222" stroke-width="0.6" fill="none"/>
<text x="410.95" y="420.30" font-size="9.6" text-anchor="middle" fill="#111">***</text>
<path d="M424.90 371.30V370.00H435.00V371.30" stroke="#222" stroke-width="0.6" fill="none"/>
<text x="429.95" y="370.90" font-size="9.6" text-anchor="middle" fill="#111">***</text>
<path d="M443.70 420.70V419.40H454.40V420.70" stroke="#222" stroke-width="0.6" fill="none"/>
<text x="449.05" y="420.30" font-size="9.6" text-anchor="middle" fill="#111">***</text>
<text x="413.30" y="448.00" font-size="8.8" text-anchor="end" fill="#111" transform="rotate(-45 413.30 448.00)">IFNB</text>
<text x="432.70" y="448.00" font-size="8.8" text-anchor="end" fill="#111" transform="rotate(-45 432.70 448.00)">IFNL</text>
<text x="451.40" y="448.00" font-size="8.8" text-anchor="end" fill="#111" transform="rotate(-45 451.40 448.00)">ISRE</text>
<text x="380.00" y="411.00" font-size="9.4" text-anchor="middle" fill="#111" transform="rotate(-90 380.00 411.00)">Luc activity (fold)</text>
<path d="M257.00 576.21 L262.94 575.63 L268.87 575.04 L274.81 574.44 L280.74 573.82 L286.68 573.19 L292.61 572.54 L298.55 571.87 L304.48 571.16 L310.42 570.42 L316.35 569.63 L322.28 568.78 L328.22 567.86 L334.15 566.85 L340.09 565.75 L346.02 564.54 L351.96 563.22 L357.89 561.80 L363.83 560.29 L369.76 558.69 L375.70 557.03 L381.63 555.32 L387.57 553.56 L393.50 551.76 L399.44 549.94 L405.38 548.09 L411.31 546.23 L417.25 544.35 L423.18 542.45 L429.12 540.55 L435.05 538.64 L440.99 536.72 L446.92 534.79 L452.85 532.86 L458.79 530.93 L464.73 528.99 L470.66 527.04 L476.59 525.10 L482.53 523.15 L488.46 521.19 L494.40 519.24 L494.40 557.61 L488.46 558.15 L482.53 558.68 L476.59 559.22 L470.66 559.77 L464.73 560.31 L458.79 560.86 L452.85 561.41 L446.92 561.97 L440.99 562.53 L435.05 563.10 L429.12 563.68 L423.18 564.27 L417.25 564.86 L411.31 565.47 L405.38 566.10 L399.44 566.74 L393.50 567.40 L387.57 568.10 L381.63 568.83 L375.70 569.60 L369.76 570.43 L363.83 571.32 L357.89 572.30 L351.96 573.37 L346.02 574.54 L340.09 575.82 L334.15 577.21 L328.22 578.69 L322.28 580.26 L316.35 581.90 L310.42 583.59 L304.48 585.34 L298.55 587.12 L292.61 588.94 L286.68 590.78 L280.74 592.64 L274.81 594.51 L268.87 596.40 L262.94 598.30 L257.00 600.21 Z" fill="#c8c8c8" fill-opacity="0.85"/>
<line x1="334.50" y1="511.50" x2="341.10" y2="537.10" stroke="#333" stroke-width="0.55"/>
<line x1="361.00" y1="512.50" x2="365.00" y2="529.20" stroke="#333" stroke-width="0.55"/>
<line x1="372.00" y1="516.50" x2="365.60" y2="537.10" stroke="#333" stroke-width="0.55"/>
<line x1="376.00" y1="523.80" x2="367.00" y2="544.70" stroke="#333" stroke-width="0.55"/>
<line x1="378.00" y1="534.00" x2="371.20" y2="542.70" stroke="#333" stroke-width="0.55"/>
<line x1="318.50" y1="532.00" x2="338.00" y2="540.20" stroke="#333" stroke-width="0.55"/>
<line x1="312.00" y1="537.00" x2="334.30" y2="543.70" stroke="#333" stroke-width="0.55"/>
<line x1="322.00" y1="559.00" x2="336.00" y2="561.30" stroke="#333" stroke-width="0.55"/>
<line x1="405.00" y1="551.50" x2="391.70" y2="556.50" stroke="#333" stroke-width="0.55"/>
<line x1="379.00" y1="552.50" x2="375.70" y2="555.10" stroke="#333" stroke-width="0.55"/>
<line x1="391.00" y1="561.50" x2="383.60" y2="556.80" stroke="#333" stroke-width="0.55"/>
<line x1="373.00" y1="546.00" x2="368.70" y2="549.30" stroke="#333" stroke-width="0.55"/>
<line x1="373.00" y1="540.00" x2="371.70" y2="542.60" stroke="#333" stroke-width="0.55"/>
<line x1="363.00" y1="545.00" x2="363.30" y2="548.90" stroke="#333" stroke-width="0.55"/>
<line x1="349.00" y1="562.00" x2="353.00" y2="558.20" stroke="#333" stroke-width="0.55"/>
<g fill="#ee1c1c"><circle cx="298.2" cy="525.5" r="1.6"/><circle cx="319.4" cy="524.6" r="1.6"/><circle cx="331.8" cy="533.8" r="1.6"/><circle cx="338.0" cy="540.2" r="1.6"/><circle cx="341.1" cy="537.1" r="1.6"/><circle cx="334.3" cy="543.7" r="1.6"/><circle cx="309.6" cy="543.1" r="1.6"/><circle cx="318.3" cy="546.4" r="1.6"/><circle cx="350.5" cy="539.1" r="1.6"/><circle cx="365.0" cy="529.2" r="1.6"/><circle cx="365.6" cy="537.1" r="1.6"/><circle cx="363.9" cy="541.6" r="1.6"/><circle cx="367.0" cy="544.7" r="1.6"/><circle cx="371.2" cy="542.7" r="1.6"/><circle cx="363.3" cy="548.9" r="1.6"/><circle cx="368.7" cy="549.3" r="1.6"/><circle cx="398.5" cy="538.1" r="1.6"/><circle cx="375.7" cy="555.1" r="1.6"/><circle cx="383.6" cy="556.8" r="1.6"/><circle cx="391.9" cy="557.2" r="1.6"/><circle cx="354.2" cy="552.6" r="1.6"/><circle cx="343.2" cy="554.1" r="1.6"/><circle cx="323.5" cy="555.5" r="1.6"/><circle cx="334.9" cy="557.6" r="1.6"/><circle cx="336.0" cy="561.3" r="1.6"/><circle cx="340.1" cy="561.3" r="1.6"/><circle cx="353.0" cy="558.2" r="1.6"/><circle cx="363.3" cy="557.2" r="1.6"/><circle cx="345.9" cy="563.4" r="1.6"/><circle cx="320.4" cy="564.4" r="1.6"/><circle cx="326.6" cy="566.1" r="1.6"/><circle cx="342.2" cy="566.5" r="1.6"/><circle cx="374.3" cy="567.1" r="1.6"/><circle cx="374.3" cy="572.7" r="1.6"/><circle cx="346.3" cy="573.3" r="1.6"/><circle cx="329.7" cy="574.2" r="1.6"/><circle cx="332.8" cy="573.8" r="1.6"/><circle cx="335.0" cy="574.8" r="1.6"/><circle cx="337.0" cy="573.8" r="1.6"/><circle cx="324.6" cy="577.9" r="1.6"/><circle cx="330.8" cy="576.9" r="1.6"/><circle cx="331.8" cy="580.0" r="1.6"/><circle cx="334.9" cy="578.9" r="1.6"/><circle cx="338.0" cy="580.0" r="1.6"/><circle cx="351.5" cy="574.8" r="1.6"/><circle cx="354.6" cy="576.2" r="1.6"/><circle cx="357.7" cy="578.9" r="1.6"/><circle cx="361.2" cy="576.2" r="1.6"/><circle cx="365.0" cy="582.0" r="1.6"/><circle cx="367.0" cy="580.0" r="1.6"/><circle cx="345.9" cy="580.4" r="1.6"/><circle cx="330.8" cy="582.5" r="1.6"/><circle cx="337.0" cy="584.1" r="1.6"/><circle cx="342.6" cy="584.1" r="1.6"/><circle cx="326.0" cy="584.5" r="1.6"/><circle cx="318.8" cy="584.1" r="1.6"/><circle cx="304.9" cy="581.6" r="1.6"/><circle cx="300.3" cy="579.6" r="1.6"/><circle cx="293.5" cy="585.2" r="1.6"/><circle cx="389.8" cy="585.6" r="1.6"/><circle cx="314.2" cy="599.7" r="1.6"/><circle cx="319.0" cy="603.2" r="1.6"/><circle cx="323.5" cy="606.3" r="1.6"/><circle cx="327.3" cy="610.6" r="1.6"/><circle cx="331.4" cy="619.8" r="1.6"/><circle cx="328.7" cy="598.6" r="1.6"/><circle cx="329.7" cy="600.3" r="1.6"/><circle cx="338.4" cy="602.4" r="1.6"/><circle cx="363.3" cy="612.5" r="1.6"/><circle cx="377.0" cy="601.7" r="1.6"/><circle cx="381.6" cy="599.0" r="1.6"/><circle cx="489.9" cy="512.4" r="1.6"/><circle cx="447.3" cy="524.7" r="1.6"/><circle cx="493.6" cy="555.0" r="1.6"/><circle cx="434.4" cy="546.0" r="1.6"/><circle cx="405.6" cy="564.2" r="1.6"/><circle cx="404.7" cy="587.4" r="1.6"/><circle cx="400.4" cy="542.6" r="1.6"/><circle cx="397.9" cy="538.0" r="1.6"/><circle cx="256.8" cy="580.9" r="1.6"/><circle cx="364.6" cy="529.7" r="1.6"/><circle cx="365.5" cy="537.4" r="1.6"/><circle cx="371.7" cy="542.6" r="1.6"/><circle cx="363.3" cy="548.8" r="1.6"/><circle cx="376.3" cy="555.0" r="1.6"/><circle cx="384.0" cy="556.5" r="1.6"/><circle cx="374.1" cy="572.0" r="1.6"/><circle cx="354.1" cy="552.5" r="1.6"/><circle cx="350.1" cy="539.5" r="1.6"/><circle cx="340.8" cy="537.1" r="1.6"/><circle cx="327.0" cy="568.0" r="1.6"/><circle cx="333.0" cy="569.0" r="1.6"/><circle cx="339.0" cy="570.0" r="1.6"/><circle cx="344.0" cy="577.0" r="1.6"/><circle cx="348.0" cy="578.0" r="1.6"/><circle cx="356.0" cy="581.0" r="1.6"/><circle cx="360.0" cy="583.0" r="1.6"/><circle cx="333.0" cy="587.0" r="1.6"/><circle cx="340.0" cy="588.0" r="1.6"/><circle cx="322.0" cy="580.0" r="1.6"/><circle cx="344.0" cy="571.0" r="1.6"/><circle cx="316.0" cy="590.0" r="1.6"/></g>
<line x1="257.00" y1="588.21" x2="494.40" y2="538.43" stroke="#3366ff" stroke-width="2.3"/>
<text x="326.20" y="511.20" font-size="6.9" fill="#222">IFIH1</text>
<text x="288.90" y="523.00" font-size="6.9" fill="#222">MX2</text>
<text x="308.60" y="521.90" font-size="6.9" fill="#222">NLRC5</text>
<text x="351.50" y="512.40" font-size="6.9" fill="#222">IFIT3</text>
<text x="367.50" y="516.00" font-size="6.9" fill="#222">CXCL10</text>
<text x="372.80" y="523.40" font-size="6.9" fill="#222">IFIT2</text>
<text x="300.40" y="532.20" font-size="6.9" fill="#222">IFI44L</text>
<text x="321.90" y="530.40" font-size="6.9" fill="#222">IFIT1</text>
<text x="372.80" y="533.80" font-size="6.9" fill="#222">OASL</text>
<text x="290.00" y="538.40" font-size="6.9" fill="#222">PARP9</text>
<text x="343.80" y="536.40" font-size="6.9" fill="#222">RTP4</text>
<text x="373.90" y="542.60" font-size="6.9" fill="#222">DHX58</text>
<text x="291.80" y="545.70" font-size="6.9" fill="#222">IFIT5</text>
<text x="342.20" y="547.60" font-size="6.9" fill="#222">IFITM1</text>
<text x="373.90" y="548.40" font-size="6.9" fill="#222">TRIM22</text>
<text x="301.60" y="551.90" font-size="6.9" fill="#222">IFI27</text>
<text x="322.50" y="551.90" font-size="6.9" fill="#222">DTX3L</text>
<text x="377.40" y="554.50" font-size="6.9" fill="#222">ISG15</text>
<text x="309.80" y="561.60" font-size="6.9" fill="#222">MX1</text>
<text x="347.40" y="564.50" font-size="6.9" fill="#222">TLR3</text>
<text x="371.20" y="564.20" font-size="6.9" fill="#222">ISG20</text>
<text x="377.40" y="569.90" font-size="6.9" fill="#222">CD40</text>
<text x="316.90" y="573.20" font-size="6.9" fill="#222">IFI6</text>
<text x="247.50" y="576.20" font-size="6.9" fill="#222">TRIM34</text>
<text x="268.30" y="591.00" font-size="6.9" fill="#222">IFNLR1</text>
<text x="324.60" y="594.80" font-size="6.9" fill="#222">ZMYND11</text>
<text x="331.40" y="600.20" font-size="6.9" fill="#222">DDX21</text>
<text x="340.50" y="606.40" font-size="6.9" fill="#222">F2RL1</text>
<text x="288.00" y="600.60" font-size="6.9" fill="#222">CARD9</text>
<text x="287.90" y="606.40" font-size="6.9" fill="#222">POLR3G</text>
<text x="307.00" y="612.00" font-size="6.9" fill="#222">CGAS</text>
<text x="304.90" y="618.80" font-size="6.9" fill="#222">CD207</text>
<text x="307.00" y="624.40" font-size="6.9" fill="#222">AGBL4</text>
<text x="366.60" y="616.80" font-size="6.9" fill="#222">NLRP3</text>
<text x="385.00" y="603.60" font-size="6.9" fill="#222">ITGAX</text>
<text x="376.30" y="610.40" font-size="6.9" fill="#222">ADARB1</text>
<text x="481.30" y="510.20" font-size="6.9" fill="#222">OAS2</text>
<text x="450.40" y="527.40" font-size="6.9" fill="#222">OAS1</text>
<text x="485.30" y="564.20" font-size="6.9" fill="#222">BST2</text>
<text x="437.40" y="544.20" font-size="6.9" fill="#222">APOBEC3G</text>
<text x="408.70" y="566.70" font-size="6.9" fill="#222">GBP1</text>
<text x="408.70" y="591.30" font-size="6.9" fill="#222">UNC13D</text>
<text x="392.70" y="582.80" font-size="6.9" fill="#222">DMBT1</text>
<text x="405.60" y="553.40" font-size="6.9" fill="#222">DDX60</text>
<text x="403.50" y="543.20" font-size="6.9" fill="#222">RSAD2</text>
<text x="400.40" y="536.40" font-size="6.9" fill="#222">OAS3</text>
<line x1="246.30" y1="507.00" x2="246.30" y2="625.70" stroke="#000" stroke-width="0.75"/>
<line x1="246.30" y1="625.70" x2="507.50" y2="625.70" stroke="#000" stroke-width="0.75"/>
<line x1="243.70" y1="532.20" x2="246.30" y2="532.20" stroke="#000" stroke-width="0.6"/>
<text x="241.90" y="535.50" font-size="9.2" text-anchor="end" fill="#333">10</text>
<line x1="243.70" y1="561.80" x2="246.30" y2="561.80" stroke="#000" stroke-width="0.6"/>
<text x="241.90" y="565.10" font-size="9.2" text-anchor="end" fill="#333">5</text>
<line x1="243.70" y1="591.40" x2="246.30" y2="591.40" stroke="#000" stroke-width="0.6"/>
<text x="241.90" y="594.70" font-size="9.2" text-anchor="end" fill="#333">0</text>
<line x1="243.70" y1="621.00" x2="246.30" y2="621.00" stroke="#000" stroke-width="0.6"/>
<text x="241.90" y="624.30" font-size="9.2" text-anchor="end" fill="#333">−5</text>
<line x1="259.60" y1="625.70" x2="259.60" y2="628.30" stroke="#000" stroke-width="0.6"/>
<text x="259.60" y="636.20" font-size="9.2" text-anchor="middle" fill="#333">−2.5</text>
<line x1="336.80" y1="625.70" x2="336.80" y2="628.30" stroke="#000" stroke-width="0.6"/>
<text x="336.80" y="636.20" font-size="9.2" text-anchor="middle" fill="#333">0.0</text>
<line x1="414.00" y1="625.70" x2="414.00" y2="628.30" stroke="#000" stroke-width="0.6"/>
<text x="414.00" y="636.20" font-size="9.2" text-anchor="middle" fill="#333">2.5</text>
<line x1="491.20" y1="625.70" x2="491.20" y2="628.30" stroke="#000" stroke-width="0.6"/>
<text x="491.20" y="636.20" font-size="9.2" text-anchor="middle" fill="#333">5.0</text>
<text x="441.00" y="619.60" font-size="7.3" font-style="italic" fill="#333">R = 0.34, ρ=0.001</text>
<text x="376.00" y="648.50" font-size="9.5" text-anchor="middle" fill="#111">Log2 FC in U2OS−WT vs U2OS−C19</text>
<text x="215.40" y="570.00" font-size="9.5" text-anchor="middle" fill="#111" transform="rotate(-90 215.40 570.00)">Log2 FC in BeWo−dA11</text>
<text x="226.30" y="570.50" font-size="9.5" text-anchor="middle" fill="#111" transform="rotate(-90 226.30 570.50)">vs BeWo−Cas9</text>
<text x="0.00" y="8.00" font-size="10.5" font-weight="bold">a</text>
<text x="478.60" y="8.00" font-size="10.5" font-weight="bold">b</text>
<text x="133.00" y="8.00" font-size="10.5" font-weight="bold">c</text>
<text x="0.00" y="172.60" font-size="10.5" font-weight="bold">d</text>
<text x="212.00" y="171.00" font-size="10.5" font-weight="bold">e</text>
<text x="362.20" y="171.00" font-size="10.5" font-weight="bold">f</text>
<text x="211.40" y="341.00" font-size="10.5" font-weight="bold">g</text>
<text x="364.00" y="341.00" font-size="10.5" font-weight="bold">h</text>
<text x="204.20" y="510.20" font-size="10.5" font-weight="bold">i</text>
</svg></body></html>
